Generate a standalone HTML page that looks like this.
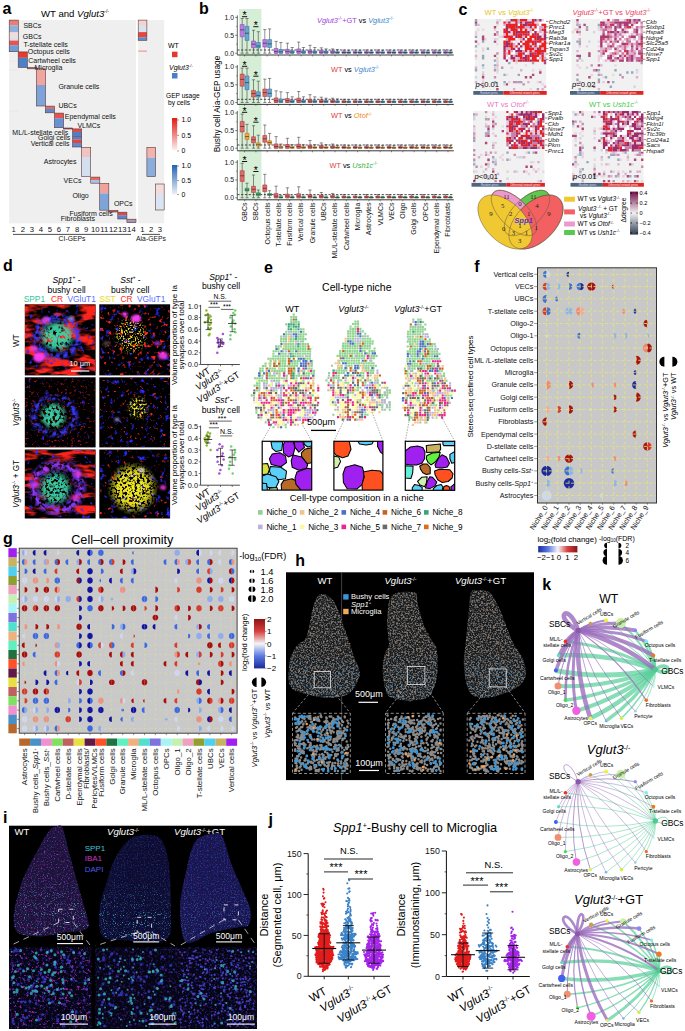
<!DOCTYPE html>
<html><head><meta charset="utf-8"><title>Figure</title>
<style>html,body{margin:0;padding:0;background:#fff;width:685px;height:1031px;overflow:hidden;font-family:"Liberation Sans",sans-serif}svg{display:block}</style>
</head><body>
<svg width="685" height="1031" viewBox="0 0 685 1031" font-family="Liberation Sans, sans-serif"><text x="2.5" y="14.2" font-size="16" font-weight="bold">a</text><text x="41" y="16.6" font-size="9.6">WT and <tspan font-style="italic">Vglut3</tspan><tspan dy="-3.5" font-size="5">-/-</tspan><tspan dy="3.5" font-size="1">&#8203;</tspan></text><rect x="9.2" y="20.1" width="126.7" height="203.3" fill="#efefef" /><rect x="138.2" y="20.1" width="26" height="203.3" fill="#efefef" /><rect x="9.2" y="40" width="9.1" height="3" fill="#f3e6e6" opacity="0.8"/><rect x="9.2" y="47" width="9.1" height="2" fill="#f3e4e4" opacity="0.8"/><rect x="9.2" y="60" width="9.1" height="2" fill="#f2e8e8" opacity="0.8"/><rect x="9.2" y="69" width="9.1" height="2" fill="#f2e6e6" opacity="0.8"/><rect x="9.2" y="110" width="9.1" height="2" fill="#f1e6e6" opacity="0.8"/><rect x="9.2" y="20.1" width="9.1" height="5.3" fill="#ec7d76" /><rect x="9.2" y="25.4" width="9.1" height="7" fill="#8fb0db" /><rect x="9.2" y="32.4" width="9.1" height="5.3" fill="#f1dcdc" /><rect x="9.2" y="37.7" width="9.1" height="2.9" fill="#d5dff0" /><rect x="9.2" y="40.6" width="9.1" height="4.6" fill="#e8534a" /><rect x="9.2" y="45.2" width="9.1" height="6.5" fill="#6f9bd6" /><rect x="18.2" y="51.9" width="9.1" height="5.9" fill="#e8392f" /><rect x="18.2" y="57.8" width="9.1" height="9.6" fill="#4b80c8" /><rect x="27.3" y="67.6" width="9.1" height="1.2" fill="#c06070" /><rect x="36.4" y="68.8" width="9.1" height="16.2" fill="#f0a5a0" /><rect x="36.4" y="85" width="9.1" height="21" fill="#7ea3d9" /><rect x="45.4" y="106.1" width="9.1" height="2.9" fill="#e86a64" /><rect x="45.4" y="109" width="9.1" height="3.8" fill="#5a8bcf" /><rect x="54.5" y="113.1" width="9.1" height="5.1" fill="#e8544c" /><rect x="54.5" y="118.2" width="9.1" height="9.5" fill="#6592d2" /><rect x="63.5" y="128" width="9.1" height="1" fill="#c04050" /><rect x="72.6" y="128.9" width="9.1" height="3.1" fill="#e24a44" /><rect x="72.6" y="132" width="9.1" height="4.3" fill="#4f7fc6" /><rect x="72.6" y="136.3" width="9.1" height="1.3" fill="#2a3a80" /><rect x="72.6" y="137.6" width="9.1" height="1.8" fill="#4f7fc6" /><rect x="72.6" y="139.4" width="9.1" height="3.6" fill="#e2443e" /><rect x="72.6" y="143" width="9.1" height="4" fill="#5c8bcf" /><rect x="81.6" y="147.4" width="9.1" height="9.6" fill="#f1c4c2" /><rect x="81.6" y="157" width="9.1" height="19.6" fill="#d3deef" /><rect x="90.7" y="177.1" width="9.1" height="2.9" fill="#e8675f" /><rect x="90.7" y="180" width="9.1" height="3.2" fill="#a9c2e6" /><rect x="99.7" y="183.5" width="9.1" height="9.9" fill="#f0a29d" /><rect x="99.7" y="193.4" width="9.1" height="16.8" fill="#7fa4da" /><rect x="108.8" y="210.5" width="9.1" height="1.5" fill="#d05060" /><rect x="117.8" y="212.2" width="9.1" height="3" fill="#e6453e" /><rect x="117.8" y="215.2" width="9.1" height="3.8" fill="#5885cc" /><rect x="126.9" y="219.2" width="9.1" height="1.6" fill="#e8736c" /><rect x="126.9" y="220.8" width="9.1" height="1.8" fill="#7a9ed6" /><rect x="9.2" y="20.1" width="9.1" height="31.6" fill="none" stroke="#5a3a3a" stroke-width="0.6"/><rect x="18.2" y="51.9" width="9.1" height="15.5" fill="none" stroke="#5a3a3a" stroke-width="0.6"/><rect x="27.3" y="67.6" width="9.1" height="1.2" fill="none" stroke="#5a3a3a" stroke-width="0.6"/><rect x="36.4" y="68.8" width="9.1" height="37.2" fill="none" stroke="#5a3a3a" stroke-width="0.6"/><rect x="45.4" y="106.1" width="9.1" height="6.7" fill="none" stroke="#5a3a3a" stroke-width="0.6"/><rect x="54.5" y="113.1" width="9.1" height="14.6" fill="none" stroke="#5a3a3a" stroke-width="0.6"/><rect x="63.5" y="128" width="9.1" height="1" fill="none" stroke="#5a3a3a" stroke-width="0.6"/><rect x="72.6" y="128.9" width="9.1" height="18.1" fill="none" stroke="#5a3a3a" stroke-width="0.6"/><rect x="81.6" y="147.4" width="9.1" height="29.2" fill="none" stroke="#5a3a3a" stroke-width="0.6"/><rect x="90.7" y="177.1" width="9.1" height="6.1" fill="none" stroke="#5a3a3a" stroke-width="0.6"/><rect x="99.7" y="183.5" width="9.1" height="26.7" fill="none" stroke="#5a3a3a" stroke-width="0.6"/><rect x="108.8" y="210.5" width="9.1" height="1.5" fill="none" stroke="#5a3a3a" stroke-width="0.6"/><rect x="117.8" y="212.2" width="9.1" height="6.8" fill="none" stroke="#5a3a3a" stroke-width="0.6"/><rect x="126.9" y="219.2" width="9.1" height="3.4" fill="none" stroke="#5a3a3a" stroke-width="0.6"/><rect x="138.2" y="20.1" width="8.7" height="5.6" fill="#f3d3d0" /><rect x="138.2" y="25.7" width="8.7" height="6.4" fill="#d9e2f1" /><rect x="138.2" y="32.1" width="8.7" height="5.3" fill="#e8453d" /><rect x="138.2" y="37.4" width="8.7" height="2.9" fill="#5a8acf" /><rect x="138.2" y="50.6" width="8.7" height="1" fill="#e88a86" /><rect x="146.9" y="147.4" width="8.7" height="10.3" fill="#f2b3ae" /><rect x="146.9" y="157.7" width="8.7" height="18.9" fill="#8aaddc" /><rect x="155.5" y="184" width="8.7" height="10" fill="#f3dcdb" /><rect x="155.5" y="194" width="8.7" height="16" fill="#dbe4f2" /><rect x="138.2" y="20.1" width="8.67" height="20.2" fill="none" stroke="#5a3a3a" stroke-width="0.6"/><rect x="146.9" y="147.4" width="8.67" height="29.2" fill="none" stroke="#5a3a3a" stroke-width="0.6"/><rect x="155.5" y="184" width="8.67" height="26" fill="none" stroke="#5a3a3a" stroke-width="0.6"/><text x="23.4" y="28.2" font-size="7" fill="#111">SBCs</text><text x="22.8" y="38.7" font-size="7" fill="#111">GBCs</text><text x="23.4" y="47.2" font-size="7" fill="#111">T-stellate cells</text><text x="27.7" y="53.9" font-size="7" fill="#111">Octopus cells</text><text x="28.3" y="62.9" font-size="7" fill="#111">Cartwheel cells</text><text x="34.5" y="70.2" font-size="7" fill="#111">Microglia</text><text x="58.4" y="88.6" font-size="7" fill="#111">Granule cells</text><text x="58.4" y="107.6" font-size="7" fill="#111">UBCs</text><text x="64.8" y="118.7" font-size="7" fill="#111">Ependymal cells</text><text x="77.4" y="128" font-size="7" fill="#111">VLMCs</text><text x="12.3" y="134.5" font-size="7" fill="#111">ML/L-stellate cells</text><text x="38" y="139.7" font-size="7" fill="#111">Golgi cells</text><text x="30.7" y="145.5" font-size="7" fill="#111">Vertical cells</text><text x="43.8" y="163.7" font-size="7" fill="#111">Astrocytes</text><text x="63.6" y="182.9" font-size="7" fill="#111">VECs</text><text x="72.4" y="197.5" font-size="7" fill="#111">Oligo</text><text x="113.9" y="206.3" font-size="7" fill="#111">OPCs</text><text x="69.5" y="215.6" font-size="7" fill="#111">Fusiform cells</text><text x="60.7" y="220.9" font-size="7" fill="#111">Fibroblasts</text><text x="168" y="48" font-size="7">WT</text><rect x="172" y="51.7" width="5.5" height="5.5" fill="#e2382f" /><text x="169" y="69.5" font-size="7"><tspan font-style="italic">Vglut3</tspan><tspan dy="-2.5" font-size="4.2">-/-</tspan><tspan dy="2.5" font-size="1">&#8203;</tspan></text><rect x="172" y="73" width="5.5" height="5.5" fill="#4a7fc8" /><text x="166" y="97.5" font-size="6.6">GEP usage</text><text x="168" y="105" font-size="6.6">by cells</text><defs><linearGradient id="gr" x1="0" y1="1" x2="0" y2="0"><stop offset="0" stop-color="#fbeeee"/><stop offset="1" stop-color="#e01c12"/></linearGradient><linearGradient id="gb" x1="0" y1="1" x2="0" y2="0"><stop offset="0" stop-color="#eef2f8"/><stop offset="1" stop-color="#2262b0"/></linearGradient></defs><rect x="172" y="118" width="5.2" height="32" fill="url(#gr)" /><rect x="172" y="165" width="5.2" height="29.5" fill="url(#gb)" /><text x="181.5" y="122.3" font-size="6.9">1.0</text><line x1="177.2" y1="120" x2="179" y2="120" stroke="#333" stroke-width="0.5" /><text x="181.5" y="137.7" font-size="6.9">0.5</text><line x1="177.2" y1="135.4" x2="179" y2="135.4" stroke="#333" stroke-width="0.5" /><text x="181.5" y="153.3" font-size="6.9">0</text><line x1="177.2" y1="151" x2="179" y2="151" stroke="#333" stroke-width="0.5" /><text x="181.5" y="168.3" font-size="6.9">1.0</text><line x1="177.2" y1="166" x2="179" y2="166" stroke="#333" stroke-width="0.5" /><text x="181.5" y="182.8" font-size="6.9">0.5</text><line x1="177.2" y1="180.5" x2="179" y2="180.5" stroke="#333" stroke-width="0.5" /><text x="181.5" y="196.8" font-size="6.9">0</text><line x1="177.2" y1="194.5" x2="179" y2="194.5" stroke="#333" stroke-width="0.5" /><text x="13.7" y="232.2" font-size="7.7" text-anchor="middle" fill="#111">1</text><text x="22.8" y="232.2" font-size="7.7" text-anchor="middle" fill="#111">2</text><text x="31.8" y="232.2" font-size="7.7" text-anchor="middle" fill="#111">3</text><text x="40.9" y="232.2" font-size="7.7" text-anchor="middle" fill="#111">4</text><text x="49.9" y="232.2" font-size="7.7" text-anchor="middle" fill="#111">5</text><text x="59" y="232.2" font-size="7.7" text-anchor="middle" fill="#111">6</text><text x="68" y="232.2" font-size="7.7" text-anchor="middle" fill="#111">7</text><text x="77.1" y="232.2" font-size="7.7" text-anchor="middle" fill="#111">8</text><text x="86.1" y="232.2" font-size="7.7" text-anchor="middle" fill="#111">9</text><text x="95.2" y="232.2" font-size="7.7" text-anchor="middle" fill="#111">10</text><text x="104.2" y="232.2" font-size="7.7" text-anchor="middle" fill="#111">11</text><text x="113.3" y="232.2" font-size="7.7" text-anchor="middle" fill="#111">12</text><text x="122.3" y="232.2" font-size="7.7" text-anchor="middle" fill="#111">13</text><text x="131.4" y="232.2" font-size="7.7" text-anchor="middle" fill="#111">14</text><text x="142.5" y="232.2" font-size="7.7" text-anchor="middle" fill="#111">1</text><text x="151.2" y="232.2" font-size="7.7" text-anchor="middle" fill="#111">2</text><text x="159.8" y="232.2" font-size="7.7" text-anchor="middle" fill="#111">3</text><line x1="13" y1="234.4" x2="131" y2="234.4" stroke="#222" stroke-width="0.8" /><line x1="142" y1="234.4" x2="160" y2="234.4" stroke="#222" stroke-width="0.8" /><text x="72" y="240.5" font-size="6.8" text-anchor="middle" fill="#111">CI-GEPs</text><text x="151" y="240.5" font-size="6.8" text-anchor="middle" fill="#111">Aia-GEPs</text><text x="199" y="14.2" font-size="16" font-weight="bold">b</text><rect x="239" y="9" width="22.4" height="190.5" fill="#d6eed6" /><line x1="237.3" y1="15.4" x2="237.3" y2="55" stroke="#222" stroke-width="0.7" /><line x1="237.3" y1="55" x2="453.8" y2="55" stroke="#222" stroke-width="0.9" /><line x1="235.3" y1="17.4" x2="237.3" y2="17.4" stroke="#222" stroke-width="0.6" /><text x="234" y="19.8" font-size="6.8" text-anchor="end" fill="#111">1.0</text><line x1="235.3" y1="35.3" x2="237.3" y2="35.3" stroke="#222" stroke-width="0.6" /><text x="234" y="37.7" font-size="6.8" text-anchor="end" fill="#111">0.5</text><line x1="235.3" y1="53.2" x2="237.3" y2="53.2" stroke="#222" stroke-width="0.6" /><text x="234" y="55.6" font-size="6.8" text-anchor="end" fill="#111">0.0</text><line x1="236.2" y1="44.2" x2="237.3" y2="44.2" stroke="#222" stroke-width="0.5" /><line x1="236.2" y1="26.4" x2="237.3" y2="26.4" stroke="#222" stroke-width="0.5" /><line x1="244.6" y1="55" x2="244.6" y2="56.5" stroke="#222" stroke-width="0.5" /><line x1="255.9" y1="55" x2="255.9" y2="56.5" stroke="#222" stroke-width="0.5" /><line x1="267.2" y1="55" x2="267.2" y2="56.5" stroke="#222" stroke-width="0.5" /><line x1="278.5" y1="55" x2="278.5" y2="56.5" stroke="#222" stroke-width="0.5" /><line x1="289.8" y1="55" x2="289.8" y2="56.5" stroke="#222" stroke-width="0.5" /><line x1="301.1" y1="55" x2="301.1" y2="56.5" stroke="#222" stroke-width="0.5" /><line x1="312.4" y1="55" x2="312.4" y2="56.5" stroke="#222" stroke-width="0.5" /><line x1="323.7" y1="55" x2="323.7" y2="56.5" stroke="#222" stroke-width="0.5" /><line x1="335" y1="55" x2="335" y2="56.5" stroke="#222" stroke-width="0.5" /><line x1="346.3" y1="55" x2="346.3" y2="56.5" stroke="#222" stroke-width="0.5" /><line x1="357.6" y1="55" x2="357.6" y2="56.5" stroke="#222" stroke-width="0.5" /><line x1="368.9" y1="55" x2="368.9" y2="56.5" stroke="#222" stroke-width="0.5" /><line x1="380.2" y1="55" x2="380.2" y2="56.5" stroke="#222" stroke-width="0.5" /><line x1="391.5" y1="55" x2="391.5" y2="56.5" stroke="#222" stroke-width="0.5" /><line x1="402.8" y1="55" x2="402.8" y2="56.5" stroke="#222" stroke-width="0.5" /><line x1="414.1" y1="55" x2="414.1" y2="56.5" stroke="#222" stroke-width="0.5" /><line x1="425.4" y1="55" x2="425.4" y2="56.5" stroke="#222" stroke-width="0.5" /><line x1="436.7" y1="55" x2="436.7" y2="56.5" stroke="#222" stroke-width="0.5" /><line x1="448" y1="55" x2="448" y2="56.5" stroke="#222" stroke-width="0.5" /><line x1="237.3" y1="50" x2="453.8" y2="50" stroke="#111" stroke-width="0.75" stroke-dasharray="2.2,1.6"/><path stroke="#333" stroke-width="0.55" fill="none" d="M242.2 18.5V53.2m-1.6 0h3.2M240.6 18.5h3.2M247 18.5V53.2m-1.6 0h3.2M245.4 18.5h3.2M253.5 30.3V53.2m-1.6 0h3.2M251.9 30.3h3.2M258.3 31.7V53.2m-1.6 0h3.2M256.7 31.7h3.2M264.8 29.6V53.2m-1.6 0h3.2M263.2 29.6h3.2M269.6 28.9V53.2m-1.6 0h3.2M268 28.9h3.2M276.1 41.4V53.2m-1.6 0h3.2M274.5 41.4h3.2M280.9 42.5V53.2m-1.6 0h3.2M279.3 42.5h3.2M287.4 43.2V53.2m-1.6 0h3.2M285.8 43.2h3.2M292.2 47.5V53.2m-1.6 0h3.2M290.6 47.5h3.2M298.7 42.1V53.2m-1.6 0h3.2M297.1 42.1h3.2M303.5 47.5V53.2m-1.6 0h3.2M301.9 47.5h3.2M310 45.3V53.2m-1.6 0h3.2M308.4 45.3h3.2M314.8 47.5V53.2m-1.6 0h3.2M313.2 47.5h3.2M321.3 47.8V53.2m-1.6 0h3.2M319.7 47.8h3.2M326.1 48.9V53.2m-1.6 0h3.2M324.5 48.9h3.2M332.6 48.9V53.2m-1.6 0h3.2M331 48.9h3.2M337.4 49.6V53.2m-1.6 0h3.2M335.8 49.6h3.2M343.9 50V53.2m-1.6 0h3.2M342.3 50h3.2M348.7 50.3V53.2m-1.6 0h3.2M347.1 50.3h3.2M355.2 50V53.2m-1.6 0h3.2M353.6 50h3.2M360 50.3V53.2m-1.6 0h3.2M358.4 50.3h3.2M366.5 50V53.2m-1.6 0h3.2M364.9 50h3.2M371.3 50.3V53.2m-1.6 0h3.2M369.7 50.3h3.2M377.8 50V53.2m-1.6 0h3.2M376.2 50h3.2M382.6 50.3V53.2m-1.6 0h3.2M381 50.3h3.2M389.1 50V53.2m-1.6 0h3.2M387.5 50h3.2M393.9 50.3V53.2m-1.6 0h3.2M392.3 50.3h3.2M400.4 50V53.2m-1.6 0h3.2M398.8 50h3.2M405.2 50.3V53.2m-1.6 0h3.2M403.6 50.3h3.2M411.7 50V53.2m-1.6 0h3.2M410.1 50h3.2M416.5 50.3V53.2m-1.6 0h3.2M414.9 50.3h3.2M423 50V53.2m-1.6 0h3.2M421.4 50h3.2M427.8 50.3V53.2m-1.6 0h3.2M426.2 50.3h3.2M434.3 50V53.2m-1.6 0h3.2M432.7 50h3.2M439.1 50.3V53.2m-1.6 0h3.2M437.5 50.3h3.2M445.6 50V53.2m-1.6 0h3.2M444 50h3.2M450.4 50.3V53.2m-1.6 0h3.2M448.8 50.3h3.2"/><path fill="#b77fe0" stroke="#7a3fa8" stroke-width="0.5" d="M240.2 24.6h4v12.2h-4zM251.5 41h4v6.8h-4zM262.8 39.6h4v7.5h-4zM274.1 48.5h4v4.7h-4zM285.4 49.3h4v3.9h-4zM296.7 48.9h4v4.3h-4zM308 50h4v3.2h-4zM319.3 50.3h4v2.9h-4zM330.6 50.7h4v2.5h-4zM341.9 51.4h4v1.8h-4zM353.2 51.4h4v1.8h-4zM364.5 51.4h4v1.8h-4zM375.8 51.4h4v1.8h-4zM387.1 51.4h4v1.8h-4zM398.4 51.4h4v1.8h-4zM409.7 51.4h4v1.8h-4zM421 51.4h4v1.8h-4zM432.3 51.4h4v1.8h-4zM443.6 51.4h4v1.8h-4z"/><path fill="#6aa6d2" stroke="#2f6d9a" stroke-width="0.5" d="M245 26.4h4v14h-4zM256.3 42.5h4v5.4h-4zM267.6 39.6h4v7.9h-4zM278.9 49.6h4v3.6h-4zM290.2 50.7h4v2.5h-4zM301.5 50.7h4v2.5h-4zM312.8 51.1h4v2.1h-4zM324.1 51.1h4v2.1h-4zM335.4 51.4h4v1.8h-4zM346.7 51.8h4v1.4h-4zM358 51.8h4v1.4h-4zM369.3 51.8h4v1.4h-4zM380.6 51.8h4v1.4h-4zM391.9 51.8h4v1.4h-4zM403.2 51.8h4v1.4h-4zM414.5 51.8h4v1.4h-4zM425.8 51.8h4v1.4h-4zM437.1 51.8h4v1.4h-4zM448.4 51.8h4v1.4h-4z"/><path stroke="#222" stroke-width="0.6" fill="none" d="M240.2 29.9h4M245 33.2h4M251.5 44.2h4M256.3 46h4M262.8 43.2h4M267.6 43.9h4M274.1 51.4h4M278.9 51.8h4M285.4 51.4h4M290.2 52.1h4M296.7 51.4h4M301.5 52.1h4M308 51.8h4M312.8 52.1h4M319.3 52.1h4M324.1 52.1h4M330.6 52.1h4M335.4 52.5h4M341.9 52.5h4M346.7 52.5h4M353.2 52.5h4M358 52.5h4M364.5 52.5h4M369.3 52.5h4M375.8 52.5h4M380.6 52.5h4M387.1 52.5h4M391.9 52.5h4M398.4 52.5h4M403.2 52.5h4M409.7 52.5h4M414.5 52.5h4M421 52.5h4M425.8 52.5h4M432.3 52.5h4M437.1 52.5h4M443.6 52.5h4M448.4 52.5h4"/><line x1="242" y1="16.7" x2="247.2" y2="16.7" stroke="#111" stroke-width="1.0" /><text x="244.6" y="19.3" font-size="10.5" text-anchor="middle">*</text><line x1="253.3" y1="26.7" x2="258.5" y2="26.7" stroke="#111" stroke-width="1.0" /><text x="255.9" y="29.3" font-size="10.5" text-anchor="middle">*</text><line x1="237.3" y1="65" x2="237.3" y2="104.4" stroke="#222" stroke-width="0.7" /><line x1="237.3" y1="104.4" x2="453.8" y2="104.4" stroke="#222" stroke-width="0.9" /><line x1="235.3" y1="67" x2="237.3" y2="67" stroke="#222" stroke-width="0.6" /><text x="234" y="69.4" font-size="6.8" text-anchor="end" fill="#111">1.0</text><line x1="235.3" y1="84.8" x2="237.3" y2="84.8" stroke="#222" stroke-width="0.6" /><text x="234" y="87.2" font-size="6.8" text-anchor="end" fill="#111">0.5</text><line x1="235.3" y1="102.5" x2="237.3" y2="102.5" stroke="#222" stroke-width="0.6" /><text x="234" y="104.9" font-size="6.8" text-anchor="end" fill="#111">0.0</text><line x1="236.2" y1="93.6" x2="237.3" y2="93.6" stroke="#222" stroke-width="0.5" /><line x1="236.2" y1="75.9" x2="237.3" y2="75.9" stroke="#222" stroke-width="0.5" /><line x1="244.6" y1="104.4" x2="244.6" y2="105.9" stroke="#222" stroke-width="0.5" /><line x1="255.9" y1="104.4" x2="255.9" y2="105.9" stroke="#222" stroke-width="0.5" /><line x1="267.2" y1="104.4" x2="267.2" y2="105.9" stroke="#222" stroke-width="0.5" /><line x1="278.5" y1="104.4" x2="278.5" y2="105.9" stroke="#222" stroke-width="0.5" /><line x1="289.8" y1="104.4" x2="289.8" y2="105.9" stroke="#222" stroke-width="0.5" /><line x1="301.1" y1="104.4" x2="301.1" y2="105.9" stroke="#222" stroke-width="0.5" /><line x1="312.4" y1="104.4" x2="312.4" y2="105.9" stroke="#222" stroke-width="0.5" /><line x1="323.7" y1="104.4" x2="323.7" y2="105.9" stroke="#222" stroke-width="0.5" /><line x1="335" y1="104.4" x2="335" y2="105.9" stroke="#222" stroke-width="0.5" /><line x1="346.3" y1="104.4" x2="346.3" y2="105.9" stroke="#222" stroke-width="0.5" /><line x1="357.6" y1="104.4" x2="357.6" y2="105.9" stroke="#222" stroke-width="0.5" /><line x1="368.9" y1="104.4" x2="368.9" y2="105.9" stroke="#222" stroke-width="0.5" /><line x1="380.2" y1="104.4" x2="380.2" y2="105.9" stroke="#222" stroke-width="0.5" /><line x1="391.5" y1="104.4" x2="391.5" y2="105.9" stroke="#222" stroke-width="0.5" /><line x1="402.8" y1="104.4" x2="402.8" y2="105.9" stroke="#222" stroke-width="0.5" /><line x1="414.1" y1="104.4" x2="414.1" y2="105.9" stroke="#222" stroke-width="0.5" /><line x1="425.4" y1="104.4" x2="425.4" y2="105.9" stroke="#222" stroke-width="0.5" /><line x1="436.7" y1="104.4" x2="436.7" y2="105.9" stroke="#222" stroke-width="0.5" /><line x1="448" y1="104.4" x2="448" y2="105.9" stroke="#222" stroke-width="0.5" /><line x1="237.3" y1="99.3" x2="453.8" y2="99.3" stroke="#111" stroke-width="0.75" stroke-dasharray="2.2,1.6"/><path stroke="#333" stroke-width="0.55" fill="none" d="M242.2 68.1V102.5m-1.6 0h3.2M240.6 68.1h3.2M247 68.1V102.5m-1.6 0h3.2M245.4 68.1h3.2M253.5 79.8V102.5m-1.6 0h3.2M251.9 79.8h3.2M258.3 81.2V102.5m-1.6 0h3.2M256.7 81.2h3.2M264.8 79.1V102.5m-1.6 0h3.2M263.2 79.1h3.2M269.6 78.4V102.5m-1.6 0h3.2M268 78.4h3.2M276.1 90.8V102.5m-1.6 0h3.2M274.5 90.8h3.2M280.9 91.8V102.5m-1.6 0h3.2M279.3 91.8h3.2M287.4 92.6V102.5m-1.6 0h3.2M285.8 92.6h3.2M292.2 96.8V102.5m-1.6 0h3.2M290.6 96.8h3.2M298.7 91.5V102.5m-1.6 0h3.2M297.1 91.5h3.2M303.5 96.8V102.5m-1.6 0h3.2M301.9 96.8h3.2M310 94.7V102.5m-1.6 0h3.2M308.4 94.7h3.2M314.8 96.8V102.5m-1.6 0h3.2M313.2 96.8h3.2M321.3 97.2V102.5m-1.6 0h3.2M319.7 97.2h3.2M326.1 98.2V102.5m-1.6 0h3.2M324.5 98.2h3.2M332.6 98.2V102.5m-1.6 0h3.2M331 98.2h3.2M337.4 99V102.5m-1.6 0h3.2M335.8 99h3.2M343.9 99.3V102.5m-1.6 0h3.2M342.3 99.3h3.2M348.7 99.7V102.5m-1.6 0h3.2M347.1 99.7h3.2M355.2 99.3V102.5m-1.6 0h3.2M353.6 99.3h3.2M360 99.7V102.5m-1.6 0h3.2M358.4 99.7h3.2M366.5 99.3V102.5m-1.6 0h3.2M364.9 99.3h3.2M371.3 99.7V102.5m-1.6 0h3.2M369.7 99.7h3.2M377.8 99.3V102.5m-1.6 0h3.2M376.2 99.3h3.2M382.6 99.7V102.5m-1.6 0h3.2M381 99.7h3.2M389.1 99.3V102.5m-1.6 0h3.2M387.5 99.3h3.2M393.9 99.7V102.5m-1.6 0h3.2M392.3 99.7h3.2M400.4 99.3V102.5m-1.6 0h3.2M398.8 99.3h3.2M405.2 99.7V102.5m-1.6 0h3.2M403.6 99.7h3.2M411.7 99.3V102.5m-1.6 0h3.2M410.1 99.3h3.2M416.5 99.7V102.5m-1.6 0h3.2M414.9 99.7h3.2M423 99.3V102.5m-1.6 0h3.2M421.4 99.3h3.2M427.8 99.7V102.5m-1.6 0h3.2M426.2 99.7h3.2M434.3 99.3V102.5m-1.6 0h3.2M432.7 99.3h3.2M439.1 99.7V102.5m-1.6 0h3.2M437.5 99.7h3.2M445.6 99.3V102.5m-1.6 0h3.2M444 99.3h3.2M450.4 99.7V102.5m-1.6 0h3.2M448.8 99.7h3.2"/><path fill="#e06a6a" stroke="#a03030" stroke-width="0.5" d="M240.2 74.1h4v12.1h-4zM251.5 90.4h4v6.7h-4zM262.8 89h4v7.5h-4zM274.1 97.9h4v4.6h-4zM285.4 98.6h4v3.9h-4zM296.7 98.2h4v4.3h-4zM308 99.3h4v3.2h-4zM319.3 99.7h4v2.8h-4zM330.6 100h4v2.5h-4zM341.9 100.7h4v1.8h-4zM353.2 100.7h4v1.8h-4zM364.5 100.7h4v1.8h-4zM375.8 100.7h4v1.8h-4zM387.1 100.7h4v1.8h-4zM398.4 100.7h4v1.8h-4zM409.7 100.7h4v1.8h-4zM421 100.7h4v1.8h-4zM432.3 100.7h4v1.8h-4zM443.6 100.7h4v1.8h-4z"/><path fill="#6aa6d2" stroke="#2f6d9a" stroke-width="0.5" d="M245 75.9h4v13.8h-4zM256.3 91.8h4v5.3h-4zM267.6 89h4v7.8h-4zM278.9 99h4v3.5h-4zM290.2 100h4v2.5h-4zM301.5 100h4v2.5h-4zM312.8 100.4h4v2.1h-4zM324.1 100.4h4v2.1h-4zM335.4 100.7h4v1.8h-4zM346.7 101.1h4v1.4h-4zM358 101.1h4v1.4h-4zM369.3 101.1h4v1.4h-4zM380.6 101.1h4v1.4h-4zM391.9 101.1h4v1.4h-4zM403.2 101.1h4v1.4h-4zM414.5 101.1h4v1.4h-4zM425.8 101.1h4v1.4h-4zM437.1 101.1h4v1.4h-4zM448.4 101.1h4v1.4h-4z"/><path stroke="#222" stroke-width="0.6" fill="none" d="M240.2 79.4h4M245 82.6h4M251.5 93.6h4M256.3 95.4h4M262.8 92.6h4M267.6 93.3h4M274.1 100.7h4M278.9 101.1h4M285.4 100.7h4M290.2 101.4h4M296.7 100.7h4M301.5 101.4h4M308 101.1h4M312.8 101.4h4M319.3 101.4h4M324.1 101.4h4M330.6 101.4h4M335.4 101.8h4M341.9 101.8h4M346.7 101.8h4M353.2 101.8h4M358 101.8h4M364.5 101.8h4M369.3 101.8h4M375.8 101.8h4M380.6 101.8h4M387.1 101.8h4M391.9 101.8h4M398.4 101.8h4M403.2 101.8h4M409.7 101.8h4M414.5 101.8h4M421 101.8h4M425.8 101.8h4M432.3 101.8h4M437.1 101.8h4M443.6 101.8h4M448.4 101.8h4"/><line x1="242" y1="66.3" x2="247.2" y2="66.3" stroke="#111" stroke-width="1.0" /><text x="244.6" y="68.9" font-size="10.5" text-anchor="middle">*</text><line x1="253.3" y1="76.2" x2="258.5" y2="76.2" stroke="#111" stroke-width="1.0" /><text x="255.9" y="78.8" font-size="10.5" text-anchor="middle">*</text><line x1="237.3" y1="111" x2="237.3" y2="150.8" stroke="#222" stroke-width="0.7" /><line x1="237.3" y1="150.8" x2="453.8" y2="150.8" stroke="#222" stroke-width="0.9" /><line x1="235.3" y1="113" x2="237.3" y2="113" stroke="#222" stroke-width="0.6" /><text x="234" y="115.4" font-size="6.8" text-anchor="end" fill="#111">1.0</text><line x1="235.3" y1="130.6" x2="237.3" y2="130.6" stroke="#222" stroke-width="0.6" /><text x="234" y="133" font-size="6.8" text-anchor="end" fill="#111">0.5</text><line x1="235.3" y1="148.2" x2="237.3" y2="148.2" stroke="#222" stroke-width="0.6" /><text x="234" y="150.6" font-size="6.8" text-anchor="end" fill="#111">0.0</text><line x1="236.2" y1="139.4" x2="237.3" y2="139.4" stroke="#222" stroke-width="0.5" /><line x1="236.2" y1="121.8" x2="237.3" y2="121.8" stroke="#222" stroke-width="0.5" /><line x1="244.6" y1="150.8" x2="244.6" y2="152.3" stroke="#222" stroke-width="0.5" /><line x1="255.9" y1="150.8" x2="255.9" y2="152.3" stroke="#222" stroke-width="0.5" /><line x1="267.2" y1="150.8" x2="267.2" y2="152.3" stroke="#222" stroke-width="0.5" /><line x1="278.5" y1="150.8" x2="278.5" y2="152.3" stroke="#222" stroke-width="0.5" /><line x1="289.8" y1="150.8" x2="289.8" y2="152.3" stroke="#222" stroke-width="0.5" /><line x1="301.1" y1="150.8" x2="301.1" y2="152.3" stroke="#222" stroke-width="0.5" /><line x1="312.4" y1="150.8" x2="312.4" y2="152.3" stroke="#222" stroke-width="0.5" /><line x1="323.7" y1="150.8" x2="323.7" y2="152.3" stroke="#222" stroke-width="0.5" /><line x1="335" y1="150.8" x2="335" y2="152.3" stroke="#222" stroke-width="0.5" /><line x1="346.3" y1="150.8" x2="346.3" y2="152.3" stroke="#222" stroke-width="0.5" /><line x1="357.6" y1="150.8" x2="357.6" y2="152.3" stroke="#222" stroke-width="0.5" /><line x1="368.9" y1="150.8" x2="368.9" y2="152.3" stroke="#222" stroke-width="0.5" /><line x1="380.2" y1="150.8" x2="380.2" y2="152.3" stroke="#222" stroke-width="0.5" /><line x1="391.5" y1="150.8" x2="391.5" y2="152.3" stroke="#222" stroke-width="0.5" /><line x1="402.8" y1="150.8" x2="402.8" y2="152.3" stroke="#222" stroke-width="0.5" /><line x1="414.1" y1="150.8" x2="414.1" y2="152.3" stroke="#222" stroke-width="0.5" /><line x1="425.4" y1="150.8" x2="425.4" y2="152.3" stroke="#222" stroke-width="0.5" /><line x1="436.7" y1="150.8" x2="436.7" y2="152.3" stroke="#222" stroke-width="0.5" /><line x1="448" y1="150.8" x2="448" y2="152.3" stroke="#222" stroke-width="0.5" /><line x1="237.3" y1="145" x2="453.8" y2="145" stroke="#111" stroke-width="0.75" stroke-dasharray="2.2,1.6"/><path stroke="#333" stroke-width="0.55" fill="none" d="M242.2 114.1V148.2m-1.6 0h3.2M240.6 114.1h3.2M247 124.3V148.2m-1.6 0h3.2M245.4 124.3h3.2M253.5 125.7V148.2m-1.6 0h3.2M251.9 125.7h3.2M258.3 135.2V148.2m-1.6 0h3.2M256.7 135.2h3.2M264.8 125V148.2m-1.6 0h3.2M263.2 125h3.2M269.6 133.4V148.2m-1.6 0h3.2M268 133.4h3.2M276.1 136.6V148.2m-1.6 0h3.2M274.5 136.6h3.2M280.9 144V148.2m-1.6 0h3.2M279.3 144h3.2M287.4 138.3V148.2m-1.6 0h3.2M285.8 138.3h3.2M292.2 144.7V148.2m-1.6 0h3.2M290.6 144.7h3.2M298.7 137.3V148.2m-1.6 0h3.2M297.1 137.3h3.2M303.5 144.7V148.2m-1.6 0h3.2M301.9 144.7h3.2M310 140.5V148.2m-1.6 0h3.2M308.4 140.5h3.2M314.8 144.7V148.2m-1.6 0h3.2M313.2 144.7h3.2M321.3 142.9V148.2m-1.6 0h3.2M319.7 142.9h3.2M326.1 144.7V148.2m-1.6 0h3.2M324.5 144.7h3.2M332.6 144V148.2m-1.6 0h3.2M331 144h3.2M337.4 145.4V148.2m-1.6 0h3.2M335.8 145.4h3.2M343.9 145V148.2m-1.6 0h3.2M342.3 145h3.2M348.7 145.7V148.2m-1.6 0h3.2M347.1 145.7h3.2M355.2 145V148.2m-1.6 0h3.2M353.6 145h3.2M360 145.7V148.2m-1.6 0h3.2M358.4 145.7h3.2M366.5 145V148.2m-1.6 0h3.2M364.9 145h3.2M371.3 145.7V148.2m-1.6 0h3.2M369.7 145.7h3.2M377.8 145V148.2m-1.6 0h3.2M376.2 145h3.2M382.6 145.7V148.2m-1.6 0h3.2M381 145.7h3.2M389.1 145V148.2m-1.6 0h3.2M387.5 145h3.2M393.9 145.7V148.2m-1.6 0h3.2M392.3 145.7h3.2M400.4 145V148.2m-1.6 0h3.2M398.8 145h3.2M405.2 145.7V148.2m-1.6 0h3.2M403.6 145.7h3.2M411.7 145V148.2m-1.6 0h3.2M410.1 145h3.2M416.5 145.7V148.2m-1.6 0h3.2M414.9 145.7h3.2M423 145V148.2m-1.6 0h3.2M421.4 145h3.2M427.8 145.7V148.2m-1.6 0h3.2M426.2 145.7h3.2M434.3 145V148.2m-1.6 0h3.2M432.7 145h3.2M439.1 145.7V148.2m-1.6 0h3.2M437.5 145.7h3.2M445.6 145V148.2m-1.6 0h3.2M444 145h3.2M450.4 145.7V148.2m-1.6 0h3.2M448.8 145.7h3.2"/><path fill="#e06a6a" stroke="#a03030" stroke-width="0.5" d="M240.2 121.4h4v10.6h-4zM251.5 136.8h4v6.1h-4zM262.8 135.5h4v6.7h-4zM274.1 143.9h4v4.3h-4zM285.4 144.5h4v3.7h-4zM296.7 144.2h4v4h-4zM308 145.2h4v3h-4zM319.3 145.5h4v2.7h-4zM330.6 145.9h4v2.3h-4zM341.9 146.5h4v1.7h-4zM353.2 146.5h4v1.7h-4zM364.5 146.5h4v1.7h-4zM375.8 146.5h4v1.7h-4zM387.1 146.5h4v1.7h-4zM398.4 146.5h4v1.7h-4zM409.7 146.5h4v1.7h-4zM421 146.5h4v1.7h-4zM432.3 146.5h4v1.7h-4zM443.6 146.5h4v1.7h-4z"/><path fill="#f0a848" stroke="#b06a10" stroke-width="0.5" d="M245 133.4h4v6h-4zM256.3 142.9h4v3.2h-4zM267.6 140.8h4v3.5h-4zM278.9 146.4h4v1.8h-4zM290.2 146.4h4v1.8h-4zM301.5 146.4h4v1.8h-4zM312.8 146.8h4v1.4h-4zM324.1 146.8h4v1.4h-4zM335.4 146.8h4v1.4h-4zM346.7 147.1h4v1.1h-4zM358 147.1h4v1.1h-4zM369.3 147.1h4v1.1h-4zM380.6 147.1h4v1.1h-4zM391.9 147.1h4v1.1h-4zM403.2 147.1h4v1.1h-4zM414.5 147.1h4v1.1h-4zM425.8 147.1h4v1.1h-4zM437.1 147.1h4v1.1h-4zM448.4 147.1h4v1.1h-4z"/><path stroke="#222" stroke-width="0.6" fill="none" d="M240.2 126.5h4M245 136.6h4M251.5 139.8h4M256.3 144.7h4M262.8 138.8h4M267.6 142.6h4M274.1 146.5h4M278.9 147.1h4M285.4 146.5h4M290.2 147.5h4M296.7 146.5h4M301.5 147.5h4M308 146.9h4M312.8 147.5h4M319.3 147.2h4M324.1 147.5h4M330.6 147.2h4M335.4 147.5h4M341.9 147.5h4M346.7 147.8h4M353.2 147.5h4M358 147.8h4M364.5 147.5h4M369.3 147.8h4M375.8 147.5h4M380.6 147.8h4M387.1 147.5h4M391.9 147.8h4M398.4 147.5h4M403.2 147.8h4M409.7 147.5h4M414.5 147.8h4M421 147.5h4M425.8 147.8h4M432.3 147.5h4M437.1 147.8h4M443.6 147.5h4M448.4 147.8h4"/><line x1="242" y1="112.3" x2="247.2" y2="112.3" stroke="#111" stroke-width="1.0" /><text x="244.6" y="114.9" font-size="10.5" text-anchor="middle">*</text><line x1="253.3" y1="122.2" x2="258.5" y2="122.2" stroke="#111" stroke-width="1.0" /><text x="255.9" y="124.8" font-size="10.5" text-anchor="middle">*</text><line x1="237.3" y1="160.2" x2="237.3" y2="199.8" stroke="#222" stroke-width="0.7" /><line x1="237.3" y1="199.8" x2="453.8" y2="199.8" stroke="#222" stroke-width="0.9" /><line x1="235.3" y1="162.2" x2="237.3" y2="162.2" stroke="#222" stroke-width="0.6" /><text x="234" y="164.6" font-size="6.8" text-anchor="end" fill="#111">1.0</text><line x1="235.3" y1="180" x2="237.3" y2="180" stroke="#222" stroke-width="0.6" /><text x="234" y="182.4" font-size="6.8" text-anchor="end" fill="#111">0.5</text><line x1="235.3" y1="197.8" x2="237.3" y2="197.8" stroke="#222" stroke-width="0.6" /><text x="234" y="200.2" font-size="6.8" text-anchor="end" fill="#111">0.0</text><line x1="236.2" y1="188.9" x2="237.3" y2="188.9" stroke="#222" stroke-width="0.5" /><line x1="236.2" y1="171.1" x2="237.3" y2="171.1" stroke="#222" stroke-width="0.5" /><line x1="244.6" y1="199.8" x2="244.6" y2="201.3" stroke="#222" stroke-width="0.5" /><line x1="255.9" y1="199.8" x2="255.9" y2="201.3" stroke="#222" stroke-width="0.5" /><line x1="267.2" y1="199.8" x2="267.2" y2="201.3" stroke="#222" stroke-width="0.5" /><line x1="278.5" y1="199.8" x2="278.5" y2="201.3" stroke="#222" stroke-width="0.5" /><line x1="289.8" y1="199.8" x2="289.8" y2="201.3" stroke="#222" stroke-width="0.5" /><line x1="301.1" y1="199.8" x2="301.1" y2="201.3" stroke="#222" stroke-width="0.5" /><line x1="312.4" y1="199.8" x2="312.4" y2="201.3" stroke="#222" stroke-width="0.5" /><line x1="323.7" y1="199.8" x2="323.7" y2="201.3" stroke="#222" stroke-width="0.5" /><line x1="335" y1="199.8" x2="335" y2="201.3" stroke="#222" stroke-width="0.5" /><line x1="346.3" y1="199.8" x2="346.3" y2="201.3" stroke="#222" stroke-width="0.5" /><line x1="357.6" y1="199.8" x2="357.6" y2="201.3" stroke="#222" stroke-width="0.5" /><line x1="368.9" y1="199.8" x2="368.9" y2="201.3" stroke="#222" stroke-width="0.5" /><line x1="380.2" y1="199.8" x2="380.2" y2="201.3" stroke="#222" stroke-width="0.5" /><line x1="391.5" y1="199.8" x2="391.5" y2="201.3" stroke="#222" stroke-width="0.5" /><line x1="402.8" y1="199.8" x2="402.8" y2="201.3" stroke="#222" stroke-width="0.5" /><line x1="414.1" y1="199.8" x2="414.1" y2="201.3" stroke="#222" stroke-width="0.5" /><line x1="425.4" y1="199.8" x2="425.4" y2="201.3" stroke="#222" stroke-width="0.5" /><line x1="436.7" y1="199.8" x2="436.7" y2="201.3" stroke="#222" stroke-width="0.5" /><line x1="448" y1="199.8" x2="448" y2="201.3" stroke="#222" stroke-width="0.5" /><line x1="237.3" y1="194.6" x2="453.8" y2="194.6" stroke="#111" stroke-width="0.75" stroke-dasharray="2.2,1.6"/><path stroke="#333" stroke-width="0.55" fill="none" d="M242.2 163.3V197.8m-1.6 0h3.2M240.6 163.3h3.2M247 183.2V197.8m-1.6 0h3.2M245.4 183.2h3.2M253.5 175V197.8m-1.6 0h3.2M251.9 175h3.2M258.3 190V197.8m-1.6 0h3.2M256.7 190h3.2M264.8 174.3V197.8m-1.6 0h3.2M263.2 174.3h3.2M269.6 190.7V197.8m-1.6 0h3.2M268 190.7h3.2M276.1 186.1V197.8m-1.6 0h3.2M274.5 186.1h3.2M280.9 195.7V197.8m-1.6 0h3.2M279.3 195.7h3.2M287.4 187.8V197.8m-1.6 0h3.2M285.8 187.8h3.2M292.2 196V197.8m-1.6 0h3.2M290.6 196h3.2M298.7 186.8V197.8m-1.6 0h3.2M297.1 186.8h3.2M303.5 196V197.8m-1.6 0h3.2M301.9 196h3.2M310 190V197.8m-1.6 0h3.2M308.4 190h3.2M314.8 196V197.8m-1.6 0h3.2M313.2 196h3.2M321.3 192.5V197.8m-1.6 0h3.2M319.7 192.5h3.2M326.1 196V197.8m-1.6 0h3.2M324.5 196h3.2M332.6 193.5V197.8m-1.6 0h3.2M331 193.5h3.2M337.4 196V197.8m-1.6 0h3.2M335.8 196h3.2M343.9 194.6V197.8m-1.6 0h3.2M342.3 194.6h3.2M348.7 196.4V197.8m-1.6 0h3.2M347.1 196.4h3.2M355.2 194.6V197.8m-1.6 0h3.2M353.6 194.6h3.2M360 196.4V197.8m-1.6 0h3.2M358.4 196.4h3.2M366.5 194.6V197.8m-1.6 0h3.2M364.9 194.6h3.2M371.3 196.4V197.8m-1.6 0h3.2M369.7 196.4h3.2M377.8 194.6V197.8m-1.6 0h3.2M376.2 194.6h3.2M382.6 196.4V197.8m-1.6 0h3.2M381 196.4h3.2M389.1 194.6V197.8m-1.6 0h3.2M387.5 194.6h3.2M393.9 196.4V197.8m-1.6 0h3.2M392.3 196.4h3.2M400.4 194.6V197.8m-1.6 0h3.2M398.8 194.6h3.2M405.2 196.4V197.8m-1.6 0h3.2M403.6 196.4h3.2M411.7 194.6V197.8m-1.6 0h3.2M410.1 194.6h3.2M416.5 196.4V197.8m-1.6 0h3.2M414.9 196.4h3.2M423 194.6V197.8m-1.6 0h3.2M421.4 194.6h3.2M427.8 196.4V197.8m-1.6 0h3.2M426.2 196.4h3.2M434.3 194.6V197.8m-1.6 0h3.2M432.7 194.6h3.2M439.1 196.4V197.8m-1.6 0h3.2M437.5 196.4h3.2M445.6 194.6V197.8m-1.6 0h3.2M444 194.6h3.2M450.4 196.4V197.8m-1.6 0h3.2M448.8 196.4h3.2"/><path fill="#e06a6a" stroke="#a03030" stroke-width="0.5" d="M240.2 170.7h4v10.7h-4zM251.5 186.3h4v6.2h-4zM262.8 184.9h4v6.8h-4zM274.1 193.4h4v4.4h-4zM285.4 194.1h4v3.7h-4zM296.7 193.7h4v4.1h-4zM308 194.8h4v3h-4zM319.3 195.1h4v2.7h-4zM330.6 195.4h4v2.4h-4zM341.9 196.1h4v1.7h-4zM353.2 196.1h4v1.7h-4zM364.5 196.1h4v1.7h-4zM375.8 196.1h4v1.7h-4zM387.1 196.1h4v1.7h-4zM398.4 196.1h4v1.7h-4zM409.7 196.1h4v1.7h-4zM421 196.1h4v1.7h-4zM432.3 196.1h4v1.7h-4zM443.6 196.1h4v1.7h-4z"/><path fill="#4fb878" stroke="#217a45" stroke-width="0.5" d="M245 188.2h4v2.8h-4zM256.3 192.8h4v2.8h-4zM267.6 193.5h4v2.1h-4zM278.9 196.7h4v1.1h-4zM290.2 196.7h4v1.1h-4zM301.5 196.7h4v1.1h-4zM312.8 197.1h4v0.8h-4zM324.1 197.1h4v0.8h-4zM335.4 197.1h4v0.8h-4zM346.7 197.1h4v0.8h-4zM358 197.1h4v0.8h-4zM369.3 197.1h4v0.8h-4zM380.6 197.1h4v0.8h-4zM391.9 197.1h4v0.8h-4zM403.2 197.1h4v0.8h-4zM414.5 197.1h4v0.8h-4zM425.8 197.1h4v0.8h-4zM437.1 197.1h4v0.8h-4zM448.4 197.1h4v0.8h-4z"/><path stroke="#222" stroke-width="0.6" fill="none" d="M240.2 175.8h4M245 190h4M251.5 189.3h4M256.3 194.2h4M262.8 188.3h4M267.6 194.6h4M274.1 196.1h4M278.9 197.4h4M285.4 196.1h4M290.2 197.4h4M296.7 196.1h4M301.5 197.4h4M308 196.4h4M312.8 197.4h4M319.3 196.8h4M324.1 197.4h4M330.6 196.8h4M335.4 197.4h4M341.9 197.1h4M346.7 197.4h4M353.2 197.1h4M358 197.4h4M364.5 197.1h4M369.3 197.4h4M375.8 197.1h4M380.6 197.4h4M387.1 197.1h4M391.9 197.4h4M398.4 197.1h4M403.2 197.4h4M409.7 197.1h4M414.5 197.4h4M421 197.1h4M425.8 197.4h4M432.3 197.1h4M437.1 197.4h4M443.6 197.1h4M448.4 197.4h4"/><line x1="242" y1="161.5" x2="247.2" y2="161.5" stroke="#111" stroke-width="1.0" /><text x="244.6" y="164.1" font-size="10.5" text-anchor="middle">*</text><line x1="253.3" y1="171.5" x2="258.5" y2="171.5" stroke="#111" stroke-width="1.0" /><text x="255.9" y="174.1" font-size="10.5" text-anchor="middle">*</text><text x="317" y="22.5" font-size="7.4" fill="#a040e0"><tspan font-style="italic">Vglut3</tspan><tspan dy="-2.8" font-size="4.5">-/-</tspan><tspan dy="2.8" font-size="1">&#8203;</tspan>+GT<tspan fill="#000"> vs </tspan><tspan fill="#3a86c8"><tspan font-style="italic">Vglut3</tspan><tspan dy="-2.8" font-size="4.5">-/-</tspan><tspan dy="2.8" font-size="1">&#8203;</tspan></tspan></text><text x="331" y="71.8" font-size="7.4" fill="#e03a3a">WT<tspan fill="#000"> vs </tspan><tspan fill="#3a86c8"><tspan font-style="italic">Vglut3</tspan><tspan dy="-2.8" font-size="4.5">-/-</tspan><tspan dy="2.8" font-size="1">&#8203;</tspan></tspan></text><text x="331" y="118.4" font-size="7.4" fill="#e03a3a">WT<tspan fill="#000"> vs </tspan><tspan fill="#f08a20"><tspan font-style="italic">Otof</tspan><tspan dy="-2.8" font-size="4.5">-/-</tspan><tspan dy="2.8" font-size="1">&#8203;</tspan></tspan></text><text x="329.5" y="168" font-size="7.4" fill="#e03a3a">WT<tspan fill="#000"> vs </tspan><tspan fill="#30b040"><tspan font-style="italic">Ush1c</tspan><tspan dy="-2.8" font-size="4.5">-/-</tspan><tspan dy="2.8" font-size="1">&#8203;</tspan></tspan></text><text x="219.5" y="104" font-size="8.3" text-anchor="middle" transform="rotate(-90 219.5 104)">Bushy cell Aia-GEP usage</text><text x="246.9" y="202.5" font-size="7" text-anchor="end" fill="#111" transform="rotate(-90 246.9 202.5)">GBCs</text><text x="258.2" y="202.5" font-size="7" text-anchor="end" fill="#111" transform="rotate(-90 258.2 202.5)">SBCs</text><text x="269.5" y="202.5" font-size="7" text-anchor="end" fill="#111" transform="rotate(-90 269.5 202.5)">Octopus cells</text><text x="280.8" y="202.5" font-size="7" text-anchor="end" fill="#111" transform="rotate(-90 280.8 202.5)">T-stellate cells</text><text x="292.1" y="202.5" font-size="7" text-anchor="end" fill="#111" transform="rotate(-90 292.1 202.5)">Fusiform cells</text><text x="303.4" y="202.5" font-size="7" text-anchor="end" fill="#111" transform="rotate(-90 303.4 202.5)">Vertical cells</text><text x="314.7" y="202.5" font-size="7" text-anchor="end" fill="#111" transform="rotate(-90 314.7 202.5)">Granule cells</text><text x="326" y="202.5" font-size="7" text-anchor="end" fill="#111" transform="rotate(-90 326 202.5)">UBCs</text><text x="337.3" y="202.5" font-size="7" text-anchor="end" fill="#111" transform="rotate(-90 337.3 202.5)">ML/L-stellate cells</text><text x="348.6" y="202.5" font-size="7" text-anchor="end" fill="#111" transform="rotate(-90 348.6 202.5)">Cartwheel cells</text><text x="359.9" y="202.5" font-size="7" text-anchor="end" fill="#111" transform="rotate(-90 359.9 202.5)">Microglia</text><text x="371.2" y="202.5" font-size="7" text-anchor="end" fill="#111" transform="rotate(-90 371.2 202.5)">Astrocytes</text><text x="382.5" y="202.5" font-size="7" text-anchor="end" fill="#111" transform="rotate(-90 382.5 202.5)">VLMCs</text><text x="393.8" y="202.5" font-size="7" text-anchor="end" fill="#111" transform="rotate(-90 393.8 202.5)">VECs</text><text x="405.1" y="202.5" font-size="7" text-anchor="end" fill="#111" transform="rotate(-90 405.1 202.5)">Oligo</text><text x="416.4" y="202.5" font-size="7" text-anchor="end" fill="#111" transform="rotate(-90 416.4 202.5)">Golgi cells</text><text x="427.7" y="202.5" font-size="7" text-anchor="end" fill="#111" transform="rotate(-90 427.7 202.5)">OPCs</text><text x="439" y="202.5" font-size="7" text-anchor="end" fill="#111" transform="rotate(-90 439 202.5)">Ependymal cells</text><text x="450.3" y="202.5" font-size="7" text-anchor="end" fill="#111" transform="rotate(-90 450.3 202.5)">Fibroblasts</text><text x="458.5" y="15.2" font-size="16" font-weight="bold">c</text><rect x="474.8" y="19" width="71.4" height="71.4" fill="#f1f1f1" /><path stroke="#98a8c0" stroke-width="2.4" fill="none" d="M474.8 20.2h2.4m-2.4 4.7h2.4m-2.4 11.9h2.4m4.7 4.8h2.4m-9.5 4.8h2.4m9.5 2.4h2.4m-7.2 7.1h2.4m-2.4 2.4h2.4m9.5 2.3h2.4m11.9 2.4h2.4m-28.6 2.4h2.4m9.5 0h2.4m-21.4 4.8h2.4m26.2 4.7h2.4m11.8 0h2.4m-26.2 7.2h2.4m7.2 0h2.4m11.8 0h2.4m16.7 7.1h2.4"/><path stroke="#e8d8e0" stroke-width="2.4" fill="none" d="M496.2 20.2h2.4m-2.4 4.7h2.4m-21.4 4.8h2.4m2.3 0h2.4m14.3 7.1h2.4m-4.8 7.2h2.4m-23.8 7.1h2.4m4.7 0h2.4m-9.5 7.2h2.4m38.1 4.7h2.4m7.1 2.4h2.4m-16.7 2.4h2.4m19 2.4h2.4m-38.1 2.3h2.4m7.1 2.4h2.4m-26.2 4.8h2.4m52.4 2.4h2.4m-57.2 2.3h2.4m57.1 0h2.4m-14.3 4.8h2.4"/><path stroke="#ecd0de" stroke-width="2.4" fill="none" d="M498.6 20.2h2.4m-7.2 9.5h2.4m-21.4 2.4h2.4m-2.4 2.4h2.4m7.1 4.7h2.4m9.5 0h2.4m-21.4 4.8h2.4m2.3 4.8h2.4m11.9 9.5h2.4m-2.4 4.7h2.4m-2.4 4.8h2.4m40.5 2.4h2.4m-59.6 11.9h2.4m23.8 0h2.4"/><path stroke="#ffffff" stroke-width="2.4" fill="none" d="M503.4 20.2h2.4m38 0h2.4m-7.1 2.4h2.4m-0.1 0h2.4m0 0h2.4m-28.6 2.3h2.4m19.1 0h2.4m-38.1 2.4h2.4m30.9 0h2.4m-4.8 2.4h2.4m0 0h2.4m-7.2 2.4h2.4m-4.8 2.4h2.4m7.2 0h2.4m-14.3 2.3h2.4m-26.2 2.4h2.4m9.5 0h2.4m7.1 0h2.4m-14.3 2.4h2.4m2.3 0h2.4m2.4 0h2.4m-9.5 2.4h2.4m2.3 0h2.4m14.3 0h2.4m-21.5 2.4h2.4m-4.7 2.4h2.4m4.7 0h2.4m-11.9 2.3h2.4m-4.8 2.4h2.4m0 0h2.4m9.5 0h2.4m-19.1 2.4h2.4m-4.8 2.4h2.4m28.6 0h2.4m-35.7 2.3h2.4m2.3 0h2.4m28.6 0h2.4"/><path stroke="#ecd4e4" stroke-width="2.4" fill="none" d="M505.7 20.2h2.4m0 0h2.4m16.7 0h2.4m-0.1 0h2.4m9.5 0h2.4m-33.3 2.4h2.4m0 0h2.4m19 0h2.4m0 0h2.4m-7.2 4.7h2.4m-26.2 2.4h2.4m7.1 0h2.4m2.4 0h2.4m2.4 0h2.4m-19.1 2.4h2.4m16.6 0h2.4m4.8 0h2.4m2.3 0h2.4m-35.7 2.4h2.4m0 0h2.4m28.5 0h2.4m-30.9 2.3h2.4m26.1 0h2.4m-26.2 2.4h2.4m11.9 0h2.4m-23.8 2.4h2.4m2.4 0h2.4m23.7 0h2.4m-14.3 2.4h2.4m7.2 0h2.4m-19.1 2.4h2.4m7.1 0h2.4m2.4 0h2.4m-19.1 2.4h2.4m-16.7 2.3h2.4m19.1 0h2.4m-2.4 2.4h2.4m14.2 0h2.4m-40.5 2.4h2.4m14.3 0h2.4m14.3 0h2.4m2.3 0h2.4m-38.1 2.4h2.4m4.8 0h2.4m11.8 0h2.4m-21.4 2.3h2.4"/><path stroke="#a02c6c" stroke-width="2.4" fill="none" d="M510.5 20.2h2.4m21.4 0h2.4m2.4 0h2.4m-33.4 2.4h2.4m9.5 0h2.4m2.4 0h2.4m0 0h2.4m-0.1 0h2.4m-9.5 2.3h2.4m0 0h2.4m-21.5 2.4h2.4m7.2 0h2.4m11.8 0h2.4m-26.2 2.4h2.4m35.7 0h2.4m-38.1 2.4h2.4m4.8 0h2.4m-0.1 0h2.4m7.2 0h2.4m4.7 0h2.4m-21.4 2.4h2.4m2.3 0h2.4m2.4 0h2.4m7.1 0h2.4m7.1 0h2.4m-30.9 2.3h2.4m19 0h2.4m0 0h2.4m2.3 0h2.4m-23.8 2.4h2.4m11.9 0h2.4m4.7 0h2.4m-40.5 2.4h2.4m26.2 0h2.4m-31 2.4h2.4m0 0h2.4m7.1 0h2.4m14.3 0h2.4m-33.3 2.4h2.4m-0.1 0h2.4m11.9 0h2.4m7.1 0h2.4m-28.5 2.4h2.4m7.1 0h2.4m2.3 0h2.4m16.7 0h2.4m-23.8 2.3h2.4m-0.1 0h2.4m0 0h2.4m-19 2.4h2.4m16.6 0h2.4m4.7 0h2.4m2.4 0h2.4m4.7 0h2.4m-33.3 2.4h2.4m2.4 0h2.4m7.1 0h2.4m2.3 0h2.4m-28.5 2.4h2.4m4.7 0h2.4m0 0h2.4m7.1 0h2.4m0 0h2.4m-21.5 2.3h2.4m11.9 0h2.4m2.4 0h2.4m2.3 0h2.4m11.9 0h2.4"/><path stroke="#e82222" stroke-width="2.4" fill="none" d="M512.9 20.2h2.4m0 0h2.4m2.3 0h2.4m0 0h2.4m0 0h2.4m4.7 0h2.4m-30.9 2.4h2.4m9.5 0h2.4m14.2 0h2.4m-28.6 2.3h2.4m0 0h2.4m0 0h2.4m0 0h2.4m0 0h2.4m2.3 0h2.4m4.8 0h2.4m-0.1 0h2.4m0 0h2.4m0 0h2.4m4.7 0h2.4m0 0h2.4m-38.1 2.4h2.4m0 0h2.4m0 0h2.4m2.3 0h2.4m0 0h2.4m0 0h2.4m9.5 0h2.4m7.1 0h2.4m-42.8 2.4h2.4m4.7 0h2.4m0 0h2.4m0 0h2.4m2.3 0h2.4m2.4 0h2.4m4.7 0h2.4m7.1 0h2.4m-40.4 2.4h2.4m-0.1 0h2.4m4.8 0h2.4m4.7 0h2.4m0 0h2.4m0 0h2.4m16.6 0h2.4m-40.5 2.4h2.4m4.8 0h2.4m2.3 0h2.4m2.4 0h2.4m2.4 0h2.4m2.3 0h2.4m2.4 0h2.4m-35.7 2.3h2.4m-0.1 0h2.4m0 0h2.4m0 0h2.4m4.7 0h2.4m0 0h2.4m2.4 0h2.4m2.3 0h2.4m0 0h2.4m0 0h2.4m-28.6 2.4h2.4m0 0h2.4m0 0h2.4m11.9 0h2.4m-0.1 0h2.4m2.4 0h2.4m2.4 0h2.4m-0.1 0h2.4m-40.4 2.4h2.4m2.3 0h2.4m9.5 0h2.4m2.4 0h2.4m0 0h2.4m-0.1 0h2.4m0 0h2.4m2.4 0h2.4m0 0h2.4m2.3 0h2.4m-42.8 2.4h2.4m4.7 0h2.4m9.5 0h2.4m0 0h2.4m0 0h2.4m2.3 0h2.4m7.1 0h2.4m0 0h2.4m-38.1 2.4h2.4m0 0h2.4m2.4 0h2.4m7.1 0h2.4m0 0h2.4m4.7 0h2.4m2.4 0h2.4m-0.1 0h2.4m0 0h2.4m-35.7 2.4h2.4m11.9 0h2.4m0 0h2.4m-0.1 0h2.4m0 0h2.4m4.8 0h2.4m2.3 0h2.4m-42.8 2.3h2.4m2.3 0h2.4m14.3 0h2.4m2.3 0h2.4m2.4 0h2.4m0 0h2.4m0 0h2.4m-0.1 0h2.4m0 0h2.4m-38.1 2.4h2.4m7.1 0h2.4m0 0h2.4m9.5 0h2.4m2.4 0h2.4m0 0h2.4m-38.1 2.4h2.4m11.8 0h2.4m0 0h2.4m4.8 0h2.4m2.3 0h2.4m0 0h2.4m0 0h2.4m2.3 0h2.4m-23.8 2.4h2.4m4.8 0h2.4m2.3 0h2.4m0 0h2.4m4.7 0h2.4m-30.9 2.3h2.4m2.3 0h2.4m2.4 0h2.4m2.4 0h2.4m2.3 0h2.4m0 0h2.4m0 0h2.4m2.3 0h2.4"/><path stroke="#d8a8c8" stroke-width="2.4" fill="none" d="M517.6 20.2h2.4m16.7 0h2.4m-33.4 2.4h2.4m9.5 0h2.4m2.4 0h2.4m-21.4 2.3h2.4m30.9 0h2.4m-14.3 2.4h2.4m0 0h2.4m9.5 0h2.4m-0.1 0h2.4m-14.3 2.4h2.4m7.2 0h2.4m-2.4 2.4h2.4m-38.1 2.4h2.4m16.6 2.3h2.4m-19.1 2.4h2.4m11.9 0h2.4m-9.5 4.8h2.4m-2.4 2.4h2.4m-9.6 2.4h2.4m0 0h2.4m23.8 0h2.4m4.7 0h2.4m-33.3 2.3h2.4m9.5 0h2.4m7.1 0h2.4m-28.6 2.4h2.4m7.2 0h2.4m-4.8 2.4h2.4m2.3 2.4h2.4m19.1 0h2.4m2.3 0h2.4m-30.9 2.3h2.4"/><path stroke="#b04878" stroke-width="2.4" fill="none" d="M474.8 22.6h2.4m16.6 4.7h2.4m-2.4 7.2h2.4m-14.3 2.3h2.4m-2.4 2.4h2.4m-9.5 2.4h2.4m16.6 0h2.4m-2.4 14.3h2.4m47.6 7.1h2.4m-7.1 9.5h2.4m-9.6 2.4h2.4m-52.4 2.4h2.4m40.5 0h2.4m2.3 0h2.4m-26.2 7.1h2.4m-11.9 4.8h2.4"/><path stroke="#c890b0" stroke-width="2.4" fill="none" d="M496.2 22.6h2.4m-2.4 9.5h2.4m-2.4 21.4h2.4m33.3 9.5h2.4m-33.3 4.8h2.4m-9.6 2.4h2.4m-2.4 7.1h2.4m16.7 4.8h2.4m0 0h2.4m2.3 0h2.4m0 2.3h2.4m-42.9 2.4h2.4"/><path stroke="#dcb0c8" stroke-width="2.4" fill="none" d="M477.2 24.9h2.4m16.6 9.6h2.4m-23.8 21.4h2.4m19 9.5h2.4m-23.8 2.4h2.4m42.8 2.4h2.4m-40.5 4.7h2.4m-9.5 7.2h2.4m50 0h2.4m9.5 0h2.4m2.3 4.7h2.4m-33.3 2.4h2.4m26.1 0h2.4"/><path stroke="#d0d6e0" stroke-width="2.4" fill="none" d="M501 36.8h2.4m-9.6 2.4h2.4m0 21.4h2.4m-16.7 7.2h2.4m9.5 0h2.4m0 2.4h2.4m-16.7 2.3h2.4m-9.5 4.8h2.4m26.2 7.1h2.4"/><rect x="473.3" y="91" width="30.1" height="3.8" fill="#4d6680" /><rect x="503.4" y="91" width="43.3" height="3.8" fill="#e02424" /><text x="489.1" y="94.1" font-size="2.6" text-anchor="middle" fill="#dde">Random genes</text><text x="524.8" y="94.1" font-size="2.6" text-anchor="middle" fill="#fee">Differential network genes</text><rect x="571.5" y="19" width="71.4" height="71.4" fill="#f1f1f1" /><path stroke="#b04878" stroke-width="2.4" fill="none" d="M576.3 20.2h2.4m4.7 4.7h2.4m-7.2 2.4h2.4m-4.7 4.8h2.4m9.5 21.4h2.4m-14.3 2.4h2.4m-0.1 0h2.4m7.2 0h2.4m7.1 9.5h2.4m-4.8 4.8h2.4m-9.5 7.1h2.4m16.6 4.8h2.4"/><path stroke="#ffffff" stroke-width="2.4" fill="none" d="M600.1 20.2h2.4m7.1 0h2.4m28.5 0h2.4m-4.8 2.4h2.4m-4.7 2.3h2.4m-0.1 0h2.4m-19 2.4h2.4m9.5 0h2.4m-19.1 2.4h2.4m0 0h2.4m7.1 0h2.4m0 0h2.4m-28.6 2.4h2.4m21.4 0h2.4m7.1 0h2.4m-14.3 2.4h2.4m-4.7 2.3h2.4m9.5 0h2.4m-16.7 2.4h2.4m11.9 0h2.4m-31 2.4h2.4m9.5 0h2.4m2.4 0h2.4m4.7 0h2.4m0 0h2.4m-33.4 2.4h2.4m11.9 0h2.4m-14.3 2.4h2.4m7.1 0h2.4m-4.7 2.4h2.4m-4.8 2.3h2.4m0 0h2.4m7.1 0h2.4m-19.1 2.4h2.4m0 0h2.4m9.5 0h2.4m-16.7 2.4h2.4m9.5 0h2.4m-16.7 2.4h2.4m0 0h2.4m-7.1 2.3h2.4m21.4 0h2.4"/><path stroke="#f4e4ee" stroke-width="2.4" fill="none" d="M602.4 20.2h2.4m0 0h2.4m11.9 0h2.4m0 0h2.4m-9.6 4.7h2.4m11.9 0h2.4m2.4 0h2.4m-33.4 2.4h2.4m7.2 0h2.4m-2.4 2.4h2.4m11.8 0h2.4m9.5 0h2.4m-40.4 2.4h2.4m28.5 0h2.4m-33.3 2.4h2.4m2.3 0h2.4m4.8 0h2.4m7.1 0h2.4m0 0h2.4m2.3 0h2.4m2.4 0h2.4m-16.7 2.3h2.4m4.7 0h2.4m-16.6 2.4h2.4m2.3 0h2.4m11.9 0h2.4m4.7 2.4h2.4m-35.7 2.4h2.4m2.4 0h2.4m2.3 0h2.4m2.4 0h2.4m-19.1 2.4h2.4m23.8 0h2.4m2.4 0h2.4m-16.7 2.4h2.4m4.7 0h2.4m0 0h2.4m2.4 0h2.4m2.3 0h2.4m-33.3 2.3h2.4m26.2 0h2.4m-14.3 2.4h2.4m9.5 0h2.4m-35.8 2.4h2.4m9.5 0h2.4m19.1 0h2.4m-0.1 0h2.4m-40.4 2.4h2.4m9.5 0h2.4m9.5 0h2.4m-23.9 2.3h2.4m2.4 0h2.4m7.1 0h2.4m14.3 0h2.4"/><path stroke="#e03040" stroke-width="2.4" fill="none" d="M607.2 20.2h2.4m16.6 0h2.4m-28.5 4.7h2.4m7.1 0h2.4m14.2 2.4h2.4m0 0h2.4m-23.8 4.8h2.4m-7.2 7.1h2.4m4.8 2.4h2.4m28.5 0h2.4m-16.7 2.4h2.4m11.9 2.4h2.4m-38.1 4.7h2.4m16.7 0h2.4m-12 2.4h2.4m7.2 2.4h2.4m14.2 0h2.4m-2.4 4.7h2.4"/><path stroke="#e0b0cc" stroke-width="2.4" fill="none" d="M612 20.2h2.4m9.5 0h2.4m4.7 0h2.4m-28.6 2.4h2.4m0 0h2.4m21.4 0h2.4m-26.2 2.3h2.4m11.9 0h2.4m16.6 0h2.4m-11.9 2.4h2.4m4.7 0h2.4m-40.4 2.4h2.4m4.7 0h2.4m0 0h2.4m11.9 0h2.4m14.2 0h2.4m-23.8 2.4h2.4m19 0h2.4m-33.3 2.4h2.4m4.7 0h2.4m11.9 0h2.4m4.7 0h2.4m-28.5 2.3h2.4m2.3 0h2.4m19 0h2.4m-35.7 2.4h2.4m2.4 0h2.4m11.9 0h2.4m2.3 0h2.4m2.4 0h2.4m2.3 0h2.4m-38.1 2.4h2.4m7.2 0h2.4m7.1 0h2.4m-16.7 2.4h2.4m19 0h2.4m2.4 0h2.4m-19.1 2.4h2.4m2.4 0h2.4m2.3 0h2.4m9.5 0h2.4m-40.4 2.4h2.4m-0.1 0h2.4m2.4 0h2.4m0 0h2.4m4.7 0h2.4m2.4 0h2.4m-23.8 2.3h2.4m11.8 0h2.4m0 0h2.4m9.5 0h2.4m2.4 0h2.4m-35.7 2.4h2.4m7.1 0h2.4m4.7 0h2.4m9.5 0h2.4m0 0h2.4m-33.3 2.4h2.4m9.5 0h2.4m7.1 0h2.4m2.3 0h2.4m4.8 0h2.4m-16.7 2.4h2.4m11.9 0h2.4m-31 2.3h2.4m7.1 0h2.4"/><path stroke="#c8709c" stroke-width="2.4" fill="none" d="M614.3 20.2h2.4m0 0h2.4m16.7 0h2.4m-28.6 2.4h2.4m0 0h2.4m19 0h2.4m4.7 0h2.4m-38.1 2.3h2.4m9.5 0h2.4m-19 2.4h2.4m4.7 0h2.4m0 0h2.4m4.7 0h2.4m4.8 0h2.4m9.5 0h2.4m2.3 0h2.4m-40.5 2.4h2.4m0 0h2.4m26.2 0h2.4m-33.4 2.4h2.4m9.5 0h2.4m4.8 0h2.4m2.3 0h2.4m4.8 0h2.4m-28.6 2.4h2.4m9.5 0h2.4m14.3 0h2.4m2.3 0h2.4m-33.3 2.3h2.4m2.3 0h2.4m4.8 0h2.4m4.7 0h2.4m-23.8 2.4h2.4m9.5 0h2.4m4.7 0h2.4m-23.8 2.4h2.4m7.1 0h2.4m9.5 0h2.4m0 0h2.4m4.8 0h2.4m-26.2 2.4h2.4m16.6 0h2.4m2.4 0h2.4m-31 2.4h2.4m2.4 0h2.4m4.7 0h2.4m2.4 0h2.4m9.5 0h2.4m-33.4 2.4h2.4m16.7 0h2.4m4.7 0h2.4m7.1 0h2.4m-40.5 2.3h2.4m14.3 0h2.4m9.5 0h2.4m4.7 0h2.4m0 0h2.4m-30.9 2.4h2.4m7.1 0h2.4m9.5 0h2.4m-28.6 2.4h2.4m19 0h2.4m-16.7 2.4h2.4m4.8 0h2.4m4.7 0h2.4m4.8 0h2.4m-0.1 0h2.4m-30.9 2.3h2.4m16.6 0h2.4m4.8 0h2.4"/><path stroke="#a83a74" stroke-width="2.4" fill="none" d="M628.6 20.2h2.4m2.4 0h2.4m2.3 0h2.4m-40.4 2.4h2.4m-0.1 0h2.4m9.5 0h2.4m0 0h2.4m0 0h2.4m0 0h2.4m0 0h2.4m-0.1 0h2.4m0 0h2.4m4.8 0h2.4m-35.8 2.3h2.4m7.2 0h2.4m4.7 0h2.4m2.4 0h2.4m-0.1 0h2.4m2.4 0h2.4m-28.6 2.4h2.4m7.1 0h2.4m2.4 0h2.4m-7.2 2.4h2.4m4.8 0h2.4m11.9 0h2.4m-28.6 2.4h2.4m0 0h2.4m2.3 0h2.4m4.8 0h2.4m9.5 0h2.4m-35.8 2.4h2.4m9.5 0h2.4m-16.6 2.3h2.4m-0.1 0h2.4m0 0h2.4m0 0h2.4m21.4 0h2.4m0 0h2.4m4.7 0h2.4m-42.8 2.4h2.4m11.8 0h2.4m23.8 0h2.4m-42.8 2.4h2.4m14.2 0h2.4m-19 2.4h2.4m19 0h2.4m0 0h2.4m11.8 0h2.4m0 0h2.4m-42.8 2.4h2.4m7.1 0h2.4m19 0h2.4m-19.1 2.4h2.4m19.1 0h2.4m-12 2.3h2.4m-26.2 2.4h2.4m21.4 0h2.4m9.5 0h2.4m0 0h2.4m-33.3 2.4h2.4m7.1 0h2.4m9.5 0h2.4m-26.2 2.4h2.4m0 0h2.4m4.7 0h2.4m7.1 0h2.4m2.4 0h2.4m7.1 0h2.4m-30.9 2.3h2.4m4.7 0h2.4m0 0h2.4m2.3 0h2.4m2.4 0h2.4m4.7 0h2.4"/><path stroke="#dcb0c8" stroke-width="2.4" fill="none" d="M576.3 22.6h2.4m-0.1 2.3h2.4m-4.7 4.8h2.4m-0.1 9.5h2.4m-4.7 11.9h2.4m21.4 14.3h2.4m-2.4 9.5h2.4m33.3 2.4h2.4m-59.6 4.8h2.4m16.7 7.1h2.4"/><path stroke="#98a8c0" stroke-width="2.4" fill="none" d="M576.3 24.9h2.4m19 0h2.4m-14.3 2.4h2.4m-11.9 14.3h2.4m-0.1 2.4h2.4m-2.4 14.3h2.4m59.5 4.7h2.4m-45.2 7.2h2.4m14.2 0h2.4m9.5 2.3h2.4m2.4 0h2.4m-35.7 2.4h2.4m19 0h2.4m-16.7 2.4h2.4m-30.9 2.4h2.4m19 0h2.4m11.9 2.4h2.4m-4.8 4.7h2.4m-33.4 2.4h2.4"/><path stroke="#d0d6e0" stroke-width="2.4" fill="none" d="M597.7 27.3h2.4m-7.2 4.8h2.4m-7.1 9.5h2.4m-9.6 19h2.4m2.4 7.2h2.4m47.6 2.4h2.4m-35.8 11.9h2.4m-16.6 4.7h2.4m42.8 0h2.4"/><path stroke="#ecd0de" stroke-width="2.4" fill="none" d="M573.9 29.7h2.4m-4.8 2.4h2.4m4.7 2.4h2.4m16.7 7.1h2.4m-21.5 4.8h2.4m4.8 0h2.4m9.5 9.5h2.4m-2.4 2.4h2.4m-2.4 2.3h2.4m-23.8 4.8h2.4m19 7.1h2.4m-9.6 2.4h2.4"/><path stroke="#e8d8e0" stroke-width="2.4" fill="none" d="M578.6 29.7h2.4m16.7 0h2.4m-2.4 16.7h2.4m14.2 19h2.4m-38.1 2.4h2.4m54.8 4.7h2.4m-26.2 2.4h2.4m-12 2.4h2.4m-28.5 4.8h2.4m-2.4 2.3h2.4"/><path stroke="#c890b0" stroke-width="2.4" fill="none" d="M585.8 29.7h2.4m-9.6 2.4h2.4m-2.4 9.5h2.4m16.7 9.5h2.4m-23.8 9.5h2.4m11.8 4.8h2.4m0 4.8h2.4m-19 4.7h2.4m42.8 2.4h2.4m-26.2 4.8h2.4m-7.2 4.7h2.4"/><rect x="570" y="91" width="30.1" height="3.8" fill="#4d6680" /><rect x="600.1" y="91" width="43.3" height="3.8" fill="#e02424" /><text x="585.8" y="94.1" font-size="2.6" text-anchor="middle" fill="#dde">Random genes</text><text x="621.5" y="94.1" font-size="2.6" text-anchor="middle" fill="#fee">Differential network genes</text><rect x="473" y="110.9" width="71.4" height="71.4" fill="#f1f1f1" /><path stroke="#c890b0" stroke-width="2.4" fill="none" d="M484.9 112.1h2.4m0 7.1h2.4m4.7 4.8h2.4m-9.5 2.4h2.4m-16.7 7.1h2.4m9.5 0h2.4m0 0h2.4m-16.7 4.8h2.4m16.6 7.1h2.4m-21.4 4.8h2.4m14.3 2.4h2.4m-19.1 2.3h2.4m9.5 0h2.4m26.2 0h2.4m-42.9 4.8h2.4m0 7.1h2.4m45.2 4.8h2.4m-31 9.5h2.4m42.8 0h2.4"/><path stroke="#ecd0de" stroke-width="2.4" fill="none" d="M492 112.1h2.4m-9.5 11.9h2.4m-14.3 4.8h2.4m16.6 4.7h2.4m-2.4 9.5h2.4m31 9.6h2.4m-47.7 2.3h2.4m4.8 0h2.4m11.9 0h2.4m-4.8 2.4h2.4m-9.6 2.4h2.4m7.2 0h2.4m4.7 0h2.4m-31 7.1h2.4m50 2.4h2.4m-9.5 2.4h2.4m-0.1 2.4h2.4"/><path stroke="#e42424" stroke-width="2.4" fill="none" d="M506.3 112.1h2.4m4.8 0h2.4m16.6 0h2.4m2.4 0h2.4m-0.1 0h2.4m-30.9 2.4h2.4m-7.2 2.4h2.4m16.7 0h2.4m2.3 0h2.4m-21.4 2.3h2.4m0 0h2.4m2.3 0h2.4m9.5 0h2.4m0 0h2.4m4.7 0h2.4m-30.9 2.4h2.4m2.3 0h2.4m0 0h2.4m0 0h2.4m16.6 0h2.4m-33.3 2.4h2.4m0 0h2.4m2.3 0h2.4m0 0h2.4m7.1 0h2.4m9.5 0h2.4m-33.3 2.4h2.4m19 0h2.4m4.8 0h2.4m-0.1 0h2.4m0 0h2.4m-35.7 2.4h2.4m2.4 0h2.4m2.3 0h2.4m0 0h2.4m14.3 0h2.4m-28.6 2.3h2.4m2.3 0h2.4m7.2 0h2.4m7.1 0h2.4m2.3 0h2.4m-35.7 2.4h2.4m9.5 0h2.4m4.8 0h2.4m2.3 0h2.4m7.1 0h2.4m0 0h2.4m-28.6 2.4h2.4m4.8 0h2.4m0 0h2.4m-0.1 0h2.4m11.9 0h2.4m-38.1 2.4h2.4m9.5 0h2.4m0 0h2.4m11.9 0h2.4m-31 2.4h2.4m0 0h2.4m7.1 0h2.4m2.4 0h2.4m0 0h2.4m2.3 0h2.4m2.4 0h2.4m0 0h2.4m2.3 0h2.4m-30.9 2.3h2.4m4.7 0h2.4m2.4 0h2.4m2.3 0h2.4m7.1 0h2.4m-28.5 2.4h2.4m4.7 0h2.4m0 0h2.4m0 0h2.4m4.7 0h2.4m0 0h2.4m2.3 0h2.4m-30.9 2.4h2.4m0 0h2.4m-0.1 0h2.4m23.8 0h2.4"/><path stroke="#ffffff" stroke-width="2.4" fill="none" d="M508.7 112.1h2.4m0 0h2.4m28.5 0h2.4m-38.1 2.4h2.4m4.8 0h2.4m23.7 0h2.4m-21.4 2.4h2.4m14.3 0h2.4m-0.1 0h2.4m-7.1 2.3h2.4m-11.9 2.4h2.4m4.7 0h2.4m-4.8 2.4h2.4m9.5 0h2.4m-26.2 2.4h2.4m7.1 0h2.4m-4.7 2.4h2.4m2.3 0h2.4m7.1 0h2.4m-19 2.3h2.4m-4.8 2.4h2.4m-4.8 2.4h2.4m-4.8 2.4h2.4m23.8 0h2.4m-30.9 2.4h2.4m11.8 0h2.4m-19 2.3h2.4m-4.8 2.4h2.4m-4.8 2.4h2.4"/><path stroke="#9c2c6a" stroke-width="2.4" fill="none" d="M515.8 112.1h2.4m2.4 0h2.4m2.4 0h2.4m2.3 0h2.4m2.4 0h2.4m-19.1 2.4h2.4m0 0h2.4m0 0h2.4m0 0h2.4m-0.1 0h2.4m0 0h2.4m2.4 0h2.4m4.7 0h2.4m-35.7 2.4h2.4m0 0h2.4m2.3 0h2.4m4.8 0h2.4m2.3 0h2.4m2.4 0h2.4m0 0h2.4m4.7 0h2.4m-38.1 2.3h2.4m7.1 0h2.4m7.2 0h2.4m-0.1 0h2.4m11.9 0h2.4m-35.7 2.4h2.4m2.4 0h2.4m14.2 0h2.4m4.8 0h2.4m-16.7 2.4h2.4m0 0h2.4m9.5 0h2.4m-33.4 2.4h2.4m2.4 0h2.4m0 0h2.4m-0.1 0h2.4m7.2 0h2.4m7.1 0h2.4m-26.2 2.4h2.4m9.5 0h2.4m9.5 0h2.4m4.7 0h2.4m-35.7 2.3h2.4m9.5 0h2.4m4.7 0h2.4m-14.3 2.4h2.4m16.7 0h2.4m-16.7 2.4h2.4m-14.3 2.4h2.4m2.4 0h2.4m9.5 0h2.4m-0.1 0h2.4m0 0h2.4m4.8 0h2.4m-28.6 2.4h2.4m2.3 0h2.4m2.4 0h2.4m9.5 0h2.4m4.7 0h2.4m-33.3 2.3h2.4m7.1 0h2.4m2.4 0h2.4m2.3 0h2.4m7.2 0h2.4m-28.6 2.4h2.4m2.3 0h2.4m9.5 0h2.4m11.9 0h2.4m-35.7 2.4h2.4m11.9 0h2.4m0 0h2.4m2.3 0h2.4m0 0h2.4m0 0h2.4"/><path stroke="#e8c8dc" stroke-width="2.4" fill="none" d="M518.2 112.1h2.4m2.4 0h2.4m-16.7 2.4h2.4m26.2 0h2.4m-21.5 2.4h2.4m0 2.3h2.4m-16.7 2.4h2.4m26.2 0h2.4m-31 2.4h2.4m26.2 0h2.4m-31 4.8h2.4m7.1 0h2.4m14.3 0h2.4m-28.6 2.3h2.4m21.4 0h2.4m0 0h2.4m2.4 0h2.4m-31 2.4h2.4m11.9 0h2.4m2.3 0h2.4m2.4 0h2.4m2.4 0h2.4m-33.4 2.4h2.4m0 0h2.4m28.5 0h2.4m-19 2.4h2.4m-9.6 4.7h2.4m0 2.4h2.4m16.7 0h2.4m-0.1 2.4h2.4"/><path stroke="#c880a8" stroke-width="2.4" fill="none" d="M527.7 112.1h2.4m-14.3 2.4h2.4m14.3 0h2.4m-21.4 2.4h2.4m-7.2 2.3h2.4m11.9 0h2.4m11.9 0h2.4m-16.7 2.4h2.4m2.3 0h2.4m11.9 0h2.4m-30.9 2.4h2.4m4.7 0h2.4m9.5 0h2.4m-14.3 2.4h2.4m0 0h2.4m7.1 0h2.4m-7.2 2.4h2.4m-16.6 2.3h2.4m2.3 0h2.4m21.4 0h2.4m-33.3 2.4h2.4m0 0h2.4m-4.8 2.4h2.4m0 0h2.4m14.2 0h2.4m0 0h2.4m0 0h2.4m0 0h2.4m-28.6 2.4h2.4m19 0h2.4m4.7 0h2.4m-35.7 4.7h2.4m23.8 0h2.4m0 0h2.4m4.7 0h2.4m-38.1 2.4h2.4m21.4 0h2.4m-14.3 2.4h2.4m0 0h2.4m4.7 0h2.4m7.2 0h2.4"/><path stroke="#98a8c0" stroke-width="2.4" fill="none" d="M473 114.5h2.4m9.5 4.7h2.4m0 11.9h2.4m-4.8 4.8h2.4m-14.3 4.8h2.4m30.9 11.9h2.4m19 0h2.4m2.4 0h2.4m-42.9 4.7h2.4m11.9 2.4h2.4m-16.7 2.4h2.4m-21.4 2.3h2.4m19 0h2.4m-9.5 14.3h2.4"/><path stroke="#dcb0c8" stroke-width="2.4" fill="none" d="M475.4 114.5h2.4m14.2 0h2.4m-2.4 9.5h2.4m-21.4 2.4h2.4m9.5 0h2.4m-14.3 9.5h2.4m19 0h2.4m-4.8 11.9h2.4m-9.5 4.8h2.4m7.1 0h2.4m-19 4.7h2.4m42.8 0h2.4m-31 4.8h2.4m40.5 0h2.4m-52.4 2.3h2.4m-4.8 4.8h2.4m4.7 0h2.4m19.1 2.4h2.4m19 0h2.4m-40.5 2.4h2.4m-14.3 2.3h2.4m4.7 2.4h2.4"/><path stroke="#d0d6e0" stroke-width="2.4" fill="none" d="M473 116.9h2.4m-2.4 2.3h2.4m16.6 9.6h2.4m0 14.2h2.4m21.4 14.3h2.4m0 0h2.4m-28.6 2.4h2.4m-23.8 2.4h2.4m54.7 0h2.4m-45.2 4.7h2.4m-16.7 4.8h2.4m7.1 0h2.4m21.4 0h2.4m7.1 0h2.4m-30.9 4.7h2.4m16.6 2.4h2.4m28.6 2.4h2.4"/><path stroke="#e8d8e0" stroke-width="2.4" fill="none" d="M484.9 116.9h2.4m7.1 0h2.4m-4.8 2.3h2.4m7.2 7.2h2.4m-31 4.7h2.4m40.4 26.2h2.4m-30.9 4.8h2.4m42.8 0h2.4m2.4 7.1h2.4m-64.3 2.4h2.4m64.2 0h2.4m-50 7.1h2.4"/><path stroke="#b04878" stroke-width="2.4" fill="none" d="M492 121.6h2.4m-2.4 4.8h2.4m-7.1 2.4h2.4m11.9 2.3h2.4m-16.7 4.8h2.4m-4.8 7.1h2.4m47.6 9.6h2.4m-50 7.1h2.4m-4.8 4.7h2.4m38.1 2.4h2.4m2.3 0h2.4m-40.5 4.8h2.4m-21.4 9.5h2.4m23.8 0h2.4"/><rect x="471.5" y="182.9" width="34.8" height="3.8" fill="#4d6680" /><rect x="506.3" y="182.9" width="38.6" height="3.8" fill="#e02424" /><text x="489.7" y="186" font-size="2.6" text-anchor="middle" fill="#dde">Random genes</text><text x="525.4" y="186" font-size="2.6" text-anchor="middle" fill="#fee">Differential network genes</text><rect x="572" y="110.9" width="71.4" height="71.4" fill="#f1f1f1" /><path stroke="#e8d8e0" stroke-width="2.4" fill="none" d="M572 112.1h2.4m19 16.7h2.4m2.4 0h2.4m-19.1 2.3h2.4m-4.8 2.4h2.4m0 2.4h2.4m-9.5 4.8h2.4m23.8 2.3h2.4m11.8 9.6h2.4m9.5 2.3h2.4m4.8 0h2.4m-42.9 4.8h2.4m23.8 0h2.4m-28.6 4.7h2.4m4.8 11.9h2.4m-0.1 0h2.4m23.8 4.8h2.4m9.5 0h2.4"/><path stroke="#b04878" stroke-width="2.4" fill="none" d="M579.1 112.1h2.4m16.7 0h2.4m-9.6 4.8h2.4m7.2 0h2.4m-31 4.7h2.4m2.4 4.8h2.4m2.3 2.4h2.4m-11.9 7.1h2.4m0 0h2.4m21.4 4.8h2.4m-21.5 7.1h2.4m11.9 0h2.4m-16.7 2.4h2.4m59.5 2.4h2.4m-9.5 7.1h2.4m4.7 0h2.4m-71.4 4.7h2.4m54.7 0h2.4m-38.1 9.6h2.4m2.4 0h2.4m26.1 2.3h2.4m7.2 0h2.4m-35.8 4.8h2.4m2.4 0h2.4m23.8 0h2.4"/><path stroke="#ecd0de" stroke-width="2.4" fill="none" d="M581.5 112.1h2.4m-7.1 2.4h2.4m19 0h2.4m-28.6 11.9h2.4m4.7 0h2.4m-7.1 7.1h2.4m16.6 4.8h2.4m-14.3 7.1h2.4m-2.4 7.2h2.4m26.2 0h2.4m9.5 0h2.4m-42.9 2.3h2.4m57.1 0h2.4m-61.9 2.4h2.4m-9.5 2.4h2.4m49.9 0h2.4m-54.7 4.7h2.4m0 0h2.4m21.4 0h2.4m4.7 0h2.4m-35.7 2.4h2.4m16.6 4.8h2.4m7.1 0h2.4m11.9 0h2.4m2.4 0h2.4m-52.4 2.4h2.4m47.6 2.3h2.4"/><path stroke="#dcb0c8" stroke-width="2.4" fill="none" d="M593.4 112.1h2.4m-2.4 4.8h2.4m-16.7 4.7h2.4m19.1 7.2h2.4m-9.6 2.3h2.4m4.8 2.4h2.4m-28.6 11.9h2.4m35.7 7.2h2.4m-0.1 2.3h2.4m-16.6 2.4h2.4m23.7 0h2.4m-23.8 7.1h2.4m9.5 0h2.4m16.7 7.2h2.4m-0.1 0h2.4m-16.6 2.4h2.4m-54.8 2.3h2.4m35.7 0h2.4m4.7 0h2.4m-38.1 4.8h2.4m38.1 0h2.4m2.3 0h2.4m7.2 0h2.4"/><path stroke="#9c2c6a" stroke-width="2.4" fill="none" d="M602.9 112.1h2.4m7.2 0h2.4m2.3 0h2.4m2.4 0h2.4m0 0h2.4m-0.1 0h2.4m2.4 0h2.4m0 0h2.4m0 0h2.4m-35.8 2.4h2.4m9.5 0h2.4m4.8 0h2.4m2.3 0h2.4m2.4 0h2.4m2.4 0h2.4m2.3 0h2.4m-33.3 2.4h2.4m11.9 0h2.4m2.3 0h2.4m2.4 0h2.4m4.7 0h2.4m-40.5 2.3h2.4m4.8 0h2.4m0 0h2.4m2.3 0h2.4m11.9 0h2.4m4.7 0h2.4m0 0h2.4m-38.1 2.4h2.4m2.4 0h2.4m4.7 0h2.4m0 0h2.4m4.7 0h2.4m7.2 0h2.4m2.3 0h2.4m-38.1 2.4h2.4m0 0h2.4m0 0h2.4m4.7 0h2.4m2.4 0h2.4m2.3 0h2.4m2.4 0h2.4m0 0h2.4m-19.1 2.4h2.4m11.9 0h2.4m0 0h2.4m4.7 0h2.4m-40.5 2.4h2.4m7.2 0h2.4m2.3 0h2.4m0 0h2.4m0 0h2.4m9.5 0h2.4m0 0h2.4m-0.1 0h2.4m-26.2 2.3h2.4m11.9 0h2.4m0 0h2.4m-31 2.4h2.4m0 0h2.4m0 0h2.4m2.4 0h2.4m11.8 0h2.4m4.8 0h2.4m0 0h2.4m-0.1 0h2.4m0 0h2.4m-38.1 2.4h2.4m4.8 0h2.4m-0.1 0h2.4m2.4 0h2.4m4.7 0h2.4m2.4 0h2.4m0 0h2.4m0 0h2.4m-28.6 2.4h2.4m9.5 0h2.4m4.7 0h2.4m0 0h2.4m4.7 0h2.4m-23.8 2.4h2.4m0 0h2.4m9.5 0h2.4m2.4 0h2.4m-0.1 0h2.4m-38.1 2.3h2.4m0 0h2.4m4.8 0h2.4m2.3 0h2.4m7.1 0h2.4m4.8 0h2.4m4.7 0h2.4m-40.5 2.4h2.4m0 0h2.4m2.4 0h2.4m2.3 0h2.4m4.8 0h2.4m0 0h2.4m-0.1 0h2.4m2.4 0h2.4m0 0h2.4m0 0h2.4m-0.1 0h2.4m0 0h2.4m-40.5 2.4h2.4m2.4 0h2.4m2.4 0h2.4m-0.1 0h2.4m0 0h2.4m11.9 0h2.4m0 0h2.4m0 0h2.4m-26.2 2.4h2.4m-0.1 0h2.4m2.4 0h2.4m0 0h2.4m0 0h2.4m4.7 0h2.4"/><path stroke="#c880a8" stroke-width="2.4" fill="none" d="M605.3 112.1h2.4m2.4 0h2.4m2.3 0h2.4m2.4 0h2.4m16.6 0h2.4m-23.8 2.4h2.4m9.5 0h2.4m-26.2 2.4h2.4m7.1 0h2.4m4.8 0h2.4m2.3 0h2.4m9.5 0h2.4m-33.3 2.3h2.4m16.6 0h2.4m0 0h2.4m-7.1 2.4h2.4m11.8 0h2.4m-26.2 2.4h2.4m7.2 0h2.4m9.5 0h2.4m2.3 0h2.4m-35.7 2.4h2.4m19 0h2.4m4.8 0h2.4m-0.1 0h2.4m-26.2 2.4h2.4m-11.9 2.3h2.4m2.4 0h2.4m0 0h2.4m4.7 0h2.4m19 0h2.4m-28.6 2.4h2.4m-7.1 2.4h2.4m16.6 0h2.4m9.5 0h2.4m-26.2 2.4h2.4m0 0h2.4m14.3 0h2.4m2.3 0h2.4m-38.1 2.4h2.4m7.1 0h2.4m23.8 0h2.4m-35.7 2.3h2.4m4.7 0h2.4m2.4 0h2.4m0 0h2.4m4.7 0h2.4m-11.9 2.4h2.4m7.1 0h2.4m-7.1 2.4h2.4m-0.1 0h2.4m0 0h2.4m-26.2 2.4h2.4m9.5 0h2.4m7.1 0h2.4m4.8 0h2.4m0 0h2.4m-0.1 0h2.4"/><path stroke="#e02430" stroke-width="2.4" fill="none" d="M607.7 112.1h2.4m-4.8 2.4h2.4m11.9 0h2.4m-19.1 2.4h2.4m11.9 0h2.4m-14.3 2.3h2.4m7.1 0h2.4m19.1 0h2.4m-35.8 2.4h2.4m2.4 0h2.4m11.9 0h2.4m9.5 0h2.4m-33.4 4.8h2.4m0 0h2.4m-2.4 2.4h2.4m0 0h2.4m16.6 2.3h2.4m-19 2.4h2.4m16.6 0h2.4m-28.6 4.8h2.4m-2.4 2.4h2.4m16.7 0h2.4m9.5 0h2.4m-11.9 2.3h2.4m-9.6 2.4h2.4m-9.5 2.4h2.4m7.1 0h2.4m16.6 0h2.4m0 0h2.4m-35.7 2.4h2.4m0 0h2.4"/><path stroke="#e8c8dc" stroke-width="2.4" fill="none" d="M629.1 112.1h2.4m-21.4 2.4h2.4m11.9 0h2.4m7.1 0h2.4m-16.7 2.4h2.4m-2.4 2.3h2.4m2.4 0h2.4m-14.3 2.4h2.4m14.2 0h2.4m-28.6 2.4h2.4m7.2 0h2.4m23.7 0h2.4m-28.5 2.4h2.4m4.7 0h2.4m0 0h2.4m0 0h2.4m-16.7 2.4h2.4m16.6 0h2.4m9.5 0h2.4m-40.5 2.3h2.4m2.4 0h2.4m7.1 0h2.4m16.7 0h2.4m-7.2 2.4h2.4m-26.2 2.4h2.4m11.9 0h2.4m0 0h2.4m11.8 0h2.4m-35.7 2.4h2.4m4.8 0h2.4m9.5 0h2.4m7.1 0h2.4m-28.6 2.4h2.4m0 0h2.4m11.9 0h2.4m-0.1 0h2.4m2.4 2.3h2.4m2.4 0h2.4m-0.1 0h2.4m-28.5 2.4h2.4"/><path stroke="#ffffff" stroke-width="2.4" fill="none" d="M641 112.1h2.4m-35.7 2.4h2.4m2.4 0h2.4m23.7 0h2.4m-33.3 2.4h2.4m2.4 0h2.4m16.6 0h2.4m2.4 0h2.4m-16.7 2.3h2.4m9.5 0h2.4m-21.5 2.4h2.4m14.3 0h2.4m-14.3 2.4h2.4m7.1 0h2.4m-21.4 2.4h2.4m2.3 0h2.4m9.5 0h2.4m-4.7 2.4h2.4m-0.1 0h2.4m2.4 0h2.4m-11.9 2.3h2.4m0 0h2.4m7.1 0h2.4m2.3 0h2.4m-23.8 2.4h2.4m0 0h2.4m0 0h2.4m0 0h2.4m-23.9 2.4h2.4m11.9 0h2.4m-11.9 2.4h2.4m4.7 0h2.4m9.5 0h2.4m-16.6 2.4h2.4m14.2 0h2.4m-21.4 2.3h2.4m-4.8 2.4h2.4m-4.8 2.4h2.4m14.3 0h2.4m-21.5 2.4h2.4m23.8 0h2.4m9.5 0h2.4"/><path stroke="#98a8c0" stroke-width="2.4" fill="none" d="M574.4 114.5h2.4m-4.8 9.5h2.4m26.2 14.3h2.4m-21.5 9.5h2.4m-4.8 4.8h2.4m42.9 0h2.4m11.8 0h2.4m-61.9 2.3h2.4m28.6 0h2.4m0 0h2.4m-7.2 2.4h2.4m7.1 2.4h2.4m-45.2 2.4h2.4m9.5 0h2.4m-7.2 7.1h2.4m9.5 7.1h2.4m19 0h2.4m11.9 0h2.4m2.4 0h2.4m-23.8 4.8h2.4"/><path stroke="#c890b0" stroke-width="2.4" fill="none" d="M581.5 114.5h2.4m-9.5 7.1h2.4m4.7 2.4h2.4m-4.8 19h2.4m35.7 11.9h2.4m16.7 0h2.4m-0.1 0h2.4m-66.6 2.4h2.4m64.2 9.5h2.4m-50 2.4h2.4m-16.7 2.4h2.4m28.6 0h2.4m16.6 0h2.4m-28.6 2.4h2.4m11.9 0h2.4m-11.9 2.3h2.4m-38.1 2.4h2.4"/><path stroke="#d0d6e0" stroke-width="2.4" fill="none" d="M593.4 133.5h2.4m-21.4 4.8h2.4m2.3 0h2.4m11.9 11.9h2.4m4.8 0h2.4m2.3 2.4h2.4m-30.9 2.3h2.4m21.4 4.8h2.4m28.5 4.7h2.4m-40.5 2.4h2.4m-16.7 2.4h2.4m31 2.4h2.4m-35.8 2.4h2.4m14.3 2.3h2.4m-23.8 2.4h2.4m4.7 0h2.4"/><rect x="570.5" y="182.9" width="32.4" height="3.8" fill="#4d6680" /><rect x="602.9" y="182.9" width="41" height="3.8" fill="#e02424" /><text x="587.5" y="186" font-size="2.6" text-anchor="middle" fill="#dde">Random genes</text><text x="623.2" y="186" font-size="2.6" text-anchor="middle" fill="#fee">Differential network genes</text><text x="475.6" y="87.3" font-size="7.6"><tspan font-style="italic">p</tspan>&lt;0.01</text><text x="572" y="87.3" font-size="7.6"><tspan font-style="italic">p</tspan>=0.02</text><text x="474.5" y="179" font-size="7.6"><tspan font-style="italic">p</tspan>&lt;0.01</text><text x="573" y="179" font-size="7.6"><tspan font-style="italic">p</tspan>&lt;0.01</text><line x1="546" y1="21.4" x2="548.4" y2="21.4" stroke="#222" stroke-width="0.5" /><text x="548.8" y="23.5" font-size="6.2" fill="#111" font-style="italic">Chchd2</text><line x1="546" y1="26.8" x2="548.4" y2="26.8" stroke="#222" stroke-width="0.5" /><text x="548.8" y="28.9" font-size="6.2" fill="#111" font-style="italic">Pnrc1</text><line x1="546" y1="32.2" x2="548.4" y2="32.2" stroke="#222" stroke-width="0.5" /><text x="548.8" y="34.3" font-size="6.2" fill="#111" font-style="italic">Meg3</text><line x1="546" y1="37.7" x2="548.4" y2="37.7" stroke="#222" stroke-width="0.5" /><text x="548.8" y="39.8" font-size="6.2" fill="#111" font-style="italic">Rab3a</text><line x1="546" y1="43.1" x2="548.4" y2="43.1" stroke="#222" stroke-width="0.5" /><text x="548.8" y="45.2" font-size="6.2" fill="#111" font-style="italic">Prkar1a</text><line x1="546" y1="48.5" x2="548.4" y2="48.5" stroke="#222" stroke-width="0.5" /><text x="548.8" y="50.6" font-size="6.2" fill="#111" font-style="italic">Tspan3</text><line x1="546" y1="53.9" x2="548.4" y2="53.9" stroke="#222" stroke-width="0.5" /><text x="548.8" y="56" font-size="6.2" fill="#111" font-style="italic">Sv2c</text><line x1="546" y1="59.3" x2="548.4" y2="59.3" stroke="#222" stroke-width="0.5" /><text x="548.8" y="61.4" font-size="6.2" fill="#111" font-style="italic">Spp1</text><line x1="643" y1="21.4" x2="645.4" y2="21.4" stroke="#222" stroke-width="0.5" /><text x="645.8" y="23.5" font-size="6.2" fill="#111" font-style="italic">Ckb</text><line x1="643" y1="26.8" x2="645.4" y2="26.8" stroke="#222" stroke-width="0.5" /><text x="645.8" y="28.9" font-size="6.2" fill="#111" font-style="italic">Stxbp1</text><line x1="643" y1="32.2" x2="645.4" y2="32.2" stroke="#222" stroke-width="0.5" /><text x="645.8" y="34.3" font-size="6.2" fill="#111" font-style="italic">Hspa8</text><line x1="643" y1="37.7" x2="645.4" y2="37.7" stroke="#222" stroke-width="0.5" /><text x="645.8" y="39.8" font-size="6.2" fill="#111" font-style="italic">Ndrg4</text><line x1="643" y1="43.1" x2="645.4" y2="43.1" stroke="#222" stroke-width="0.5" /><text x="645.8" y="45.2" font-size="6.2" fill="#111" font-style="italic">Slc25a5</text><line x1="643" y1="48.5" x2="645.4" y2="48.5" stroke="#222" stroke-width="0.5" /><text x="645.8" y="50.6" font-size="6.2" fill="#111" font-style="italic">Cd24a</text><line x1="643" y1="53.9" x2="645.4" y2="53.9" stroke="#222" stroke-width="0.5" /><text x="645.8" y="56" font-size="6.2" fill="#111" font-style="italic">Nme7</text><line x1="643" y1="59.3" x2="645.4" y2="59.3" stroke="#222" stroke-width="0.5" /><text x="645.8" y="61.4" font-size="6.2" fill="#111" font-style="italic">Spp1</text><line x1="545" y1="112.6" x2="547.4" y2="112.6" stroke="#222" stroke-width="0.5" /><text x="547.8" y="114.7" font-size="6.2" fill="#111" font-style="italic">Spp1</text><line x1="545" y1="118" x2="547.4" y2="118" stroke="#222" stroke-width="0.5" /><text x="547.8" y="120.1" font-size="6.2" fill="#111" font-style="italic">Pvalb</text><line x1="545" y1="123.4" x2="547.4" y2="123.4" stroke="#222" stroke-width="0.5" /><text x="547.8" y="125.5" font-size="6.2" fill="#111" font-style="italic">Ckb</text><line x1="545" y1="128.9" x2="547.4" y2="128.9" stroke="#222" stroke-width="0.5" /><text x="547.8" y="131" font-size="6.2" fill="#111" font-style="italic">Nme7</text><line x1="545" y1="134.3" x2="547.4" y2="134.3" stroke="#222" stroke-width="0.5" /><text x="547.8" y="136.4" font-size="6.2" fill="#111" font-style="italic">Mdh1</text><line x1="545" y1="139.7" x2="547.4" y2="139.7" stroke="#222" stroke-width="0.5" /><text x="547.8" y="141.8" font-size="6.2" fill="#111" font-style="italic">Ubb</text><line x1="545" y1="145.1" x2="547.4" y2="145.1" stroke="#222" stroke-width="0.5" /><text x="547.8" y="147.2" font-size="6.2" fill="#111" font-style="italic">Pkm</text><line x1="545" y1="150.5" x2="547.4" y2="150.5" stroke="#222" stroke-width="0.5" /><text x="547.8" y="152.6" font-size="6.2" fill="#111" font-style="italic">Pnrc1</text><line x1="643.5" y1="112.6" x2="645.9" y2="112.6" stroke="#222" stroke-width="0.5" /><text x="646.3" y="114.7" font-size="6.2" fill="#111" font-style="italic">Spp1</text><line x1="643.5" y1="118" x2="645.9" y2="118" stroke="#222" stroke-width="0.5" /><text x="646.3" y="120.1" font-size="6.2" fill="#111" font-style="italic">Ndrg4</text><line x1="643.5" y1="123.4" x2="645.9" y2="123.4" stroke="#222" stroke-width="0.5" /><text x="646.3" y="125.5" font-size="6.2" fill="#111" font-style="italic">Fktn1l</text><line x1="643.5" y1="128.9" x2="645.9" y2="128.9" stroke="#222" stroke-width="0.5" /><text x="646.3" y="131" font-size="6.2" fill="#111" font-style="italic">Sv2c</text><line x1="643.5" y1="134.3" x2="645.9" y2="134.3" stroke="#222" stroke-width="0.5" /><text x="646.3" y="136.4" font-size="6.2" fill="#111" font-style="italic">Ttc39b</text><line x1="643.5" y1="139.7" x2="645.9" y2="139.7" stroke="#222" stroke-width="0.5" /><text x="646.3" y="141.8" font-size="6.2" fill="#111" font-style="italic">Col24a1</text><line x1="643.5" y1="145.1" x2="645.9" y2="145.1" stroke="#222" stroke-width="0.5" /><text x="646.3" y="147.2" font-size="6.2" fill="#111" font-style="italic">Sacs</text><line x1="643.5" y1="150.5" x2="645.9" y2="150.5" stroke="#222" stroke-width="0.5" /><text x="646.3" y="152.6" font-size="6.2" fill="#111" font-style="italic">Hspa8</text><text x="484.5" y="14.5" font-size="7.6" fill="#e8c020">WT vs <tspan font-style="italic">Vglut3</tspan><tspan dy="-2.8" font-size="4.5">-/-</tspan><tspan dy="2.8" font-size="1">&#8203;</tspan></text><text x="572.5" y="14.5" font-size="7.6" fill="#e8405a"><tspan font-style="italic">Vglut3</tspan><tspan dy="-2.8" font-size="4.5">-/-</tspan><tspan dy="2.8" font-size="1">&#8203;</tspan>+GT vs <tspan font-style="italic">Vglut3</tspan><tspan dy="-2.8" font-size="4.5">-/-</tspan><tspan dy="2.8" font-size="1">&#8203;</tspan></text><text x="487" y="106.8" font-size="7.6" fill="#e878c8">WT vs <tspan font-style="italic">Otof</tspan><tspan dy="-2.8" font-size="4.5">-/-</tspan><tspan dy="2.8" font-size="1">&#8203;</tspan></text><text x="589" y="106.8" font-size="7.6" fill="#48c848">WT vs <tspan font-style="italic">Ush1c</tspan><tspan dy="-2.8" font-size="4.5">-/-</tspan><tspan dy="2.8" font-size="1">&#8203;</tspan></text><g stroke="#6a5a3a" stroke-width="0.5"><ellipse cx="527" cy="213" rx="29" ry="14" transform="rotate(-45 527 213)" fill="#60c850"/><ellipse cx="514" cy="213" rx="29" ry="14" transform="rotate(45 514 213)" fill="#ee98d0"/><ellipse cx="536" cy="222" rx="33" ry="19.5" transform="rotate(-45 536 222)" fill="#f26062"/><ellipse cx="505" cy="222" rx="33" ry="19.5" transform="rotate(45 505 222)" fill="#f0c832"/><ellipse cx="514" cy="213" rx="29" ry="14" transform="rotate(45 514 213)" fill="none"/><ellipse cx="527" cy="213" rx="29" ry="14" transform="rotate(-45 527 213)" fill="none"/><ellipse cx="536" cy="222" rx="33" ry="19.5" transform="rotate(-45 536 222)" fill="none"/></g><text x="506.5" y="198.5" font-size="6.8" text-anchor="middle" font-family="Liberation Serif, serif" fill="#222">11</text><text x="520" y="206" font-size="6.8" text-anchor="middle" font-family="Liberation Serif, serif" fill="#222">0</text><text x="533.5" y="198.5" font-size="6.8" text-anchor="middle" font-family="Liberation Serif, serif" fill="#222">11</text><text x="491" y="215.5" font-size="6.8" text-anchor="middle" font-family="Liberation Serif, serif" fill="#222">9</text><text x="502.7" y="207.5" font-size="6.8" text-anchor="middle" font-family="Liberation Serif, serif" fill="#222">5</text><text x="510.7" y="215.5" font-size="6.8" text-anchor="middle" font-family="Liberation Serif, serif" fill="#222">2</text><text x="528.7" y="215.5" font-size="6.8" text-anchor="middle" font-family="Liberation Serif, serif" fill="#222">1</text><text x="537" y="207.5" font-size="6.8" text-anchor="middle" font-family="Liberation Serif, serif" fill="#222">4</text><text x="549" y="215.5" font-size="6.8" text-anchor="middle" font-family="Liberation Serif, serif" fill="#222">9</text><text x="520" y="227.5" font-size="6.8" text-anchor="middle" font-family="Liberation Serif, serif" fill="#222">1</text><text x="503.6" y="230.5" font-size="6.8" text-anchor="middle" font-family="Liberation Serif, serif" fill="#222">0</text><text x="513.4" y="234.5" font-size="6.8" text-anchor="middle" font-family="Liberation Serif, serif" fill="#222">3</text><text x="526.5" y="234.5" font-size="6.8" text-anchor="middle" font-family="Liberation Serif, serif" fill="#222">1</text><text x="536.3" y="230.3" font-size="6.8" text-anchor="middle" font-family="Liberation Serif, serif" fill="#222">1</text><text x="519.8" y="243" font-size="6.8" text-anchor="middle" font-family="Liberation Serif, serif" fill="#222">3</text><text x="523.5" y="222.5" font-size="7.6" text-anchor="middle" fill="#5530d8" font-weight="bold" font-style="italic">Spp1</text><rect x="564.1" y="196.7" width="10.8" height="5" fill="#f0c830" /><text x="577.5" y="201" font-size="6.5">WT vs <tspan font-style="italic">Vglut3</tspan><tspan dy="-2.4" font-size="4">-/-</tspan><tspan dy="2.4" font-size="1">&#8203;</tspan></text><rect x="564.1" y="209.4" width="10.8" height="5" fill="#f26062" /><text x="578" y="210.5" font-size="6.5"><tspan font-style="italic">Vglut3</tspan><tspan dy="-2.4" font-size="4"> -/-</tspan><tspan dy="2.4" font-size="1">&#8203;</tspan> + GT</text><text x="580" y="217.8" font-size="6.5">vs <tspan font-style="italic">Vglut3</tspan><tspan dy="-2.4" font-size="4">-/-</tspan><tspan dy="2.4" font-size="1">&#8203;</tspan></text><rect x="564.1" y="221.5" width="10.8" height="5" fill="#ee98d0" /><text x="577.5" y="226" font-size="6.5">WT vs <tspan font-style="italic">Otof</tspan><tspan dy="-2.4" font-size="4">-/-</tspan><tspan dy="2.4" font-size="1">&#8203;</tspan></text><rect x="564.1" y="230" width="10.8" height="5" fill="#58c850" /><text x="577.5" y="234.5" font-size="6.5">WT vs <tspan font-style="italic">Ush1c</tspan><tspan dy="-2.4" font-size="4">-/-</tspan><tspan dy="2.4" font-size="1">&#8203;</tspan></text><defs><linearGradient id="gdeg" x1="0" y1="0" x2="0" y2="1"><stop offset="0" stop-color="#6e1048"/><stop offset="0.5" stop-color="#f4f0f2"/><stop offset="1" stop-color="#2e3e50"/></linearGradient></defs><rect x="630" y="191.6" width="8.1" height="43" fill="url(#gdeg)" /><text x="639.6" y="195.2" font-size="5.6">0.4</text><circle cx="631.2" cy="193.2" r="0.6" fill="#000"/><circle cx="637" cy="193.2" r="0.6" fill="#000"/><text x="639.6" y="205.1" font-size="5.6">0.2</text><circle cx="631.2" cy="203.1" r="0.6" fill="#000"/><circle cx="637" cy="203.1" r="0.6" fill="#000"/><text x="639.6" y="215" font-size="5.6">0</text><circle cx="631.2" cy="213" r="0.6" fill="#000"/><circle cx="637" cy="213" r="0.6" fill="#000"/><text x="639.6" y="224.9" font-size="5.6">−0.2</text><circle cx="631.2" cy="222.9" r="0.6" fill="#000"/><circle cx="637" cy="222.9" r="0.6" fill="#000"/><text x="639.6" y="234.8" font-size="5.6">−0.4</text><circle cx="631.2" cy="232.8" r="0.6" fill="#000"/><circle cx="637" cy="232.8" r="0.6" fill="#000"/><text x="626.2" y="210" font-size="6.6" text-anchor="middle" transform="rotate(-90 626.2 210)">Δdegree</text><defs><filter id="blur1" x="-50%" y="-50%" width="200%" height="200%"><feGaussianBlur stdDeviation="1.2"/></filter></defs><text x="3" y="271.4" font-size="16" font-weight="bold">d</text><text x="66.5" y="282.5" font-size="8.6" text-anchor="middle"><tspan font-style="italic">Spp1</tspan><tspan dy="-3.2" font-size="4.8">+</tspan><tspan dy="3.2" font-size="1">&#8203;</tspan> -</text><text x="66.6" y="292.6" font-size="8.6" text-anchor="middle">bushy cell</text><text x="23.7" y="301.8" font-size="8.4" fill="#2fc6a0">SPP1</text><text x="51" y="301.8" font-size="8.4" fill="#ff2a2a">CR</text><text x="67.5" y="301.8" font-size="8.4" fill="#5a6cff">VGluT1</text><text x="130.5" y="282.5" font-size="8.6" text-anchor="middle"><tspan font-style="italic">Sst</tspan><tspan dy="-3.2" font-size="4.8">+</tspan><tspan dy="3.2" font-size="1">&#8203;</tspan> -</text><text x="130.2" y="292.6" font-size="8.6" text-anchor="middle">bushy cell</text><text x="99.4" y="301.8" font-size="8.4" fill="#e6d81a">SST</text><text x="120.4" y="301.8" font-size="8.4" fill="#ff2a2a">CR</text><text x="137" y="301.8" font-size="8.4" fill="#5a6cff">VGluT1</text><clipPath id="clip101"><rect x="24.8" y="304.3" width="70.8" height="71.1"/></clipPath><rect x="24.8" y="304.3" width="70.8" height="71.1" fill="#000" /><g clip-path="url(#clip101)"><rect x="24.8" y="304.3" width="70.8" height="71.1" fill="#fff" filter="url(#fr101)"/><rect x="24.8" y="304.3" width="70.8" height="71.1" fill="#fff" filter="url(#fb101)"/><defs><radialGradient id="rg101"><stop offset="0.5" stop-color="#fff" stop-opacity="0"/><stop offset="0.78" stop-color="#fff" stop-opacity="1"/><stop offset="1" stop-color="#fff" stop-opacity="0"/></radialGradient></defs><ellipse cx="57.2" cy="337.3" rx="27" ry="25" fill="url(#rg101)" filter="url(#fg101)"/><defs><radialGradient id="cg101"><stop offset="0" stop-color="#fff" stop-opacity="1"/><stop offset="0.6" stop-color="#fff" stop-opacity="0.9"/><stop offset="1" stop-color="#fff" stop-opacity="0"/></radialGradient></defs><ellipse cx="57.2" cy="336.3" rx="19" ry="17" fill="url(#cg101)" filter="url(#fc101)"/><ellipse cx="39" cy="357.6" rx="6" ry="4.8" fill="#ff40ff" opacity="0.95" filter="url(#blur1)"/><ellipse cx="34" cy="348.4" rx="4" ry="3.2" fill="#ff40ff" opacity="0.8" filter="url(#blur1)"/><ellipse cx="46" cy="319.9" rx="4" ry="3.2" fill="#ff50ff" opacity="0.8" filter="url(#blur1)"/><ellipse cx="70.8" cy="318.5" rx="3" ry="2.4" fill="#60a0ff" opacity="0.7" filter="url(#blur1)"/></g><clipPath id="clip102"><rect x="99.3" y="304.3" width="70.8" height="71.1"/></clipPath><rect x="99.3" y="304.3" width="70.8" height="71.1" fill="#000" /><g clip-path="url(#clip102)"><rect x="99.3" y="304.3" width="70.8" height="71.1" fill="#fff" filter="url(#fr102)"/><rect x="99.3" y="304.3" width="70.8" height="71.1" fill="#fff" filter="url(#fb102)"/><defs><radialGradient id="cg102"><stop offset="0" stop-color="#fff" stop-opacity="1"/><stop offset="0.6" stop-color="#fff" stop-opacity="0.9"/><stop offset="1" stop-color="#fff" stop-opacity="0"/></radialGradient></defs><ellipse cx="130.7" cy="335.3" rx="18" ry="20" fill="url(#cg102)" filter="url(#fc102)"/><ellipse cx="136.1" cy="318.5" rx="5" ry="4" fill="#ff40ff" opacity="0.95" filter="url(#blur1)"/><ellipse cx="124.8" cy="314.3" rx="3" ry="2.4" fill="#ff40ff" opacity="0.8" filter="url(#blur1)"/><ellipse cx="163" cy="355.5" rx="5" ry="4" fill="#ff40ff" opacity="0.85" filter="url(#blur1)"/><ellipse cx="157.4" cy="343.4" rx="3" ry="2.4" fill="#d040ff" opacity="0.7" filter="url(#blur1)"/><ellipse cx="106.4" cy="343.4" rx="3" ry="2.4" fill="#808080" opacity="0.5" filter="url(#blur1)"/></g><clipPath id="clip103"><rect x="24.8" y="377.3" width="70.8" height="70.1"/></clipPath><rect x="24.8" y="377.3" width="70.8" height="70.1" fill="#000" /><g clip-path="url(#clip103)"><rect x="24.8" y="377.3" width="70.8" height="70.1" fill="#fff" filter="url(#fr103)"/><rect x="24.8" y="377.3" width="70.8" height="70.1" fill="#fff" filter="url(#fb103)"/><defs><radialGradient id="rg103"><stop offset="0.6" stop-color="#fff" stop-opacity="0"/><stop offset="0.78" stop-color="#fff" stop-opacity="1"/><stop offset="1" stop-color="#fff" stop-opacity="0"/></radialGradient></defs><ellipse cx="54.2" cy="415.8" rx="26" ry="23" fill="url(#rg103)" filter="url(#fg103)"/><defs><radialGradient id="cg103"><stop offset="0" stop-color="#fff" stop-opacity="1"/><stop offset="0.6" stop-color="#fff" stop-opacity="0.9"/><stop offset="1" stop-color="#fff" stop-opacity="0"/></radialGradient></defs><ellipse cx="53.2" cy="415.8" rx="15" ry="15" fill="url(#cg103)" filter="url(#fc103)"/></g><clipPath id="clip104"><rect x="99.3" y="377.3" width="70.8" height="70.1"/></clipPath><rect x="99.3" y="377.3" width="70.8" height="70.1" fill="#000" /><g clip-path="url(#clip104)"><rect x="99.3" y="377.3" width="70.8" height="70.1" fill="#fff" filter="url(#fr104)"/><rect x="99.3" y="377.3" width="70.8" height="70.1" fill="#fff" filter="url(#fb104)"/><defs><radialGradient id="cg104"><stop offset="0" stop-color="#fff" stop-opacity="1"/><stop offset="0.6" stop-color="#fff" stop-opacity="0.9"/><stop offset="1" stop-color="#fff" stop-opacity="0"/></radialGradient></defs><ellipse cx="137.7" cy="407.8" rx="12" ry="13" fill="url(#cg104)" filter="url(#fc104)"/><ellipse cx="117" cy="419.4" rx="2.5" ry="2" fill="#a0a0ff" opacity="0.8" filter="url(#blur1)"/></g><clipPath id="clip105"><rect x="24.8" y="449.5" width="70.8" height="69"/></clipPath><rect x="24.8" y="449.5" width="70.8" height="69" fill="#000" /><g clip-path="url(#clip105)"><defs><radialGradient id="rm105"><stop offset="0" stop-color="#fff" stop-opacity="0.05"/><stop offset="0.55" stop-color="#fff" stop-opacity="0.25"/><stop offset="0.85" stop-color="#fff" stop-opacity="1"/></radialGradient></defs><rect x="24.8" y="449.5" width="70.8" height="69" fill="url(#rm105)" filter="url(#fr105)"/><rect x="24.8" y="449.5" width="70.8" height="69" fill="#fff" filter="url(#fb105)"/><defs><radialGradient id="rg105"><stop offset="0.45" stop-color="#fff" stop-opacity="0"/><stop offset="0.78" stop-color="#fff" stop-opacity="1"/><stop offset="1" stop-color="#fff" stop-opacity="0"/></radialGradient></defs><ellipse cx="57.2" cy="487.4" rx="31" ry="30" fill="url(#rg105)" filter="url(#fg105)"/><defs><radialGradient id="cg105"><stop offset="0" stop-color="#fff" stop-opacity="1"/><stop offset="0.6" stop-color="#fff" stop-opacity="0.9"/><stop offset="1" stop-color="#fff" stop-opacity="0"/></radialGradient></defs><ellipse cx="55.2" cy="488.4" rx="18" ry="19" fill="url(#cg105)" filter="url(#fc105)"/><ellipse cx="77.9" cy="473.6" rx="4" ry="3.2" fill="#ff40ff" opacity="0.8" filter="url(#blur1)"/><ellipse cx="75.8" cy="497.8" rx="4" ry="3.2" fill="#ff40ff" opacity="0.7" filter="url(#blur1)"/><ellipse cx="46" cy="470.2" rx="3" ry="2.4" fill="#e040ff" opacity="0.7" filter="url(#blur1)"/><ellipse cx="35.4" cy="484" rx="3" ry="2.4" fill="#e040ff" opacity="0.7" filter="url(#blur1)"/></g><clipPath id="clip106"><rect x="99.3" y="449.5" width="70.8" height="69"/></clipPath><rect x="99.3" y="449.5" width="70.8" height="69" fill="#000" /><g clip-path="url(#clip106)"><rect x="99.3" y="449.5" width="70.8" height="69" fill="#fff" filter="url(#fr106)"/><rect x="99.3" y="449.5" width="70.8" height="69" fill="#fff" filter="url(#fb106)"/><defs><radialGradient id="cg106"><stop offset="0" stop-color="#fff" stop-opacity="1"/><stop offset="0.6" stop-color="#fff" stop-opacity="0.9"/><stop offset="1" stop-color="#fff" stop-opacity="0"/></radialGradient></defs><ellipse cx="132.7" cy="488.4" rx="26" ry="27" fill="url(#cg106)" filter="url(#fc106)"/><ellipse cx="163" cy="487.4" rx="3" ry="2.4" fill="#ff40ff" opacity="0.8" filter="url(#blur1)"/><ellipse cx="141.8" cy="470.2" rx="3" ry="2.4" fill="#ffffff" opacity="0.6" filter="url(#blur1)"/></g><text x="69.5" y="366.4" font-size="7.4" fill="#fff">10 μm</text><line x1="71" y1="371" x2="89.4" y2="371" stroke="#fff" stroke-width="1.2" /><text x="18.8" y="340.5" font-size="8.2" text-anchor="middle" transform="rotate(-90 18.8 340.5)">WT</text><text x="18.8" y="412.5" font-size="8.2" text-anchor="middle" transform="rotate(-90 18.8 412.5)"><tspan font-style="italic">Vglut3</tspan><tspan dy="-3" font-size="4.5">-/-</tspan><tspan dy="3" font-size="1">&#8203;</tspan></text><text x="18.8" y="484" font-size="8.2" text-anchor="middle" transform="rotate(-90 18.8 484)"><tspan font-style="italic">Vglut3</tspan><tspan dy="-3" font-size="4.5">-/-</tspan><tspan dy="3" font-size="1">&#8203;</tspan> + GT</text><line x1="200.6" y1="304.9" x2="200.6" y2="364.5" stroke="#222" stroke-width="0.8" /><line x1="200.6" y1="364.5" x2="239.9" y2="364.5" stroke="#222" stroke-width="0.8" /><line x1="198.8" y1="364.5" x2="200.6" y2="364.5" stroke="#222" stroke-width="0.6" /><text x="198" y="367.1" font-size="7.4" text-anchor="end" fill="#111">0.0</text><line x1="198.8" y1="352.8" x2="200.6" y2="352.8" stroke="#222" stroke-width="0.6" /><text x="198" y="355.4" font-size="7.4" text-anchor="end" fill="#111">0.2</text><line x1="198.8" y1="341.1" x2="200.6" y2="341.1" stroke="#222" stroke-width="0.6" /><text x="198" y="343.7" font-size="7.4" text-anchor="end" fill="#111">0.4</text><line x1="198.8" y1="329.3" x2="200.6" y2="329.3" stroke="#222" stroke-width="0.6" /><text x="198" y="331.9" font-size="7.4" text-anchor="end" fill="#111">0.6</text><line x1="198.8" y1="317.6" x2="200.6" y2="317.6" stroke="#222" stroke-width="0.6" /><text x="198" y="320.2" font-size="7.4" text-anchor="end" fill="#111">0.8</text><line x1="198.8" y1="305.9" x2="200.6" y2="305.9" stroke="#222" stroke-width="0.6" /><text x="198" y="308.5" font-size="7.4" text-anchor="end" fill="#111">1.0</text><line x1="208" y1="364.5" x2="208" y2="366.3" stroke="#222" stroke-width="0.6" /><circle cx="208.8" cy="335.2" r="1.25" fill="#8cb830"/><circle cx="209.6" cy="334" r="1.25" fill="#8cb830"/><circle cx="209.9" cy="329.3" r="1.25" fill="#8cb830"/><circle cx="210.9" cy="328.2" r="1.25" fill="#8cb830"/><circle cx="209.6" cy="324.7" r="1.25" fill="#8cb830"/><circle cx="210.7" cy="323.5" r="1.25" fill="#8cb830"/><circle cx="204.9" cy="322.3" r="1.25" fill="#8cb830"/><circle cx="207.8" cy="321.1" r="1.25" fill="#8cb830"/><circle cx="210.9" cy="320" r="1.25" fill="#8cb830"/><circle cx="209" cy="317.6" r="1.25" fill="#8cb830"/><circle cx="210.6" cy="316.4" r="1.25" fill="#8cb830"/><circle cx="205.5" cy="315.3" r="1.25" fill="#8cb830"/><circle cx="207.8" cy="314.1" r="1.25" fill="#8cb830"/><circle cx="206.4" cy="310.6" r="1.25" fill="#8cb830"/><circle cx="208.3" cy="328.2" r="1.25" fill="#8cb830"/><circle cx="208.5" cy="318.8" r="1.25" fill="#8cb830"/><line x1="203.8" y1="322.3" x2="212.2" y2="322.3" stroke="#222" stroke-width="0.8" /><line x1="208" y1="329.6" x2="208" y2="315" stroke="#222" stroke-width="0.7" /><line x1="205.5" y1="329.6" x2="210.5" y2="329.6" stroke="#222" stroke-width="0.7" /><line x1="205.5" y1="315" x2="210.5" y2="315" stroke="#222" stroke-width="0.7" /><line x1="220.5" y1="364.5" x2="220.5" y2="366.3" stroke="#222" stroke-width="0.6" /><circle cx="217.3" cy="352.8" r="1.25" fill="#a450d4"/><circle cx="218.7" cy="346.9" r="1.25" fill="#a450d4"/><circle cx="219.1" cy="345.2" r="1.25" fill="#a450d4"/><circle cx="223.2" cy="344" r="1.25" fill="#a450d4"/><circle cx="222.2" cy="343.4" r="1.25" fill="#a450d4"/><circle cx="218.3" cy="342.8" r="1.25" fill="#a450d4"/><circle cx="222.4" cy="342.2" r="1.25" fill="#a450d4"/><circle cx="218.2" cy="341.6" r="1.25" fill="#a450d4"/><circle cx="221.3" cy="341.1" r="1.25" fill="#a450d4"/><circle cx="218.1" cy="339.9" r="1.25" fill="#a450d4"/><circle cx="217.3" cy="338.1" r="1.25" fill="#a450d4"/><circle cx="222.9" cy="334" r="1.25" fill="#a450d4"/><line x1="216.3" y1="342.8" x2="224.7" y2="342.8" stroke="#222" stroke-width="0.8" /><line x1="220.5" y1="346.6" x2="220.5" y2="339" stroke="#222" stroke-width="0.7" /><line x1="218" y1="346.6" x2="223" y2="346.6" stroke="#222" stroke-width="0.7" /><line x1="218" y1="339" x2="223" y2="339" stroke="#222" stroke-width="0.7" /><line x1="232.2" y1="364.5" x2="232.2" y2="366.3" stroke="#222" stroke-width="0.6" /><circle cx="230.3" cy="339.3" r="1.25" fill="#6cd46c"/><circle cx="230.4" cy="335.2" r="1.25" fill="#6cd46c"/><circle cx="235.3" cy="332.3" r="1.25" fill="#6cd46c"/><circle cx="234.6" cy="329.3" r="1.25" fill="#6cd46c"/><circle cx="230.8" cy="326.4" r="1.25" fill="#6cd46c"/><circle cx="235.2" cy="323.5" r="1.25" fill="#6cd46c"/><circle cx="232.5" cy="322.3" r="1.25" fill="#6cd46c"/><circle cx="233.4" cy="320.5" r="1.25" fill="#6cd46c"/><circle cx="230.3" cy="317.6" r="1.25" fill="#6cd46c"/><circle cx="235.1" cy="314.7" r="1.25" fill="#6cd46c"/><circle cx="233.4" cy="312.9" r="1.25" fill="#6cd46c"/><circle cx="235.2" cy="310.6" r="1.25" fill="#6cd46c"/><line x1="228" y1="323.5" x2="236.4" y2="323.5" stroke="#222" stroke-width="0.8" /><line x1="232.2" y1="331.7" x2="232.2" y2="315.3" stroke="#222" stroke-width="0.7" /><line x1="229.7" y1="331.7" x2="234.7" y2="331.7" stroke="#222" stroke-width="0.7" /><line x1="229.7" y1="315.3" x2="234.7" y2="315.3" stroke="#222" stroke-width="0.7" /><text x="223.3" y="279.6" font-size="8.6" text-anchor="middle"><tspan font-style="italic">Spp1</tspan><tspan dy="-3.2" font-size="4.8">+</tspan><tspan dy="3.2" font-size="1">&#8203;</tspan> -</text><text x="221" y="289" font-size="8.6" text-anchor="middle">bushy cell</text><text x="220" y="298.9" font-size="6.8" text-anchor="middle">N.S.</text><line x1="208.5" y1="301.2" x2="231.3" y2="301.2" stroke="#222" stroke-width="0.7" /><text x="214" y="306.5" font-size="6.8" text-anchor="middle">***</text><line x1="208.5" y1="307.3" x2="220" y2="307.3" stroke="#222" stroke-width="0.7" /><text x="227" y="308.6" font-size="6.8" text-anchor="middle">***</text><line x1="220.8" y1="309.4" x2="233.7" y2="309.4" stroke="#222" stroke-width="0.7" /><text x="211" y="372.5" font-size="9.2" text-anchor="end" transform="rotate(-33 211 372.5)">WT</text><text x="224" y="374" font-size="9.2" text-anchor="end" transform="rotate(-33 224 374)"><tspan font-style="italic">Vglut3</tspan><tspan dy="-3.5" font-size="5.2">-/-</tspan><tspan dy="3.5" font-size="1">&#8203;</tspan></text><text x="240.5" y="376.5" font-size="9.2" text-anchor="end" transform="rotate(-33 240.5 376.5)"><tspan font-style="italic">Vglut3</tspan><tspan dy="-3.5" font-size="5.2">-/-</tspan><tspan dy="3.5" font-size="1">&#8203;</tspan>+GT</text><line x1="200.6" y1="425.6" x2="200.6" y2="485.2" stroke="#222" stroke-width="0.8" /><line x1="200.6" y1="485.2" x2="239.9" y2="485.2" stroke="#222" stroke-width="0.8" /><line x1="198.8" y1="485.2" x2="200.6" y2="485.2" stroke="#222" stroke-width="0.6" /><text x="198" y="487.8" font-size="7.4" text-anchor="end" fill="#111">0.0</text><line x1="198.8" y1="473.5" x2="200.6" y2="473.5" stroke="#222" stroke-width="0.6" /><text x="198" y="476.1" font-size="7.4" text-anchor="end" fill="#111">0.1</text><line x1="198.8" y1="461.8" x2="200.6" y2="461.8" stroke="#222" stroke-width="0.6" /><text x="198" y="464.4" font-size="7.4" text-anchor="end" fill="#111">0.2</text><line x1="198.8" y1="450" x2="200.6" y2="450" stroke="#222" stroke-width="0.6" /><text x="198" y="452.6" font-size="7.4" text-anchor="end" fill="#111">0.3</text><line x1="198.8" y1="438.3" x2="200.6" y2="438.3" stroke="#222" stroke-width="0.6" /><text x="198" y="440.9" font-size="7.4" text-anchor="end" fill="#111">0.4</text><line x1="198.8" y1="426.6" x2="200.6" y2="426.6" stroke="#222" stroke-width="0.6" /><text x="198" y="429.2" font-size="7.4" text-anchor="end" fill="#111">0.5</text><line x1="208" y1="485.2" x2="208" y2="487" stroke="#222" stroke-width="0.6" /><circle cx="210.6" cy="450" r="1.25" fill="#8cb830"/><circle cx="206.7" cy="445.4" r="1.25" fill="#8cb830"/><circle cx="207.1" cy="443" r="1.25" fill="#8cb830"/><circle cx="205.8" cy="441.8" r="1.25" fill="#8cb830"/><circle cx="205.7" cy="440.7" r="1.25" fill="#8cb830"/><circle cx="205.2" cy="440.7" r="1.25" fill="#8cb830"/><circle cx="206.7" cy="439.5" r="1.25" fill="#8cb830"/><circle cx="208.7" cy="438.3" r="1.25" fill="#8cb830"/><circle cx="204.8" cy="438.3" r="1.25" fill="#8cb830"/><circle cx="209.2" cy="437.1" r="1.25" fill="#8cb830"/><circle cx="206.9" cy="436" r="1.25" fill="#8cb830"/><circle cx="206.8" cy="434.8" r="1.25" fill="#8cb830"/><circle cx="210.1" cy="433.6" r="1.25" fill="#8cb830"/><circle cx="207.9" cy="432.5" r="1.25" fill="#8cb830"/><line x1="203.8" y1="439.5" x2="212.2" y2="439.5" stroke="#222" stroke-width="0.8" /><line x1="208" y1="443" x2="208" y2="436" stroke="#222" stroke-width="0.7" /><line x1="205.5" y1="443" x2="210.5" y2="443" stroke="#222" stroke-width="0.7" /><line x1="205.5" y1="436" x2="210.5" y2="436" stroke="#222" stroke-width="0.7" /><line x1="220.5" y1="485.2" x2="220.5" y2="487" stroke="#222" stroke-width="0.6" /><circle cx="219.3" cy="473.5" r="1.25" fill="#a450d4"/><circle cx="220.4" cy="470" r="1.25" fill="#a450d4"/><circle cx="221.8" cy="465.3" r="1.25" fill="#a450d4"/><circle cx="217.6" cy="461.8" r="1.25" fill="#a450d4"/><circle cx="223.6" cy="459.4" r="1.25" fill="#a450d4"/><circle cx="217.4" cy="457.1" r="1.25" fill="#a450d4"/><circle cx="222.1" cy="455.9" r="1.25" fill="#a450d4"/><circle cx="222.7" cy="453.6" r="1.25" fill="#a450d4"/><circle cx="217.4" cy="450" r="1.25" fill="#a450d4"/><circle cx="222.4" cy="446.5" r="1.25" fill="#a450d4"/><circle cx="219.6" cy="444.2" r="1.25" fill="#a450d4"/><line x1="216.3" y1="456.5" x2="224.7" y2="456.5" stroke="#222" stroke-width="0.8" /><line x1="220.5" y1="464.7" x2="220.5" y2="448.3" stroke="#222" stroke-width="0.7" /><line x1="218" y1="464.7" x2="223" y2="464.7" stroke="#222" stroke-width="0.7" /><line x1="218" y1="448.3" x2="223" y2="448.3" stroke="#222" stroke-width="0.7" /><line x1="232.2" y1="485.2" x2="232.2" y2="487" stroke="#222" stroke-width="0.6" /><circle cx="232.7" cy="473.5" r="1.25" fill="#6cd46c"/><circle cx="229" cy="468.8" r="1.25" fill="#6cd46c"/><circle cx="229.3" cy="465.3" r="1.25" fill="#6cd46c"/><circle cx="230.1" cy="461.8" r="1.25" fill="#6cd46c"/><circle cx="235.2" cy="459.4" r="1.25" fill="#6cd46c"/><circle cx="230.2" cy="457.1" r="1.25" fill="#6cd46c"/><circle cx="233.9" cy="454.7" r="1.25" fill="#6cd46c"/><circle cx="235" cy="452.4" r="1.25" fill="#6cd46c"/><circle cx="235.1" cy="450" r="1.25" fill="#6cd46c"/><circle cx="231.2" cy="446.5" r="1.25" fill="#6cd46c"/><line x1="228" y1="457.7" x2="236.4" y2="457.7" stroke="#222" stroke-width="0.8" /><line x1="232.2" y1="465.3" x2="232.2" y2="450" stroke="#222" stroke-width="0.7" /><line x1="229.7" y1="465.3" x2="234.7" y2="465.3" stroke="#222" stroke-width="0.7" /><line x1="229.7" y1="450" x2="234.7" y2="450" stroke="#222" stroke-width="0.7" /><text x="223.7" y="402.5" font-size="8.6" text-anchor="middle"><tspan font-style="italic">Sst</tspan><tspan dy="-3.2" font-size="4.8">+</tspan><tspan dy="3.2" font-size="1">&#8203;</tspan>-</text><text x="220.9" y="412.6" font-size="8.6" text-anchor="middle">bushy cell</text><text x="222" y="420.8" font-size="7.2" text-anchor="middle">***</text><line x1="208.9" y1="421.1" x2="231.7" y2="421.1" stroke="#222" stroke-width="0.7" /><text x="213.6" y="427.4" font-size="7.2" text-anchor="middle">***</text><line x1="208.9" y1="427.8" x2="219" y2="427.8" stroke="#222" stroke-width="0.7" /><text x="226.8" y="433.6" font-size="7" text-anchor="middle">N.S.</text><line x1="220.2" y1="435.9" x2="232.2" y2="435.9" stroke="#222" stroke-width="0.7" /><text x="211" y="493.2" font-size="9.2" text-anchor="end" transform="rotate(-33 211 493.2)">WT</text><text x="224" y="494.7" font-size="9.2" text-anchor="end" transform="rotate(-33 224 494.7)"><tspan font-style="italic">Vglut3</tspan><tspan dy="-3.5" font-size="5.2">-/-</tspan><tspan dy="3.5" font-size="1">&#8203;</tspan></text><text x="240.5" y="497.2" font-size="9.2" text-anchor="end" transform="rotate(-33 240.5 497.2)"><tspan font-style="italic">Vglut3</tspan><tspan dy="-3.5" font-size="5.2">-/-</tspan><tspan dy="3.5" font-size="1">&#8203;</tspan>+GT</text><text x="176.5" y="335" font-size="8" text-anchor="middle" transform="rotate(-90 176.5 335)">Volume proportion of type Ia</text><text x="184.2" y="335" font-size="8" text-anchor="middle" transform="rotate(-90 184.2 335)">synapses over total</text><text x="176.5" y="455" font-size="8" text-anchor="middle" transform="rotate(-90 176.5 455)">Volume proportion of type Ia</text><text x="184.2" y="455" font-size="8" text-anchor="middle" transform="rotate(-90 184.2 455)">synapses over total</text><text x="264" y="272.7" font-size="16" font-weight="bold">e</text><text x="356.8" y="290.5" font-size="10.5" text-anchor="middle">Cell-type niche</text><text x="292.2" y="312" font-size="9" text-anchor="middle">WT</text><text x="353.5" y="312" font-size="9" text-anchor="middle"><tspan font-style="italic">Vglut3</tspan><tspan dy="-3.2" font-size="5">-/-</tspan><tspan dy="3.2" font-size="1">&#8203;</tspan></text><text x="418" y="312" font-size="9" text-anchor="middle"><tspan font-style="italic">Vglut3</tspan><tspan dy="-3.2" font-size="5">-/-</tspan><tspan dy="3.2" font-size="1">&#8203;</tspan>+GT</text><path stroke="#8fd38f" stroke-width="2.1" fill="none" d="M292.7 314.6h2.1m-4.6 2.4h2.1m0.4 0h2.1m0.3 0h2.1m-7 2.5h2.1m-2.1 2.4h2.1m0.4 0h2.1m0.3 0h2.1m0.4 0h2.1m-14.5 2.5h2.1m7.7 0h2.1m-7 2.4h2.1m0.4 2.5h2.1m0.3 0h2.1m2.8 0h2.1m0.4 0h2.1m-19.3 2.4h2.1m2.8 0h2.1m0.4 0h2.1m0.3 0h2.1m5.3 0h2.1m-19.3 2.5h2.1m0.4 0h2.1m7.7 0h2.1m0.2 0h2.1m0.4 0h2.1m0.3 0h2.1m-26.6 2.4h2.1m2.8 0h2.1m5.3 0h2.1m2.8 0h2.1m0.2 0h2.1m0.4 0h2.1m-24.2 2.5h2.1m0.4 0h2.1m0.3 0h2.1m2.8 0h2.1m0.4 0h2.1m2.8 0h2.1m0.2 0h2.1m0.4 0h2.1m0.3 0h2.1m-26.6 2.4h2.1m0.4 0h2.1m0.3 0h2.1m2.8 0h2.1m0.4 0h2.1m2.8 0h2.1m2.7 0h2.1m-19.3 2.5h2.1m0.4 0h2.1m0.3 0h2.1m0.4 0h2.1m5.2 0h2.1m0.4 0h2.1m0.3 0h2.1m0.4 0h2.1m-34 2.4h2.1m0.4 0h2.1m0.3 0h2.1m2.8 0h2.1m0.4 0h2.1m0.3 0h2.1m0.4 0h2.1m0.3 0h2.1m2.8 0h2.1m0.4 0h2.1m0.3 0h2.1m-29 2.5h2.1m2.8 0h2.1m0.3 0h2.1m0.4 0h2.1m0.3 0h2.1m0.4 0h2.1m0.3 0h2.1m0.4 0h2.1m0.2 0h2.1m0.4 0h2.1m0.3 0h2.1m2.8 0h2.1m-38.8 2.4h2.1m0.3 0h2.1m0.4 0h2.1m2.8 0h2.1m5.2 0h2.1m0.4 0h2.1m2.8 0h2.1m0.2 0h2.1m0.4 0h2.1m0.3 0h2.1m0.4 0h2.1m0.3 0h2.1m-38.8 2.5h2.1m5.2 0h2.1m0.4 0h2.1m0.3 0h2.1m5.3 0h2.1m0.3 0h2.1m0.4 0h2.1m0.2 0h2.1m0.4 0h2.1m0.3 0h2.1m0.4 0h2.1m0.3 0h2.1m-38.8 2.4h2.1m0.3 0h2.1m0.4 0h2.1m0.3 0h2.1m0.4 0h2.1m0.3 0h2.1m0.4 0h2.1m5.2 0h2.1m0.4 0h2.1m0.2 0h2.1m0.4 0h2.1m2.8 0h2.1m0.3 0h2.1m-43.7 2.5h2.1m0.3 0h2.1m0.3 0h2.1m0.3 0h2.1m0.4 0h2.1m0.3 0h2.1m0.4 0h2.1m0.3 0h2.1m2.8 0h2.1m12.6 0h2.1m0.4 0h2.1m0.3 0h2.1m-41.3 2.4h2.1m2.7 0h2.1m2.8 0h2.1m0.4 0h2.1m0.3 0h2.1m5.3 0h2.1m0.3 0h2.1m0.4 0h2.1m0.2 0h2.1m5.3 0h2.1m2.8 0h2.1m-48.7 2.5h2.1m2.8 0h2.1m2.7 0h2.1m2.8 0h2.1m0.4 0h2.1m0.3 0h2.1m2.8 0h2.1m0.4 0h2.1m0.3 0h2.1m0.4 0h2.1m12.5 0h2.1m-51.1 2.4h2.1m0.3 0h2.1m2.8 0h2.1m5.2 0h2.1m0.3 0h2.1m0.4 0h2.1m0.3 0h2.1m0.4 0h2.1m0.3 0h2.1m0.4 0h2.1m0.3 0h2.1m0.4 0h2.1m10 0h2.1m0.4 0h2.1m-53.6 2.5h2.1m0.4 0h2.1m2.8 0h2.1m0.3 0h2.1m0.3 0h2.1m0.3 0h2.1m2.8 0h2.1m0.4 0h2.1m0.3 0h2.1m7.7 0h2.1m2.8 0h2.1m5.3 0h2.1m0.3 0h2.1m0.4 0h2.1m-53.6 2.4h2.1m0.4 0h2.1m7.7 0h2.1m0.3 0h2.1m0.4 0h2.1m0.3 0h2.1m0.4 0h2.1m0.3 0h2.1m5.3 0h2.1m0.3 0h2.1m5.3 0h2.1m0.3 0h2.1m5.3 0h2.1m0.3 0h2.1m-56 2.5h2.1m5.3 0h2.1m0.3 0h2.1m5.2 0h2.1m0.3 0h2.1m2.8 0h2.1m7.7 0h2.1m2.8 0h2.1m2.8 0h2.1m0.4 0h2.1m0.3 0h2.1m0.4 0h2.1m0.3 0h2.1m-56 2.4h2.1m0.4 0h2.1m2.8 0h2.1m0.3 0h2.1m0.3 0h2.1m0.3 0h2.1m2.8 0h2.1m5.3 0h2.1m5.2 0h2.1m0.4 0h2.1m0.2 0h2.1m0.4 0h2.1m0.3 0h2.1m0.4 0h2.1m0.3 0h2.1m2.8 0h2.1m-60.9 2.5h2.1m0.3 0h2.1m0.3 0h2.1m0.4 0h2.1m2.8 0h2.1m0.3 0h2.1m0.3 0h2.1m0.3 0h2.1m0.4 0h2.1m0.3 0h2.1m0.4 0h2.1m0.3 0h2.1m0.4 0h2.1m5.2 0h2.1m0.4 0h2.1m14.9 0h2.1m-58.4 2.4h2.1m0.3 0h2.1m0.4 0h2.1m0.3 0h2.1m0.4 0h2.1m5.2 0h2.1m0.4 0h2.1m0.3 0h2.1m5.3 0h2.1m7.7 0h2.1m2.7 0h2.1m0.3 0h2.1m2.8 0h2.1m-53.5 2.5h2.1m0.3 0h2.1m2.8 0h2.1m0.4 0h2.1m2.8 0h2.1m5.2 0h2.1m5.3 0h2.1m24.8 0h2.1m-60.9 2.4h2.1m0.3 0h2.1m0.3 0h2.1m10.2 0h2.1m32.2 0h2.1m-48.7 2.5h2.1m5.3 0h2.1m15 0h2.1m10.2 0h2.1m0.2 0h2.1m12.6 0h2.1m-58.4 2.4h2.1m0.3 0h2.1m12.6 0h2.1m0.4 0h2.1m2.8 0h2.1m2.8 0h2.1m19.9 0h2.1m2.8 0h2.1m-60.9 2.5h2.1m19.9 0h2.1m17.5 0h2.1m5.1 0h2.1m0.4 0h2.1m-56 2.4h2.1m0.2 0h2.1m29.7 0h2.1m22.4 0h2.1m0.3 0h2.1m-51.1 2.5h2.1m0.4 0h2.1m12.6 0h2.1m27.3 0h2.1m-7 2.4h2.1m5.2 2.5h2.1m-51.1 4.9h2.1m39.6 0h2.1m-51.1 2.4h2.1m5.2 0h2.1m-9.4 2.5h2.1m2.8 0h2.1m-2.1 2.4h2.1m2.8 0h2.1m15 0h2.1m7.7 0h2.1m15.1 0h2.1m-51.1 2.5h2.1m5.2 4.9h2.1m12.5 0h2.1m-2.1 2.4h2.1m0.4 0h2.1m-14.4 2.5h2.1m5.3 0h2.1m2.8 0h2.1"/><path stroke="#c8621e" stroke-width="2.1" fill="none" d="M292.7 319.5h2.1m12.6 26.9h2.1m-2.1 2.5h2.1m-21.7 2.4h2.1m-2.1 7.4h2.1m2.8 0h2.1m-7 2.4h2.1m-16.8 2.5h2.1m2.8 0h2.1m7.7 0h2.1m17.5 0h2.1m-36.4 2.4h2.1m0.3 0h2.1m10.2 2.5h2.1m0.3 0h2.1m0.4 0h2.1m-7 2.4h2.1m0.3 0h2.1m-26.6 2.5h2.1m20 0h2.1m0.3 0h2.1m-26.6 2.4h2.1m22.4 0h2.1m-2.1 2.5h2.1m7.7 0h2.1m7.7 7.3h2.1m-56 2.5h2.1m51.7 0h2.1m-51.1 4.9h2.1m0.4 0h2.1m29.7 0h2.1m-38.8 2.4h2.1m2.8 0h2.1m22.4 2.5h2.1m24.8 0h2.1m0.4 0h2.1m-48.7 2.4h2.1m15 0h2.1m0.3 0h2.1m0.4 0h2.1m19.9 0h2.1m-31.5 2.5h2.1m10.2 4.9h2.1m-4.7 2.4h2.1m-26.6 4.9h2.1m-2.2 2.5h2.1m29.7 4.9h2.1"/><path stroke="#3aa57a" stroke-width="2.1" fill="none" d="M295.1 319.5h2.1m-9.4 4.9h2.1m0.3 0h2.1m0.4 0h2.1m2.8 0h2.1m-12 2.4h2.1m2.8 0h2.1m0.3 0h2.1m0.4 0h2.1m-12 2.5h2.1m0.3 0h2.1m5.3 0h2.1m-4.7 9.8h2.1m0.4 4.9h2.1m-2.2 2.4h2.1m-9.6 7.4h2.1m-2.1 2.4h2.1m0.4 0h2.1m-2.1 17.2h2.1m-2.1 2.4h2.1m-2.1 2.5h2.1m-11.9 7.3h2.1"/><path stroke="#bdb1dc" stroke-width="2.1" fill="none" d="M287.8 331.7h2.1m7.7 0h2.1m-9.6 2.5h2.1m-9.4 2.4h2.1m5.2 0h2.1m2.8 4.9h2.1m2.8 0h2.1m-7 2.5h2.1m-11.9 7.3h2.1m0.4 2.5h2.1m15 2.4h2.1m2.8 7.4h2.1m-46.2 7.3h2.1m5.3 2.5h2.1m0.3 0h2.1m20 0h2.1m-14.5 2.4h2.1m-16.8 4.9h2.1m0.3 0h2.1m-11.9 2.5h2.1m10.1 0h2.1m0.4 0h2.1m-16.8 2.4h2.1m0.3 0h2.1m12.6 0h2.1m5.3 0h2.1m0.3 0h2.1m-33.9 2.5h2.1m2.8 0h2.1m5.2 0h2.1m0.3 0h2.1m0.3 0h2.1m0.4 0h2.1m0.3 0h2.1m-9.4 2.4h2.1m5.2 0h2.1m-16.8 2.5h2.1m12.6 0h2.1m-21.7 2.4h2.1m15.1 0h2.1m0.3 0h2.1m15.1 0h2.1m5.1 0h2.1m0.4 0h2.1m-56 2.5h2.1m5.1 0h2.1m15.1 0h2.1m0.3 0h2.1m-29 2.4h2.1m2.7 0h2.1m0.3 0h2.1m15.1 4.9h2.1m29.7 0h2.1m-38.8 2.5h2.1m15 0h2.1m0.4 0h2.1m0.3 0h2.1m-29 2.4h2.1m0.3 0h2.1m0.3 0h2.1m24.8 0h2.1m2.8 0h2.1m0.4 0h2.1m0.3 0h2.1m0.4 0h2.1m0.3 0h2.1m-43.7 2.5h2.1m5.2 0h2.1m24.9 0h2.1m0.3 0h2.1m-7 2.4h2.1m0.4 0h2.1m5.2 0h2.1m-56 2.5h2.1m34.7 0h2.1m0.2 0h2.1m2.8 0h2.1m0.4 0h2.1m0.3 0h2.1m0.4 0h2.1m-43.8 2.4h2.1m24.8 0h2.1m0.2 0h2.1m-36.4 2.5h2.1m20 0h2.1m-14.4 2.4h2.1m17.5 0h2.1"/><path stroke="#4f70c0" stroke-width="2.1" fill="none" d="M300 331.7h2.1m-19.2 2.5h2.1m7.7 0h2.1m0.3 0h2.1m-2.1 2.4h2.1m-16.8 7.4h2.1m-7 4.9h2.1m2.8 2.4h2.1m12.6 0h2.1m-19.2 2.5h2.1m17.5 4.9h2.1m0.2 0h2.1m0.4 0h2.1m-14.4 2.4h2.1m10.2 0h2.1m0.3 0h2.1m2.8 0h2.1m-11.9 2.5h2.1m0.4 0h2.1m0.3 0h2.1m-7 2.4h2.1m0.4 0h2.1m0.3 0h2.1m-9.4 2.5h2.1m5.1 0h2.1m-38.8 2.4h2.1m27.3 0h2.1m-41.4 2.5h2.1m2.8 0h2.1m-7 2.4h2.1m51.8 0h2.1m-7 2.5h2.1m-14.4 22h2.1m-2.1 2.5h2.1m-19.2 4.9h2.1m2.8 7.3h2.1m-2.1 2.5h2.1m5.2 0h2.1m-11.9 9.8h2.1"/><path stroke="#f2c38a" stroke-width="2.1" fill="none" d="M287.8 336.6h2.1m-2.1 2.5h2.1m-2.1 2.4h2.1m-7 2.5h2.1m-2.1 2.4h2.1m-11.9 14.7h2.1m2.8 0h2.1m-11.9 2.5h2.1m37.1 2.4h2.1m-31.5 2.5h2.1m-9.5 2.4h2.1m27.2 0h2.1m5.3 0h2.1m-31.5 4.9h2.1m32.2 2.5h2.1m-31.5 2.4h2.1m10.1 0h2.1m15.1 0h2.1m-2.1 2.5h2.1m-46.2 2.4h2.1m24.8 0h2.1m15.1 0h2.1m2.8 0h2.1m-14.4 2.5h2.1m0.4 0h2.1m-43.8 2.4h2.1m0.4 0h2.1m37.1 0h2.1m-51.1 2.5h2.1m27.3 0h2.1m-24.2 2.4h2.1m0.4 0h2.1m0.3 0h2.1m2.7 0h2.1m15.1 0h2.1m15 0h2.1m-16.8 2.5h2.1m0.4 0h2.1m2.7 0h2.1m0.3 0h2.1m-9.4 2.4h2.1m5.1 0h2.1m-36.4 2.5h2.1m5.2 0h2.1m17.5 0h2.1m-29.2 2.4h2.1m0.3 0h2.1m17.5 0h2.1m12.6 0h2.1m-29.1 2.5h2.1m-19.2 2.4h2.1m19.9 0h2.1m-26.6 2.5h2.1m5.3 0h2.1m7.7 0h2.1m5.2 0h2.1m7.7 0h2.1m7.7 0h2.1m-26.6 2.4h2.1m2.8 2.5h2.1m15.1 0h2.1m-16.8 2.4h2.1m2.8 0h2.1m-16.8 4.9h2.1m17.5 0h2.1m-21.8 2.5h2.1"/><path stroke="#e06a20" stroke-width="2.1" fill="none" d="M265.7 368.5h2.1m22.4 19.6h2.1m-2.1 2.4h2.1m0.4 0h2.1m17.5 0h2.1m-31.5 2.5h2.1m-11.9 4.9h2.1m-2.1 2.4h2.1m32.2 2.5h2.1m-46.2 4.9h2.1m10.1 2.4h2.1m-2.1 2.5h2.1m-2.1 2.4h2.1m-2.1 2.5h2.1m0.4 0h2.1"/><path stroke="#e8288a" stroke-width="2.1" fill="none" d="M302.5 368.5h2.1m5.2 2.4h2.1m-29 2.5h2.1m-2.1 2.4h2.1m-19.3 2.5h2.1m34.7 0h2.1m0.3 0h2.1m2.8 0h2.1m-26.6 2.4h2.1m2.8 2.5h2.1m2.8 0h2.1m10.2 0h2.1m-31.5 2.4h2.1m12.6 0h2.1m-11.9 2.5h2.1m2.8 0h2.1m27.3 0h2.1m-34 2.4h2.1m17.5 0h2.1m10.2 0h2.1m-51.1 2.5h2.1m12.6 2.4h2.1m0.3 0h2.1m7.7 0h2.1m5.3 0h2.1m-46.2 2.5h2.1m2.8 0h2.1m5.2 0h2.1m34.6 0h2.1m0.3 0h2.1m-46.2 2.4h2.1m7.7 0h2.1m0.4 0h2.1m0.3 0h2.1m27.3 0h2.1m-51.1 2.5h2.1m0.4 0h2.1m0.3 0h2.1m0.4 0h2.1m10.1 0h2.1m5.3 0h2.1m2.8 0h2.1m5.2 0h2.1m0.4 0h2.1m0.3 0h2.1m2.8 0h2.1m5.3 0h2.1m-38.9 2.4h2.1m5.3 0h2.1m0.3 0h2.1m10.2 0h2.1m-34 2.5h2.1m37 0h2.1m-29 2.4h2.1m2.8 0h2.1m0.3 0h2.1m0.4 0h2.1m2.8 0h2.1m-16.9 2.5h2.1m2.8 0h2.1m0.3 0h2.1m0.4 0h2.1m17.5 0h2.1m0.3 0h2.1m-56 2.4h2.1m15.1 0h2.1m7.7 0h2.1m0.3 0h2.1m-9.4 4.9h2.1m0.3 0h2.1m2.8 0h2.1m2.8 0h2.1m5.3 0h2.1m0.3 0h2.1m0.4 0h2.1m-41.3 2.5h2.1m2.8 0h2.1m0.3 0h2.1m12.6 0h2.1m-24.1 2.4h2.1m19.9 0h2.1"/><path stroke="#6b6b6b" stroke-width="2.1" fill="none" d="M302.5 373.4h2.1m-7 9.8h2.1m0.2 0h2.1m0.4 0h2.1m-29.1 2.4h2.1m20 0h2.1m-34.1 2.5h2.1m24.9 0h2.1m0.3 0h2.1m-43.7 2.4h2.1m14.9 0h2.1m22.3 0h2.1m0.4 0h2.1m0.2 0h2.1m0.4 0h2.1m-51.1 2.5h2.1m14.9 0h2.1m2.7 0h2.1m15.1 0h2.1m5.2 0h2.1m0.4 0h2.1m5.2 0h2.1m-21.7 2.4h2.1m-9.4 4.9h2.1m17.5 0h2.1m-21.7 2.5h2.1m-21.7 2.4h2.1m10.1 0h2.1m5.3 0h2.1m12.6 0h2.1m0.2 0h2.1m10.2 0h2.1m0.3 0h2.1m0.4 0h2.1m-63.4 2.5h2.1m0.3 0h2.1m0.3 0h2.1m39.6 0h2.1m0.3 0h2.1m7.7 0h2.1m-56 2.4h2.1m54.3 0h2.1m-53.6 2.5h2.1m-9.4 2.4h2.1m12.6 0h2.1m-16.8 2.5h2.1m12.6 0h2.1m5.2 0h2.1m-14.3 2.4h2.1m22.4 2.5h2.1m-24.2 2.4h2.1"/><path stroke="#f9f9a6" stroke-width="2.1" fill="none" d="M255.9 380.7h2.1m32.1 0h2.1m0.4 0h2.1m5.2 0h2.1m5.3 0h2.1m-38.9 2.5h2.1m10.1 0h2.1m0.3 0h2.1m5.3 0h2.1m10.1 0h2.1m2.8 0h2.1m-41.3 2.4h2.1m12.5 0h2.1m12.6 0h2.1m0.4 0h2.1m0.3 0h2.1m-4.5 2.5h2.1m7.7 0h2.1m-51.1 2.4h2.1m7.7 2.5h2.1m10.1 0h2.1m24.9 0h2.1m0.3 0h2.1m-16.8 2.4h2.1m15.1 0h2.1m-63.4 2.5h2.1m17.4 0h2.1m7.7 0h2.1m2.8 0h2.1m0.4 0h2.1m5.2 0h2.1m-46.2 2.4h2.1m5.2 0h2.1m19.9 0h2.1m12.6 0h2.1m10.2 0h2.1m-60.9 2.5h2.1m0.2 0h2.1m0.3 0h2.1m12.6 0h2.1m0.3 0h2.1m34.7 0h2.1m-56 2.4h2.1m0.3 0h2.1m2.8 0h2.1m0.4 0h2.1m15 0h2.1m7.7 0h2.1m-29 2.5h2.1m5.2 0h2.1m10.2 0h2.1m10.1 0h2.1m10.2 0h2.1m-34 2.4h2.1m20 0h2.1m-34 2.5h2.1m27.2 0h2.1m0.4 0h2.1m-38.9 2.4h2.1m24.9 0h2.1m5.2 0h2.1m0.4 0h2.1m5.2 0h2.1m-46.2 2.5h2.1m20 0h2.1m2.8 0h2.1m0.3 0h2.1m-36.4 2.4h2.1m2.8 0h2.1m5.3 0h2.1m0.3 0h2.1m0.4 0h2.1m0.3 0h2.1m-4.5 2.5h2.1m0.3 0h2.1m0.4 0h2.1m10.1 0h2.1m-16.8 2.4h2.1m0.4 0h2.1m7.7 0h2.1"/><path stroke="#8fd38f" stroke-width="2.1" fill="none" d="M354.4 321.6h2.1m0.4 0h2.1m-7 2.4h2.1m0.3 0h2.1m0.4 0h2.1m-9.5 2.5h2.1m2.8 0h2.1m0.4 0h2.1m-9.5 2.4h2.1m0.4 0h2.1m0.3 0h2.1m2.8 0h2.1m-14.3 2.5h2.1m0.3 0h2.1m0.4 0h2.1m0.3 0h2.1m2.8 0h2.1m0.4 0h2.1m-16.8 2.4h2.1m0.3 0h2.1m0.4 0h2.1m0.3 0h2.1m7.7 0h2.1m-19.2 2.5h2.1m0.3 0h2.1m0.4 0h2.1m0.3 0h2.1m0.4 0h2.1m2.8 0h2.1m2.8 0h2.1m-21.7 2.4h2.1m0.3 0h2.1m0.4 0h2.1m7.7 0h2.1m0.3 0h2.1m0.4 0h2.1m0.3 0h2.1m-19.2 2.5h2.1m7.7 0h2.1m0.3 0h2.1m0.4 0h2.1m0.3 0h2.1m0.4 0h2.1m-31.6 2.4h2.1m0.3 0h2.1m0.3 0h2.1m5.2 0h2.1m0.4 0h2.1m0.3 0h2.1m2.8 0h2.1m0.4 0h2.1m0.3 0h2.1m0.4 0h2.1m-31.6 2.5h2.1m0.3 0h2.1m0.3 0h2.1m0.3 0h2.1m0.4 0h2.1m0.3 0h2.1m0.4 0h2.1m2.8 0h2.1m0.3 0h2.1m0.4 0h2.1m0.3 0h2.1m-29 2.4h2.1m0.3 0h2.1m0.3 0h2.1m0.3 0h2.1m0.4 0h2.1m0.3 0h2.1m0.4 0h2.1m2.8 0h2.1m0.3 0h2.1m0.4 0h2.1m0.3 0h2.1m2.8 0h2.1m-36.4 2.5h2.1m2.8 0h2.1m0.3 0h2.1m0.3 0h2.1m0.4 0h2.1m0.3 0h2.1m0.4 0h2.1m2.8 0h2.1m0.3 0h2.1m2.8 0h2.1m0.4 0h2.1m0.2 0h2.1m-36.4 2.4h2.1m0.4 0h2.1m0.3 0h2.1m0.3 0h2.1m0.3 0h2.1m0.4 0h2.1m0.3 0h2.1m0.4 0h2.1m0.3 0h2.1m0.4 0h2.1m2.8 0h2.1m0.3 0h2.1m-33.9 2.5h2.1m0.3 0h2.1m0.4 0h2.1m0.3 0h2.1m0.3 0h2.1m2.8 0h2.1m2.8 0h2.1m0.3 0h2.1m0.4 0h2.1m0.3 0h2.1m2.8 0h2.1m0.4 0h2.1m0.2 0h2.1m0.4 0h2.1m-34 2.4h2.1m0.3 0h2.1m0.3 0h2.1m0.4 0h2.1m0.3 0h2.1m0.4 0h2.1m0.3 0h2.1m0.4 0h2.1m0.3 0h2.1m5.3 0h2.1m0.2 0h2.1m-36.4 2.5h2.1m0.4 0h2.1m0.3 0h2.1m0.3 0h2.1m0.3 0h2.1m0.4 0h2.1m0.3 0h2.1m0.4 0h2.1m0.3 0h2.1m5.3 0h2.1m2.8 0h2.1m-34.1 2.4h2.1m5.3 0h2.1m0.3 0h2.1m0.4 0h2.1m0.3 0h2.1m0.4 0h2.1m0.3 0h2.1m0.4 0h2.1m0.3 0h2.1m0.4 0h2.1m0.3 0h2.1m0.4 0h2.1m0.2 0h2.1m-43.7 2.5h2.1m7.7 0h2.1m2.8 0h2.1m0.3 0h2.1m0.4 0h2.1m10.1 0h2.1m0.4 0h2.1m0.3 0h2.1m0.4 0h2.1m0.2 0h2.1m0.4 0h2.1m-38.9 2.4h2.1m0.4 0h2.1m2.8 0h2.1m2.8 0h2.1m5.2 0h2.1m2.8 0h2.1m0.4 0h2.1m0.3 0h2.1m2.8 0h2.1m-41.3 2.5h2.1m0.4 0h2.1m0.3 0h2.1m0.4 0h2.1m0.3 0h2.1m0.3 0h2.1m7.7 0h2.1m7.7 0h2.1m0.3 0h2.1m0.4 0h2.1m0.2 0h2.1m-46.2 2.4h2.1m5.3 0h2.1m0.3 0h2.1m0.4 0h2.1m0.3 0h2.1m2.7 0h2.1m7.7 0h2.1m0.4 0h2.1m0.3 0h2.1m2.8 0h2.1m0.4 0h2.1m0.2 0h2.1m-46.2 2.5h2.1m2.8 0h2.1m0.4 0h2.1m0.3 0h2.1m7.7 0h2.1m0.4 0h2.1m0.3 0h2.1m5.3 0h2.1m0.3 0h2.1m2.8 0h2.1m0.4 0h2.1m-41.4 2.4h2.1m0.3 0h2.1m0.4 0h2.1m0.3 0h2.1m5.3 0h2.1m12.6 0h2.1m0.3 0h2.1m2.8 0h2.1m-43.7 2.5h2.1m2.8 0h2.1m0.3 0h2.1m2.8 0h2.1m0.4 0h2.1m10.1 0h2.1m2.8 0h2.1m0.4 0h2.1m5.2 0h2.1m0.4 0h2.1m2.7 0h2.1m0.3 0h2.1m-51.1 2.4h2.1m12.6 0h2.1m0.3 0h2.1m0.3 0h2.1m2.8 0h2.1m2.8 0h2.1m2.8 0h2.1m0.4 0h2.1m10.1 0h2.1m-46.2 2.5h2.1m7.7 0h2.1m5.2 0h2.1m5.2 0h2.1m17.5 0h2.1m0.4 0h2.1m-48.7 2.4h2.1m20 0h2.1m0.3 0h2.1m0.4 0h2.1m15 0h2.1m5.3 0h2.1m0.3 0h2.1m-33.9 2.5h2.1m0.3 0h2.1m17.5 0h2.1m0.4 0h2.1m5.2 0h2.1m0.4 0h2.1m-51.1 2.4h2.1m5.2 0h2.1m0.4 0h2.1m0.3 0h2.1m24.9 0h2.1m2.8 0h2.1m0.3 0h2.1m0.4 0h2.1m-48.7 2.5h2.1m0.3 0h2.1m0.3 0h2.1m29.8 0h2.1m0.3 0h2.1m0.4 0h2.1m0.3 0h2.1m-41.3 2.4h2.1m12.6 0h2.1m7.7 0h2.1m5.3 0h2.1m0.3 0h2.1m2.8 0h2.1m-56 2.5h2.1m2.8 0h2.1m10.2 0h2.1m7.7 0h2.1m22.4 0h2.1m-26.6 2.4h2.1m22.4 0h2.1m2.8 0h2.1m-58.5 2.5h2.1m0.4 0h2.1m10.1 0h2.1m12.6 0h2.1m0.4 0h2.1m10.1 0h2.1m0.4 0h2.1m0.3 0h2.1m5.3 0h2.1m-43.8 2.4h2.1m32.2 0h2.1m2.8 0h2.1m0.4 0h2.1m-9.5 2.5h2.1m0.4 0h2.1m2.8 0h2.1m-43.8 2.4h2.1m12.6 0h2.1m0.4 0h2.1m-34 2.5h2.1m7.7 0h2.1m2.7 0h2.1m15.1 0h2.1m0.3 0h2.1m-4.5 2.4h2.1"/><path stroke="#e8288a" stroke-width="2.1" fill="none" d="M356.9 328.9h2.1m-2.1 2.5h2.1m7.7 24.5h2.1m-2.1 2.4h2.1m-36.4 14.7h2.1m0.3 0h2.1m29.8 0h2.1m-36.4 2.5h2.1m32.2 0h2.1m-16.8 2.4h2.1m-24.2 2.5h2.1m51.8 2.4h2.1m-58.4 2.5h2.1m19.9 0h2.1m20 0h2.1m-24.3 2.4h2.1m-19.2 2.5h2.1m15 0h2.1m-19.2 2.4h2.1m34.6 0h2.1m-38.8 2.5h2.1m5.2 0h2.1m0.4 0h2.1m24.8 0h2.1m5.3 0h2.1m-16.8 2.4h2.1m-16.8 2.5h2.1m0.3 0h2.1m-14.3 2.4h2.1m5.2 0h2.1m0.3 0h2.1m2.8 0h2.1m-2.1 2.5h2.1m10.1 2.4h2.1m2.8 0h2.1m0.4 2.5h2.1m-36.5 7.3h2.1m7.7 0h2.1m0.3 0h2.1m12.6 0h2.1"/><path stroke="#4f70c0" stroke-width="2.1" fill="none" d="M356.9 333.8h2.1m0.3 0h2.1m-2.1 2.5h2.1m-14.3 4.9h2.1m0.3 0h2.1m-2.1 2.4h2.1m0.4 0h2.1m5.2 4.9h2.1m-2.1 2.5h2.1m2.8 2.4h2.1m5.3 0h2.1m0.2 0h2.1m-33.9 4.9h2.1m17.5 2.5h2.1m-21.7 2.4h2.1m0.3 0h2.1m7.6 2.5h2.1m0.4 0h2.1m-14.4 2.4h2.1m7.6 0h2.1m0.4 0h2.1m12.6 0h2.1m-26.7 4.9h2.1m-4.6 2.5h2.1m0.3 0h2.1m7.7 0h2.1m0.3 0h2.1m10.2 7.3h2.1m-19.4 2.5h2.1m10.2 2.4h2.1m2.8 7.4h2.1m5.1 2.4h2.1m-43.7 2.5h2.1m-7 2.4h2.1m27.3 7.4h2.1m0.3 0h2.1m-4.5 2.4h2.1m-2.1 2.5h2.1m-2.1 2.4h2.1"/><path stroke="#bdb1dc" stroke-width="2.1" fill="none" d="M364.2 336.3h2.1m-11.9 2.4h2.1m0.4 0h2.1m0.3 0h2.1m-7 2.5h2.1m0.4 0h2.1m0.3 0h2.1m-7 14.7h2.1m12.6 2.4h2.1m-2.1 2.5h2.1m-26.6 4.9h2.1m5.2 4.9h2.1m22.4 0h2.1m-2.1 2.4h2.1m-51.1 4.9h2.1m24.8 0h2.1m-19.2 2.5h2.1m5.2 0h2.1m5.2 0h2.1m-16.8 2.4h2.1m29.7 0h2.1m2.8 0h2.1m0.4 0h2.1m-48.7 2.5h2.1m0.4 0h2.1m29.7 0h2.1m0.4 0h2.1m0.3 0h2.1m-7 2.4h2.1m-38.8 2.5h2.1m32.2 0h2.1m2.8 0h2.1m0.3 0h2.1m15.1 0h2.1m-21.7 2.4h2.1m15 0h2.1m-31.5 2.5h2.1m17.5 0h2.1m-41.3 2.4h2.1m0.4 0h2.1m0.3 0h2.1m0.4 0h2.1m0.3 0h2.1m24.8 0h2.1m12.5 0h2.1m-16.8 2.5h2.1m0.2 0h2.1m5.3 0h2.1m0.3 0h2.1m-51.1 2.4h2.1m39.6 0h2.1m2.8 0h2.1m0.3 0h2.1m2.8 0h2.1m-14.3 2.5h2.1m7.7 0h2.1m-51.1 2.4h2.1m19.9 0h2.1m0.4 0h2.1m17.5 0h2.1m2.8 0h2.1m-53.6 2.5h2.1m0.4 0h2.1m19.9 0h2.1m-9.4 2.4h2.1m-14.4 2.5h2.1m15.1 4.9h2.1"/><path stroke="#f2c38a" stroke-width="2.1" fill="none" d="M344.6 338.7h2.1m-2.2 2.5h2.1m-9.5 19.6h2.1m-4.6 2.4h2.1m0.4 0h2.1m-2.1 2.5h2.1m0.3 0h2.1m17.5 0h2.1m0.4 0h2.1m-26.6 2.4h2.1m22.4 0h2.1m-2.1 2.5h2.1m0.3 0h2.1m7.7 4.9h2.1m0.4 0h2.1m-34 2.4h2.1m19.9 0h2.1m5.2 0h2.1m0.4 0h2.1m-11.9 2.5h2.1m-21.7 4.9h2.1m24.8 0h2.1m-33.9 2.4h2.1m2.8 0h2.1m32.2 0h2.1m0.3 0h2.1m-56 2.5h2.1m22.4 0h2.1m-21.7 2.4h2.1m27.3 0h2.1m12.6 0h2.1m-46.2 2.5h2.1m0.4 0h2.1m24.8 0h2.1m0.4 2.4h2.1m7.7 0h2.1m-21.7 2.5h2.1m7.7 0h2.1m-19.3 2.4h2.1m7.7 0h2.1m7.7 0h2.1m0.4 0h2.1m0.2 0h2.1m2.8 0h2.1m-11.9 2.5h2.1m-14.3 2.4h2.1m7.7 0h2.1m-26.6 2.5h2.1m0.3 0h2.1m10.1 0h2.1m7.7 0h2.1m-26.6 2.4h2.1m34.6 0h2.1m-29 2.5h2.1m5.2 0h2.1m-21.7 2.4h2.1m0.4 0h2.1m0.3 0h2.1m12.5 2.5h2.1m0.4 0h2.1"/><path stroke="#c8621e" stroke-width="2.1" fill="none" d="M361.8 343.6h2.1m-4.6 2.5h2.1m-19.2 4.9h2.1m5.2 4.9h2.1m-11.9 2.4h2.1m22.4 2.5h2.1m-9.4 12.2h2.1m19.9 2.5h2.1m-24.1 4.9h2.1m-26.6 2.4h2.1m22.4 0h2.1m2.8 0h2.1m-26.6 2.5h2.1m22.4 0h2.1m-4.6 7.3h2.1m0.4 0h2.1m-2.1 2.5h2.1m-16.8 9.8h2.1m-4.6 2.4h2.1m0.3 2.5h2.1m-4.6 2.4h2.1m0.3 0h2.1m5.2 0h2.1m-9.4 2.5h2.1m5.2 0h2.1m-4.5 2.4h2.1m0.3 2.5h2.1"/><path stroke="#e06a20" stroke-width="2.1" fill="none" d="M349.5 368.1h2.1m-2.1 2.5h2.1m22.4 17.1h2.1m-24.1 2.5h2.1m7.7 14.7h2.1"/><path stroke="#3aa57a" stroke-width="2.1" fill="none" d="M332.4 370.6h2.1"/><path stroke="#6b6b6b" stroke-width="2.1" fill="none" d="M354.4 370.6h2.1m-4.5 2.4h2.1m0.3 0h2.1m-14.3 4.9h2.1m19.9 2.5h2.1m-14.3 2.4h2.1m27.3 0h2.1m-26.6 2.5h2.1m-29.1 2.4h2.1m0.4 0h2.1m2.8 0h2.1m0.3 0h2.1m2.8 0h2.1m5.2 0h2.1m15 0h2.1m0.4 0h2.1m-34.1 2.5h2.1m5.3 0h2.1m22.4 0h2.1m0.2 0h2.1m0.4 0h2.1m-38.9 2.4h2.1m5.3 0h2.1m22.4 0h2.1m0.2 0h2.1m0.4 0h2.1m0.3 2.5h2.1m-33.9 2.4h2.1m-7 2.5h2.1m12.6 2.4h2.1m0.3 2.5h2.1m-14.3 2.4h2.1m22.4 0h2.1m0.2 0h2.1m0.4 0h2.1m-29.1 2.5h2.1m22.4 0h2.1m-19.2 2.4h2.1m0.3 0h2.1m-2.1 4.9h2.1m-19.2 2.5h2.1m2.8 0h2.1m0.3 0h2.1"/><path stroke="#f9f9a6" stroke-width="2.1" fill="none" d="M349.5 377.9h2.1m5.3 0h2.1m0.3 0h2.1m10.2 0h2.1m-26.7 2.5h2.1m0.3 0h2.1m-16.8 2.4h2.1m2.8 0h2.1m0.4 0h2.1m-4.6 2.5h2.1m0.4 0h2.1m32.2 0h2.1m5.2 0h2.1m-58.4 2.4h2.1m24.8 0h2.1m20 0h2.1m-43.8 2.5h2.1m0.4 0h2.1m2.8 0h2.1m0.3 0h2.1m-9.5 2.4h2.1m17.5 0h2.1m-7 2.5h2.1m2.8 0h2.1m0.3 0h2.1m5.3 0h2.1m-38.9 2.4h2.1m0.4 0h2.1m17.5 0h2.1m0.3 0h2.1m0.4 0h2.1m0.3 0h2.1m7.7 0h2.1m-41.3 2.5h2.1m0.4 0h2.1m10.1 0h2.1m7.6 0h2.1m7.7 0h2.1m2.8 0h2.1m5.3 0h2.1m0.3 0h2.1m-51.1 2.4h2.1m7.7 0h2.1m0.4 0h2.1m10.1 0h2.1m7.7 0h2.1m0.4 0h2.1m-38.9 2.5h2.1m0.4 0h2.1m5.2 0h2.1m0.4 0h2.1m0.3 0h2.1m7.6 0h2.1m0.4 0h2.1m12.6 0h2.1m0.2 0h2.1m-41.3 2.4h2.1m2.8 0h2.1m0.4 0h2.1m7.7 0h2.1m0.3 0h2.1m22.4 0h2.1m-41.3 2.5h2.1m10.2 0h2.1m0.3 0h2.1m12.6 0h2.1m-33.9 2.4h2.1m0.3 0h2.1m27.3 0h2.1m0.4 0h2.1m0.2 0h2.1m-38.8 2.5h2.1m2.8 0h2.1m12.6 2.4h2.1"/><path stroke="#8fd38f" stroke-width="2.1" fill="none" d="M412.3 319.6h2.1m2.8 0h2.1m0.3 0h2.1m-4.6 2.4h2.1m2.8 0h2.1m-7 2.5h2.1m0.3 0h2.1m2.7 0h2.1m-16.8 2.4h2.1m0.4 0h2.1m0.3 0h2.1m2.8 0h2.1m0.3 0h2.1m-14.4 2.5h2.1m0.4 0h2.1m0.3 0h2.1m0.4 0h2.1m0.3 0h2.1m0.3 0h2.1m0.3 0h2.1m-19.2 2.4h2.1m0.3 0h2.1m2.8 0h2.1m0.4 0h2.1m0.3 0h2.1m0.3 0h2.1m-16.8 2.5h2.1m0.3 0h2.1m0.4 0h2.1m0.3 0h2.1m0.4 0h2.1m0.3 0h2.1m5.2 0h2.1m-21.7 2.4h2.1m0.3 0h2.1m0.4 0h2.1m2.8 0h2.1m2.8 0h2.1m-14.4 2.5h2.1m0.4 0h2.1m0.3 0h2.1m0.4 0h2.1m0.3 0h2.1m0.3 0h2.1m5.2 0h2.1m-24.1 2.4h2.1m0.3 0h2.1m0.4 0h2.1m0.3 0h2.1m0.4 0h2.1m5.2 0h2.1m0.4 0h2.1m0.3 0h2.1m-21.7 2.5h2.1m0.4 0h2.1m2.8 0h2.1m5.2 0h2.1m5.3 0h2.1m0.3 0h2.1m-29 2.4h2.1m2.8 0h2.1m0.3 0h2.1m0.4 0h2.1m7.7 0h2.1m0.3 0h2.1m0.4 0h2.1m-24.2 2.5h2.1m0.4 0h2.1m0.3 0h2.1m0.4 0h2.1m2.8 0h2.1m2.8 0h2.1m0.3 0h2.1m0.4 0h2.1m-26.6 2.4h2.1m0.3 0h2.1m0.4 0h2.1m0.3 0h2.1m12.6 0h2.1m0.4 0h2.1m0.3 0h2.1m0.4 0h2.1m-29.1 2.5h2.1m0.4 0h2.1m0.3 0h2.1m2.8 0h2.1m0.3 0h2.1m5.2 0h2.1m0.4 0h2.1m0.3 0h2.1m0.4 0h2.1m0.3 0h2.1m-29 2.4h2.1m0.3 0h2.1m2.8 0h2.1m5.2 0h2.1m0.3 0h2.1m0.4 0h2.1m-26.6 2.5h2.1m0.3 0h2.1m0.4 0h2.1m0.3 0h2.1m0.4 0h2.1m0.3 0h2.1m2.7 0h2.1m0.4 0h2.1m0.3 0h2.1m0.4 0h2.1m0.3 0h2.1m0.4 0h2.1m0.3 0h2.1m-33.9 2.4h2.1m5.2 0h2.1m5.3 0h2.1m0.3 0h2.1m0.4 0h2.1m0.3 0h2.1m-19.2 2.5h2.1m0.3 0h2.1m0.4 0h2.1m7.7 0h2.1m0.3 0h2.1m0.4 0h2.1m0.3 0h2.1m-26.6 2.4h2.1m0.4 0h2.1m0.3 0h2.1m0.4 0h2.1m0.3 0h2.1m0.3 0h2.1m0.3 0h2.1m5.3 0h2.1m0.3 0h2.1m2.8 0h2.1m-36.4 2.5h2.1m2.8 0h2.1m0.4 0h2.1m0.3 0h2.1m5.3 0h2.1m0.3 0h2.1m-19.2 2.4h2.1m2.8 0h2.1m12.6 0h2.1m10.1 0h2.1m0.4 0h2.1m-36.4 2.5h2.1m0.3 0h2.1m10.2 0h2.1m19.9 0h2.1m-38.8 2.4h2.1m2.8 0h2.1m7.7 0h2.1m5.2 0h2.1m0.4 0h2.1m7.7 0h2.1m0.3 0h2.1m-14.3 2.5h2.1m5.2 0h2.1m0.4 0h2.1m-34 2.4h2.1m15.1 0h2.1m0.3 0h2.1m0.4 0h2.1m0.3 0h2.1m0.4 0h2.1m7.7 0h2.1m-41.4 2.5h2.1m2.8 0h2.1m-4.6 2.4h2.1m2.8 0h2.1m22.4 0h2.1m-4.5 2.5h2.1m-24.2 2.4h2.1m0.4 0h2.1m15 0h2.1m-19.2 4.9h2.1m0.3 0h2.1m24.8 0h2.1m0.2 0h2.1m0.4 0h2.1m-48.7 2.5h2.1m0.4 0h2.1m10.1 0h2.1m12.5 0h2.1m12.6 0h2.1m-43.7 2.4h2.1m7.7 0h2.1m0.3 0h2.1m27.2 0h2.1m-43.7 2.5h2.1m24.8 0h2.1m-4.5 2.4h2.1m0.3 0h2.1m0.4 0h2.1m-16.8 2.5h2.1m-14.4 2.4h2.1m27.3 0h2.1m0.4 2.5h2.1m-34 2.4h2.1m-2.1 2.5h2.1m0.4 0h2.1m7.7 0h2.1m5.2 0h2.1m5.3 0h2.1m-29.1 2.4h2.1m15.1 2.5h2.1"/><path stroke="#bdb1dc" stroke-width="2.1" fill="none" d="M412.3 322h2.1m2.8 4.9h2.1m2.8 7.4h2.1m0.3 0h2.1m-2.1 2.4h2.1m0.4 0h2.1m-21.7 2.5h2.1m24.8 7.3h2.1m-2.1 2.5h2.1m0.4 0h2.1m-29.1 7.3h2.1m10.2 7.4h2.1m0.3 0h2.1m-19.2 2.4h2.1m-2.1 2.5h2.1m0.3 2.4h2.1m2.8 2.5h2.1m20 0h2.1m0.3 0h2.1m-16.8 2.4h2.1m-16.8 2.5h2.1m0.4 0h2.1m12.6 0h2.1m-14.4 4.9h2.1m0.4 0h2.1m29.7 0h2.1m-33.9 2.4h2.1m29.7 0h2.1m-48.6 2.5h2.1m15 0h2.1m10.1 2.4h2.1m2.8 0h2.1m7.7 0h2.1m0.2 0h2.1m-14.3 2.5h2.1m0.3 0h2.1m0.4 0h2.1m-29.1 2.4h2.1m17.5 0h2.1m0.4 0h2.1m5.2 0h2.1m-26.6 7.4h2.1m27.2 0h2.1m-43.7 2.4h2.1m2.8 0h2.1m0.3 0h2.1m24.9 0h2.1m-11.9 2.5h2.1m7.7 0h2.1m-21.7 2.4h2.1m5.2 2.5h2.1m0.4 0h2.1m-4.6 2.4h2.1m5.3 0h2.1m-7 2.5h2.1m-21.7 2.4h2.1m5.2 2.5h2.1"/><path stroke="#4f70c0" stroke-width="2.1" fill="none" d="M414.7 322h2.1m2.8 0h2.1m-7.1 2.5h2.1m2.8 17.1h2.1m0.3 0h2.1m-4.6 2.5h2.1m0.3 0h2.1m2.8 0h2.1m-9.5 2.4h2.1m0.3 0h2.1m0.3 0h2.1m-7 2.5h2.1m-4.6 2.4h2.1m0.3 0h2.1m2.7 0h2.1m-19.2 2.5h2.1m7.7 0h2.1m-11.9 2.4h2.1m7.7 0h2.1m15 0h2.1m0.4 0h2.1m-16.8 2.5h2.1m-14.4 2.4h2.1m-4.5 2.5h2.1m0.3 0h2.1m24.9 4.9h2.1m-9.5 2.4h2.1m0.4 0h2.1m2.8 0h2.1m-4.6 12.3h2.1m-11.9 2.4h2.1m-2.1 7.4h2.1m-24.1 4.9h2.1m39.5 0h2.1m5.3 0h2.1m-51.1 2.4h2.1"/><path stroke="#c8621e" stroke-width="2.1" fill="none" d="M409.8 324.5h2.1m7.7 12.2h2.1m2.7 2.5h2.1m2.8 4.9h2.1m-21.7 2.4h2.1m12.6 2.5h2.1m0.4 2.4h2.1m-4.6 2.5h2.1m0.4 0h2.1m-4.6 2.4h2.1m-9.4 4.9h2.1m0.3 0h2.1m-2.2 2.5h2.1m5.2 2.4h2.1m0.3 0h2.1m-4.5 2.5h2.1m10.1 0h2.1m0.4 0h2.1m-38.9 2.4h2.1m12.6 0h2.1m-16.9 2.5h2.1m29.8 2.4h2.1m-21.7 2.5h2.1m5.2 0h2.1m-9.4 2.4h2.1m0.3 0h2.1m-2.2 2.5h2.1m22.3 2.4h2.1m0.4 0h2.1m-29.2 4.9h2.1m0.3 0h2.1m0.3 0h2.1m-7 2.5h2.1m0.3 0h2.1m-9.5 4.9h2.1m10.2 0h2.1m0.3 0h2.1m0.4 0h2.1m0.3 2.4h2.1m-11.9 2.5h2.1m15.1 0h2.1m-24.2 2.4h2.1m2.7 0h2.1m0.4 0h2.1m-24.2 2.5h2.1m0.4 0h2.1m19.9 0h2.1m-26.6 2.4h2.1m22.4 0h2.1m12.6 0h2.1m-29 2.5h2.1m-2.1 2.4h2.1m-4.6 2.5h2.1m0.4 0h2.1m-4.6 2.4h2.1"/><path stroke="#3aa57a" stroke-width="2.1" fill="none" d="M412.3 331.8h2.1m7.7 24.5h2.1m-11.9 4.9h2.1m15 7.4h2.1"/><path stroke="#f2c38a" stroke-width="2.1" fill="none" d="M414.7 336.7h2.1m-2.1 7.4h2.1m5.3 7.3h2.1m17.5 14.7h2.1m-26.6 4.9h2.1m-7 2.5h2.1m0.3 2.4h2.1m10.2 0h2.1m10.1 0h2.1m-36.4 2.5h2.1m0.4 0h2.1m5.2 0h2.1m27.3 0h2.1m-38.8 2.4h2.1m34.6 0h2.1m-41.3 2.5h2.1m20 0h2.1m10.1 0h2.1m-14.3 2.4h2.1m-21.7 2.5h2.1m0.3 0h2.1m5.3 0h2.1m15 0h2.1m2.8 0h2.1m-36.4 2.4h2.1m0.4 0h2.1m0.3 0h2.1m15.1 0h2.1m0.3 0h2.1m12.6 0h2.1m-38.8 2.5h2.1m0.3 0h2.1m17.5 0h2.1m0.4 0h2.1m0.3 0h2.1m7.7 0h2.1m0.4 0h2.1m-43.9 2.4h2.1m24.9 0h2.1m-9.5 2.5h2.1m12.6 0h2.1m5.3 0h2.1m-39 2.4h2.1m20 0h2.1m2.8 0h2.1m7.7 0h2.1m-26.7 2.5h2.1m5.2 0h2.1m-2.1 2.4h2.1m-29 2.5h2.1m29.7 0h2.1m-2.1 2.4h2.1m0.4 0h2.1m-29.1 2.5h2.1m22.4 0h2.1m0.4 0h2.1m-7 2.4h2.1m0.3 0h2.1m-16.8 2.5h2.1m2.7 0h2.1m-9.4 2.4h2.1m0.3 0h2.1m0.3 0h2.1m0.3 0h2.1m-11.9 2.5h2.1m0.4 0h2.1m5.2 0h2.1m-14.3 2.4h2.1"/><path stroke="#e8288a" stroke-width="2.1" fill="none" d="M431.9 361.2h2.1m0.3 0h2.1m0.4 0h2.1m0.3 0h2.1m-4.5 2.5h2.1m-4.6 4.9h2.1m-14.3 2.4h2.1m0.3 0h2.1m7.7 0h2.1m-11.9 2.5h2.1m0.4 0h2.1m5.2 0h2.1m-26.6 2.4h2.1m27.3 4.9h2.1m-16.8 2.5h2.1m10.2 0h2.1m-16.8 2.4h2.1m17.5 0h2.1m-21.7 2.5h2.1m2.8 0h2.1m12.6 0h2.1m2.8 0h2.1m0.2 0h2.1m-11.9 2.4h2.1m12.6 0h2.1m-43.7 2.5h2.1m0.3 0h2.1m-4.5 2.4h2.1m7.7 0h2.1m0.3 0h2.1m0.4 0h2.1m12.6 0h2.1m-2.1 2.5h2.1m-38.9 2.4h2.1m20 0h2.1m0.3 0h2.1m7.7 0h2.1m0.4 0h2.1m0.3 0h2.1m-41.3 2.5h2.1m2.8 0h2.1m15.1 0h2.1m15 0h2.1m0.4 0h2.1m-39 2.4h2.1m32.2 0h2.1m-26.6 2.5h2.1m17.4 0h2.1m-33.9 2.4h2.1m10.1 0h2.1m-14.4 2.5h2.1m10.1 0h2.1m22.3 0h2.1m-26.6 2.4h2.1m0.3 0h2.1m0.3 0h2.1m12.6 0h2.1m0.4 0h2.1m0.3 0h2.1m-4.5 2.5h2.1"/><path stroke="#f9f9a6" stroke-width="2.1" fill="none" d="M404.9 363.7h2.1m-2.1 2.4h2.1m10.2 7.4h2.1m0.3 0h2.1m7.6 0h2.1m-26.6 2.4h2.1m10.2 0h2.1m-7 4.9h2.1m0.3 0h2.1m7.7 0h2.1m-16.8 2.5h2.1m17.5 0h2.1m-29 2.4h2.1m7.7 0h2.1m5.2 0h2.1m7.6 0h2.1m-19.2 2.5h2.1m0.3 0h2.1m12.6 0h2.1m-19.2 2.4h2.1m27.3 0h2.1m-26.6 2.5h2.1m29.7 0h2.1m0.4 0h2.1m-24.2 2.4h2.1m7.7 0h2.1m-4.5 2.5h2.1m-26.6 2.4h2.1m0.3 0h2.1m5.3 0h2.1m-11.9 2.5h2.1m0.3 0h2.1m0.4 0h2.1m-16.8 2.4h2.1m12.6 0h2.1m-4.6 2.5h2.1m0.4 0h2.1m5.2 0h2.1m10.2 0h2.1m5.2 0h2.1m0.4 0h2.1m-36.5 2.4h2.1m0.3 0h2.1m24.9 0h2.1m-31.5 2.5h2.1m7.7 0h2.1m15 0h2.1m-29 2.4h2.1m19.9 2.5h2.1"/><path stroke="#6b6b6b" stroke-width="2.1" fill="none" d="M436.8 366.1h2.1m-21.7 2.5h2.1m0.3 0h2.1m10.1 0h2.1m-14.4 7.3h2.1m-2.2 2.5h2.1m0.3 0h2.1m5.2 0h2.1m2.8 0h2.1m0.4 0h2.1m-16.8 2.4h2.1m17.5 0h2.1m-21.7 2.5h2.1m7.7 0h2.1m7.7 0h2.1m0.3 0h2.1m-41.3 2.4h2.1m0.4 0h2.1m22.4 0h2.1m0.3 0h2.1m0.4 0h2.1m-14.4 2.5h2.1m5.3 0h2.1m10.1 0h2.1m5.3 2.4h2.1m-51.1 2.5h2.1m22.4 0h2.1m-21.7 2.4h2.1m0.3 0h2.1m-2.1 2.5h2.1m0.4 0h2.1m2.8 0h2.1m2.8 0h2.1m0.3 2.4h2.1m5.3 2.5h2.1m5.2 0h2.1m-19.2 2.4h2.1m15 0h2.1m5.3 0h2.1m-39 2.5h2.1m0.4 0h2.1m12.6 0h2.1m-4.6 2.4h2.1m0.4 0h2.1m-14.4 2.5h2.1m7.7 0h2.1m0.4 0h2.1m-24.2 2.4h2.1m0.4 0h2.1m5.2 0h2.1m10.2 0h2.1m-2.1 2.5h2.1m-2.1 2.4h2.1"/><path stroke="#e06a20" stroke-width="2.1" fill="none" d="M404.9 393.1h2.1"/><text x="307" y="425.2" font-size="9.2">500μm</text><line x1="311" y1="430.4" x2="336" y2="430.4" stroke="#000" stroke-width="1.3" /><line x1="272.5" y1="423" x2="262.2" y2="441.3" stroke="#555" stroke-width="0.5" stroke-dasharray="1.5,1.2"/><line x1="301.4" y1="423" x2="311.7" y2="441.3" stroke="#555" stroke-width="0.5" stroke-dasharray="1.5,1.2"/><line x1="346" y1="416" x2="333.9" y2="441.3" stroke="#555" stroke-width="0.5" stroke-dasharray="1.5,1.2"/><line x1="372" y1="412" x2="382.9" y2="441.3" stroke="#555" stroke-width="0.5" stroke-dasharray="1.5,1.2"/><line x1="410" y1="416" x2="405.3" y2="441.3" stroke="#555" stroke-width="0.5" stroke-dasharray="1.5,1.2"/><line x1="440" y1="414" x2="454.7" y2="441.3" stroke="#555" stroke-width="0.5" stroke-dasharray="1.5,1.2"/><clipPath id="cp262"><rect x="262.2" y="441.3" width="49.5" height="48.8"/></clipPath><rect x="262.2" y="441.3" width="49.5" height="48.8" fill="#fff" /><g clip-path="url(#cp262)" stroke="#000" stroke-width="1.05" stroke-linejoin="round"><path fill="#5ad0f8" d="M270.9 441.7 282.7 441.7 281.7 450.2 276 451.6 272.2 448.3Z"/><path fill="#a020f0" d="M284.6 441.7 293.1 441.7 295 447.4 293.1 455 288.4 456.9 283.6 453.1 283.1 445.5Z"/><path fill="#a020f0" d="M294.1 441.7 302.6 441.7 304.5 447.4 298.8 452.1 295 447.4Z"/><path fill="#5ad0f8" d="M303.5 441.7 313 441.7 313 445.5 307.7 447 304.5 444.5Z"/><path fill="#b86a28" d="M304.5 449.3 313 447.4 313 462.6 307.3 463.5 301.7 456.9 301.3 453.1Z"/><path fill="#a020f0" d="M272.2 454 279.8 452.7 285.5 455.9 286.5 462.6 280.8 466.7 271.3 464.5 269.4 458.8Z"/><path fill="#a020f0" d="M293.1 455 301.7 456.9 307.7 464.5 306.4 468.3 298.8 470.2 292.2 467.3 291.2 460.7Z"/><path fill="#d8e040" d="M260.8 464.1 267.5 463.5 269.4 469.2 267.9 474 260.8 474.9Z"/><path fill="#5ad0f8" d="M270.3 466.4 280.8 467.3 286.5 471.1 285.5 478.7 278.9 479.7 271.3 475.9 269.4 471.1Z"/><path fill="#5ad0f8" d="M260.8 476.8 267.5 474 276 476.8 278.9 481.5 276 487.2 268.4 487.6 260.8 481.5Z"/><path fill="#b86a28" d="M283.6 480.6 292.2 478.7 298.8 482.5 300.7 491 281.7 491 281.2 484.4Z"/><path fill="#a020f0" d="M296.9 472.1 307.3 468.3 313 469.2 313 491 301.7 491 296 484.4 295 477.8Z"/><path fill="#5ad0f8" d="M260.8 483.1 266.5 483.4 267.5 491 260.8 491Z"/><path fill="#d0f0b0" d="M269.4 488.2 277 487.6 277.9 491 269 491Z"/></g><rect x="262.2" y="441.3" width="49.5" height="48.8" fill="none" stroke="#000" stroke-width="1.2"/><clipPath id="cp333"><rect x="333.9" y="441.3" width="49" height="48.8"/></clipPath><rect x="333.9" y="441.3" width="49" height="48.8" fill="#fff" /><g clip-path="url(#cp333)" stroke="#000" stroke-width="1.05" stroke-linejoin="round"><path fill="#ff5020" d="M333 440.7 349.1 440.7 351 449.3 348.1 455.9 342.5 457.8 335.8 455 333 451.2Z"/><path fill="#d0f0b0" d="M333 455.9 338.7 456.9 340.6 461.6 337.7 467.3 333 468.6Z"/><path fill="#5ad0f8" d="M357.6 440.7 373.8 440.7 371.9 444 366.2 445.1 359.5 444Z"/><path fill="#a020f0" d="M377.6 440.7 384.2 440.7 384.2 455 380.4 452.1 377.6 446.4Z"/><path fill="#a020f0" d="M345.3 467.3 354.8 464.8 362.4 467.3 364.3 474 362.4 484.4 356.7 489.1 347.2 488.8 343.4 482.5 343 474Z"/><path fill="#ff5020" d="M363.3 472.1 371.9 470.2 380.4 471.1 384.2 475.9 384.2 491 362.4 491 362 484.4 364.3 476.8Z"/></g><rect x="333.9" y="441.3" width="49" height="48.8" fill="none" stroke="#000" stroke-width="1.2"/><clipPath id="cp405"><rect x="405.3" y="441.3" width="49.4" height="49"/></clipPath><rect x="405.3" y="441.3" width="49.4" height="49" fill="#fff" /><g clip-path="url(#cp405)" stroke="#000" stroke-width="1.05" stroke-linejoin="round"><path fill="#a020f0" d="M404.8 451.3 410.5 446.9 417.5 446.1 422.8 447.4 425 451.8 424.5 458.8 421.9 463.2 416.6 464.9 410.5 464.9 404.8 464Z"/><path fill="#c8b460" d="M426.3 445.6 440.3 443.9 440.7 449.1 439 451.8 433.3 452.2 426.7 452.6Z"/><path fill="#5ad0f8" d="M442.9 440.8 455.2 440.8 455.2 445.6 443.8 445.6 442.9 444.3Z"/><path fill="#5ad0f8" d="M449.9 454.4 455.2 451.3 455.2 462.3 451.7 463.2 449.9 458.8Z"/><path fill="#60f040" d="M426.7 455.7 432.4 453.1 440.3 452.2 439 457 435 462.3 431.1 464.9 428 462.3 426.3 458.8Z"/><path fill="#a020f0" d="M435 464.9 438.5 457.9 442 454.8 446.4 457 449.5 463.2 447.3 467.1 442 468 435.9 467.5Z"/><path fill="#60f0d8" d="M404.8 465.8 413.1 466.2 412.7 472.8 410.9 478.5 404.8 478Z"/><path fill="#b86a28" d="M419.7 466.2 423.2 464 427.2 464 430.2 467.5 430.2 473.7 426.3 474.5 422.8 472.8 420.6 469.3Z"/><path fill="#ff5020" d="M434.6 471 439.4 469.3 449.9 469.7 453 473.7 452.1 478 448.2 481.5 442 482.4 437.7 479.8 435 474.5Z"/><path fill="#d0f0b0" d="M417.5 481.5 421.9 477.2 427.2 476.7 426.3 483.3 424.5 486.8 420.1 485Z"/><path fill="#a020f0" d="M425.4 488.1 427.2 481.5 429.8 476.7 432.4 477.2 436.8 482 435 485.9 429.8 488.6Z"/><path fill="#5ad0f8" d="M412.3 487.7 414.5 484.6 419.3 485.5 422.3 487.7 421.9 491.2 412.3 491.2Z"/><path fill="#5ad0f8" d="M433.3 488.6 436.8 485.5 441.2 484.6 442.9 486.8 442 491.2 433.3 491.2Z"/><path fill="#ff5020" d="M442.9 491.2 443.8 486.8 446.4 485.5 449 486.4 450.4 491.2Z"/><path fill="#a020f0" d="M450.8 486.8 455.2 483.3 455.2 491.2 451.2 491.2Z"/></g><rect x="405.3" y="441.3" width="49.4" height="49" fill="none" stroke="#000" stroke-width="1.2"/><text x="356.8" y="500.9" font-size="9.5" text-anchor="middle">Cell-type composition in a niche</text><rect x="258" y="510.1" width="4.6" height="4.6" fill="#8fd38f" /><text x="266.4" y="515.4" font-size="8.2">Niche_0</text><rect x="299.8" y="510.1" width="4.6" height="4.6" fill="#f2c38a" /><text x="308.2" y="515.4" font-size="8.2">Niche_2</text><rect x="341.5" y="510.1" width="4.6" height="4.6" fill="#4f70c0" /><text x="349.9" y="515.4" font-size="8.2">Niche_4</text><rect x="382.6" y="510.1" width="4.6" height="4.6" fill="#c8621e" /><text x="391" y="515.4" font-size="8.2">Niche_6</text><rect x="424" y="510.1" width="4.6" height="4.6" fill="#3aa57a" /><text x="432.4" y="515.4" font-size="8.2">Niche_8</text><rect x="258" y="524.6" width="4.6" height="4.6" fill="#bdb1dc" /><text x="266.4" y="529.9" font-size="8.2">Niche_1</text><rect x="299.8" y="524.6" width="4.6" height="4.6" fill="#f9f9a6" /><text x="308.2" y="529.9" font-size="8.2">Niche_3</text><rect x="341.5" y="524.6" width="4.6" height="4.6" fill="#e8288a" /><text x="349.9" y="529.9" font-size="8.2">Niche_5</text><rect x="382.6" y="524.6" width="4.6" height="4.6" fill="#6b6b6b" /><text x="391" y="529.9" font-size="8.2">Niche_7</text><rect x="424" y="524.6" width="4.6" height="4.6" fill="#e06a20" /><text x="432.4" y="529.9" font-size="8.2">Niche_9</text><text x="474.2" y="271.7" font-size="16" font-weight="bold">f</text><rect x="537.5" y="267.8" width="119" height="235.2" fill="#c8c8c8" /><path fill="#3e6ed8" d="M546.6 270.7A3.6 3.6 0 0 0 546.6 277.9Z"/><path fill="#cbd9f6" d="M546.6 270.7A3.6 3.6 0 0 1 546.6 277.9Z"/><path fill="#1c2a9c" d="M569 271.7A2.6 2.6 0 0 0 569 276.9Z"/><path fill="#d23a30" d="M546.6 282.8A3.8 3.8 0 0 0 546.6 290.4Z"/><path fill="#8cb2f0" d="M546.6 282.8A3.8 3.8 0 0 1 546.6 290.4Z"/><path fill="#8cb2f0" d="M557.8 283.8A2.8 2.8 0 0 1 557.8 289.4Z"/><path fill="#3e6ed8" d="M569 283.3A3.3 3.3 0 0 1 569 289.9Z"/><path fill="#3e6ed8" d="M580.2 283A3.6 3.6 0 0 0 580.2 290.2Z"/><path fill="#1c2a9c" d="M580.2 283A3.6 3.6 0 0 1 580.2 290.2Z"/><path fill="#a81414" d="M591.4 282.4A4.2 4.2 0 0 0 591.4 290.8Z"/><path fill="#a81414" d="M591.4 282.4A4.2 4.2 0 0 1 591.4 290.8Z"/><path fill="#d23a30" d="M613.8 284.4A2.2 2.2 0 0 0 613.8 288.8Z"/><path fill="#3e6ed8" d="M546.6 294.9A4 4 0 0 0 546.6 302.9Z"/><path fill="#3e6ed8" d="M557.8 296.3A2.6 2.6 0 0 0 557.8 301.5Z"/><path fill="#d23a30" d="M546.6 307.2A4 4 0 0 0 546.6 315.2Z"/><path fill="#3e6ed8" d="M546.6 307.2A4 4 0 0 1 546.6 315.2Z"/><path fill="#8cb2f0" d="M569 307.6A3.6 3.6 0 0 0 569 314.8Z"/><path fill="#8cb2f0" d="M569 307.6A3.6 3.6 0 0 1 569 314.8Z"/><path fill="#ec8a78" d="M580.2 307A4.2 4.2 0 0 0 580.2 315.4Z"/><path fill="#f0aaa0" d="M580.2 307A4.2 4.2 0 0 1 580.2 315.4Z"/><path fill="#ec8a78" d="M625 308.4A2.8 2.8 0 0 0 625 314Z"/><path fill="#1c2a9c" d="M636.2 308.6A2.6 2.6 0 0 0 636.2 313.8Z"/><path fill="#a81414" d="M647.4 319.7A3.8 3.8 0 0 0 647.4 327.3Z"/><path fill="#cbd9f6" d="M546.6 333.4A2.4 2.4 0 0 1 546.6 338.1Z"/><path fill="#3e6ed8" d="M580.2 332.8A3 3 0 0 0 580.2 338.8Z"/><path fill="#8cb2f0" d="M613.8 332.9A2.8 2.8 0 0 1 613.8 338.6Z"/><path fill="#8cb2f0" d="M625 332.6A3.2 3.2 0 0 1 625 338.9Z"/><path fill="#8cb2f0" d="M647.4 333.6A2.2 2.2 0 0 1 647.4 337.9Z"/><path fill="#ec8a78" d="M647.4 343.4A4.6 4.6 0 0 0 647.4 352.6Z"/><path fill="#a81414" d="M647.4 343.4A4.6 4.6 0 0 1 647.4 352.6Z"/><path fill="#a81414" d="M636.2 355.7A4.6 4.6 0 0 1 636.2 364.9Z"/><path fill="#1c2a9c" d="M636.2 370A2.6 2.6 0 0 0 636.2 375.2Z"/><path fill="#ec8a78" d="M546.6 380.5A4.4 4.4 0 0 1 546.6 389.3Z"/><path fill="#a81414" d="M569 380.7A4.2 4.2 0 0 1 569 389.1Z"/><path fill="#ec8a78" d="M591.4 382.3A2.6 2.6 0 0 1 591.4 387.5Z"/><path fill="#ec8a78" d="M613.8 382.3A2.6 2.6 0 0 1 613.8 387.5Z"/><path fill="#1c2a9c" d="M636.2 380.9A4 4 0 0 0 636.2 388.9Z"/><path fill="#a81414" d="M613.8 394.4A2.8 2.8 0 0 1 613.8 400Z"/><path fill="#a81414" d="M636.2 392.6A4.6 4.6 0 0 1 636.2 401.8Z"/><path fill="#f0aaa0" d="M546.6 406.1A3.4 3.4 0 0 1 546.6 412.9Z"/><path fill="#d23a30" d="M557.8 406.1A3.4 3.4 0 0 1 557.8 412.9Z"/><path fill="#a81414" d="M569 405.3A4.2 4.2 0 0 1 569 413.7Z"/><path fill="#cbd9f6" d="M591.4 407.5A2 2 0 0 0 591.4 411.5Z"/><path fill="#a81414" d="M613.8 406.5A3 3 0 0 1 613.8 412.5Z"/><path fill="#a81414" d="M546.6 417.6A4.2 4.2 0 0 0 546.6 426Z"/><path fill="#a81414" d="M636.2 430.5A3.6 3.6 0 0 0 636.2 437.7Z"/><path fill="#a81414" d="M647.4 442.2A4.2 4.2 0 0 0 647.4 450.6Z"/><path fill="#d23a30" d="M647.4 442.2A4.2 4.2 0 0 1 647.4 450.6Z"/><path fill="#f0aaa0" d="M546.6 455.6A3 3 0 0 1 546.6 461.6Z"/><path fill="#ec8a78" d="M557.8 455.8A2.8 2.8 0 0 1 557.8 461.4Z"/><path fill="#a81414" d="M569 454.4A4.2 4.2 0 0 0 569 462.8Z"/><path fill="#a81414" d="M569 454.4A4.2 4.2 0 0 1 569 462.8Z"/><path fill="#ec8a78" d="M613.8 456A2.6 2.6 0 0 1 613.8 461.2Z"/><path fill="#1c2a9c" d="M546.6 465.7A5.2 5.2 0 0 0 546.6 476.1Z"/><path fill="#1c2a9c" d="M546.6 465.7A5.2 5.2 0 0 1 546.6 476.1Z"/><path fill="#3e6ed8" d="M569 466.3A4.6 4.6 0 0 0 569 475.5Z"/><path fill="#8cb2f0" d="M569 466.3A4.6 4.6 0 0 1 569 475.5Z"/><path fill="#8cb2f0" d="M580.2 468.3A2.6 2.6 0 0 1 580.2 473.5Z"/><path fill="#3e6ed8" d="M613.8 468.3A2.6 2.6 0 0 0 613.8 473.5Z"/><path fill="#8cb2f0" d="M546.6 479.4A3.8 3.8 0 0 1 546.6 487Z"/><path fill="#1c2a9c" d="M569 478A5.2 5.2 0 0 0 569 488.4Z"/><path fill="#1c2a9c" d="M569 478A5.2 5.2 0 0 1 569 488.4Z"/><path fill="#8cb2f0" d="M613.8 480A3.2 3.2 0 0 1 613.8 486.4Z"/><path fill="#ec8a78" d="M625 480.4A2.8 2.8 0 0 1 625 486Z"/><path fill="#cbd9f6" d="M546.6 490.5A5 5 0 0 0 546.6 500.5Z"/><path fill="#cbd9f6" d="M546.6 490.5A5 5 0 0 1 546.6 500.5Z"/><path fill="#cbd9f6" d="M602.6 492.9A2.6 2.6 0 0 0 602.6 498.1Z"/><path d="M537.5 274.3H656.5M537.5 286.6H656.5M537.5 298.9H656.5M537.5 311.2H656.5M537.5 323.5H656.5M537.5 335.8H656.5M537.5 348H656.5M537.5 360.3H656.5M537.5 372.6H656.5M537.5 384.9H656.5M537.5 397.2H656.5M537.5 409.5H656.5M537.5 421.8H656.5M537.5 434.1H656.5M537.5 446.4H656.5M537.5 458.6H656.5M537.5 470.9H656.5M537.5 483.2H656.5M537.5 495.5H656.5M546.6 267.8V503M557.8 267.8V503M569 267.8V503M580.2 267.8V503M591.4 267.8V503M602.6 267.8V503M613.8 267.8V503M625 267.8V503M636.2 267.8V503M647.4 267.8V503" stroke="#e6e674" stroke-width="0.8" stroke-dasharray="3.2,2.4" fill="none"/><rect x="537.5" y="267.8" width="119" height="235.2" fill="none" stroke="#333" stroke-width="1"/><text x="533.4" y="276.8" font-size="7.2" text-anchor="end" fill="#111">Vertical cells</text><line x1="534.2" y1="274.3" x2="537.5" y2="274.3" stroke="#333" stroke-width="0.5" /><text x="533.4" y="289.1" font-size="7.2" text-anchor="end" fill="#111">VECs</text><line x1="534.2" y1="286.6" x2="537.5" y2="286.6" stroke="#333" stroke-width="0.5" /><text x="533.4" y="301.4" font-size="7.2" text-anchor="end" fill="#111">UBCs</text><line x1="534.2" y1="298.9" x2="537.5" y2="298.9" stroke="#333" stroke-width="0.5" /><text x="533.4" y="313.7" font-size="7.2" text-anchor="end" fill="#111">T-stellate cells</text><line x1="534.2" y1="311.2" x2="537.5" y2="311.2" stroke="#333" stroke-width="0.5" /><text x="533.4" y="326" font-size="7.2" text-anchor="end" fill="#111">Oligo-2</text><line x1="534.2" y1="323.5" x2="537.5" y2="323.5" stroke="#333" stroke-width="0.5" /><text x="533.4" y="338.2" font-size="7.2" text-anchor="end" fill="#111">Oligo-1</text><line x1="534.2" y1="335.8" x2="537.5" y2="335.8" stroke="#333" stroke-width="0.5" /><text x="533.4" y="350.5" font-size="7.2" text-anchor="end" fill="#111">Octopus cells</text><line x1="534.2" y1="348" x2="537.5" y2="348" stroke="#333" stroke-width="0.5" /><text x="533.4" y="362.8" font-size="7.2" text-anchor="end" fill="#111">ML /L-stellate cells</text><line x1="534.2" y1="360.3" x2="537.5" y2="360.3" stroke="#333" stroke-width="0.5" /><text x="533.4" y="375.1" font-size="7.2" text-anchor="end" fill="#111">Microglia</text><line x1="534.2" y1="372.6" x2="537.5" y2="372.6" stroke="#333" stroke-width="0.5" /><text x="533.4" y="387.4" font-size="7.2" text-anchor="end" fill="#111">Granule cells</text><line x1="534.2" y1="384.9" x2="537.5" y2="384.9" stroke="#333" stroke-width="0.5" /><text x="533.4" y="399.7" font-size="7.2" text-anchor="end" fill="#111">Golgi cells</text><line x1="534.2" y1="397.2" x2="537.5" y2="397.2" stroke="#333" stroke-width="0.5" /><text x="533.4" y="412" font-size="7.2" text-anchor="end" fill="#111">Fusiform cells</text><line x1="534.2" y1="409.5" x2="537.5" y2="409.5" stroke="#333" stroke-width="0.5" /><text x="533.4" y="424.3" font-size="7.2" text-anchor="end" fill="#111">Fibroblasts</text><line x1="534.2" y1="421.8" x2="537.5" y2="421.8" stroke="#333" stroke-width="0.5" /><text x="533.4" y="436.6" font-size="7.2" text-anchor="end" fill="#111">Ependymal cells</text><line x1="534.2" y1="434.1" x2="537.5" y2="434.1" stroke="#333" stroke-width="0.5" /><text x="533.4" y="448.9" font-size="7.2" text-anchor="end" fill="#111">D-stellate cells</text><line x1="534.2" y1="446.4" x2="537.5" y2="446.4" stroke="#333" stroke-width="0.5" /><text x="533.4" y="461.1" font-size="7.2" text-anchor="end" fill="#111">Cartwheel cells</text><line x1="534.2" y1="458.6" x2="537.5" y2="458.6" stroke="#333" stroke-width="0.5" /><text x="533.4" y="473.4" font-size="7.2" text-anchor="end" fill="#111">Bushy cells-<tspan font-style="italic">Sst</tspan><tspan dy="-2.5" font-size="4">+</tspan><tspan dy="2.5" font-size="1">&#8203;</tspan></text><line x1="534.2" y1="470.9" x2="537.5" y2="470.9" stroke="#333" stroke-width="0.5" /><text x="533.4" y="485.7" font-size="7.2" text-anchor="end" fill="#111">Bushy cells-<tspan font-style="italic">Spp1</tspan><tspan dy="-2.5" font-size="4">+</tspan><tspan dy="2.5" font-size="1">&#8203;</tspan></text><line x1="534.2" y1="483.2" x2="537.5" y2="483.2" stroke="#333" stroke-width="0.5" /><text x="533.4" y="498" font-size="7.2" text-anchor="end" fill="#111">Astrocytes</text><line x1="534.2" y1="495.5" x2="537.5" y2="495.5" stroke="#333" stroke-width="0.5" /><line x1="546.6" y1="503" x2="546.6" y2="504.8" stroke="#333" stroke-width="0.5" /><text x="548.1" y="507.5" font-size="7.4" text-anchor="end" fill="#111" transform="rotate(-58 548.1 507.5)">Niche_0</text><line x1="557.8" y1="503" x2="557.8" y2="504.8" stroke="#333" stroke-width="0.5" /><text x="559.3" y="507.5" font-size="7.4" text-anchor="end" fill="#111" transform="rotate(-58 559.3 507.5)">Niche_1</text><line x1="569" y1="503" x2="569" y2="504.8" stroke="#333" stroke-width="0.5" /><text x="570.5" y="507.5" font-size="7.4" text-anchor="end" fill="#111" transform="rotate(-58 570.5 507.5)">Niche_2</text><line x1="580.2" y1="503" x2="580.2" y2="504.8" stroke="#333" stroke-width="0.5" /><text x="581.7" y="507.5" font-size="7.4" text-anchor="end" fill="#111" transform="rotate(-58 581.7 507.5)">Niche_3</text><line x1="591.4" y1="503" x2="591.4" y2="504.8" stroke="#333" stroke-width="0.5" /><text x="592.9" y="507.5" font-size="7.4" text-anchor="end" fill="#111" transform="rotate(-58 592.9 507.5)">Niche_4</text><line x1="602.6" y1="503" x2="602.6" y2="504.8" stroke="#333" stroke-width="0.5" /><text x="604.1" y="507.5" font-size="7.4" text-anchor="end" fill="#111" transform="rotate(-58 604.1 507.5)">Niche_5</text><line x1="613.8" y1="503" x2="613.8" y2="504.8" stroke="#333" stroke-width="0.5" /><text x="615.3" y="507.5" font-size="7.4" text-anchor="end" fill="#111" transform="rotate(-58 615.3 507.5)">Niche_6</text><line x1="625" y1="503" x2="625" y2="504.8" stroke="#333" stroke-width="0.5" /><text x="626.5" y="507.5" font-size="7.4" text-anchor="end" fill="#111" transform="rotate(-58 626.5 507.5)">Niche_7</text><line x1="636.2" y1="503" x2="636.2" y2="504.8" stroke="#333" stroke-width="0.5" /><text x="637.7" y="507.5" font-size="7.4" text-anchor="end" fill="#111" transform="rotate(-58 637.7 507.5)">Niche_8</text><line x1="647.4" y1="503" x2="647.4" y2="504.8" stroke="#333" stroke-width="0.5" /><text x="648.9" y="507.5" font-size="7.4" text-anchor="end" fill="#111" transform="rotate(-58 648.9 507.5)">Niche_9</text><text x="472.8" y="386.5" font-size="7.9" text-anchor="middle" transform="rotate(-90 472.8 386.5)">Stereo-seq defined cell types</text><text x="537.5" y="541.8" font-size="7.9">log<tspan font-size="4.8" dy="1.5">2</tspan><tspan dy="-1.5">(fold change)</tspan></text><defs><linearGradient id="gfc" x1="0" x2="1"><stop offset="0" stop-color="#1a2a9a"/><stop offset="0.25" stop-color="#5a7ae0"/><stop offset="0.5" stop-color="#f4f4f8"/><stop offset="0.75" stop-color="#d84040"/><stop offset="1" stop-color="#8e1414"/></linearGradient></defs><rect x="538.2" y="546" width="39.2" height="6.4" fill="url(#gfc)" /><text x="541.5" y="559.6" font-size="7.8" text-anchor="middle">−2</text><text x="550.5" y="559.6" font-size="7.8" text-anchor="middle">−1</text><text x="559" y="559.6" font-size="7.8" text-anchor="middle">0</text><text x="567.5" y="559.6" font-size="7.8" text-anchor="middle">1</text><text x="576" y="559.6" font-size="7.8" text-anchor="middle">2</text><text x="599" y="540.8" font-size="7">-log<tspan font-size="4.5" dy="1.5">10</tspan><tspan dy="-1.5">(FDR)</tspan></text><path fill="#000" d="M607 542.8A2.8 2.8 0 0 0 607 548.4Z"/><path fill="#000" d="M618.5 542.8A2.8 2.8 0 0 1 618.5 548.4Z"/><text x="625.5" y="547.8" font-size="6.4">2</text><path fill="#000" d="M607 549A3.6 3.6 0 0 0 607 556.2Z"/><path fill="#000" d="M618.5 549A3.6 3.6 0 0 1 618.5 556.2Z"/><text x="625.5" y="554.8" font-size="6.4">4</text><path fill="#000" d="M607 556A4.4 4.4 0 0 0 607 564.8Z"/><path fill="#000" d="M618.5 556A4.4 4.4 0 0 1 618.5 564.8Z"/><text x="625.5" y="562.6" font-size="6.4">6</text><path fill="#000" d="M664.4 356.8A5 5 0 0 0 664.4 366.8Z"/><path fill="#000" d="M672.4 356.8A5 5 0 0 1 672.4 366.8Z"/><text x="667.6" y="372.5" font-size="7.3" text-anchor="end" transform="rotate(-90 667.6 372.5)"><tspan font-style="italic">Vglut3</tspan><tspan dy="-2.6" font-size="4.3">-/-</tspan><tspan dy="2.6" font-size="1">&#8203;</tspan> vs <tspan font-style="italic">Vglut3</tspan><tspan dy="-2.6" font-size="4.3">-/-</tspan><tspan dy="2.6" font-size="1">&#8203;</tspan>+GT</text><text x="676.3" y="372.5" font-size="7.3" text-anchor="end" transform="rotate(-90 676.3 372.5)"><tspan font-style="italic">Vglut3</tspan><tspan dy="-2.6" font-size="4.3">-/-</tspan><tspan dy="2.6" font-size="1">&#8203;</tspan> vs WT</text><text x="3" y="544" font-size="16" font-weight="bold">g</text><text x="122.3" y="544.3" font-size="12.7" text-anchor="middle">Cell–cell proximity</text><rect x="19.2" y="548.2" width="217.9" height="185" fill="#c9c9c9" /><path d="M19.2 552.8H237.1M19.2 562.1H237.1M19.2 571.3H237.1M19.2 580.6H237.1M19.2 589.8H237.1M19.2 599.1H237.1M19.2 608.3H237.1M19.2 617.6H237.1M19.2 626.8H237.1M19.2 636.1H237.1M19.2 645.3H237.1M19.2 654.6H237.1M19.2 663.8H237.1M19.2 673.1H237.1M19.2 682.3H237.1M19.2 691.6H237.1M19.2 700.8H237.1M19.2 710.1H237.1M19.2 719.3H237.1M19.2 728.6H237.1M24.6 548.2V733.2M35.5 548.2V733.2M46.4 548.2V733.2M57.3 548.2V733.2M68.2 548.2V733.2M79.1 548.2V733.2M90 548.2V733.2M100.9 548.2V733.2M111.8 548.2V733.2M122.7 548.2V733.2M133.6 548.2V733.2M144.5 548.2V733.2M155.4 548.2V733.2M166.3 548.2V733.2M177.2 548.2V733.2M188.1 548.2V733.2M199 548.2V733.2M209.9 548.2V733.2M220.8 548.2V733.2M231.7 548.2V733.2" stroke="#dcdc9c" stroke-width="0.6" stroke-dasharray="2.5,2.5" fill="none"/><path fill="#8eaaf0" d="M24.6 549.7A3.2 3.2 0 0 0 24.6 556Z"/><path fill="#cfd7f2" d="M24.6 549.7A3.2 3.2 0 0 1 24.6 556Z"/><path fill="#1414a2" d="M35.5 550A2.8 2.8 0 0 0 35.5 555.6Z"/><path fill="#1414a2" d="M46.4 550A2.8 2.8 0 0 0 46.4 555.6Z"/><path fill="#cfd7f2" d="M57.3 550.5A2.3 2.3 0 0 1 57.3 555.2Z"/><path fill="#1414a2" d="M79.1 550A2.8 2.8 0 0 0 79.1 555.6Z"/><path fill="#1414a2" d="M90 549.6A3.3 3.3 0 0 0 90 556.1Z"/><path fill="#3c68e2" d="M90 549.6A3.3 3.3 0 0 1 90 556.1Z"/><path fill="#3c68e2" d="M100.9 549.6A3.3 3.3 0 0 0 100.9 556.1Z"/><path fill="#3c68e2" d="M100.9 549.6A3.3 3.3 0 0 1 100.9 556.1Z"/><path fill="#3c68e2" d="M133.6 551A1.9 1.9 0 0 0 133.6 554.7Z"/><path fill="#8eaaf0" d="M177.2 549.6A3.3 3.3 0 0 0 177.2 556.1Z"/><path fill="#8eaaf0" d="M177.2 549.6A3.3 3.3 0 0 1 177.2 556.1Z"/><path fill="#1414a2" d="M199 549.6A3.3 3.3 0 0 0 199 556.1Z"/><path fill="#cfd7f2" d="M199 549.6A3.3 3.3 0 0 1 199 556.1Z"/><path fill="#cfd7f2" d="M209.9 550A2.8 2.8 0 0 1 209.9 555.6Z"/><path fill="#cfd7f2" d="M220.8 550A2.8 2.8 0 0 0 220.8 555.6Z"/><path fill="#cfd7f2" d="M231.7 550A2.8 2.8 0 0 1 231.7 555.6Z"/><path fill="#3c68e2" d="M24.6 558.8A3.3 3.3 0 0 0 24.6 565.3Z"/><path fill="#ec9282" d="M24.6 558.8A3.3 3.3 0 0 1 24.6 565.3Z"/><path fill="#3c68e2" d="M35.5 559.3A2.8 2.8 0 0 0 35.5 564.9Z"/><path fill="#8eaaf0" d="M46.4 558.8A3.3 3.3 0 0 0 46.4 565.3Z"/><path fill="#ec9282" d="M46.4 558.8A3.3 3.3 0 0 1 46.4 565.3Z"/><path fill="#3c68e2" d="M57.3 558.8A3.3 3.3 0 0 0 57.3 565.3Z"/><path fill="#a81010" d="M57.3 558.8A3.3 3.3 0 0 1 57.3 565.3Z"/><path fill="#3c68e2" d="M68.2 559.3A2.8 2.8 0 0 0 68.2 564.9Z"/><path fill="#8eaaf0" d="M79.1 558.8A3.3 3.3 0 0 0 79.1 565.3Z"/><path fill="#a81010" d="M79.1 558.8A3.3 3.3 0 0 1 79.1 565.3Z"/><path fill="#3c68e2" d="M90 559.3A2.8 2.8 0 0 0 90 564.9Z"/><path fill="#3c68e2" d="M100.9 558.8A3.3 3.3 0 0 0 100.9 565.3Z"/><path fill="#a81010" d="M100.9 558.8A3.3 3.3 0 0 1 100.9 565.3Z"/><path fill="#3c68e2" d="M111.8 558.8A3.3 3.3 0 0 0 111.8 565.3Z"/><path fill="#d83c2c" d="M111.8 558.8A3.3 3.3 0 0 1 111.8 565.3Z"/><path fill="#a81010" d="M122.7 559.3A2.8 2.8 0 0 1 122.7 564.9Z"/><path fill="#3c68e2" d="M133.6 559.3A2.8 2.8 0 0 0 133.6 564.9Z"/><path fill="#3c68e2" d="M166.3 559.3A2.8 2.8 0 0 0 166.3 564.9Z"/><path fill="#3c68e2" d="M177.2 558.8A3.3 3.3 0 0 0 177.2 565.3Z"/><path fill="#ec9282" d="M177.2 558.8A3.3 3.3 0 0 1 177.2 565.3Z"/><path fill="#8eaaf0" d="M188.1 559.1A3 3 0 0 0 188.1 565.1Z"/><path fill="#d83c2c" d="M188.1 559.1A3 3 0 0 1 188.1 565.1Z"/><path fill="#3c68e2" d="M199 559.3A2.8 2.8 0 0 0 199 564.9Z"/><path fill="#3c68e2" d="M209.9 558.8A3.3 3.3 0 0 0 209.9 565.3Z"/><path fill="#a81010" d="M209.9 558.8A3.3 3.3 0 0 1 209.9 565.3Z"/><path fill="#cfd7f2" d="M220.8 559.3A2.8 2.8 0 0 0 220.8 564.9Z"/><path fill="#3c68e2" d="M231.7 558.8A3.3 3.3 0 0 0 231.7 565.3Z"/><path fill="#ec9282" d="M231.7 558.8A3.3 3.3 0 0 1 231.7 565.3Z"/><path fill="#3c68e2" d="M24.6 568.5A2.8 2.8 0 0 1 24.6 574.1Z"/><path fill="#1414a2" d="M35.5 568.5A2.8 2.8 0 0 0 35.5 574.1Z"/><path fill="#3c68e2" d="M46.4 568.5A2.8 2.8 0 0 0 46.4 574.1Z"/><path fill="#d83c2c" d="M57.3 568.5A2.8 2.8 0 0 0 57.3 574.1Z"/><path fill="#a81010" d="M79.1 568.5A2.8 2.8 0 0 0 79.1 574.1Z"/><path fill="#1414a2" d="M90 568.1A3.3 3.3 0 0 0 90 574.6Z"/><path fill="#1414a2" d="M90 568.1A3.3 3.3 0 0 1 90 574.6Z"/><path fill="#3c68e2" d="M100.9 568.5A2.8 2.8 0 0 1 100.9 574.1Z"/><path fill="#a81010" d="M122.7 568.5A2.8 2.8 0 0 0 122.7 574.1Z"/><path fill="#8eaaf0" d="M133.6 568.1A3.3 3.3 0 0 0 133.6 574.6Z"/><path fill="#1414a2" d="M133.6 568.1A3.3 3.3 0 0 1 133.6 574.6Z"/><path fill="#1414a2" d="M177.2 568.5A2.8 2.8 0 0 1 177.2 574.1Z"/><path fill="#3c68e2" d="M199 568.5A2.8 2.8 0 0 0 199 574.1Z"/><path fill="#d83c2c" d="M209.9 568.1A3.3 3.3 0 0 0 209.9 574.6Z"/><path fill="#8eaaf0" d="M209.9 568.1A3.3 3.3 0 0 1 209.9 574.6Z"/><path fill="#a81010" d="M231.7 568.1A3.3 3.3 0 0 0 231.7 574.6Z"/><path fill="#3c68e2" d="M231.7 568.1A3.3 3.3 0 0 1 231.7 574.6Z"/><path fill="#cfd7f2" d="M24.6 577.3A3.3 3.3 0 0 0 24.6 583.8Z"/><path fill="#cfd7f2" d="M24.6 577.3A3.3 3.3 0 0 1 24.6 583.8Z"/><path fill="#ec9282" d="M35.5 577.3A3.3 3.3 0 0 0 35.5 583.8Z"/><path fill="#ec9282" d="M35.5 577.3A3.3 3.3 0 0 1 35.5 583.8Z"/><path fill="#ec9282" d="M46.4 577.8A2.8 2.8 0 0 1 46.4 583.4Z"/><path fill="#3c68e2" d="M57.3 577.3A3.3 3.3 0 0 0 57.3 583.8Z"/><path fill="#3c68e2" d="M57.3 577.3A3.3 3.3 0 0 1 57.3 583.8Z"/><path fill="#a81010" d="M79.1 577.3A3.3 3.3 0 0 0 79.1 583.8Z"/><path fill="#1414a2" d="M79.1 577.3A3.3 3.3 0 0 1 79.1 583.8Z"/><path fill="#1414a2" d="M90 577.3A3.3 3.3 0 0 0 90 583.8Z"/><path fill="#1414a2" d="M90 577.3A3.3 3.3 0 0 1 90 583.8Z"/><path fill="#3c68e2" d="M100.9 578.7A1.9 1.9 0 0 0 100.9 582.4Z"/><path fill="#1414a2" d="M111.8 577.8A2.8 2.8 0 0 0 111.8 583.4Z"/><path fill="#3c68e2" d="M122.7 577.8A2.8 2.8 0 0 0 122.7 583.4Z"/><path fill="#3c68e2" d="M133.6 577.8A2.8 2.8 0 0 0 133.6 583.4Z"/><path fill="#cfd7f2" d="M177.2 577.8A2.8 2.8 0 0 0 177.2 583.4Z"/><path fill="#ec9282" d="M199 577.3A3.3 3.3 0 0 0 199 583.8Z"/><path fill="#ec9282" d="M199 577.3A3.3 3.3 0 0 1 199 583.8Z"/><path fill="#1414a2" d="M209.9 577.3A3.3 3.3 0 0 0 209.9 583.8Z"/><path fill="#a81010" d="M209.9 577.3A3.3 3.3 0 0 1 209.9 583.8Z"/><path fill="#cfd7f2" d="M220.8 577.3A3.3 3.3 0 0 0 220.8 583.8Z"/><path fill="#cfd7f2" d="M220.8 577.3A3.3 3.3 0 0 1 220.8 583.8Z"/><path fill="#1414a2" d="M231.7 577.3A3.3 3.3 0 0 0 231.7 583.8Z"/><path fill="#a81010" d="M231.7 577.3A3.3 3.3 0 0 1 231.7 583.8Z"/><path fill="#a81010" d="M24.6 587A2.8 2.8 0 0 1 24.6 592.6Z"/><path fill="#a81010" d="M35.5 587A2.8 2.8 0 0 1 35.5 592.6Z"/><path fill="#a81010" d="M46.4 586.6A3.3 3.3 0 0 0 46.4 593.1Z"/><path fill="#a81010" d="M46.4 586.6A3.3 3.3 0 0 1 46.4 593.1Z"/><path fill="#d83c2c" d="M57.3 586.6A3.3 3.3 0 0 0 57.3 593.1Z"/><path fill="#ec9282" d="M57.3 586.6A3.3 3.3 0 0 1 57.3 593.1Z"/><path fill="#1414a2" d="M90 586.6A3.3 3.3 0 0 0 90 593.1Z"/><path fill="#1414a2" d="M90 586.6A3.3 3.3 0 0 1 90 593.1Z"/><path fill="#d83c2c" d="M100.9 586.6A3.3 3.3 0 0 0 100.9 593.1Z"/><path fill="#a81010" d="M100.9 586.6A3.3 3.3 0 0 1 100.9 593.1Z"/><path fill="#ec9282" d="M122.7 586.6A3.3 3.3 0 0 0 122.7 593.1Z"/><path fill="#ec9282" d="M122.7 586.6A3.3 3.3 0 0 1 122.7 593.1Z"/><path fill="#a81010" d="M155.4 586.6A3.3 3.3 0 0 1 155.4 593.1Z"/><path fill="#d83c2c" d="M177.2 587A2.8 2.8 0 0 1 177.2 592.6Z"/><path fill="#d83c2c" d="M199 586.6A3.3 3.3 0 0 0 199 593.1Z"/><path fill="#d83c2c" d="M199 586.6A3.3 3.3 0 0 1 199 593.1Z"/><path fill="#a81010" d="M209.9 587A2.8 2.8 0 0 1 209.9 592.6Z"/><path fill="#d83c2c" d="M220.8 587A2.8 2.8 0 0 1 220.8 592.6Z"/><path fill="#a81010" d="M231.7 587A2.8 2.8 0 0 1 231.7 592.6Z"/><path fill="#cfd7f2" d="M24.6 595.8A3.3 3.3 0 0 0 24.6 602.3Z"/><path fill="#8eaaf0" d="M24.6 595.8A3.3 3.3 0 0 1 24.6 602.3Z"/><path fill="#cfd7f2" d="M35.5 595.8A3.3 3.3 0 0 0 35.5 602.3Z"/><path fill="#cfd7f2" d="M35.5 595.8A3.3 3.3 0 0 1 35.5 602.3Z"/><path fill="#cfd7f2" d="M46.4 595.8A3.3 3.3 0 0 0 46.4 602.3Z"/><path fill="#cfd7f2" d="M46.4 595.8A3.3 3.3 0 0 1 46.4 602.3Z"/><path fill="#cfd7f2" d="M57.3 595.8A3.3 3.3 0 0 0 57.3 602.3Z"/><path fill="#8eaaf0" d="M57.3 595.8A3.3 3.3 0 0 1 57.3 602.3Z"/><path fill="#8eaaf0" d="M68.2 595.8A3.3 3.3 0 0 0 68.2 602.3Z"/><path fill="#8eaaf0" d="M68.2 595.8A3.3 3.3 0 0 1 68.2 602.3Z"/><path fill="#d83c2c" d="M79.1 595.8A3.3 3.3 0 0 0 79.1 602.3Z"/><path fill="#1414a2" d="M79.1 595.8A3.3 3.3 0 0 1 79.1 602.3Z"/><path fill="#1414a2" d="M90 595.8A3.3 3.3 0 0 0 90 602.3Z"/><path fill="#1414a2" d="M90 595.8A3.3 3.3 0 0 1 90 602.3Z"/><path fill="#cfd7f2" d="M100.9 595.8A3.3 3.3 0 0 0 100.9 602.3Z"/><path fill="#8eaaf0" d="M100.9 595.8A3.3 3.3 0 0 1 100.9 602.3Z"/><path fill="#8eaaf0" d="M111.8 597.7A1.4 1.4 0 0 0 111.8 600.5Z"/><path fill="#8eaaf0" d="M111.8 597.7A1.4 1.4 0 0 1 111.8 600.5Z"/><path fill="#3c68e2" d="M144.5 595.8A3.3 3.3 0 0 0 144.5 602.3Z"/><path fill="#3c68e2" d="M144.5 595.8A3.3 3.3 0 0 1 144.5 602.3Z"/><path fill="#3c68e2" d="M155.4 596.3A2.8 2.8 0 0 1 155.4 601.9Z"/><path fill="#8eaaf0" d="M209.9 595.8A3.3 3.3 0 0 0 209.9 602.3Z"/><path fill="#8eaaf0" d="M209.9 595.8A3.3 3.3 0 0 1 209.9 602.3Z"/><path fill="#8eaaf0" d="M220.8 595.8A3.3 3.3 0 0 0 220.8 602.3Z"/><path fill="#8eaaf0" d="M220.8 595.8A3.3 3.3 0 0 1 220.8 602.3Z"/><path fill="#cfd7f2" d="M231.7 595.8A3.3 3.3 0 0 0 231.7 602.3Z"/><path fill="#cfd7f2" d="M231.7 595.8A3.3 3.3 0 0 1 231.7 602.3Z"/><path fill="#a81010" d="M24.6 605.1A3.3 3.3 0 0 0 24.6 611.6Z"/><path fill="#a81010" d="M24.6 605.1A3.3 3.3 0 0 1 24.6 611.6Z"/><path fill="#d83c2c" d="M35.5 605.1A3.3 3.3 0 0 0 35.5 611.6Z"/><path fill="#a81010" d="M35.5 605.1A3.3 3.3 0 0 1 35.5 611.6Z"/><path fill="#a81010" d="M46.4 605.1A3.3 3.3 0 0 0 46.4 611.6Z"/><path fill="#a81010" d="M46.4 605.1A3.3 3.3 0 0 1 46.4 611.6Z"/><path fill="#a81010" d="M57.3 605.1A3.3 3.3 0 0 0 57.3 611.6Z"/><path fill="#a81010" d="M57.3 605.1A3.3 3.3 0 0 1 57.3 611.6Z"/><path fill="#1414a2" d="M79.1 605.5A2.8 2.8 0 0 1 79.1 611.1Z"/><path fill="#3c68e2" d="M90 605.1A3.3 3.3 0 0 0 90 611.6Z"/><path fill="#3c68e2" d="M90 605.1A3.3 3.3 0 0 1 90 611.6Z"/><path fill="#a81010" d="M100.9 605.1A3.3 3.3 0 0 0 100.9 611.6Z"/><path fill="#a81010" d="M100.9 605.1A3.3 3.3 0 0 1 100.9 611.6Z"/><path fill="#a81010" d="M111.8 606A2.3 2.3 0 0 1 111.8 610.7Z"/><path fill="#a81010" d="M122.7 605.5A2.8 2.8 0 0 1 122.7 611.1Z"/><path fill="#a81010" d="M133.6 605.1A3.3 3.3 0 0 0 133.6 611.6Z"/><path fill="#a81010" d="M133.6 605.1A3.3 3.3 0 0 1 133.6 611.6Z"/><path fill="#d83c2c" d="M144.5 606A2.3 2.3 0 0 1 144.5 610.7Z"/><path fill="#a81010" d="M155.4 605.1A3.3 3.3 0 0 1 155.4 611.6Z"/><path fill="#d83c2c" d="M177.2 605.1A3.3 3.3 0 0 0 177.2 611.6Z"/><path fill="#a81010" d="M177.2 605.1A3.3 3.3 0 0 1 177.2 611.6Z"/><path fill="#a81010" d="M188.1 605.5A2.8 2.8 0 0 1 188.1 611.1Z"/><path fill="#d83c2c" d="M199 605.1A3.3 3.3 0 0 0 199 611.6Z"/><path fill="#d83c2c" d="M199 605.1A3.3 3.3 0 0 1 199 611.6Z"/><path fill="#a81010" d="M209.9 605.5A2.8 2.8 0 0 1 209.9 611.1Z"/><path fill="#d83c2c" d="M220.8 605.1A3.3 3.3 0 0 0 220.8 611.6Z"/><path fill="#d83c2c" d="M220.8 605.1A3.3 3.3 0 0 1 220.8 611.6Z"/><path fill="#a81010" d="M231.7 605.5A2.8 2.8 0 0 1 231.7 611.1Z"/><path fill="#1414a2" d="M79.1 614.8A2.8 2.8 0 0 1 79.1 620.4Z"/><path fill="#a81010" d="M155.4 614.8A2.8 2.8 0 0 0 155.4 620.4Z"/><path fill="#a81010" d="M155.4 614.8A2.8 2.8 0 0 1 155.4 620.4Z"/><path fill="#cfd7f2" d="M177.2 614.8A2.8 2.8 0 0 0 177.2 620.4Z"/><path fill="#a81010" d="M188.1 614.8A2.8 2.8 0 0 1 188.1 620.4Z"/><path fill="#ec9282" d="M24.6 624A2.8 2.8 0 0 1 24.6 629.6Z"/><path fill="#a81010" d="M35.5 624A2.8 2.8 0 0 1 35.5 629.6Z"/><path fill="#a81010" d="M46.4 624A2.8 2.8 0 0 1 46.4 629.6Z"/><path fill="#ec9282" d="M57.3 624A2.8 2.8 0 0 1 57.3 629.6Z"/><path fill="#a81010" d="M79.1 623.6A3.3 3.3 0 0 0 79.1 630.1Z"/><path fill="#a81010" d="M79.1 623.6A3.3 3.3 0 0 1 79.1 630.1Z"/><path fill="#1414a2" d="M90 624A2.8 2.8 0 0 0 90 629.6Z"/><path fill="#3c68e2" d="M111.8 624A2.8 2.8 0 0 1 111.8 629.6Z"/><path fill="#8eaaf0" d="M122.7 623.6A3.3 3.3 0 0 0 122.7 630.1Z"/><path fill="#3c68e2" d="M122.7 623.6A3.3 3.3 0 0 1 122.7 630.1Z"/><path fill="#1414a2" d="M144.5 624A2.8 2.8 0 0 0 144.5 629.6Z"/><path fill="#1414a2" d="M144.5 624A2.8 2.8 0 0 1 144.5 629.6Z"/><path fill="#1414a2" d="M155.4 624A2.8 2.8 0 0 0 155.4 629.6Z"/><path fill="#3c68e2" d="M177.2 624A2.8 2.8 0 0 0 177.2 629.6Z"/><path fill="#8eaaf0" d="M199 624A2.8 2.8 0 0 0 199 629.6Z"/><path fill="#a81010" d="M199 624A2.8 2.8 0 0 1 199 629.6Z"/><path fill="#3c68e2" d="M209.9 624A2.8 2.8 0 0 0 209.9 629.6Z"/><path fill="#cfd7f2" d="M24.6 633.8A2.3 2.3 0 0 0 24.6 638.4Z"/><path fill="#3c68e2" d="M35.5 632.8A3.3 3.3 0 0 0 35.5 639.3Z"/><path fill="#3c68e2" d="M35.5 632.8A3.3 3.3 0 0 1 35.5 639.3Z"/><path fill="#3c68e2" d="M46.4 632.8A3.3 3.3 0 0 0 46.4 639.3Z"/><path fill="#3c68e2" d="M46.4 632.8A3.3 3.3 0 0 1 46.4 639.3Z"/><path fill="#1414a2" d="M79.1 633.3A2.8 2.8 0 0 1 79.1 638.9Z"/><path fill="#1414a2" d="M90 632.8A3.3 3.3 0 0 0 90 639.3Z"/><path fill="#1414a2" d="M90 632.8A3.3 3.3 0 0 1 90 639.3Z"/><path fill="#cfd7f2" d="M122.7 633.3A2.8 2.8 0 0 0 122.7 638.9Z"/><path fill="#d83c2c" d="M133.6 634.2A1.9 1.9 0 0 1 133.6 637.9Z"/><path fill="#3c68e2" d="M188.1 633.8A2.3 2.3 0 0 1 188.1 638.4Z"/><path fill="#8eaaf0" d="M199 632.8A3.3 3.3 0 0 0 199 639.3Z"/><path fill="#8eaaf0" d="M199 632.8A3.3 3.3 0 0 1 199 639.3Z"/><path fill="#3c68e2" d="M209.9 633.3A2.8 2.8 0 0 0 209.9 638.9Z"/><path fill="#8eaaf0" d="M220.8 632.8A3.3 3.3 0 0 0 220.8 639.3Z"/><path fill="#8eaaf0" d="M220.8 632.8A3.3 3.3 0 0 1 220.8 639.3Z"/><path fill="#3c68e2" d="M231.7 632.8A3.3 3.3 0 0 0 231.7 639.3Z"/><path fill="#3c68e2" d="M231.7 632.8A3.3 3.3 0 0 1 231.7 639.3Z"/><path fill="#a81010" d="M24.6 642.5A2.8 2.8 0 0 0 24.6 648.1Z"/><path fill="#a81010" d="M35.5 643.5A1.9 1.9 0 0 1 35.5 647.2Z"/><path fill="#ec9282" d="M57.3 642.1A3.3 3.3 0 0 0 57.3 648.6Z"/><path fill="#8eaaf0" d="M57.3 642.1A3.3 3.3 0 0 1 57.3 648.6Z"/><path fill="#3c68e2" d="M79.1 642.1A3.3 3.3 0 0 0 79.1 648.6Z"/><path fill="#1414a2" d="M79.1 642.1A3.3 3.3 0 0 1 79.1 648.6Z"/><path fill="#1414a2" d="M90 642.1A3.3 3.3 0 0 0 90 648.6Z"/><path fill="#3c68e2" d="M90 642.1A3.3 3.3 0 0 1 90 648.6Z"/><path fill="#d83c2c" d="M100.9 642.1A3.3 3.3 0 0 0 100.9 648.6Z"/><path fill="#cfd7f2" d="M100.9 642.1A3.3 3.3 0 0 1 100.9 648.6Z"/><path fill="#d83c2c" d="M111.8 642.1A3.3 3.3 0 0 0 111.8 648.6Z"/><path fill="#3c68e2" d="M111.8 642.1A3.3 3.3 0 0 1 111.8 648.6Z"/><path fill="#d83c2c" d="M133.6 642.5A2.8 2.8 0 0 0 133.6 648.1Z"/><path fill="#3c68e2" d="M144.5 642.5A2.8 2.8 0 0 1 144.5 648.1Z"/><path fill="#d83c2c" d="M177.2 642.5A2.8 2.8 0 0 0 177.2 648.1Z"/><path fill="#a81010" d="M209.9 642.1A3.3 3.3 0 0 0 209.9 648.6Z"/><path fill="#a81010" d="M209.9 642.1A3.3 3.3 0 0 1 209.9 648.6Z"/><path fill="#a81010" d="M220.8 642.5A2.8 2.8 0 0 0 220.8 648.1Z"/><path fill="#d83c2c" d="M231.7 642.1A3.3 3.3 0 0 0 231.7 648.6Z"/><path fill="#d83c2c" d="M231.7 642.1A3.3 3.3 0 0 1 231.7 648.6Z"/><path fill="#a81010" d="M24.6 651.3A3.3 3.3 0 0 0 24.6 657.8Z"/><path fill="#a81010" d="M24.6 651.3A3.3 3.3 0 0 1 24.6 657.8Z"/><path fill="#3c68e2" d="M35.5 651.8A2.8 2.8 0 0 0 35.5 657.4Z"/><path fill="#d83c2c" d="M57.3 651.3A3.3 3.3 0 0 0 57.3 657.8Z"/><path fill="#d83c2c" d="M57.3 651.3A3.3 3.3 0 0 1 57.3 657.8Z"/><path fill="#a81010" d="M79.1 651.3A3.3 3.3 0 0 0 79.1 657.8Z"/><path fill="#a81010" d="M79.1 651.3A3.3 3.3 0 0 1 79.1 657.8Z"/><path fill="#a81010" d="M111.8 651.8A2.8 2.8 0 0 0 111.8 657.4Z"/><path fill="#a81010" d="M122.7 651.3A3.3 3.3 0 0 0 122.7 657.8Z"/><path fill="#8eaaf0" d="M122.7 651.3A3.3 3.3 0 0 1 122.7 657.8Z"/><path fill="#a81010" d="M133.6 651.8A2.8 2.8 0 0 0 133.6 657.4Z"/><path fill="#ec9282" d="M177.2 651.3A3.3 3.3 0 0 0 177.2 657.8Z"/><path fill="#d83c2c" d="M177.2 651.3A3.3 3.3 0 0 1 177.2 657.8Z"/><path fill="#a81010" d="M188.1 651.8A2.8 2.8 0 0 0 188.1 657.4Z"/><path fill="#8eaaf0" d="M199 651.3A3.3 3.3 0 0 0 199 657.8Z"/><path fill="#d83c2c" d="M199 651.3A3.3 3.3 0 0 1 199 657.8Z"/><path fill="#a81010" d="M209.9 651.8A2.8 2.8 0 0 1 209.9 657.4Z"/><path fill="#d83c2c" d="M220.8 651.8A2.8 2.8 0 0 1 220.8 657.4Z"/><path fill="#a81010" d="M231.7 651.8A2.8 2.8 0 0 1 231.7 657.4Z"/><path fill="#ec9282" d="M24.6 661.5A2.3 2.3 0 0 0 24.6 666.2Z"/><path fill="#ec9282" d="M57.3 660.6A3.3 3.3 0 0 0 57.3 667.1Z"/><path fill="#cfd7f2" d="M57.3 660.6A3.3 3.3 0 0 1 57.3 667.1Z"/><path fill="#1414a2" d="M79.1 661A2.8 2.8 0 0 1 79.1 666.6Z"/><path fill="#1414a2" d="M90 661A2.8 2.8 0 0 0 90 666.6Z"/><path fill="#a81010" d="M122.7 661A2.8 2.8 0 0 0 122.7 666.6Z"/><path fill="#a81010" d="M133.6 661A2.8 2.8 0 0 0 133.6 666.6Z"/><path fill="#a81010" d="M166.3 661A2.8 2.8 0 0 0 166.3 666.6Z"/><path fill="#d83c2c" d="M177.2 661A2.8 2.8 0 0 0 177.2 666.6Z"/><path fill="#ec9282" d="M199 662.4A1.4 1.4 0 0 0 199 665.2Z"/><path fill="#ec9282" d="M199 662.4A1.4 1.4 0 0 1 199 665.2Z"/><path fill="#d83c2c" d="M220.8 660.6A3.3 3.3 0 0 0 220.8 667.1Z"/><path fill="#a81010" d="M220.8 660.6A3.3 3.3 0 0 1 220.8 667.1Z"/><path fill="#ec9282" d="M231.7 661A2.8 2.8 0 0 0 231.7 666.6Z"/><path fill="#1414a2" d="M46.4 670.3A2.8 2.8 0 0 0 46.4 675.9Z"/><path fill="#3c68e2" d="M57.3 669.8A3.3 3.3 0 0 0 57.3 676.3Z"/><path fill="#ec9282" d="M57.3 669.8A3.3 3.3 0 0 1 57.3 676.3Z"/><path fill="#1414a2" d="M68.2 670.8A2.3 2.3 0 0 0 68.2 675.4Z"/><path fill="#a81010" d="M79.1 670.3A2.8 2.8 0 0 0 79.1 675.9Z"/><path fill="#a81010" d="M90 669.8A3.3 3.3 0 0 0 90 676.3Z"/><path fill="#a81010" d="M90 669.8A3.3 3.3 0 0 1 90 676.3Z"/><path fill="#3c68e2" d="M100.9 670.3A2.8 2.8 0 0 0 100.9 675.9Z"/><path fill="#3c68e2" d="M122.7 670.3A2.8 2.8 0 0 0 122.7 675.9Z"/><path fill="#a81010" d="M122.7 670.3A2.8 2.8 0 0 1 122.7 675.9Z"/><path fill="#cfd7f2" d="M133.6 670.3A2.8 2.8 0 0 0 133.6 675.9Z"/><path fill="#cfd7f2" d="M177.2 669.8A3.3 3.3 0 0 0 177.2 676.3Z"/><path fill="#cfd7f2" d="M177.2 669.8A3.3 3.3 0 0 1 177.2 676.3Z"/><path fill="#1414a2" d="M188.1 670.3A2.8 2.8 0 0 0 188.1 675.9Z"/><path fill="#3c68e2" d="M199 670.3A2.8 2.8 0 0 0 199 675.9Z"/><path fill="#1414a2" d="M209.9 670.3A2.8 2.8 0 0 0 209.9 675.9Z"/><path fill="#a81010" d="M220.8 670.3A2.8 2.8 0 0 1 220.8 675.9Z"/><path fill="#1414a2" d="M231.7 670.3A2.8 2.8 0 0 0 231.7 675.9Z"/><path fill="#a81010" d="M24.6 680.5A1.9 1.9 0 0 1 24.6 684.2Z"/><path fill="#1414a2" d="M35.5 679.5A2.8 2.8 0 0 1 35.5 685.1Z"/><path fill="#1414a2" d="M46.4 679.5A2.8 2.8 0 0 1 46.4 685.1Z"/><path fill="#3c68e2" d="M57.3 679.5A2.8 2.8 0 0 0 57.3 685.1Z"/><path fill="#cfd7f2" d="M79.1 679.1A3.3 3.3 0 0 0 79.1 685.6Z"/><path fill="#d83c2c" d="M79.1 679.1A3.3 3.3 0 0 1 79.1 685.6Z"/><path fill="#1414a2" d="M90 679.5A2.8 2.8 0 0 1 90 685.1Z"/><path fill="#a81010" d="M111.8 679.5A2.8 2.8 0 0 0 111.8 685.1Z"/><path fill="#a81010" d="M111.8 679.5A2.8 2.8 0 0 1 111.8 685.1Z"/><path fill="#a81010" d="M144.5 679.1A3.3 3.3 0 0 0 144.5 685.6Z"/><path fill="#a81010" d="M144.5 679.1A3.3 3.3 0 0 1 144.5 685.6Z"/><path fill="#a81010" d="M199 679.3A3 3 0 0 0 199 685.3Z"/><path fill="#1414a2" d="M199 679.3A3 3 0 0 1 199 685.3Z"/><path fill="#a81010" d="M220.8 679.5A2.8 2.8 0 0 1 220.8 685.1Z"/><path fill="#d83c2c" d="M24.6 688.3A3.3 3.3 0 0 0 24.6 694.8Z"/><path fill="#d83c2c" d="M24.6 688.3A3.3 3.3 0 0 1 24.6 694.8Z"/><path fill="#a81010" d="M35.5 688.3A3.3 3.3 0 0 0 35.5 694.8Z"/><path fill="#a81010" d="M35.5 688.3A3.3 3.3 0 0 1 35.5 694.8Z"/><path fill="#a81010" d="M46.4 688.3A3.3 3.3 0 0 0 46.4 694.8Z"/><path fill="#d83c2c" d="M46.4 688.3A3.3 3.3 0 0 1 46.4 694.8Z"/><path fill="#1414a2" d="M79.1 688.8A2.8 2.8 0 0 1 79.1 694.4Z"/><path fill="#1414a2" d="M90 688.3A3.3 3.3 0 0 0 90 694.8Z"/><path fill="#1414a2" d="M90 688.3A3.3 3.3 0 0 1 90 694.8Z"/><path fill="#ec9282" d="M177.2 689.2A2.3 2.3 0 0 1 177.2 693.9Z"/><path fill="#d83c2c" d="M199 688.3A3.3 3.3 0 0 0 199 694.8Z"/><path fill="#d83c2c" d="M199 688.3A3.3 3.3 0 0 1 199 694.8Z"/><path fill="#1414a2" d="M209.9 688.8A2.8 2.8 0 0 0 209.9 694.4Z"/><path fill="#a81010" d="M231.7 688.8A2.8 2.8 0 0 1 231.7 694.4Z"/><path fill="#d83c2c" d="M24.6 698A2.8 2.8 0 0 1 24.6 703.6Z"/><path fill="#3c68e2" d="M35.5 697.6A3.3 3.3 0 0 0 35.5 704.1Z"/><path fill="#3c68e2" d="M35.5 697.6A3.3 3.3 0 0 1 35.5 704.1Z"/><path fill="#3c68e2" d="M46.4 697.6A3.3 3.3 0 0 0 46.4 704.1Z"/><path fill="#3c68e2" d="M46.4 697.6A3.3 3.3 0 0 1 46.4 704.1Z"/><path fill="#8eaaf0" d="M68.2 698A2.8 2.8 0 0 1 68.2 703.6Z"/><path fill="#3c68e2" d="M79.1 698A2.8 2.8 0 0 1 79.1 703.6Z"/><path fill="#1414a2" d="M90 697.6A3.3 3.3 0 0 0 90 704.1Z"/><path fill="#3c68e2" d="M90 697.6A3.3 3.3 0 0 1 90 704.1Z"/><path fill="#ec9282" d="M100.9 697.6A3.3 3.3 0 0 0 100.9 704.1Z"/><path fill="#ec9282" d="M100.9 697.6A3.3 3.3 0 0 1 100.9 704.1Z"/><path fill="#ec9282" d="M122.7 697.6A3.3 3.3 0 0 0 122.7 704.1Z"/><path fill="#cfd7f2" d="M122.7 697.6A3.3 3.3 0 0 1 122.7 704.1Z"/><path fill="#a81010" d="M133.6 698.5A2.3 2.3 0 0 0 133.6 703.2Z"/><path fill="#a81010" d="M144.5 699A1.9 1.9 0 0 0 144.5 702.7Z"/><path fill="#a81010" d="M166.3 698A2.8 2.8 0 0 0 166.3 703.6Z"/><path fill="#d83c2c" d="M177.2 698A2.8 2.8 0 0 0 177.2 703.6Z"/><path fill="#8eaaf0" d="M199 697.6A3.3 3.3 0 0 0 199 704.1Z"/><path fill="#3c68e2" d="M199 697.6A3.3 3.3 0 0 1 199 704.1Z"/><path fill="#a81010" d="M209.9 697.6A3.3 3.3 0 0 0 209.9 704.1Z"/><path fill="#d83c2c" d="M209.9 697.6A3.3 3.3 0 0 1 209.9 704.1Z"/><path fill="#ec9282" d="M220.8 697.6A3.3 3.3 0 0 0 220.8 704.1Z"/><path fill="#a81010" d="M220.8 697.6A3.3 3.3 0 0 1 220.8 704.1Z"/><path fill="#d83c2c" d="M231.7 697.6A3.3 3.3 0 0 0 231.7 704.1Z"/><path fill="#d83c2c" d="M231.7 697.6A3.3 3.3 0 0 1 231.7 704.1Z"/><path fill="#3c68e2" d="M24.6 706.8A3.3 3.3 0 0 0 24.6 713.3Z"/><path fill="#8eaaf0" d="M24.6 706.8A3.3 3.3 0 0 1 24.6 713.3Z"/><path fill="#cfd7f2" d="M35.5 706.8A3.3 3.3 0 0 0 35.5 713.3Z"/><path fill="#8eaaf0" d="M35.5 706.8A3.3 3.3 0 0 1 35.5 713.3Z"/><path fill="#8eaaf0" d="M46.4 707.3A2.8 2.8 0 0 1 46.4 712.9Z"/><path fill="#1414a2" d="M57.3 706.8A3.3 3.3 0 0 0 57.3 713.3Z"/><path fill="#1414a2" d="M57.3 706.8A3.3 3.3 0 0 1 57.3 713.3Z"/><path fill="#3c68e2" d="M68.2 707.8A2.3 2.3 0 0 1 68.2 712.4Z"/><path fill="#1414a2" d="M79.1 707.3A2.8 2.8 0 0 1 79.1 712.9Z"/><path fill="#1414a2" d="M90 706.8A3.3 3.3 0 0 0 90 713.3Z"/><path fill="#1414a2" d="M90 706.8A3.3 3.3 0 0 1 90 713.3Z"/><path fill="#1414a2" d="M100.9 706.8A3.3 3.3 0 0 0 100.9 713.3Z"/><path fill="#1414a2" d="M100.9 706.8A3.3 3.3 0 0 1 100.9 713.3Z"/><path fill="#3c68e2" d="M122.7 708.7A1.4 1.4 0 0 0 122.7 711.5Z"/><path fill="#3c68e2" d="M122.7 708.7A1.4 1.4 0 0 1 122.7 711.5Z"/><path fill="#1414a2" d="M133.6 706.8A3.3 3.3 0 0 0 133.6 713.3Z"/><path fill="#1414a2" d="M133.6 706.8A3.3 3.3 0 0 1 133.6 713.3Z"/><path fill="#3c68e2" d="M144.5 707.3A2.8 2.8 0 0 0 144.5 712.9Z"/><path fill="#3c68e2" d="M177.2 706.8A3.3 3.3 0 0 0 177.2 713.3Z"/><path fill="#3c68e2" d="M177.2 706.8A3.3 3.3 0 0 1 177.2 713.3Z"/><path fill="#1414a2" d="M188.1 707.8A2.3 2.3 0 0 1 188.1 712.4Z"/><path fill="#8eaaf0" d="M199 707.3A2.8 2.8 0 0 1 199 712.9Z"/><path fill="#8eaaf0" d="M220.8 706.8A3.3 3.3 0 0 0 220.8 713.3Z"/><path fill="#3c68e2" d="M220.8 706.8A3.3 3.3 0 0 1 220.8 713.3Z"/><path fill="#1414a2" d="M231.7 707.3A2.8 2.8 0 0 0 231.7 712.9Z"/><path fill="#cfd7f2" d="M24.6 716.1A3.3 3.3 0 0 0 24.6 722.6Z"/><path fill="#cfd7f2" d="M24.6 716.1A3.3 3.3 0 0 1 24.6 722.6Z"/><path fill="#ec9282" d="M35.5 716.1A3.3 3.3 0 0 0 35.5 722.6Z"/><path fill="#ec9282" d="M35.5 716.1A3.3 3.3 0 0 1 35.5 722.6Z"/><path fill="#ec9282" d="M46.4 716.1A3.3 3.3 0 0 0 46.4 722.6Z"/><path fill="#ec9282" d="M46.4 716.1A3.3 3.3 0 0 1 46.4 722.6Z"/><path fill="#d83c2c" d="M68.2 716.1A3.3 3.3 0 0 0 68.2 722.6Z"/><path fill="#d83c2c" d="M68.2 716.1A3.3 3.3 0 0 1 68.2 722.6Z"/><path fill="#1414a2" d="M79.1 716.5A2.8 2.8 0 0 1 79.1 722.1Z"/><path fill="#1414a2" d="M90 716.1A3.3 3.3 0 0 0 90 722.6Z"/><path fill="#1414a2" d="M90 716.1A3.3 3.3 0 0 1 90 722.6Z"/><path fill="#1414a2" d="M111.8 716.5A2.8 2.8 0 0 0 111.8 722.1Z"/><path fill="#3c68e2" d="M122.7 717A2.3 2.3 0 0 0 122.7 721.7Z"/><path fill="#8eaaf0" d="M133.6 716.5A2.8 2.8 0 0 0 133.6 722.1Z"/><path fill="#8eaaf0" d="M166.3 717.9A1.4 1.4 0 0 0 166.3 720.7Z"/><path fill="#8eaaf0" d="M166.3 717.9A1.4 1.4 0 0 1 166.3 720.7Z"/><path fill="#cfd7f2" d="M177.2 716.5A2.8 2.8 0 0 0 177.2 722.1Z"/><path fill="#ec9282" d="M199 716.1A3.3 3.3 0 0 0 199 722.6Z"/><path fill="#ec9282" d="M199 716.1A3.3 3.3 0 0 1 199 722.6Z"/><path fill="#1414a2" d="M209.9 716.1A3.3 3.3 0 0 0 209.9 722.6Z"/><path fill="#a81010" d="M209.9 716.1A3.3 3.3 0 0 1 209.9 722.6Z"/><path fill="#cfd7f2" d="M220.8 716.1A3.3 3.3 0 0 0 220.8 722.6Z"/><path fill="#cfd7f2" d="M220.8 716.1A3.3 3.3 0 0 1 220.8 722.6Z"/><path fill="#3c68e2" d="M231.7 716.5A2.8 2.8 0 0 0 231.7 722.1Z"/><path fill="#cfd7f2" d="M24.6 725.3A3.3 3.3 0 0 0 24.6 731.8Z"/><path fill="#cfd7f2" d="M24.6 725.3A3.3 3.3 0 0 1 24.6 731.8Z"/><path fill="#cfd7f2" d="M35.5 725.3A3.3 3.3 0 0 0 35.5 731.8Z"/><path fill="#8eaaf0" d="M35.5 725.3A3.3 3.3 0 0 1 35.5 731.8Z"/><path fill="#cfd7f2" d="M46.4 725.3A3.3 3.3 0 0 0 46.4 731.8Z"/><path fill="#8eaaf0" d="M46.4 725.3A3.3 3.3 0 0 1 46.4 731.8Z"/><path fill="#3c68e2" d="M57.3 725.3A3.3 3.3 0 0 0 57.3 731.8Z"/><path fill="#ec9282" d="M57.3 725.3A3.3 3.3 0 0 1 57.3 731.8Z"/><path fill="#3c68e2" d="M90 725.3A3.3 3.3 0 0 0 90 731.8Z"/><path fill="#3c68e2" d="M90 725.3A3.3 3.3 0 0 1 90 731.8Z"/><path fill="#8eaaf0" d="M100.9 725.8A2.8 2.8 0 0 0 100.9 731.4Z"/><path fill="#cfd7f2" d="M177.2 725.8A2.8 2.8 0 0 1 177.2 731.4Z"/><path fill="#8eaaf0" d="M199 725.8A2.8 2.8 0 0 1 199 731.4Z"/><path fill="#cfd7f2" d="M209.9 725.8A2.8 2.8 0 0 0 209.9 731.4Z"/><path fill="#cfd7f2" d="M220.8 725.8A2.8 2.8 0 0 1 220.8 731.4Z"/><path fill="#cfd7f2" d="M231.7 725.8A2.8 2.8 0 0 1 231.7 731.4Z"/><rect x="19.2" y="548.2" width="217.9" height="185" fill="none" stroke="#333" stroke-width="0.9"/><rect x="8.4" y="548.2" width="8.4" height="9.3" fill="#a020f0" /><line x1="17" y1="552.8" x2="19.2" y2="552.8" stroke="#333" stroke-width="0.5" /><rect x="8.4" y="557.5" width="8.4" height="9.3" fill="#c8b460" /><line x1="17" y1="562.1" x2="19.2" y2="562.1" stroke="#333" stroke-width="0.5" /><rect x="8.4" y="566.7" width="8.4" height="9.3" fill="#50d0f0" /><line x1="17" y1="571.3" x2="19.2" y2="571.3" stroke="#333" stroke-width="0.5" /><rect x="8.4" y="576" width="8.4" height="9.3" fill="#90a030" /><line x1="17" y1="580.6" x2="19.2" y2="580.6" stroke="#333" stroke-width="0.5" /><rect x="8.4" y="585.2" width="8.4" height="9.3" fill="#f0a0c0" /><line x1="17" y1="589.8" x2="19.2" y2="589.8" stroke="#333" stroke-width="0.5" /><rect x="8.4" y="594.5" width="8.4" height="9.3" fill="#c4f0b4" /><line x1="17" y1="599.1" x2="19.2" y2="599.1" stroke="#333" stroke-width="0.5" /><rect x="8.4" y="603.7" width="8.4" height="9.3" fill="#a8f4f4" /><line x1="17" y1="608.3" x2="19.2" y2="608.3" stroke="#333" stroke-width="0.5" /><rect x="8.4" y="613" width="8.4" height="9.3" fill="#8070e0" /><line x1="17" y1="617.6" x2="19.2" y2="617.6" stroke="#333" stroke-width="0.5" /><rect x="8.4" y="622.2" width="8.4" height="9.3" fill="#50e0d0" /><line x1="17" y1="626.8" x2="19.2" y2="626.8" stroke="#333" stroke-width="0.5" /><rect x="8.4" y="631.5" width="8.4" height="9.3" fill="#f0b080" /><line x1="17" y1="636.1" x2="19.2" y2="636.1" stroke="#333" stroke-width="0.5" /><rect x="8.4" y="640.7" width="8.4" height="9.3" fill="#60f0c0" /><line x1="17" y1="645.3" x2="19.2" y2="645.3" stroke="#333" stroke-width="0.5" /><rect x="8.4" y="650" width="8.4" height="9.3" fill="#207040" /><line x1="17" y1="654.6" x2="19.2" y2="654.6" stroke="#333" stroke-width="0.5" /><rect x="8.4" y="659.2" width="8.4" height="9.3" fill="#ff5028" /><line x1="17" y1="663.8" x2="19.2" y2="663.8" stroke="#333" stroke-width="0.5" /><rect x="8.4" y="668.5" width="8.4" height="9.3" fill="#601848" /><line x1="17" y1="673.1" x2="19.2" y2="673.1" stroke="#333" stroke-width="0.5" /><rect x="8.4" y="677.7" width="8.4" height="9.3" fill="#e8e040" /><line x1="17" y1="682.3" x2="19.2" y2="682.3" stroke="#333" stroke-width="0.5" /><rect x="8.4" y="687" width="8.4" height="9.3" fill="#c06060" /><line x1="17" y1="691.6" x2="19.2" y2="691.6" stroke="#333" stroke-width="0.5" /><rect x="8.4" y="696.2" width="8.4" height="9.3" fill="#80e060" /><line x1="17" y1="700.8" x2="19.2" y2="700.8" stroke="#333" stroke-width="0.5" /><rect x="8.4" y="705.5" width="8.4" height="9.3" fill="#f090d0" /><line x1="17" y1="710.1" x2="19.2" y2="710.1" stroke="#333" stroke-width="0.5" /><rect x="8.4" y="714.7" width="8.4" height="9.3" fill="#4a90c8" /><line x1="17" y1="719.3" x2="19.2" y2="719.3" stroke="#333" stroke-width="0.5" /><rect x="8.4" y="724" width="8.4" height="9.3" fill="#b8682a" /><line x1="17" y1="728.6" x2="19.2" y2="728.6" stroke="#333" stroke-width="0.5" /><rect x="19.2" y="738.5" width="10.9" height="7.3" fill="#b8682a" /><line x1="24.6" y1="733.2" x2="24.6" y2="735.2" stroke="#333" stroke-width="0.5" /><rect x="30.1" y="738.5" width="10.9" height="7.3" fill="#4a90c8" /><line x1="35.5" y1="733.2" x2="35.5" y2="735.2" stroke="#333" stroke-width="0.5" /><rect x="41" y="738.5" width="10.9" height="7.3" fill="#f090d0" /><line x1="46.4" y1="733.2" x2="46.4" y2="735.2" stroke="#333" stroke-width="0.5" /><rect x="51.9" y="738.5" width="10.9" height="7.3" fill="#80e060" /><line x1="57.3" y1="733.2" x2="57.3" y2="735.2" stroke="#333" stroke-width="0.5" /><rect x="62.8" y="738.5" width="10.9" height="7.3" fill="#c06060" /><line x1="68.2" y1="733.2" x2="68.2" y2="735.2" stroke="#333" stroke-width="0.5" /><rect x="73.7" y="738.5" width="10.9" height="7.3" fill="#e8e040" /><line x1="79.1" y1="733.2" x2="79.1" y2="735.2" stroke="#333" stroke-width="0.5" /><rect x="84.6" y="738.5" width="10.9" height="7.3" fill="#601848" /><line x1="90" y1="733.2" x2="90" y2="735.2" stroke="#333" stroke-width="0.5" /><rect x="95.5" y="738.5" width="10.9" height="7.3" fill="#ff5028" /><line x1="100.9" y1="733.2" x2="100.9" y2="735.2" stroke="#333" stroke-width="0.5" /><rect x="106.4" y="738.5" width="10.9" height="7.3" fill="#207040" /><line x1="111.8" y1="733.2" x2="111.8" y2="735.2" stroke="#333" stroke-width="0.5" /><rect x="117.3" y="738.5" width="10.9" height="7.3" fill="#60f0c0" /><line x1="122.7" y1="733.2" x2="122.7" y2="735.2" stroke="#333" stroke-width="0.5" /><rect x="128.1" y="738.5" width="10.9" height="7.3" fill="#f0b080" /><line x1="133.6" y1="733.2" x2="133.6" y2="735.2" stroke="#333" stroke-width="0.5" /><rect x="139" y="738.5" width="10.9" height="7.3" fill="#50e0d0" /><line x1="144.5" y1="733.2" x2="144.5" y2="735.2" stroke="#333" stroke-width="0.5" /><rect x="149.9" y="738.5" width="10.9" height="7.3" fill="#8070e0" /><line x1="155.4" y1="733.2" x2="155.4" y2="735.2" stroke="#333" stroke-width="0.5" /><rect x="160.8" y="738.5" width="10.9" height="7.3" fill="#a8f4f4" /><line x1="166.3" y1="733.2" x2="166.3" y2="735.2" stroke="#333" stroke-width="0.5" /><rect x="171.7" y="738.5" width="10.9" height="7.3" fill="#c4f0b4" /><line x1="177.2" y1="733.2" x2="177.2" y2="735.2" stroke="#333" stroke-width="0.5" /><rect x="182.6" y="738.5" width="10.9" height="7.3" fill="#f0a0c0" /><line x1="188.1" y1="733.2" x2="188.1" y2="735.2" stroke="#333" stroke-width="0.5" /><rect x="193.5" y="738.5" width="10.9" height="7.3" fill="#90a030" /><line x1="199" y1="733.2" x2="199" y2="735.2" stroke="#333" stroke-width="0.5" /><rect x="204.4" y="738.5" width="10.9" height="7.3" fill="#50d0f0" /><line x1="209.9" y1="733.2" x2="209.9" y2="735.2" stroke="#333" stroke-width="0.5" /><rect x="215.3" y="738.5" width="10.9" height="7.3" fill="#c8b460" /><line x1="220.8" y1="733.2" x2="220.8" y2="735.2" stroke="#333" stroke-width="0.5" /><rect x="226.2" y="738.5" width="10.9" height="7.3" fill="#a020f0" /><line x1="231.7" y1="733.2" x2="231.7" y2="735.2" stroke="#333" stroke-width="0.5" /><text x="27.4" y="748.3" font-size="7.9" text-anchor="end" fill="#111" transform="rotate(-90 27.4 748.3)">Astrocytes</text><text x="38.3" y="748.3" font-size="7.9" text-anchor="end" fill="#111" transform="rotate(-90 38.3 748.3)">Bushy cells_<tspan font-style="italic">Spp1</tspan><tspan dy="-2.5" font-size="4">+</tspan><tspan dy="2.5" font-size="1">&#8203;</tspan></text><text x="49.2" y="748.3" font-size="7.9" text-anchor="end" fill="#111" transform="rotate(-90 49.2 748.3)">Bushy cells_<tspan font-style="italic">Sst</tspan><tspan dy="-2.5" font-size="4">+</tspan><tspan dy="2.5" font-size="1">&#8203;</tspan></text><text x="60.1" y="748.3" font-size="7.9" text-anchor="end" fill="#111" transform="rotate(-90 60.1 748.3)">Cartwheel cells</text><text x="71" y="748.3" font-size="7.9" text-anchor="end" fill="#111" transform="rotate(-90 71 748.3)">D-stellate cells</text><text x="81.9" y="748.3" font-size="7.9" text-anchor="end" fill="#111" transform="rotate(-90 81.9 748.3)">Ependymal cells</text><text x="88.7" y="748.3" font-size="7.9" text-anchor="end" fill="#111" transform="rotate(-90 88.7 748.3)">Fibroblasts/</text><text x="96.8" y="748.3" font-size="7.9" text-anchor="end" fill="#111" transform="rotate(-90 96.8 748.3)">Pericytes/VLMCs</text><text x="103.7" y="748.3" font-size="7.9" text-anchor="end" fill="#111" transform="rotate(-90 103.7 748.3)">Fusiform cells</text><text x="114.6" y="748.3" font-size="7.9" text-anchor="end" fill="#111" transform="rotate(-90 114.6 748.3)">Golgi cells</text><text x="125.5" y="748.3" font-size="7.9" text-anchor="end" fill="#111" transform="rotate(-90 125.5 748.3)">Granule cells</text><text x="136.4" y="748.3" font-size="7.9" text-anchor="end" fill="#111" transform="rotate(-90 136.4 748.3)">Microglia</text><text x="147.3" y="748.3" font-size="7.9" text-anchor="end" fill="#111" transform="rotate(-90 147.3 748.3)">ML/L-stellate cells</text><text x="158.2" y="748.3" font-size="7.9" text-anchor="end" fill="#111" transform="rotate(-90 158.2 748.3)">Octopus cells</text><text x="169.1" y="748.3" font-size="7.9" text-anchor="end" fill="#111" transform="rotate(-90 169.1 748.3)">OPCs</text><text x="180" y="748.3" font-size="7.9" text-anchor="end" fill="#111" transform="rotate(-90 180 748.3)">Oligo_1</text><text x="190.9" y="748.3" font-size="7.9" text-anchor="end" fill="#111" transform="rotate(-90 190.9 748.3)">Oligo_2</text><text x="201.8" y="748.3" font-size="7.9" text-anchor="end" fill="#111" transform="rotate(-90 201.8 748.3)">T-stellate cells</text><text x="212.7" y="748.3" font-size="7.9" text-anchor="end" fill="#111" transform="rotate(-90 212.7 748.3)">UBCs</text><text x="223.6" y="748.3" font-size="7.9" text-anchor="end" fill="#111" transform="rotate(-90 223.6 748.3)">VECs</text><text x="234.5" y="748.3" font-size="7.9" text-anchor="end" fill="#111" transform="rotate(-90 234.5 748.3)">Vertical cells</text><text x="239.2" y="559.3" font-size="9.2">-log<tspan font-size="6" dy="2">10</tspan><tspan dy="-2">(FDR)</tspan></text><path fill="#000" d="M251.4 569.8A1.6 1.6 0 0 0 251.4 573Z"/><path fill="#000" d="M252.6 569.8A1.6 1.6 0 0 1 252.6 573Z"/><text x="260.5" y="574.8" font-size="9.4">1.4</text><path fill="#000" d="M251.4 578.5A2.2 2.2 0 0 0 251.4 582.9Z"/><path fill="#000" d="M252.6 578.5A2.2 2.2 0 0 1 252.6 582.9Z"/><text x="260.5" y="584.1" font-size="9.4">1.6</text><path fill="#000" d="M251.4 586.5A2.8 2.8 0 0 0 251.4 592.1Z"/><path fill="#000" d="M252.6 586.5A2.8 2.8 0 0 1 252.6 592.1Z"/><text x="260.5" y="592.7" font-size="9.4">1.8</text><path fill="#000" d="M251.4 595.2A3.4 3.4 0 0 0 251.4 602Z"/><path fill="#000" d="M252.6 595.2A3.4 3.4 0 0 1 252.6 602Z"/><text x="260.5" y="602" font-size="9.4">2.0</text><defs><linearGradient id="gfc2" x1="0" y1="0" x2="0" y2="1"><stop offset="0" stop-color="#8e1414"/><stop offset="0.25" stop-color="#d84040"/><stop offset="0.5" stop-color="#f4f4f8"/><stop offset="0.75" stop-color="#5a7ae0"/><stop offset="1" stop-color="#1a2a9a"/></linearGradient></defs><rect x="254" y="619" width="11" height="49.4" fill="url(#gfc2)" /><line x1="265" y1="619" x2="266.5" y2="619" stroke="#333" stroke-width="0.5" /><text x="267" y="621.9" font-size="8">2</text><line x1="265" y1="631.3" x2="266.5" y2="631.3" stroke="#333" stroke-width="0.5" /><text x="267" y="634.2" font-size="8">1</text><line x1="265" y1="643.6" x2="266.5" y2="643.6" stroke="#333" stroke-width="0.5" /><text x="267" y="646.5" font-size="8">0</text><line x1="265" y1="655.9" x2="266.5" y2="655.9" stroke="#333" stroke-width="0.5" /><text x="267" y="658.8" font-size="8">−1</text><line x1="265" y1="668.2" x2="266.5" y2="668.2" stroke="#333" stroke-width="0.5" /><text x="267" y="671.1" font-size="8">−2</text><text x="246.8" y="642.3" font-size="7.6" text-anchor="middle" transform="rotate(-90 246.8 642.3)">log<tspan font-size="5" dy="1.6">2</tspan><tspan dy="-1.6">(fold change)</tspan></text><path fill="#000" d="M256.6 677.6A4.7 4.7 0 0 0 256.6 687Z"/><path fill="#000" d="M261.4 677.6A4.7 4.7 0 0 1 261.4 687Z"/><text x="256.8" y="688.8" font-size="7.6" text-anchor="end" transform="rotate(-90 256.8 688.8)"><tspan font-style="italic">Vglut3</tspan><tspan dy="-2.8" font-size="4.6">-/-</tspan><tspan dy="2.8" font-size="1">&#8203;</tspan> vs <tspan font-style="italic">Vglut3</tspan><tspan dy="-2.8" font-size="4.6">-/-</tspan><tspan dy="2.8" font-size="1">&#8203;</tspan>+GT</text><text x="269.6" y="688.8" font-size="7.6" text-anchor="end" transform="rotate(-90 269.6 688.8)"><tspan font-style="italic">Vglut3</tspan><tspan dy="-2.8" font-size="4.6">-/-</tspan><tspan dy="2.8" font-size="1">&#8203;</tspan> vs WT</text><text x="295.2" y="566" font-size="16" font-weight="bold">h</text><rect x="286" y="572.3" width="248" height="207.8" fill="#000" /><line x1="341.6" y1="572.3" x2="341.6" y2="780.1" stroke="#6a6a6a" stroke-width="0.6" /><text x="325" y="583.8" font-size="9.6" text-anchor="middle" fill="#fff">WT</text><text x="400.5" y="583.8" font-size="9.6" text-anchor="middle" fill="#fff"><tspan font-style="italic">Vglut3</tspan><tspan dy="-3.2" font-size="5.2">-/-</tspan><tspan dy="3.2" font-size="1">&#8203;</tspan></text><text x="480.5" y="583.8" font-size="9.6" text-anchor="middle" fill="#fff"><tspan font-style="italic">Vglut3</tspan><tspan dy="-3.2" font-size="5.2">-/-</tspan><tspan dy="3.2" font-size="1">&#8203;</tspan>+GT</text><rect x="343.2" y="594.2" width="5.4" height="5.4" fill="#3a96d6" /><text x="351" y="598.8" font-size="7.6" fill="#fff">Bushy cells_</text><text x="351" y="606.8" font-size="7.6" fill="#fff"><tspan font-style="italic">Spp1</tspan><tspan dy="-2.6" font-size="4.4">+</tspan><tspan dy="2.6" font-size="1">&#8203;</tspan></text><rect x="343.2" y="608.8" width="5.4" height="5.4" fill="#f0a860" /><text x="351" y="614" font-size="7.6" fill="#fff">Microglia</text><defs><linearGradient id="hbg" x1="0" y1="0" x2="0" y2="1"><stop offset="0.55" stop-color="#fff" stop-opacity="0"/><stop offset="0.78" stop-color="#fff" stop-opacity="1"/><stop offset="1" stop-color="#fff" stop-opacity="1"/></linearGradient></defs><path d="M321.5 593.7C324.2 593.7 329.4 595.9 332.4 599.2C335.4 602.6 337.6 608.6 339.7 613.8C341.8 619 343.4 624.7 345.2 630.2C347 635.7 349.2 642 350.7 646.6C352.2 651.2 352.8 653.3 354.3 657.6C355.8 661.9 359.2 668.6 359.8 672.2C360.4 675.9 359.2 676.5 358 679.5C356.8 682.5 354.9 687.7 352.5 690.4C350.1 693.1 347.3 694.7 343.4 695.9C339.4 697.1 333.7 697.7 328.8 697.7C323.9 697.7 319.1 696.8 314.2 695.9C309.3 695 303.6 693.8 299.6 692.3C295.7 690.8 292.3 689.5 290.5 686.8C288.7 684 288.6 680.7 288.6 675.8C288.6 670.9 289 662.8 290.5 657.6C292 652.4 295.4 647.8 297.8 644.8C300.2 641.8 303.3 642 305.1 639.3C306.9 636.6 307.5 633.3 308.7 628.4C309.9 623.5 311.2 615 312.4 610.1C313.6 605.2 314.5 601.9 316 599.2C317.5 596.5 318.8 593.7 321.5 593.7Z" fill="#1a1a1a"/><path d="M321.5 593.7C324.2 593.7 329.4 595.9 332.4 599.2C335.4 602.6 337.6 608.6 339.7 613.8C341.8 619 343.4 624.7 345.2 630.2C347 635.7 349.2 642 350.7 646.6C352.2 651.2 352.8 653.3 354.3 657.6C355.8 661.9 359.2 668.6 359.8 672.2C360.4 675.9 359.2 676.5 358 679.5C356.8 682.5 354.9 687.7 352.5 690.4C350.1 693.1 347.3 694.7 343.4 695.9C339.4 697.1 333.7 697.7 328.8 697.7C323.9 697.7 319.1 696.8 314.2 695.9C309.3 695 303.6 693.8 299.6 692.3C295.7 690.8 292.3 689.5 290.5 686.8C288.7 684 288.6 680.7 288.6 675.8C288.6 670.9 289 662.8 290.5 657.6C292 652.4 295.4 647.8 297.8 644.8C300.2 641.8 303.3 642 305.1 639.3C306.9 636.6 307.5 633.3 308.7 628.4C309.9 623.5 311.2 615 312.4 610.1C313.6 605.2 314.5 601.9 316 599.2C317.5 596.5 318.8 593.7 321.5 593.7Z" fill="#fff" filter="url(#fhg)"/><path d="M321.5 593.7C324.2 593.7 329.4 595.9 332.4 599.2C335.4 602.6 337.6 608.6 339.7 613.8C341.8 619 343.4 624.7 345.2 630.2C347 635.7 349.2 642 350.7 646.6C352.2 651.2 352.8 653.3 354.3 657.6C355.8 661.9 359.2 668.6 359.8 672.2C360.4 675.9 359.2 676.5 358 679.5C356.8 682.5 354.9 687.7 352.5 690.4C350.1 693.1 347.3 694.7 343.4 695.9C339.4 697.1 333.7 697.7 328.8 697.7C323.9 697.7 319.1 696.8 314.2 695.9C309.3 695 303.6 693.8 299.6 692.3C295.7 690.8 292.3 689.5 290.5 686.8C288.7 684 288.6 680.7 288.6 675.8C288.6 670.9 289 662.8 290.5 657.6C292 652.4 295.4 647.8 297.8 644.8C300.2 641.8 303.3 642 305.1 639.3C306.9 636.6 307.5 633.3 308.7 628.4C309.9 623.5 311.2 615 312.4 610.1C313.6 605.2 314.5 601.9 316 599.2C317.5 596.5 318.8 593.7 321.5 593.7Z" fill="url(#hbg)" filter="url(#fhb)"/><path stroke="#e8a060" stroke-width="0.9" fill="none" d="M328.6 606.4h0.9m-7.7 1.6h0.9m13 0.4h0.9m-22.7 7h0.9m19.4 1.5h0.9m-19.8 6.6h0.9m-7.8 9.4h0.9m3.1 2.5h0.9m-2.8 3h0.9m15.3 2.3h0.9m21.8 2.9h0.9m-12.2 5.1h0.9m-6 2.2h0.9m-3.7 0.2h0.9m6.6 3.3h0.9m-46.4 3.6h0.9m39.1 2.3h0.9m20.3 1.4h0.9m-3.9 0.2h0.9m-34.7 3.4h0.9m13.9 1.2h0.9m-19.8 1.8h0.9m8.1 0.4h0.9m3.5 0h0.9m-28.4 0.9h0.9m-8.5 1h0.9m7.4 0.6h0.9m5.1 1.7h0.9m-8.6 2.7h0.9m25.8 0.5h0.9m-4.7 0.1h0.9m-17.1 0.8h0.9m16 0.4h0.9m12.7 3.7h0.9m21 0.3h0.9m-57 1.5h0.9m-3.8 1.2h0.9m3.9 5.8h0.9m38.4 2.3h0.9m-27.9 1.3h0.9m22.4 1.9h0.9"/><path d="M390.8 597.4C392.4 595.1 394.8 593.5 398.1 592.6C401.5 591.7 407.8 591.7 410.9 591.9C413.9 592.1 415.2 591.3 416.4 593.7C417.6 596.1 417 601.3 418.2 606.5C419.4 611.7 421.6 619.2 423.7 624.7C425.8 630.2 428.9 635.3 431 639.3C433.1 643.3 435.4 644.2 436.5 648.5C437.6 652.8 437.6 659.7 437.6 664.9C437.6 670.1 437.3 675.2 436.5 679.5C435.7 683.8 434.3 687.4 432.8 690.4C431.3 693.4 431.2 696 427.3 697.7C423.4 699.4 414.6 700.6 409.1 700.7C403.6 700.8 398.1 699.6 394.5 698.5C390.9 697.4 389 697.3 387.2 694.1C385.4 690.9 384.2 684.4 383.5 679.5C382.8 674.6 382.5 669.5 382.8 664.9C383.1 660.3 384.4 655.5 385.4 652.1C386.4 648.8 388.7 649.4 389 644.8C389.3 640.2 387.3 631.1 387.2 624.7C387.1 618.3 387.7 611 388.3 606.5C388.9 602 389.2 599.7 390.8 597.4Z" fill="#1a1a1a"/><path d="M390.8 597.4C392.4 595.1 394.8 593.5 398.1 592.6C401.5 591.7 407.8 591.7 410.9 591.9C413.9 592.1 415.2 591.3 416.4 593.7C417.6 596.1 417 601.3 418.2 606.5C419.4 611.7 421.6 619.2 423.7 624.7C425.8 630.2 428.9 635.3 431 639.3C433.1 643.3 435.4 644.2 436.5 648.5C437.6 652.8 437.6 659.7 437.6 664.9C437.6 670.1 437.3 675.2 436.5 679.5C435.7 683.8 434.3 687.4 432.8 690.4C431.3 693.4 431.2 696 427.3 697.7C423.4 699.4 414.6 700.6 409.1 700.7C403.6 700.8 398.1 699.6 394.5 698.5C390.9 697.4 389 697.3 387.2 694.1C385.4 690.9 384.2 684.4 383.5 679.5C382.8 674.6 382.5 669.5 382.8 664.9C383.1 660.3 384.4 655.5 385.4 652.1C386.4 648.8 388.7 649.4 389 644.8C389.3 640.2 387.3 631.1 387.2 624.7C387.1 618.3 387.7 611 388.3 606.5C388.9 602 389.2 599.7 390.8 597.4Z" fill="#fff" filter="url(#fhg)"/><path d="M390.8 597.4C392.4 595.1 394.8 593.5 398.1 592.6C401.5 591.7 407.8 591.7 410.9 591.9C413.9 592.1 415.2 591.3 416.4 593.7C417.6 596.1 417 601.3 418.2 606.5C419.4 611.7 421.6 619.2 423.7 624.7C425.8 630.2 428.9 635.3 431 639.3C433.1 643.3 435.4 644.2 436.5 648.5C437.6 652.8 437.6 659.7 437.6 664.9C437.6 670.1 437.3 675.2 436.5 679.5C435.7 683.8 434.3 687.4 432.8 690.4C431.3 693.4 431.2 696 427.3 697.7C423.4 699.4 414.6 700.6 409.1 700.7C403.6 700.8 398.1 699.6 394.5 698.5C390.9 697.4 389 697.3 387.2 694.1C385.4 690.9 384.2 684.4 383.5 679.5C382.8 674.6 382.5 669.5 382.8 664.9C383.1 660.3 384.4 655.5 385.4 652.1C386.4 648.8 388.7 649.4 389 644.8C389.3 640.2 387.3 631.1 387.2 624.7C387.1 618.3 387.7 611 388.3 606.5C388.9 602 389.2 599.7 390.8 597.4Z" fill="url(#hbg)" filter="url(#fhb)"/><path stroke="#e8a060" stroke-width="0.9" fill="none" d="M399.9 597.2h0.9m-8.8 4.9h0.9m14.8 5.2h0.9m-1.7 0.4h0.9m-9.8 4.4h0.9m-5.2 3.6h0.9m18.6 0.8h0.9m-21.1 0.5h0.9m9.8 0.2h0.9m1.3 9.2h0.9m5.6 0.7h0.9m7 0.5h0.9m1.4 1.6h0.9m-4 0.4h0.9m-27.3 3.4h0.9m33.6 1.1h0.9m-28 0.6h0.9m1.3 1.3h0.9m3.9 0h0.9m6.2 0.2h0.9m-17.8 4.1h0.9m0.5 3.6h0.9m17 0.6h0.9m-11 0.1h0.9m11.9 4.3h0.9m-15.4 2h0.9m15.7 0.4h0.9m-34.6 3.5h0.9m-4.4 4.4h0.9m18.5 6.8h0.9m4.1 0.9h0.9m-8.2 1.4h0.9m-6.5 0.8h0.9m-12.1 2.7h0.9m41.7 0.6h0.9m4.3 0.3h0.9m-41.5 1.7h0.9m10.6 0.4h0.9m-1.5 1.4h0.9m-7.8 0.9h0.9m16.3 0.6h0.9m-30.1 2h0.9m8.9 1.2h0.9m10.5 1h0.9m26 0.4h0.9m-10 0.1h0.9m-3.7 1.2h0.9m-5.2 0.9h0.9m-2 2.6h0.9m-18.8 3.8h0.9m16.1 0.4h0.9m-15.6 0.3h0.9m10 2.5h0.9m1.4 0.6h0.9m-7.7 0.4h0.9m-5.1 1.6h0.9m7.3 4.3h0.9"/><path d="M471.1 591.9C472.6 589.2 475.3 590 478.4 590.1C481.4 590.2 486 589.9 489.4 592.6C492.8 595.3 495.8 601.1 498.5 606.5C501.2 611.9 503.4 618.6 505.8 624.7C508.2 630.8 510.4 637.5 513.1 643C515.8 648.5 520.1 652.7 522.2 657.6C524.3 662.5 525.9 668 525.9 672.2C525.9 676.5 524.6 680.1 522.2 683.1C519.8 686.1 515.6 688.3 511.3 690.4C507.1 692.5 501.6 694.7 496.7 695.9C491.8 697.1 486.4 698 482.1 697.7C477.8 697.4 473.8 697.1 471.1 694.1C468.4 691.1 466.9 685 465.7 679.5C464.5 674 463.8 667.3 463.8 661.2C463.8 655.1 465.1 649.1 465.7 643C466.3 636.9 466.9 630.8 467.5 624.7C468.1 618.6 468.7 612 469.3 606.5C469.9 601 469.6 594.6 471.1 591.9Z" fill="#1a1a1a"/><path d="M471.1 591.9C472.6 589.2 475.3 590 478.4 590.1C481.4 590.2 486 589.9 489.4 592.6C492.8 595.3 495.8 601.1 498.5 606.5C501.2 611.9 503.4 618.6 505.8 624.7C508.2 630.8 510.4 637.5 513.1 643C515.8 648.5 520.1 652.7 522.2 657.6C524.3 662.5 525.9 668 525.9 672.2C525.9 676.5 524.6 680.1 522.2 683.1C519.8 686.1 515.6 688.3 511.3 690.4C507.1 692.5 501.6 694.7 496.7 695.9C491.8 697.1 486.4 698 482.1 697.7C477.8 697.4 473.8 697.1 471.1 694.1C468.4 691.1 466.9 685 465.7 679.5C464.5 674 463.8 667.3 463.8 661.2C463.8 655.1 465.1 649.1 465.7 643C466.3 636.9 466.9 630.8 467.5 624.7C468.1 618.6 468.7 612 469.3 606.5C469.9 601 469.6 594.6 471.1 591.9Z" fill="#fff" filter="url(#fhg)"/><path d="M471.1 591.9C472.6 589.2 475.3 590 478.4 590.1C481.4 590.2 486 589.9 489.4 592.6C492.8 595.3 495.8 601.1 498.5 606.5C501.2 611.9 503.4 618.6 505.8 624.7C508.2 630.8 510.4 637.5 513.1 643C515.8 648.5 520.1 652.7 522.2 657.6C524.3 662.5 525.9 668 525.9 672.2C525.9 676.5 524.6 680.1 522.2 683.1C519.8 686.1 515.6 688.3 511.3 690.4C507.1 692.5 501.6 694.7 496.7 695.9C491.8 697.1 486.4 698 482.1 697.7C477.8 697.4 473.8 697.1 471.1 694.1C468.4 691.1 466.9 685 465.7 679.5C464.5 674 463.8 667.3 463.8 661.2C463.8 655.1 465.1 649.1 465.7 643C466.3 636.9 466.9 630.8 467.5 624.7C468.1 618.6 468.7 612 469.3 606.5C469.9 601 469.6 594.6 471.1 591.9Z" fill="url(#hbg)" filter="url(#fhb)"/><path stroke="#e8a060" stroke-width="0.9" fill="none" d="M482.3 596.1h0.9m-3.3 2.5h0.9m9.8 0.4h0.9m-17.2 2.1h0.9m17.2 3.8h0.9m-17.8 0.3h0.9m19.3 2.8h0.9m-11.2 1.9h0.9m5.7 0.1h0.9m-6.4 5.6h0.9m-13.3 3.3h0.9m28.3 2.8h0.9m-3.1 2.6h0.9m-7.7 3.3h0.9m5.3 0.2h0.9m-33.6 6.2h0.9m17.4 1h0.9m-18.6 0.1h0.9m17.8 2.1h0.9m-21.6 3.2h0.9m6.5 0.5h0.9m22.8 1.9h0.9m2.3 6.1h0.9m14.8 0.7h0.9m-19.3 4.7h0.9m-30.1 0.2h0.9m38 1.7h0.9m12 5.4h0.9m-17.6 0.2h0.9m-10 0.1h0.9m4.6 1.9h0.9m-28.2 1.1h0.9m11.8 0h0.9m30.7 1.5h0.9m-25.5 1.2h0.9m14.2 2.4h0.9m-28.4 4.4h0.9m-10.7 0.7h0.9m26.2 0.1h0.9m18.6 0h0.9m-48.3 1.4h0.9m14.1 0.6h0.9m11.4 1.3h0.9m-15.6 0.4h0.9m31 2.9h0.9m-35.8 2.3h0.9m28.2 1.4h0.9m7.3 0.2h0.9m-29.5 1.4h0.9m12.6 2.8h0.9"/><rect x="314.2" y="671.5" width="16.3" height="16.3" fill="none" stroke="#e8e8e8" stroke-width="0.8"/><rect x="407.3" y="666.5" width="17.6" height="18" fill="none" stroke="#e8e8e8" stroke-width="0.8"/><rect x="489.2" y="668.9" width="17" height="18" fill="none" stroke="#e8e8e8" stroke-width="0.8"/><line x1="314.2" y1="687.8" x2="292.5" y2="713.3" stroke="#ddd" stroke-width="0.6" stroke-dasharray="2.5,2"/><line x1="330.5" y1="687.8" x2="350.3" y2="713.3" stroke="#ddd" stroke-width="0.6" stroke-dasharray="2.5,2"/><line x1="407.3" y1="684.5" x2="385.5" y2="713.3" stroke="#ddd" stroke-width="0.6" stroke-dasharray="2.5,2"/><line x1="424.9" y1="684.5" x2="443.5" y2="713.3" stroke="#ddd" stroke-width="0.6" stroke-dasharray="2.5,2"/><line x1="489.2" y1="687" x2="467.2" y2="713.3" stroke="#ddd" stroke-width="0.6" stroke-dasharray="2.5,2"/><line x1="506.2" y1="687" x2="525.3" y2="713.3" stroke="#ddd" stroke-width="0.6" stroke-dasharray="2.5,2"/><path stroke="#8a8a8a" stroke-width="2.5" stroke-linecap="round" fill="none" d="M320.7 715.5h0m0.1 0.1h0m-11.7 0.5h0m1.2 0h0m-8.2 0.2h0m-2.5 0.1h0m5.1 0h0m24.9 0h0m8.3 0h0m6.8 0.1h0m-13.4 0.1h0m-22.7 0.1h0m9.6 0.2h0m3.1 0.1h0m-13 0.1h0m36.5 0.1h0m-42.2 0.2h0m13 0h0m-20.5 0.1h0m31.1 0.1h0m13.1 0.1h0m-28.9 0.2h0m3.5 0.1h0m-11.4 0.2h0m24.2 0h0m-31 0.1h0m37.6 0h0m-24.4 0.2h0m6.9 0h0m24.8 0.1h0m-36.1 0.1h0m13.3 0.2h0m-18.9 0.2h0m11.7 0.1h0m22.8 0.1h0m4.4 0h0m-2.5 0.2h0m-16.5 0.1h0m-4.7 0.1h0m3.3 0.8h0m8.8 0.1h0m15.8 0.2h0m5.4 0h0m-28.1 0.1h0m13.3 0h0m-30.4 0.3h0m-4.1 0.2h0m7.4 0h0m27.9 0h0m-34.5 0.1h0m28.5 0.1h0m6.1 0h0m-9.1 0.1h0m2.6 0h0m-15 0.1h0m20.1 0h0m-21 0.1h0m32 0.1h0m-4.3 0.2h0m-12.8 0.2h0m9.9 0h0m-2.2 0.3h0m-33 0.1h0m-1.7 0.1h0m-3.5 0.3h0m30.8 0h0m22 0h0m-19.1 0.2h0m10.4 0h0m-9.3 0.1h0m-26.8 0.3h0m-4.2 0.2h0m-0.8 0.2h0m17 0.1h0m16.2 0h0m-2.6 0.1h0m-25.9 0.1h0m35.4 0.1h0m-9.7 0.2h0m13.1 0.4h0m-32.1 0.2h0m4 0.5h0m0.8 0.3h0m24 0h0m-27.5 0.3h0m9 0h0m5.2 0h0m4.7 0h0m17.2 0h0m0.1 0.4h0m-50.3 0.1h0m5.2 0h0m11.4 0.1h0m7.5 0h0m7.3 0h0m0.2 0h0m1.3 0h0m-29 0.1h0m6.5 0.2h0m10.3 0h0m14.4 0.1h0m-23.5 0.1h0m-12.6 0.2h0m16.4 0.1h0m6.8 0h0m-9.5 0.2h0m6.1 0h0m2.2 0h0m26.2 0h0m-10.5 0.2h0m6.1 0.1h0m-16.3 0.1h0m5.9 0.3h0m-30.1 0.3h0m11.8 0.2h0m8.9 0h0m25.6 0.1h0m-0.3 0.2h0m-22.3 0.2h0m-24.3 0.4h0m28.4 0h0m2.8 0.2h0m-29.5 0.1h0m12.5 0.1h0m-14.8 0.1h0m33.9 0h0m11.6 0.3h0m-6.3 0.2h0m1.4 0h0m-25.8 0.1h0m27.6 0.1h0m-44 0.1h0m25 0h0m-19 0.1h0m14 0.2h0m14.1 0h0m-13.7 0.4h0m16.7 0h0m-32.3 0.1h0m3.3 0h0m32.5 0h0m-35.1 0.3h0m40.9 0h0m-12.3 0.1h0m9.1 0.3h0m2.6 0.1h0m-11.4 0.2h0m-23.4 0.2h0m34.2 0h0m-21.2 0.1h0m16.6 0.1h0m-30.4 0.2h0m38.5 0h0m-0.6 0.1h0m-41.3 0.1h0m21.3 0.3h0m-26.9 0.3h0m6.7 0.1h0m-3.1 0.1h0m9.1 0h0m-0.6 0.1h0m11.7 0.1h0m3.9 0.1h0m12.5 0.1h0m-39.7 0.1h0m40.2 0.2h0m2.7 0h0m-31.6 0.1h0m18.4 0.1h0m-26.4 0.2h0m38.6 0.1h0m-36.7 0.2h0m34.9 0.1h0m-8.9 0.3h0m8 0h0m-36.4 0.1h0m1.4 0.1h0m18.1 0h0m-23.9 0.1h0m14.2 0.1h0m-13.1 0.4h0m1.3 0.3h0m12.1 0.1h0m-7.5 0.2h0m36.1 0h0m-38.4 0.1h0m1.8 0h0m41.4 0h0m-18.2 0.1h0m16.3 0.4h0m-41.4 0.1h0m33.9 0h0m1.1 0h0m2.2 0.3h0m-34.8 0.1h0m29.9 0h0m-30.8 0.1h0m27.7 0h0m-29.4 0.1h0m10.9 0h0m5.1 0.1h0m-2.7 0.1h0m9.1 0h0m6.1 0.1h0m0.4 0h0m-33.7 0.3h0m46.2 0h0m-18 0.1h0m-26.9 0.2h0m31 0h0m-34 0.3h0m39 0h0m3.3 0.1h0m-19.2 0.1h0m19.5 0.4h0m-12.5 0.1h0m-4 0.3h0m14.4 0h0m11.6 0h0m-23.8 0.2h0m-14.6 0.2h0m25 0h0m-5.1 0.4h0m-1.3 0.1h0m-32.1 0.5h0m8.9 0h0m6.8 0h0m-14.7 0.5h0m3.7 0h0m29.5 0.1h0m-29.3 0.1h0m0.7 0h0m30 0.3h0m-28.1 0.1h0m8.4 0h0m-5.5 0.4h0m23.5 0.1h0m6.5 0.1h0m-29.7 0.1h0m-10.4 0.2h0m35.9 0.1h0m16.7 0h0m-43.6 0.1h0m5.7 0.1h0m0.9 0h0m9.5 0h0m1.4 0h0m15.1 0.2h0m-19.6 0.2h0m23.7 0h0m-0.3 0.2h0m-40.9 0.2h0m-2.3 0.1h0m29 0h0m-12.1 0.1h0m-14.7 0.3h0m22 0h0m-6 0.2h0m18.7 0h0m-12.6 0.1h0m26.6 0h0m-13.3 0.3h0m-25.5 0.1h0m36.5 0.2h0m-3.6 0.3h0m-3.7 0.2h0m7.6 0h0m-35.3 0.1h0m14.1 0h0m22.1 0h0m-39.8 0.1h0m27.5 0h0m-13.8 0.1h0m-22.8 0.1h0m19.4 0h0m20.6 0.2h0m-37.9 0.1h0m33.9 0h0m-12.8 0.2h0m25.4 0h0m-30.3 0.1h0m20.7 0h0m-41.9 0.3h0m28.1 0h0m-3.5 0.1h0m11.7 0.1h0m12.7 0.4h0m-31.1 0.1h0m25.4 0h0m-26.8 0.2h0m13.9 0h0m13 0h0m-36.4 0.4h0m-7.3 0.1h0m21.1 0h0m0.4 0h0m20.2 0h0m-41.4 0.1h0m4 0h0m2.2 0.5h0m14.6 0h0m-13.4 0.3h0m11.2 0h0m2.8 0h0m-13 0.1h0m28.8 0.1h0m-7.5 0.1h0m-23.8 0.3h0m40.2 0.3h0m6.5 0.4h0m-45.1 0.1h0m10.5 0.1h0m14 0h0m-23.5 0.1h0m41 0.5h0m-22.6 0.3h0m13.4 0h0m-20.5 0.2h0m20 0h0m2.8 0h0m-38.8 0.2h0m17.1 0h0m20.4 0.1h0m-14.3 0.1h0m-2.7 0.1h0m8.5 0h0m0.7 0.1h0m-17 0.1h0m19.5 0h0m16 0.1h0m-35.1 0.2h0m11.5 0.1h0m7 0.2h0m-32.1 0.4h0m37.7 0h0m-1.2 0.1h0m8.2 0.1h0m-46.3 0.2h0m1.1 0.3h0m16 0h0m14.1 0.1h0m-9.2 0.2h0m6.9 0.3h0m2.5 0.1h0m-27.3 0.3h0m12.7 0h0m6.4 0.1h0m13.7 0.5h0m-9.7 0.2h0m-28.7 0.3h0m29.9 0h0m-29.2 0.1h0m9.3 0h0m-8.2 0.1h0m50.3 0.1h0m-28.6 0.1h0m3.8 0.5h0m22.9 0h0m-32 0.1h0m7.6 0.1h0m-4.4 0.1h0m30.1 0.1h0m-41.3 0.1h0m-5.7 0.1h0m5.4 0.2h0m-0.9 0.1h0m18.8 0.1h0m-1.1 0.2h0m23 0.1h0m-6.8 0.1h0m-41.8 0.1h0m18 0h0m26.5 0.3h0m-31.3 0.3h0m1.3 0h0m8.5 0h0m10.3 0.2h0m-21.7 0.2h0m-8.6 0.1h0m11.2 0.2h0m17.7 0.1h0m-16.8 0.1h0m6.6 0.1h0m8.7 0h0m-4 0.1h0m-10.2 0.1h0m19.8 0h0m2.6 0.1h0m-39.8 0.1h0m51 0h0m-43.4 0.1h0m-6.6 0.1h0m25.9 0h0m21.5 0h0m-5.8 0.1h0m-36.5 0.1h0m39.3 0h0m-33 0.1h0m-6.6 0.1h0m45.7 0.2h0m-18.3 0.5h0m-25.2 0.1h0m20.9 0h0m8 0.2h0m0.1 0.1h0m-17.5 0.1h0m1.3 0.3h0m4.3 0h0m4.5 0.2h0m22.7 0.1h0m-9.7 0.1h0m-9.4 0.1h0m17.7 0h0m-49.5 0.1h0m37.6 0.2h0m4.8 0.1h0m-42.5 0.1h0m30.5 0h0m16.2 0h0m-42.6 0.1h0m5.4 0h0m25.9 0h0m-15.8 0.3h0m-6 0.2h0m34.8 0.1h0m-34.1 0.1h0m-11.4 0.4h0m-0.1 0.2h0m28.3 0h0m-13.3 0.1h0m27 0h0m-33.6 0.3h0m2 0.1h0m-13 0.1h0m48.6 0h0m-10.3 0.3h0m11.9 0.2h0m-37.1 0.2h0m21.7 0h0m-3.5 0.1h0m-17 0.1h0m11 0.1h0m-12.5 0.2h0m9.6 0h0m-17.7 0.3h0m14.2 0.2h0m1.5 0.3h0m27.4 0.5h0m-48.5 0.1h0m47.6 0.1h0m-44.8 0.1h0m17.5 0h0m18.4 0h0m3 0h0m-42.9 0.1h0m20.7 0h0m2.9 0.2h0"/><path stroke="#3a96d6" stroke-width="2.9" stroke-linecap="round" fill="none" d="M301.8 716h0m5.4 0.6h0m-6.4 0.3h0m3.1 0h0m33.1 2.3h0m-41.9 0.1h0m2.1 0h0m18.4 0.1h0m22.4 0.1h0m-3.7 2.5h0m-36.5 0.1h0m2.2 0h0m37.3 1.3h0m-41.3 0.5h0m37.2 0.1h0m-20.6 0.2h0m14.3 1.1h0m10.6 0.9h0m-5.4 0.3h0m-11.4 0.5h0m4.6 0.5h0m0.4 0.3h0m-7.5 0.4h0m-4.9 1.1h0m4.5 0.2h0m-9.8 0.6h0m38.9 0.1h0m-39.8 1h0m6.6 0.4h0m-12 0.6h0m25 0.6h0m-7.8 0.1h0m20.5 0.4h0m-35 0.6h0m41.1 2h0m-27.3 0.2h0m12.5 0.9h0m-20.2 0.5h0m-5.7 0.1h0m17.9 0.3h0m3.3 0h0m1.9 0.4h0m-8.4 1.5h0m-11.9 0.3h0m14.2 0.5h0m-21.9 0.1h0m-0.5 3.7h0m39.8 0.7h0m-34.7 2.2h0m7.9 0h0m12.3 0.3h0m-6.4 0.3h0m-0.6 0.1h0m17.5 0h0m-12.3 0.1h0m-18.8 0.1h0m23.2 0h0m8.7 0.2h0m-7.5 0.7h0m-1.7 0.5h0m3.2 0.1h0m-19.9 0.3h0m-12.3 1.3h0m44.6 0.8h0m-42.2 1.5h0m29.8 1.6h0m-17.5 0.7h0m-5.7 0.1h0m35.8 0.3h0m-19.5 0.7h0m19.1 1h0m-12.9 0.1h0m-9.9 0.3h0m-6.8 0.3h0m0.3 0.1h0m24.7 1h0m-29.5 0.9h0m-10.4 0.2h0m-2.3 0.1h0m28.5 1.3h0m-23 1.6h0m43.8 0.6h0m-38.9 0.1h0m13.4 0h0m-4.8 0.9h0m-9.9 1.1h0m35.8 0.7h0m-33.7 0.7h0m25.1 0.1h0m3.6 0.4h0m-11.6 0.8h0m-0.5 1.2h0m19.6 0.6h0m-14.6 0.2h0"/><path stroke="#f0a050" stroke-width="2.5" stroke-linecap="round" fill="none" d="M314 719.7h0m-7.3 4.2h0m7 4.2h0m13.9 5.4h0m-9.9 5.5h0m28.4 14h0m-32.9 1.3h0m8.8 7.6h0m-26.5 7.6h0"/><rect x="292.5" y="713.3" width="57.8" height="60.2" fill="none" stroke="#ccc" stroke-width="0.7" stroke-dasharray="3,2.2"/><path stroke="#8a8a8a" stroke-width="2.5" stroke-linecap="round" fill="none" d="M387.6 715.4h0m40 0.5h0m-8.6 0.1h0m-6.5 0.2h0m13.3 0.2h0m-24.2 0.1h0m24.9 0.2h0m-0.9 0.1h0m-29.3 0.2h0m36.1 0.1h0m-2.7 0.1h0m-22.1 0.1h0m0.9 0.1h0m-13 0.3h0m10.4 0h0m17.9 0.1h0m-22.7 0.1h0m-5.6 0.3h0m-0.5 0.1h0m45.2 0h0m-10 0.1h0m-21.1 0.1h0m-5.7 0.3h0m-12.2 0.1h0m32.2 0h0m10 0h0m4.6 0h0m-38.3 0.3h0m28.9 0h0m2.6 0.3h0m-36.6 0.3h0m-6.2 0.1h0m12.1 0.1h0m16.7 0.1h0m5.6 0h0m7.5 0h0m-34.2 0.2h0m17.9 0h0m-2.1 0.1h0m10.4 0h0m2.9 0.1h0m-14.9 0.1h0m19.8 0.1h0m4.7 0.1h0m-35 0.1h0m5.7 0.2h0m15 0.1h0m-9.4 0.1h0m14.8 0h0m-16.1 0.1h0m18.1 0h0m-22.1 0.1h0m2.6 0.3h0m3 0h0m-12.7 0.3h0m20 0h0m-12.9 0.2h0m21.1 0h0m-17.5 0.3h0m11.8 0.1h0m10 0h0m-42.5 0.2h0m23.7 0h0m-24 0.2h0m14.2 0.2h0m2.7 0.1h0m9.1 0h0m-3.7 0.2h0m29.8 0h0m-36.4 0.2h0m31.9 0h0m-42.3 0.1h0m24.3 0.1h0m-30.1 0.1h0m40.8 0h0m-4.2 0.1h0m6.9 0.2h0m-7.3 0.1h0m-2 0.1h0m-16 0.2h0m1.1 0.2h0m23.4 0.1h0m3.6 0h0m-38 0.1h0m-3.1 0.1h0m9.8 0.1h0m14.5 0.3h0m20.8 0h0m-49.9 0.1h0m20 0h0m-1.9 0.1h0m16.1 0h0m-15.5 0.2h0m25.5 0.2h0m-23.8 0.3h0m7.3 0.3h0m-17.7 0.2h0m4 0.1h0m5.8 0h0m15.2 0h0m-15.4 0.1h0m5 0h0m11 0.1h0m8.8 0h0m-7.6 0.3h0m-4.9 0.1h0m-32 0.1h0m10.8 0.2h0m17.8 0.1h0m-28.6 0.1h0m19.8 0h0m29 0h0m-45 0.1h0m19.6 0h0m-2 0.3h0m9.1 0h0m-24.7 0.1h0m18 0.1h0m9.6 0h0m14.5 0.2h0m-36.7 0.1h0m6.2 0.2h0m13.4 0h0m-5.5 0.1h0m3.6 0.1h0m23.6 0.2h0m-31.3 0.2h0m31.1 0h0m-18.3 0.2h0m2.9 0h0m6.6 0.1h0m-1.1 0.1h0m-11.4 0.1h0m21.3 0h0m-24.4 0.1h0m4.5 0.1h0m11.1 0.3h0m-8.4 0.1h0m-13.7 0.2h0m4.5 0h0m-24.4 0.1h0m32.4 0h0m8.1 0.1h0m-41.1 0.1h0m4.4 0h0m18 0h0m13 0h0m-4.5 0.1h0m10.2 0h0m-31.8 0.2h0m7.3 0h0m0 0.1h0m-12.3 0.1h0m15.2 0h0m1.6 0h0m22.3 0.2h0m2.4 0h0m-42.6 0.2h0m38 0.2h0m-17 0.3h0m8.5 0.1h0m-27.8 0.4h0m23.3 0h0m9.7 0h0m-37.7 0.2h0m30.5 0h0m18.7 0h0m-22 0.2h0m-16.1 0.1h0m38.2 0.2h0m0.4 0.2h0m0.3 0.2h0m-20.5 0.1h0m-5.5 0.1h0m1.5 0h0m19.3 0h0m-38.2 0.2h0m5.4 0h0m33 0h0m0 0.3h0m-8.6 0.1h0m-20.2 0.1h0m24.6 0.1h0m5.5 0h0m-46.4 0.2h0m12.2 0h0m8 0.2h0m-3.5 0.3h0m-7.1 0.1h0m5.1 0h0m11.9 0h0m-22.3 0.1h0m10.4 0h0m31.5 0.1h0m1.8 0h0m-15.8 0.1h0m-5 0.2h0m0.9 0h0m-29.5 0.1h0m13.4 0.1h0m0.8 0h0m7.8 0h0m27.9 0.2h0m-9.9 0.1h0m6.7 0h0m-31.4 0.2h0m14.2 0.2h0m-13.7 0.2h0m-11.7 0.1h0m17.6 0h0m-5.3 0.3h0m-11.5 0.1h0m16.6 0.1h0m28.2 0h0m-22.6 0.1h0m11.8 0.5h0m-28.2 0.1h0m-9.7 0.4h0m37.7 0.1h0m-34.9 0.1h0m41.1 0.1h0m-44.3 0.1h0m18.1 0h0m9.6 0h0m-18.6 0.3h0m12.1 0.2h0m-6.2 0.3h0m13.1 0h0m-19 0.1h0m-0.1 0.1h0m17.8 0h0m0.7 0h0m15.4 0.1h0m-19.9 0.3h0m20.8 0.1h0m4.6 0h0m-20.2 0.1h0m-27.1 0.3h0m20.9 0.1h0m-12.3 0.3h0m15.2 0h0m-19.7 0.1h0m3.6 0h0m29.4 0.2h0m-30.7 0.1h0m16.7 0h0m10.6 0.2h0m12.5 0h0m1.3 0.1h0m-26.4 0.1h0m6.6 0.1h0m6.3 0h0m17.6 0.1h0m-20 0.1h0m-20.2 0.2h0m37.8 0h0m-50.1 0.4h0m47.8 0.3h0m-0.6 0.1h0m-20.7 0.1h0m26 0h0m-46.1 0.1h0m33 0h0m-18.2 0.1h0m3.1 0.3h0m19.1 0h0m-31.4 0.1h0m37.8 0.1h0m-49.7 0.4h0m12 0.2h0m8.6 0h0m11.3 0.2h0m-1.8 0.1h0m-19.3 0.1h0m-11.9 0.5h0m46.2 0h0m-17.6 0.2h0m-12 0.1h0m34.3 0.1h0m-13.3 0.6h0m6.9 0h0m4.6 0h0m-33 0.4h0m1.6 0h0m7.1 0h0m18.9 0h0m-28.8 0.1h0m19.3 0h0m-31.5 0.4h0m24.1 0h0m22.8 0h0m-22.3 0.1h0m26.3 0.1h0m-0.7 0.1h0m-33.3 0.2h0m2.9 0.1h0m-13.1 0.2h0m14.1 0h0m9.8 0h0m6.9 0h0m-28 0.2h0m3.4 0h0m19.4 0h0m13.7 0h0m-20 0.2h0m20.9 0h0m-9.3 0.3h0m-16.2 0.3h0m24.7 0h0m-41.1 0.1h0m5.2 0h0m-3.2 0.2h0m28.3 0.2h0m-2.2 0.1h0m1.2 0.1h0m7.2 0.3h0m-43.6 0.2h0m26.9 0.1h0m18 0.2h0m-37.6 0.1h0m39.3 0.1h0m-2.5 0.1h0m-33.5 0.2h0m31.7 0h0m2.6 0h0m-21.3 0.2h0m-16.5 0.1h0m36.4 0h0m-3.9 0.2h0m10.2 0h0m3 0h0m-35.2 0.1h0m-3.6 0.2h0m6.4 0.1h0m23 0.1h0m-34.1 0.1h0m22.9 0.2h0m9.8 0h0m-31.7 0.2h0m12.2 0h0m8.3 0h0m-24.6 0.1h0m8.9 0.1h0m27.1 0h0m-24 0.3h0m-16.6 0.1h0m21.4 0.1h0m20.1 0.2h0m-0.2 0.1h0m-43.3 0.3h0m21.1 0h0m24.6 0h0m-15.5 0.5h0m1.8 0h0m-24.2 0.1h0m39.5 0.1h0m-46.5 0.3h0m36.4 0.1h0m2.9 0h0m-16.9 0.1h0m1.8 0h0m-10.9 0.1h0m33.6 0.1h0m-14.5 0.1h0m17.3 0.1h0m-47.7 0.4h0m12.2 0.1h0m26.4 0h0m5.7 0.1h0m-11.4 0.1h0m-7.9 0.3h0m11.6 0.3h0m1 0.1h0m9.5 0h0m-48.9 0.1h0m43.3 0h0m-20.6 0.2h0m-14.9 0.1h0m-3.8 0.4h0m25.7 0.1h0m-20 0.1h0m32.5 0h0m-4.1 0.3h0m-34 0.3h0m7.4 0.1h0m32.2 0.1h0m-34.5 0.3h0m13.9 0h0m17.7 0h0m-4.9 0.1h0m-10.2 0.1h0m7.3 0h0m-27.2 0.1h0m8.4 0.3h0m21.6 0h0m-18.3 0.1h0m33.3 0.1h0m-19.2 0.3h0m-31.4 0.1h0m32.5 0h0m3 0h0m-34.1 0.1h0m30 0.2h0m-29.3 0.3h0m11.2 0.1h0m7.2 0h0m12.3 0.1h0m18 0h0m-6.3 0.3h0m6.7 0h0m-4.9 0.2h0m-33 0.2h0m28.4 0.2h0m-13.8 0.1h0m0.8 0h0m23.3 0.1h0m-51.4 0.3h0m16.8 0.1h0m18.4 0h0m-15.6 0.1h0m4 0.3h0m1 0h0m-14.8 0.1h0m-5.2 0.1h0m-2.2 0.2h0m7.6 0h0m4.7 0h0m35.6 0h0m-23.4 0.1h0m-14.2 0.1h0m24.8 0.2h0m-32.7 0.2h0m-4.8 0.2h0m-1.1 0.1h0m13.9 0.1h0m33.2 0h0m-20.4 0.2h0m-10.7 0.2h0m32.7 0h0m0.2 0.1h0m-29.8 0.3h0m9.7 0h0m-23.1 0.1h0m29.8 0.1h0m11.7 0h0m-1.2 0.3h0m-17.5 0.1h0m7.2 0h0m-23.2 0.1h0m33.3 0.1h0m-27.1 0.1h0m0.1 0h0m31.4 0.2h0m-41.7 0.1h0m20.4 0h0m1.6 0.2h0m-20.7 0.2h0m15.8 0h0m-19.9 0.1h0m25 0h0m1.4 0.1h0m5.2 0h0m-36.3 0.2h0m44.3 0h0m-30.2 0.1h0m3.5 0.1h0m9.5 0.1h0m-9.2 0.2h0m23.2 0h0m-28.2 0.3h0m30.7 0h0m6 0h0m-21.1 0.1h0m-16.9 0.1h0m26.9 0.1h0m-7 0.9h0m11.5 0h0m-34.4 0.1h0m1 0.1h0m10.7 0h0m-13.4 0.1h0m16.2 0h0m15 0h0m-33.3 0.1h0m27.5 0.1h0m11.2 0.2h0m7.6 0h0m-8.8 0.1h0m-19.8 0.1h0"/><path stroke="#3a96d6" stroke-width="2.9" stroke-linecap="round" fill="none" d="M428.6 715.3h0m4.1 0.5h0m-26.9 2h0m-2.4 2.9h0m-2.9 1.4h0m4.3 1h0m23.8 0.5h0m-9.1 0.1h0m9.9 0h0m-34.1 0.2h0m-0.2 3h0m6 0.7h0m-2 1.6h0m-8.2 0.2h0m19.8 1.1h0m22.7 0h0m-13 0.1h0m13.8 1.2h0m-25.1 0.3h0m23.7 0h0m-24.9 0.1h0m28.9 0h0m-40.5 1.6h0m33.1 0h0m-41 4.1h0m8.4 1.1h0m-1.3 0.1h0m4.7 1.2h0m39.9 0.2h0m-18.5 0.5h0m-24.3 1h0m19.5 0.7h0m-28.9 0.4h0m6.1 1.4h0m14.8 0.8h0m-15.5 2.4h0m8.2 0.3h0m-2.1 2h0m21.4 0h0m1.9 0.2h0m-11.9 0.6h0m2.7 0.2h0m-20.4 0.5h0m23.7 0h0m-5.1 0.6h0m-19.5 0.2h0m7.6 1h0m17.2 0h0m-3.6 4.7h0m26.4 0.6h0m-13.1 0.7h0m8.9 2.2h0m-39.5 0.4h0m38.4 0.7h0m-21.8 0.4h0m-20.7 0.2h0m48.7 0.1h0m-9.8 0.3h0m5.7 0.8h0m-26.5 0.8h0m3.2 1.3h0m-16.3 3.9h0m39.3 0.1h0"/><path stroke="#f0a050" stroke-width="2.5" stroke-linecap="round" fill="none" d="M413.1 716h0m-4.7 1.2h0m31.2 25.8h0m-33.7 11.1h0m2.1 2.2h0m6.6 3.1h0m8.3 7.5h0m0.3 2.8h0"/><rect x="385.5" y="713.3" width="57.8" height="60.2" fill="none" stroke="#ccc" stroke-width="0.7" stroke-dasharray="3,2.2"/><path stroke="#8a8a8a" stroke-width="2.5" stroke-linecap="round" fill="none" d="M497.7 715.3h0m1 0h0m-9 0.3h0m14.8 0h0m-17.6 0.1h0m14.5 0h0m11.3 0h0m-28.6 0.2h0m31.4 0h0m-36.6 0.2h0m3.9 0.1h0m18.5 0h0m-15.5 0.4h0m-5.9 0.1h0m23.7 0h0m-14 0.2h0m3 0h0m-11.1 0.2h0m14.3 0.3h0m-7.7 0.3h0m-3.1 0.1h0m25.9 0h0m-40.2 0.1h0m34.4 0h0m-16.9 0.2h0m5.8 0h0m-15.4 0.1h0m5.4 0.3h0m3.9 0.4h0m4 0h0m15.3 0h0m-11.9 0.3h0m4.3 0h0m-18.6 0.1h0m32.7 0h0m9.1 0.1h0m-53.1 0.1h0m44.2 0.1h0m-29.9 0.1h0m24.3 0h0m-30 0.4h0m26.6 0h0m9 0.1h0m3.3 0h0m-18.3 0.3h0m-16.4 0.2h0m9 0.2h0m23.7 0h0m-33.5 0.1h0m32.9 0h0m-32 0.1h0m16.4 0h0m11.6 0.2h0m-29.3 0.1h0m2.2 0h0m36.3 0h0m-26 0.1h0m9.9 0.1h0m-7 0.1h0m13.1 0h0m-27.9 0.3h0m14.7 0.1h0m0.4 0h0m4.5 0h0m-16.8 0.2h0m22 0.1h0m-12.4 0.1h0m16.1 0h0m-29.7 0.2h0m36.2 0.2h0m-36.3 0.1h0m31.2 0h0m-20.6 0.2h0m-9 0.2h0m7.2 0.1h0m-2.5 0.1h0m8.6 0.1h0m-23.5 0.4h0m10.1 0.1h0m23.6 0h0m10.1 0.1h0m-26.3 0.1h0m18.9 0.1h0m-31 0.1h0m18.9 0.4h0m25.1 0.3h0m-37.8 0.1h0m34.9 0.1h0m-8.8 0.5h0m-39.2 0.2h0m4.1 0h0m2.5 0.2h0m-6.5 0.1h0m37.9 0.1h0m1.6 0.1h0m9.4 0.1h0m-40.5 0.4h0m1.4 0h0m3.2 0h0m8.4 0h0m3.3 0.1h0m5 0h0m-20 0.1h0m29 0h0m-38.5 0.2h0m19.9 0h0m7.8 0.1h0m3.2 0h0m10 0.3h0m-18.2 0.1h0m-16.9 0.2h0m8.3 0h0m-11.9 0.4h0m38.7 0h0m-9.4 0.1h0m12.3 0.2h0m7.3 0h0m-38.8 0.2h0m0.4 0h0m-11.6 0.1h0m43.7 0h0m-39.4 0.1h0m15.8 0h0m2 0.2h0m-20.5 0.1h0m29.8 0.4h0m-4.5 0.1h0m-18.3 0.1h0m32.3 0h0m-4.3 0.1h0m-1.5 0.1h0m14.1 0h0m-15.6 0.1h0m-8.9 0.1h0m8 0h0m10.4 0.6h0m-39.8 0.2h0m27.7 0.1h0m19.7 0.3h0m-9.4 0.2h0m-13.7 0.3h0m23 0.1h0m-37.1 0.2h0m18.6 0h0m15.7 0h0m-49.1 0.1h0m29.7 0.1h0m1.5 0h0m6.6 0h0m7.9 0.1h0m-31 0.1h0m4.3 0h0m-5.8 0.2h0m8.6 0.1h0m1.3 0h0m10.6 0h0m-23.7 0.3h0m34.7 0.1h0m-27.8 0.2h0m0.4 0h0m28.3 0h0m-12.9 0.1h0m-12.1 0.2h0m26.4 0.3h0m-10.2 0.1h0m3.9 0.1h0m6.6 0.1h0m-41.1 0.1h0m-1 0.2h0m12.9 0.5h0m14.8 0h0m-0.1 0.1h0m-27.5 0.2h0m23.1 0h0m15.1 0h0m-37.9 0.1h0m11.3 0h0m-9.8 0.2h0m-5.3 0.3h0m49.2 0h0m-42.9 0.1h0m1.2 0.2h0m16.8 0h0m10.1 0.4h0m-36.1 0.1h0m11.3 0.1h0m15.4 0h0m23.3 0.1h0m-31.8 0.2h0m14.8 0h0m-29.2 0.1h0m20.5 0h0m10.7 0.1h0m11.1 0.1h0m-8.7 0.2h0m-15.4 0.1h0m5.7 0.1h0m13.3 0.1h0m-13.3 0.1h0m-26.6 0.2h0m21.5 0.1h0m-0.9 0.1h0m9.2 0.1h0m5.7 0.6h0m11.8 0.1h0m-26.3 0.1h0m1.4 0.1h0m0.3 0h0m0.8 0h0m-22.4 0.1h0m16.2 0h0m4.3 0h0m-11.4 0.1h0m1.2 0.1h0m26.3 0.1h0m0.6 0h0m-40.8 0.1h0m48.1 0h0m-10.4 0.2h0m-8.9 0.1h0m0.7 0h0m16 0h0m-41.7 0.2h0m49.1 0.1h0m-39.9 0.2h0m4.1 0.1h0m-8.9 0.2h0m32.4 0h0m-10 0.2h0m0.6 0h0m-19.7 0.6h0m12.1 0h0m5.3 0h0m8.5 0.6h0m4.1 0h0m-9 0.1h0m19.8 0h0m-7.6 0.1h0m-30.6 0.1h0m-11.3 0.1h0m28.5 0.1h0m-11.5 0.1h0m6.9 0.5h0m22.9 0.3h0m-8.5 0.1h0m11.3 0.2h0m-48.9 0.1h0m16.9 0h0m3.2 0h0m29.9 0.1h0m-37.3 0.3h0m20.4 0.2h0m-29.6 0.1h0m33.9 0h0m8.8 0h0m3.4 0.2h0m-50.8 0.2h0m41.8 0h0m4.4 0h0m-30 0.3h0m21.3 0h0m-34.1 0.1h0m47.4 0h0m-28.3 0.1h0m-4.1 0.4h0m10.8 0h0m4.4 0.1h0m9.3 0h0m1.5 0.1h0m-26.2 0.1h0m-7.8 0.2h0m24.7 0h0m-6.5 0.1h0m10.1 0.1h0m-18 0.3h0m-0.5 0.2h0m-8.5 0.1h0m22.1 0h0m-20.1 0.1h0m2.5 0h0m-0.4 0.1h0m-8.2 0.3h0m3.2 0h0m39.9 0.1h0m-1 0.2h0m-17.2 0.5h0m13.1 0.2h0m-4 0.1h0m-23.3 0.1h0m25.3 0h0m2.6 0h0m-4 0.2h0m-38.7 0.5h0m39.2 0h0m-22.8 0.1h0m-18.6 0.1h0m33.7 0h0m-32.1 0.1h0m9.5 0h0m10.5 0.1h0m5.1 0h0m21.3 0h0m-32.7 0.1h0m22.5 0h0m8.4 0h0m-27.5 0.1h0m-8.9 0.1h0m39.7 0h0m-24.9 0.3h0m1 0.1h0m-7.9 0.1h0m32.1 0h0m-22.5 0.1h0m9.9 0.2h0m6.6 0h0m-8.6 0.1h0m-34.6 0.2h0m-0.5 0.2h0m19.2 0.1h0m16.9 0.3h0m-0.7 0.1h0m1.2 0h0m-35.3 0.3h0m10.1 0h0m9 0.1h0m-20.1 0.6h0m36.7 0h0m-28.9 0.1h0m6.3 0h0m5.7 0.1h0m21 0.5h0m-12.4 0.8h0m-27.9 0.2h0m30.8 0h0m1.1 0h0m4.9 0h0m-11.9 0.4h0m18 0h0m-4.1 0.1h0m-24.8 0.2h0m-12.5 0.1h0m35.4 0h0m-40.2 0.1h0m10.7 0h0m32.6 0.1h0m-11.8 0.1h0m3.3 0.2h0m12.2 0h0m-25.4 0.1h0m5.4 0h0m-12.4 0.1h0m6.6 0h0m20.9 0h0m10.3 0h0m-37.2 0.1h0m3.9 0.2h0m-0.9 0.2h0m9.3 0.3h0m-9 0.1h0m-13.4 0.1h0m31.2 0.1h0m-9.3 0.1h0m-22.8 0.2h0m-2.1 0.2h0m0.2 0.2h0m5.8 0h0m25.6 0.1h0m12.2 0h0m-32.9 0.2h0m35.4 0.2h0m-19.3 0.2h0m-27.9 0.2h0m13.9 0h0m-1 0.2h0m2.1 0.1h0m7.1 0h0m25.5 0.1h0m-49.6 0.1h0m25.5 0h0m-9.4 0.2h0m24.9 0.1h0m-3.6 0.1h0m1.8 0h0m12.8 0h0m-9.9 0.1h0m1.5 0.1h0m-32.1 0.1h0m15.3 0.2h0m8.4 0h0m-21.9 0.2h0m13.4 0.4h0m-0.3 0.1h0m26.9 0.2h0m-3.7 0.2h0m-13.3 0.2h0m-0.1 0.1h0m6.7 0h0m4.7 0h0m-42.9 0.1h0m23.7 0h0m-12 0.1h0m32.9 0h0m-1.8 0.1h0m-41.4 0.1h0m31.2 0h0m8 0h0m-5.3 0.1h0m-3.1 0.1h0m14.6 0.2h0m-12.5 0.1h0m7.8 0.2h0m-5.3 0.1h0m0.1 0h0m-1.7 0.1h0m-36.2 0.1h0m27.6 0h0m17.3 0h0m-43.3 0.1h0m20.6 0h0m-8.1 0.5h0m-17 0.2h0m38.7 0.6h0m-23.4 0.2h0m29.7 0h0m-20.8 0.1h0m-13.2 0.3h0m10.3 0h0m21.7 0.2h0m-15.7 0.2h0m-7.3 0.1h0m-5.9 0.1h0m-14.4 0.3h0m19.6 0h0m-7.2 0.1h0m-12.4 0.3h0m0.4 0h0m6.9 0.1h0m6 0.1h0m-12 0.1h0m33.3 0h0m-13 0.3h0m-19.8 0.1h0m34.8 0.1h0m-22.1 0.1h0m8 0.1h0m-12 0.1h0m25 0h0m-5.6 0.1h0m9.7 0h0m-16.2 0.2h0m-14.9 0.2h0m13.3 0h0m-17.9 0.3h0m4.9 0.2h0m17.4 0h0m19.3 0h0m-30.5 0.1h0m36.7 0h0m-35.3 0.1h0m-13.4 0.1h0m2.5 0.1h0m8.3 0.1h0m14.5 0.2h0m-1.6 0.5h0m-10.2 0.4h0m1.5 0.2h0m-2.4 0.1h0m12.4 0h0"/><path stroke="#3a96d6" stroke-width="2.9" stroke-linecap="round" fill="none" d="M504.8 716.7h0m13.4 1.7h0m-40.9 0.4h0m7.9 0.6h0m10.6 0.4h0m-13 0.1h0m13.8 0.5h0m17.3 0.1h0m-22.2 1.3h0m28 1h0m-38.3 0.2h0m19.1 0.6h0m-30.2 0.3h0m7.3 1.2h0m13 0.9h0m22 0h0m-36.9 0.1h0m42.7 1.6h0m-6.9 1.3h0m-6.1 1.4h0m-13.4 0.4h0m-10.5 0.8h0m9.3 0.3h0m23.1 0.7h0m6.8 1.6h0m-34.9 0.2h0m7.7 0.5h0m29.2 1.5h0m-9.3 1.4h0m-19.8 0.9h0m23.9 1.6h0m-10.3 0.2h0m-21.3 0.2h0m32.4 0.5h0m-14.9 1.7h0m-17.8 0.1h0m25.5 1.1h0m4.4 2.1h0m-12.1 0.1h0m-23.7 0.1h0m31.3 0.8h0m-7.3 1.7h0m-10.1 0.4h0m-20.1 0.2h0m25.4 0.2h0m-22.1 1.2h0m34.9 0.8h0m10.6 0.4h0m-22 2.8h0m-17.4 0.2h0m17.5 1.4h0m5.7 0.7h0m-7.7 0.1h0m3.5 0h0m0 1.9h0m-25.2 0.5h0m12.2 0h0m6.7 0.2h0m19.3 1.6h0m3 1.4h0m-23.1 0.2h0m-21.7 0.6h0m37 0.6h0m4 0.7h0m-18.5 1.4h0m18.4 0.6h0m-36.6 0.2h0m20.6 0.9h0m-1.7 0.3h0m20.1 0.1h0m5.5 0.1h0m-30.7 0.2h0m-13.5 0.5h0m16.1 0.2h0m19.5 0h0"/><path stroke="#f0a050" stroke-width="2.5" stroke-linecap="round" fill="none" d="M503.1 718.3h0m3.7 16.1h0m9.7 1.7h0m-12.9 13.4h0m12.1 1h0m-45 0.9h0m43.1 3h0m-14.7 1.3h0m-7.4 1.3h0m-4.4 1.4h0m25.8 1.9h0m-43.7 3.2h0m14.5 2.7h0m-1.7 0.4h0m-3.9 1.6h0m27.5 0.6h0m-30.4 0.6h0"/><rect x="467.2" y="713.3" width="57.8" height="60.2" fill="none" stroke="#ccc" stroke-width="0.7" stroke-dasharray="3,2.2"/><text x="368.9" y="697.3" font-size="9" text-anchor="middle" fill="#fff">500μm</text><line x1="358.5" y1="702.3" x2="378" y2="702.3" stroke="#fff" stroke-width="1.2" /><text x="369" y="765.6" font-size="9" text-anchor="middle" fill="#fff">100μm</text><line x1="359" y1="770.5" x2="379" y2="770.5" stroke="#fff" stroke-width="1.2" /><text x="3" y="822.8" font-size="16" font-weight="bold">i</text><rect x="9" y="825.7" width="248" height="203.3" fill="#000" /><text x="14.5" y="835.2" font-size="9.6" fill="#fff">WT</text><text x="107" y="835.4" font-size="9.6" fill="#fff"><tspan font-style="italic">Vglut3</tspan><tspan dy="-3.2" font-size="5.2">-/-</tspan><tspan dy="3.2" font-size="1">&#8203;</tspan></text><text x="174" y="835.4" font-size="9.6" fill="#fff"><tspan font-style="italic">Vglut3</tspan><tspan dy="-3.2" font-size="5.2">-/-</tspan><tspan dy="3.2" font-size="1">&#8203;</tspan>+GT</text><text x="84.7" y="851.3" font-size="8" fill="#40c4d4">SPP1</text><text x="84.7" y="861.4" font-size="8" fill="#c838c8">IBA1</text><text x="84.7" y="871.6" font-size="8" fill="#4a5af0">DAPI</text><defs><linearGradient id="ilow" x1="0" y1="0" x2="0" y2="1"><stop offset="0.4" stop-color="#fff" stop-opacity="0.15"/><stop offset="0.75" stop-color="#fff" stop-opacity="1"/></linearGradient></defs><path d="M56.9 826.4C59.1 826.1 60.4 823.2 62.6 828.3C64.8 833.3 67.4 846.3 70.2 856.7C73 867.1 76.9 880.8 79.7 890.9C82.5 901 86.2 911.2 87.3 917.5C88.4 923.8 90.3 926.4 86.5 928.9C82.7 931.4 72 931.4 64.5 932.6C57 933.9 48.7 936.1 41.7 936.4C34.8 936.7 27.2 935.8 22.8 934.5C18.4 933.2 16.6 933 15.2 928.9C13.8 924.8 13.1 918.1 14.4 909.9C15.7 901.7 19.2 889 22.8 879.5C26.4 870 31.7 861.2 36.1 853C40.5 844.8 45.8 834.6 49.3 830.2C52.8 825.8 54.7 826.7 56.9 826.4Z" fill="#1c1236"/><path d="M56.9 826.4C59.1 826.1 60.4 823.2 62.6 828.3C64.8 833.3 67.4 846.3 70.2 856.7C73 867.1 76.9 880.8 79.7 890.9C82.5 901 86.2 911.2 87.3 917.5C88.4 923.8 90.3 926.4 86.5 928.9C82.7 931.4 72 931.4 64.5 932.6C57 933.9 48.7 936.1 41.7 936.4C34.8 936.7 27.2 935.8 22.8 934.5C18.4 933.2 16.6 933 15.2 928.9C13.8 924.8 13.1 918.1 14.4 909.9C15.7 901.7 19.2 889 22.8 879.5C26.4 870 31.7 861.2 36.1 853C40.5 844.8 45.8 834.6 49.3 830.2C52.8 825.8 54.7 826.7 56.9 826.4Z" fill="#fff" opacity="0.4" filter="url(#fib)"/><path d="M56.9 826.4C59.1 826.1 60.4 823.2 62.6 828.3C64.8 833.3 67.4 846.3 70.2 856.7C73 867.1 76.9 880.8 79.7 890.9C82.5 901 86.2 911.2 87.3 917.5C88.4 923.8 90.3 926.4 86.5 928.9C82.7 931.4 72 931.4 64.5 932.6C57 933.9 48.7 936.1 41.7 936.4C34.8 936.7 27.2 935.8 22.8 934.5C18.4 933.2 16.6 933 15.2 928.9C13.8 924.8 13.1 918.1 14.4 909.9C15.7 901.7 19.2 889 22.8 879.5C26.4 870 31.7 861.2 36.1 853C40.5 844.8 45.8 834.6 49.3 830.2C52.8 825.8 54.7 826.7 56.9 826.4Z" fill="#fff" opacity="0.7" filter="url(#fim)"/><path d="M56.9 826.4C59.1 826.1 60.4 823.2 62.6 828.3C64.8 833.3 67.4 846.3 70.2 856.7C73 867.1 76.9 880.8 79.7 890.9C82.5 901 86.2 911.2 87.3 917.5C88.4 923.8 90.3 926.4 86.5 928.9C82.7 931.4 72 931.4 64.5 932.6C57 933.9 48.7 936.1 41.7 936.4C34.8 936.7 27.2 935.8 22.8 934.5C18.4 933.2 16.6 933 15.2 928.9C13.8 924.8 13.1 918.1 14.4 909.9C15.7 901.7 19.2 889 22.8 879.5C26.4 870 31.7 861.2 36.1 853C40.5 844.8 45.8 834.6 49.3 830.2C52.8 825.8 54.7 826.7 56.9 826.4Z" fill="url(#ilow)" opacity="0.75" filter="url(#fic)"/><path d="M125.2 843.5C129 839.4 130.9 836.9 136.6 835.9C142.3 834.9 154 833.1 159.4 837.8C164.8 842.5 167 852.3 168.9 864.3C170.8 876.3 170.8 897.9 170.8 909.9C170.8 921.9 172.1 931 168.9 936.4C165.7 941.8 159.1 941.5 151.8 942.1C144.5 942.7 133.4 941.2 125.2 940.2C117 939.2 106.8 941.5 102.5 936.4C98.2 931.3 98.8 918.8 99.4 909.9C100 901 103.9 891.5 106.3 883.3C108.7 875.1 110.8 867.1 113.9 860.5C117.1 853.9 121.4 847.6 125.2 843.5Z" fill="#0c0c2e"/><path d="M125.2 843.5C129 839.4 130.9 836.9 136.6 835.9C142.3 834.9 154 833.1 159.4 837.8C164.8 842.5 167 852.3 168.9 864.3C170.8 876.3 170.8 897.9 170.8 909.9C170.8 921.9 172.1 931 168.9 936.4C165.7 941.8 159.1 941.5 151.8 942.1C144.5 942.7 133.4 941.2 125.2 940.2C117 939.2 106.8 941.5 102.5 936.4C98.2 931.3 98.8 918.8 99.4 909.9C100 901 103.9 891.5 106.3 883.3C108.7 875.1 110.8 867.1 113.9 860.5C117.1 853.9 121.4 847.6 125.2 843.5Z" fill="#fff" opacity="0.4" filter="url(#fib)"/><path d="M125.2 843.5C129 839.4 130.9 836.9 136.6 835.9C142.3 834.9 154 833.1 159.4 837.8C164.8 842.5 167 852.3 168.9 864.3C170.8 876.3 170.8 897.9 170.8 909.9C170.8 921.9 172.1 931 168.9 936.4C165.7 941.8 159.1 941.5 151.8 942.1C144.5 942.7 133.4 941.2 125.2 940.2C117 939.2 106.8 941.5 102.5 936.4C98.2 931.3 98.8 918.8 99.4 909.9C100 901 103.9 891.5 106.3 883.3C108.7 875.1 110.8 867.1 113.9 860.5C117.1 853.9 121.4 847.6 125.2 843.5Z" fill="#fff" opacity="0.15" filter="url(#fim)"/><path d="M125.2 843.5C129 839.4 130.9 836.9 136.6 835.9C142.3 834.9 154 833.1 159.4 837.8C164.8 842.5 167 852.3 168.9 864.3C170.8 876.3 170.8 897.9 170.8 909.9C170.8 921.9 172.1 931 168.9 936.4C165.7 941.8 159.1 941.5 151.8 942.1C144.5 942.7 133.4 941.2 125.2 940.2C117 939.2 106.8 941.5 102.5 936.4C98.2 931.3 98.8 918.8 99.4 909.9C100 901 103.9 891.5 106.3 883.3C108.7 875.1 110.8 867.1 113.9 860.5C117.1 853.9 121.4 847.6 125.2 843.5Z" fill="url(#ilow)" opacity="0.8" filter="url(#fic)"/><path d="M199.2 837.8C202.7 835.3 208.7 834.3 212.5 834C216.3 833.7 218.8 830.9 222 835.9C225.2 840.9 228 855.1 231.5 864.3C235 873.5 239.7 883.3 242.9 890.9C246.1 898.5 249.6 904.2 250.5 909.9C251.4 915.6 250.5 922.1 248.6 925C246.7 927.9 245.1 925.7 239.1 927C233.1 928.3 219.5 930.4 212.5 932.6C205.5 934.8 201.7 938.6 197.3 940.2C192.9 941.8 188.7 944 186 942.1C183.3 940.2 182.3 935.5 181.4 928.9C180.5 922.3 179.5 911.8 180.3 902.3C181.1 892.8 184.1 880.8 186 871.9C187.9 863 189.5 854.9 191.7 849.2C193.9 843.5 195.7 840.3 199.2 837.8Z" fill="#16164c"/><path d="M199.2 837.8C202.7 835.3 208.7 834.3 212.5 834C216.3 833.7 218.8 830.9 222 835.9C225.2 840.9 228 855.1 231.5 864.3C235 873.5 239.7 883.3 242.9 890.9C246.1 898.5 249.6 904.2 250.5 909.9C251.4 915.6 250.5 922.1 248.6 925C246.7 927.9 245.1 925.7 239.1 927C233.1 928.3 219.5 930.4 212.5 932.6C205.5 934.8 201.7 938.6 197.3 940.2C192.9 941.8 188.7 944 186 942.1C183.3 940.2 182.3 935.5 181.4 928.9C180.5 922.3 179.5 911.8 180.3 902.3C181.1 892.8 184.1 880.8 186 871.9C187.9 863 189.5 854.9 191.7 849.2C193.9 843.5 195.7 840.3 199.2 837.8Z" fill="#fff" opacity="0.6" filter="url(#fib)"/><path d="M199.2 837.8C202.7 835.3 208.7 834.3 212.5 834C216.3 833.7 218.8 830.9 222 835.9C225.2 840.9 228 855.1 231.5 864.3C235 873.5 239.7 883.3 242.9 890.9C246.1 898.5 249.6 904.2 250.5 909.9C251.4 915.6 250.5 922.1 248.6 925C246.7 927.9 245.1 925.7 239.1 927C233.1 928.3 219.5 930.4 212.5 932.6C205.5 934.8 201.7 938.6 197.3 940.2C192.9 941.8 188.7 944 186 942.1C183.3 940.2 182.3 935.5 181.4 928.9C180.5 922.3 179.5 911.8 180.3 902.3C181.1 892.8 184.1 880.8 186 871.9C187.9 863 189.5 854.9 191.7 849.2C193.9 843.5 195.7 840.3 199.2 837.8Z" fill="#fff" opacity="0.3" filter="url(#fim)"/><path d="M199.2 837.8C202.7 835.3 208.7 834.3 212.5 834C216.3 833.7 218.8 830.9 222 835.9C225.2 840.9 228 855.1 231.5 864.3C235 873.5 239.7 883.3 242.9 890.9C246.1 898.5 249.6 904.2 250.5 909.9C251.4 915.6 250.5 922.1 248.6 925C246.7 927.9 245.1 925.7 239.1 927C233.1 928.3 219.5 930.4 212.5 932.6C205.5 934.8 201.7 938.6 197.3 940.2C192.9 941.8 188.7 944 186 942.1C183.3 940.2 182.3 935.5 181.4 928.9C180.5 922.3 179.5 911.8 180.3 902.3C181.1 892.8 184.1 880.8 186 871.9C187.9 863 189.5 854.9 191.7 849.2C193.9 843.5 195.7 840.3 199.2 837.8Z" fill="url(#ilow)" opacity="0.45" filter="url(#fic)"/><rect x="58.7" y="909.2" width="14.6" height="13.3" fill="none" stroke="#eee" stroke-width="0.9" stroke-dasharray="4,6.6"/><rect x="137.2" y="917.3" width="14.4" height="14.9" fill="none" stroke="#eee" stroke-width="0.9" stroke-dasharray="4,6.4"/><rect x="224" y="904.9" width="14.4" height="14.9" fill="none" stroke="#eee" stroke-width="0.9" stroke-dasharray="4,6.4"/><line x1="58.7" y1="922.5" x2="9.5" y2="946" stroke="#eee" stroke-width="0.7" stroke-dasharray="6,5"/><line x1="73.3" y1="922.5" x2="90.7" y2="946" stroke="#eee" stroke-width="0.7" stroke-dasharray="6,5"/><line x1="137.2" y1="932.2" x2="95.2" y2="946" stroke="#eee" stroke-width="0.7" stroke-dasharray="6,5"/><line x1="151.6" y1="932.2" x2="175" y2="946" stroke="#eee" stroke-width="0.7" stroke-dasharray="6,5"/><line x1="224" y1="919.8" x2="179" y2="946" stroke="#eee" stroke-width="0.7" stroke-dasharray="6,5"/><line x1="238.4" y1="919.8" x2="256.5" y2="946" stroke="#eee" stroke-width="0.7" stroke-dasharray="6,5"/><text x="70" y="940.3" font-size="8.6" text-anchor="middle" fill="#fff">500μm</text><line x1="57" y1="943.6" x2="83" y2="943.6" stroke="#fff" stroke-width="1.1" /><text x="146.2" y="938.6" font-size="8.6" text-anchor="middle" fill="#fff">500μm</text><line x1="133.2" y1="941.9" x2="159.2" y2="941.9" stroke="#fff" stroke-width="1.1" /><text x="229" y="938.6" font-size="8.6" text-anchor="middle" fill="#fff">500μm</text><line x1="216" y1="941.9" x2="242" y2="941.9" stroke="#fff" stroke-width="1.1" /><rect x="9.2" y="947.4" width="82.2" height="81.2" fill="#050514" /><rect x="9.2" y="947.4" width="82.2" height="81.2" fill="#fff" opacity="0.45" filter="url(#fiib)"/><rect x="9.2" y="947.4" width="82.2" height="81.2" fill="#fff" opacity="0.8" filter="url(#fiim)"/><path stroke="#3a3ed8" stroke-width="3" stroke-linecap="round" fill="none" opacity="0.75" d="M16.1 949.5h0m25 0.6h0m-26.6 0.9h0m58.8 0.7h0m6.4 1h0m-15.2 4.8h0m18.9 0.8h0m-46.2 1.2h0m30.4 0.3h0m2.1 1.4h0m-15.7 1.4h0m1.7 0.2h0m25.3 0.1h0m-67.9 2.6h0m42.5 1.8h0m27 0h0m-62.5 1.5h0m20.5 4.3h0m2.2 4.1h0m-4.8 1.9h0m7.3 0.1h0m26.3 0.2h0m-43.2 0.2h0m56.9 0.8h0m-41.4 1.7h0m-25.6 2.2h0m14.3 1.1h0m16.9 0.5h0m0.6 0.2h0m-18.4 1.1h0m54.7 1.9h0m-28 0.6h0m-23 0.5h0m13.2 9.4h0m35.5 0.6h0m-54.1 1.3h0m22.6 0.2h0m-31.3 0.3h0m3.9 0.1h0m10.9 1.3h0m28.3 0.8h0m-38.5 6.2h0m50.2 1.3h0m-4.4 0.3h0m-29.2 2.5h0m-19.3 2.4h0m3.9 0.6h0m36.2 0.4h0m-5.7 1.3h0m-18.4 0.9h0m-26.2 0.3h0m8.3 0h0m36.4 0.8h0m-43.8 2.6h0"/><path stroke="#3a3ed8" stroke-width="2" stroke-linecap="round" fill="none" opacity="0.75" d="M70.8 949.5h0m-22.3 1.2h0m-29 0.7h0m-2.5 0.1h0m31.1 0.9h0m31.4 1.2h0m-11.2 3.4h0m-46.3 0.9h0m13.3 0h0m11.3 2.1h0m15.4 0.5h0m-44.5 1.1h0m50.3 1.2h0m3.1 3.4h0m2.4 3.9h0m-8.1 0.9h0m6.8 0.6h0m7.9 0.2h0m-8 0.3h0m-51.3 1h0m27.5 1.8h0m-3.1 3.9h0m-21.2 0.1h0m20.6 0.1h0m-32.4 0.7h0m63.6 1.3h0m-33.7 1.3h0m14.5 0.8h0m-34.8 0.1h0m12.3 0.3h0m29.9 1h0m-42.8 1.4h0m8.1 2.8h0m-15.9 0.3h0m73.3 0.7h0m-50.5 0.3h0m18.5 0.1h0m-1.4 1.6h0m8.2 0.6h0m-33.5 0.3h0m8.2 3h0m6.7 2h0m19.5 0.6h0m-25.9 2.2h0m-22.4 2.2h0m37 0h0m37.9 10.1h0m-13 1.2h0m-11.6 1.2h0m-48.1 0.3h0m8.8 2.5h0m13.9 0.6h0m37.6 1.9h0m-50.2 4.5h0m36.5 0.8h0m1.6 0.4h0"/><path stroke="#3cc0cc" stroke-width="3" stroke-linecap="round" fill="none" opacity="0.75" d="M51.3 950.5h0m-30.6 0.1h0m40.8 1.2h0m-14.5 0.8h0m26.7 0.2h0m-37.5 0.2h0m48.3 0.8h0m-29.5 0.9h0m8.6 0.1h0m-29.1 1.7h0m1.3 1.6h0m19.2 3.8h0m-0.3 2.6h0m-7.7 0.5h0m-28.7 0.3h0m43.4 1.8h0m-0.6 0.1h0m-33.5 1.5h0m13.7 0.8h0m8.2 0.6h0m-16 0.6h0m-9.9 0.4h0m25.3 0.3h0m-33.5 0.1h0m45.8 0h0m-16.2 0.9h0m9.5 0.3h0m-1.8 1.3h0m-0.1 0.8h0m-39.1 1.7h0m16 0.3h0m-17 0.8h0m76.1 1.8h0m-25.9 0.2h0m-12.1 0.7h0m12.6 1.9h0m-49.4 0.6h0m71.4 0.5h0m-34 2h0m-9.5 0.8h0m-4.7 0.1h0m-8 0.8h0m18 0.6h0m-20.8 0.5h0m30.9 1.4h0m-40.2 0.3h0m16 1.1h0m-15.9 0.2h0m18.4 0.1h0m13.5 0h0m-12.1 0.3h0m-20 0.4h0m-2.7 0.4h0m55.5 0.5h0m-16.2 0.6h0m-22.1 0.2h0m31.8 0.3h0m8.6 1.9h0m-12.3 7h0m-10 0.3h0m23.2 8.6h0m-55.4 2.5h0m19.3 5.8h0m34.3 1.7h0"/><path stroke="#3cc0cc" stroke-width="2" stroke-linecap="round" fill="none" opacity="0.75" d="M11.6 951.8h0m35.8 0.2h0m23.9 27.1h0m-34.6 2.1h0m-5.8 4.2h0m-9 1.6h0m22.5 1.4h0m18.8 0.1h0m-2.1 0.4h0m-16.5 4.4h0m7.1 1.2h0"/><rect x="95.2" y="947.4" width="82.8" height="81.2" fill="#050514" /><rect x="95.2" y="947.4" width="82.8" height="81.2" fill="#fff" opacity="0.4" filter="url(#fiib)"/><rect x="95.2" y="947.4" width="82.8" height="81.2" fill="#fff" opacity="0.25" filter="url(#fiim)"/><path stroke="#3a3ed8" stroke-width="3" stroke-linecap="round" fill="none" opacity="0.75" d="M150.5 952.2h0m-38.4 1.2h0m-0.7 0.7h0m51 2.7h0m-58.8 0.9h0m-0.1 1.7h0m10.7 0.9h0m18.3 0.4h0m-14.6 3.8h0m23.2 0.1h0m29.4 0.8h0m-7.8 1.9h0m-34.6 4.3h0m-18.5 1.8h0m24.1 3h0m13 0.1h0m-8.2 0.6h0m2.5 2.2h0m3.2 2.2h0m-12.2 0.7h0m28.1 0.1h0m1.8 0.9h0m-2.9 0.1h0m-56.1 0.7h0m29.1 5h0m-14.2 0.7h0m31.1 1.9h0m-27.5 1.4h0m-8.3 0.1h0m-9.3 1.3h0m17.6 0.3h0m5 0.1h0m-7.2 0.3h0m31.4 2.8h0m18.9 3.1h0m-66.7 0.9h0m6.8 1.8h0m43.6 0.2h0m20.6 0.5h0m-71.9 0.3h0m8.7 0.3h0m2.4 0.6h0m24.2 1.9h0m2.8 4h0m-31.1 0.2h0m54.2 3.4h0m-6.1 2.4h0m-11 2.9h0m4.7 3h0m-46.2 2.7h0"/><path stroke="#3a3ed8" stroke-width="2" stroke-linecap="round" fill="none" opacity="0.75" d="M125.9 949.9h0m-8.9 3.9h0m34.3 0.4h0m21.2 2.6h0m-62.9 0.3h0m22.6 0.3h0m10.8 0.4h0m-22.7 0.1h0m44.6 0.7h0m-43.8 0.2h0m-21.1 2.8h0m50.3 2.3h0m-16 0.2h0m12.9 1.1h0m7.2 1.4h0m-50.5 2.2h0m-0.2 0.4h0m70.3 0.3h0m-8.1 0.8h0m-53.5 0.5h0m36.1 0h0m23.2 1.4h0m-13.9 0.1h0m-24.4 0.2h0m23.1 0.2h0m-39.6 3.7h0m1 0.1h0m44.1 2.9h0m-29.5 0.8h0m-16.8 1.3h0m25.4 3.9h0m13.2 1h0m-12.5 1.3h0m-24.1 1.4h0m4.3 2.2h0m46 0.5h0m-29.3 0.8h0m6.9 0.6h0m9.3 1.2h0m-13.1 0.4h0m22.7 3.1h0m0.5 1.8h0m9.2 1.8h0m-43.8 0.3h0m20.4 5.2h0m6.9 2h0m-33.8 0.1h0m36.3 0.1h0m13.3 3.4h0m-39 1.5h0m41.4 1.2h0m-21 1.6h0m-35.8 0.9h0m-21.4 1.3h0m52.4 0.4h0m3.8 4.2h0m-18.4 0.1h0m-4.9 0.9h0m35.7 0h0m1.5 0.8h0"/><path stroke="#3cc0cc" stroke-width="2" stroke-linecap="round" fill="none" opacity="0.75" d="M107 949.5h0m26.1 0h0m9.8 2.4h0m-4.4 4.3h0m2.3 1.4h0m-20.7 1.1h0m4.9 1.5h0m-5.7 1.6h0m34.4 2.5h0m-45.2 2.3h0m15.4 0.2h0m9.3 0.8h0m-33 0.1h0m10.3 0.9h0m10.4 0.7h0m31.9 1.5h0m-16.2 1.5h0m12.1 0h0m-24.9 3.2h0m7.5 2h0m-21.2 0.1h0m-12 0.1h0m30.7 1.1h0m3.6 0.6h0m-15.2 1h0m15.9 0h0m27.6 1h0m-39 0.4h0m48.7 4.5h0m-51 1.8h0m38.5 0.6h0m-30.3 1.1h0m-16.2 0.4h0m41.9 1.3h0m-37.1 1.2h0m38.4 1.9h0m-21.6 0.1h0m1.4 3.6h0m34.8 1.1h0m-65.1 0.3h0m24.3 2h0m16.2 2.4h0m8 0.3h0m18.8 0.7h0m-66.4 2.3h0m9.9 1h0m18.3 0.7h0m-1.7 2.8h0m44 1.1h0m-65 0.1h0m1.2 0.5h0m35.7 0.3h0m-44.6 0.1h0m8.5 1.5h0m44.6 0.6h0m-53.1 2h0m18.1 1.5h0m13.1 0.4h0m38.7 0.2h0m-33.2 0.7h0m-9.8 1.1h0m45.9 0.3h0m-1.1 0.6h0m-74.1 0.9h0m-2.8 1.2h0m48.5 0.9h0m-19.4 0.2h0"/><path stroke="#3cc0cc" stroke-width="3" stroke-linecap="round" fill="none" opacity="0.75" d="M103.5 950.1h0m52 0h0m-57.2 8.9h0m42.2 0h0m-8.1 0.2h0m4.8 0.2h0m19.7 10.4h0m-31.3 0.9h0m32.2 0.1h0m-39.3 0.4h0m34.8 0.6h0m-3.5 0.1h0m11.4 3.2h0m-51.1 2.9h0m-4.3 0.9h0m56 1.6h0m-53 1.7h0m48.3 6.1h0m-56.5 0.4h0m3.9 5.1h0m-5.5 1.3h0m49.8 2.4h0m-18.1 0.4h0m39.6 0h0m-4.3 0.9h0m-57.2 0.1h0m22.1 1.6h0m0.9 2.7h0m39.6 3.2h0m-0.7 0.1h0m-54.9 0.7h0m-16.2 2.1h0m51.9 0.7h0m-1.4 0.6h0m-50.7 2.5h0m41.8 0.2h0m-9.1 0.1h0m40.9 0.6h0m-20.5 3.1h0m-9.6 3.8h0m-44 1.5h0m1 0.9h0m52.7 0.5h0"/><rect x="178" y="947.4" width="78.8" height="81.2" fill="#050514" /><rect x="178" y="947.4" width="78.8" height="81.2" fill="#fff" opacity="0.7" filter="url(#fiib)"/><rect x="178" y="947.4" width="78.8" height="81.2" fill="#fff" opacity="0.25" filter="url(#fiim)"/><path stroke="#5a50f0" stroke-width="2" stroke-linecap="round" fill="none" opacity="0.75" d="M216.6 950h0m21.3 0.2h0m-42.2 0.4h0m13.9 0.1h0m20 0h0m-1.9 0.3h0m-33.5 0.5h0m54.5 0.1h0m-68.7 0.4h0m4.6 0.3h0m26.8 0h0m-29.3 2.8h0m59.8 0.3h0m-49 0.3h0m7.5 0.3h0m30.5 0.1h0m-33.3 1.2h0m-1.6 0.1h0m19.9 0.1h0m33.3 0h0m-3.3 0.5h0m-56.7 0.1h0m1.5 0.1h0m1.1 0.4h0m1.5 0.2h0m12.2 0.4h0m4.3 0.1h0m-9.8 0.6h0m38.8 0h0m-31 0.5h0m5.6 0.1h0m8.7 0.2h0m-32.5 0.1h0m54 0h0m-9.5 0.2h0m-13.2 0.7h0m-5.8 0.2h0m-24.3 1.1h0m40.2 0.1h0m17.8 0.2h0m-58.9 0.1h0m-7.8 0.3h0m23.7 0h0m19.1 0.5h0m6.7 0.2h0m-33.2 0.3h0m39.5 0h0m0.4 0.9h0m8.3 0h0m-30.9 0.1h0m-29 0.1h0m49.3 0.6h0m-34.2 0.1h0m-0.9 0.1h0m35.3 0.3h0m-9.7 0.5h0m-6.6 0.7h0m-4.7 0.1h0m24.4 0h0m10.3 0.3h0m-43.3 0.4h0m-1.6 0.6h0m6.2 0.1h0m-4.1 0.2h0m-20.3 0.3h0m39.5 0h0m0.3 0.1h0m-0.4 0.1h0m-37.8 0.2h0m-5.3 0.4h0m24.3 0.7h0m15.8 0.7h0m-19.6 0.2h0m3.2 0.6h0m-4.1 0.1h0m23.6 0.1h0m-3.7 0.2h0m12.5 0h0m-46.8 0.5h0m-4.4 0.2h0m54.1 0h0m-44 0.2h0m31.7 0.1h0m-10.9 0.4h0m11.7 0.1h0m-15 0.3h0m10.4 0.2h0m-38.2 0.6h0m48.6 0h0m4.1 0h0m-36.4 0.6h0m0.7 0.4h0m44.7 0h0m-28.6 1.3h0m-20.7 0.1h0m26.5 0.1h0m-17.4 0.1h0m37.9 0h0m6.7 0.2h0m-12.7 0.1h0m8.6 0h0m-5.1 0.4h0m-11.2 0.2h0m-45.9 0.3h0m1.7 0h0m3 0.5h0m43.7 0h0m16.3 0.1h0m-36.5 0.3h0m-29.7 0.7h0m62.8 0.5h0m-1.8 0.1h0m-51 0.4h0m49.1 0.1h0m-19.8 0.2h0m9.6 0h0m6.3 0.3h0m-32.8 0.3h0m-16 0.4h0m38.9 0.7h0m-46.9 0.2h0m29.8 0h0m34.9 0.1h0m-53.4 0.6h0m49.1 0h0m-36.9 0.1h0m-4.4 0.1h0m33.6 0h0m-32.1 0.1h0m-21 0.2h0m42.3 0.8h0m28.2 0.1h0m-35.2 0.2h0m9.5 0.1h0m6.6 0.1h0m-42.8 0.3h0m25.3 0.1h0m-21.4 0.3h0m22.5 0.3h0m-31.4 0.1h0m17.8 0.4h0m28 0.2h0m12 0.1h0m-38.2 0.2h0m20.8 0.2h0m13.6 0.1h0m7.8 0.3h0m-9.4 0.6h0m11.3 0.2h0m-47.9 0.4h0m24.4 0.1h0m-40.8 0.1h0m68 0.7h0m-50.9 0.2h0m46.3 0.4h0m-15.9 0.8h0m-37.6 0.3h0m1.9 0h0m7 0h0m4.7 0.1h0m-6.9 0.2h0m-5.8 0.5h0m33.7 0.1h0m21.7 0.2h0m-45.1 0.8h0m-2.1 0.5h0m26.1 0.2h0m-22.4 0.1h0m41 0h0m-25.9 0.1h0m23.4 0.2h0m-14 0.8h0m-17.4 0.4h0m23.3 0h0m-33.3 0.2h0m34.5 0.3h0m-55 0.2h0m12.7 0.7h0m-14.9 0.2h0m61.9 0h0m8.2 0.2h0m-40.5 0.3h0m40.8 0.1h0m-28.1 0.3h0m26.1 0.8h0m-1.7 0.2h0m-10.2 0.7h0m3.2 0.1h0m2.8 0.1h0m-57.4 0.3h0m5.3 0.5h0m48.1 0h0m0.6 0.2h0m-19.6 0.2h0m19.9 0.2h0m14.1 0h0m-47.6 0.1h0m-0.3 0.6h0m17 0.4h0m0.8 0.3h0m-37.7 0.6h0m37.1 0h0m22 0.2h0m-64.3 0.5h0m10.8 0.9h0m54 0h0m-5.1 0.1h0m-17.8 1.1h0m30.4 0h0m-12.6 0.1h0m-0.5 0.4h0m-58.9 0.3h0m59.9 0.2h0m-59.5 0.4h0m12.9 0.2h0m37.9 0h0m-34.4 0.6h0m27.3 0.2h0m-3.4 0.1h0m-39.2 0.4h0m45.8 0.4h0m-12.8 0.4h0m3.7 0.8h0m-35.2 0.2h0m33.8 0.3h0m12.5 0h0m-39.4 0.7h0m-7.7 0.3h0m31.3 0.1h0m-2.5 0.9h0m-22.5 1.1h0m56.2 0.4h0m-13.8 0.1h0m-34.7 0.7h0m9.2 0.8h0m41.9 0h0m-45.4 0.2h0m3.7 0.4h0m-25.8 0.1h0m-0.5 0.3h0m22.6 0h0m35.3 0.2h0m7.3 0h0m-13 0.4h0m4.5 0.5h0m-3.9 0.5h0m-35 0.2h0m-7.3 0.9h0m-10.1 0.3h0m21.7 0.3h0m37.6 0.1h0m-40.5 0.1h0m35.9 0.1h0m-1.4 1.5h0m9.2 0h0m10 0.7h0m-15.4 0.5h0m-35 0.1h0m9.4 0.2h0m18.2 0.2h0"/><path stroke="#3cc0cc" stroke-width="2" stroke-linecap="round" fill="none" opacity="0.75" d="M248.5 951.1h0m-7.4 1.1h0m11.9 0.1h0m-36.4 7.8h0m35.5 1.9h0m-28.4 2.7h0m26.4 1.8h0m-26.7 0.3h0m-8.4 1.5h0m-10.2 1h0m25.4 4.7h0m-43.3 3.3h0m27.2 1.7h0m-33.9 1.9h0m7.8 4.1h0m33.1 8.3h0m5.1 9.6h0m-30.8 0.3h0m19.9 1.5h0m-14.8 0.8h0m-11.5 6.6h0m38.3 7.9h0m-12.5 3.6h0"/><path stroke="#3cc0cc" stroke-width="3" stroke-linecap="round" fill="none" opacity="0.75" d="M232.7 951.2h0m-11.2 14.2h0m6.3 6.1h0m6.7 0.2h0m-52.5 8.6h0m51.3 0.5h0m-10.7 1.5h0m0 0.7h0m13.1 3.3h0m-0.2 2.2h0m-47.5 0.7h0m62.1 2.2h0m-49.1 1.8h0m-3.1 3.3h0m6.1 2.6h0m26 9.2h0m-8.3 14.7h0"/><text x="74" y="1020.3" font-size="8.6" text-anchor="middle" fill="#fff">100μm</text><line x1="60" y1="1024.1" x2="88" y2="1024.1" stroke="#fff" stroke-width="1.1" /><text x="162.5" y="1020.3" font-size="8.6" text-anchor="middle" fill="#fff">100μm</text><line x1="148.5" y1="1024.1" x2="176.5" y2="1024.1" stroke="#fff" stroke-width="1.1" /><text x="241" y="1020.3" font-size="8.6" text-anchor="middle" fill="#fff">100μm</text><line x1="227" y1="1024.1" x2="255" y2="1024.1" stroke="#fff" stroke-width="1.1" /><text x="268.5" y="825" font-size="16" font-weight="bold">j</text><text x="333" y="832.4" font-size="12.7"><tspan font-style="italic">Spp1</tspan><tspan dy="-4.5" font-size="7">+</tspan><tspan dy="4.5" font-size="1">&#8203;</tspan>-Bushy cell to Microglia</text><path stroke="#e01c1c" stroke-width="2.1" stroke-linecap="round" fill="none" d="M323.2 888.8h0m0.4 0.9h0m0 2.9h0m-0.7 3.6h0m1.5 1.9h0m-0.5 0.7h0m1.6 3.5h0m-2.7 1.3h0m-1.4 0.1h0m2.7 0.6h0m-1.9 0.6h0m0.9 0.4h0m-0.3 0.9h0m1.7 1.1h0m-1.8 3.1h0m4.3 0.1h0m-0.9 1h0m-3.3 0.3h0m-0.4 0.5h0m-1 0.4h0m4.5 0.6h0m-0.8 0.1h0m-1.7 0.3h0m1.3 0.3h0m-2.8 0.2h0m3.1 1.6h0m0.8 1.1h0m0.9 0.4h0m-4.9 0.1h0m1.9 0.2h0m0.7 1.2h0m-3 0.6h0m3.2 0h0m-2.4 0.5h0m3.6 0.2h0m-1 0.3h0m-0.1 0.3h0m1.9 0h0m-0.8 1.1h0m0.8 0.1h0m-5.1 0.1h0m-1.1 0.2h0m5.5 0.2h0m-3.2 0.3h0m-0.8 0.1h0m-0.1 0.2h0m5.8 0.1h0m-5.6 0.3h0m-0.9 0.1h0m-0.6 0.1h0m3.3 0h0m0.7 0h0m-1.6 0.4h0m3.5 0h0m-3.9 0.7h0m2.5 0.3h0m1.3 0.3h0m0.9 0.8h0m1 0h0m-2.7 0.2h0m1 0h0m-5.3 0.2h0m1 0h0m-2 0.1h0m3.6 0.4h0m-1.4 0.2h0m2.9 0h0m-2.6 0.1h0m3.4 0.1h0m-4.1 0.1h0m1.3 0h0m3.4 0.2h0m-5.5 0.4h0m5.1 1.2h0m-0.7 0.2h0m-4.9 0.1h0m1.7 0.2h0m0.5 0h0m4.7 0h0m-5.7 0.2h0m1.8 0.3h0m1.6 0h0m-3.3 0.1h0m-0.8 0.1h0m0.7 0h0m5 0.1h0m-0.9 0.1h0m-3.9 0.1h0m-1.1 0.1h0m3 0.4h0m4 0h0m-6.8 0.6h0m4.6 0h0m0.7 0h0m-0.7 0.1h0m1.9 0.3h0m-2.9 0.1h0m0.3 0.1h0m-2.7 0.1h0m3 0h0m-4.4 0.3h0m1.9 0h0m6.1 0.1h0m-6.5 0.1h0m0.4 0h0m6 0h0m-8.8 0.1h0m7.7 0h0m-2.3 0.1h0m-2.7 0.1h0m4.3 0h0m-7.2 0.1h0m3.5 0.1h0m-3 0.1h0m-1 0.1h0m5.3 0.2h0m-3.4 0.2h0m5 0h0m1.4 0h0m1.1 0.2h0m-6.3 0.2h0m-1.3 0.2h0m5.2 0.1h0m2 0.1h0m-9.7 0.1h0m7.2 0h0m3.7 0h0m-9.5 0.1h0m6.9 0h0m3.1 0h0m-10.3 0.1h0m1.7 0h0m-1 0.1h0m9 0.1h0m-5.3 0.1h0m0.9 0h0m0.8 0h0m1.7 0.1h0m-6.3 0.1h0m4.5 0h0m3.4 0h0m-8.3 0.1h0m3.6 0h0m0.9 0h0m-4.3 0.1h0m1.4 0.1h0m-2.4 0.2h0m7.4 0.1h0m1.5 0h0m-4.9 0.1h0m1.6 0h0m1.9 0h0m-9.1 0.4h0m7 0h0m3.5 0h0m0.1 0h0m-1.7 0.2h0m2.3 0.1h0m-2.7 0.3h0m-5.4 0.1h0m3.3 0h0m-5 0.1h0m3.8 0h0m4.4 0h0m-6.6 0.2h0m0.6 0.2h0m1.7 0.3h0m1.9 0h0m-1.2 0.2h0m0.2 0h0m0.7 0.1h0m-5.7 0.2h0m8.8 0h0m0.6 0h0m-1.1 0.2h0m-5 0.2h0m-0.9 0.1h0m5.4 0h0m0.3 0.1h0m-3.2 0.1h0m2.7 0h0m-4.3 0.1h0m5.6 0h0m-4.4 0.1h0m3.7 0h0m-7.2 0.1h0m-1.1 0.1h0m8.6 0h0m-5.4 0.1h0m2.9 0h0m3.5 0.1h0m-9.3 0.1h0m3.9 0.1h0m0.7 0h0m1.6 0h0m-3.1 0.1h0m1.8 0h0m1.8 0h0m-7.3 0.1h0m6.2 0h0m-3.7 0.2h0m2 0h0m1.9 0.3h0m2.2 0h0m-8.2 0.1h0m1 0h0m2.6 0h0m-1.1 0.1h0m2.6 0h0m0.6 0h0m-5.9 0.1h0m7.7 0h0m-5.7 0.1h0m4.1 0.1h0m3.6 0.1h0m-10.2 0.1h0m0.5 0h0m3.5 0.1h0m-3 0.1h0m1.4 0.2h0m7.9 0h0m-6.9 0.1h0m7.9 0h0m-9.1 0.2h0m3.1 0.1h0m-6.2 0.1h0m12 0h0m-9.8 0.1h0m1.1 0h0m4.8 0.1h0m-6.7 0.1h0m3 0h0m1.7 0h0m6 0.1h0m-10.8 0.1h0m2.7 0h0m2.6 0h0m-0.1 0.1h0m0 0h0m3.4 0h0m-8.9 0.1h0m1.6 0h0m-1.5 0.1h0m5.7 0h0m-4.6 0.1h0m1 0.1h0m3.4 0h0m-6.3 0.2h0m0.6 0h0m8 0h0m-8.2 0.1h0m5.5 0h0m3.5 0h0m0.4 0h0m-2.3 0.1h0m-4.2 0.1h0m4 0.1h0m1.2 0h0m-4 0.1h0m2.5 0.1h0m-6.5 0.1h0m1.7 0h0m0.7 0.1h0m0.5 0h0m1.5 0h0m-0.9 0.1h0m6.1 0.1h0m0.2 0.1h0m-2.7 0.2h0m-3.8 0.1h0m4.3 0h0m2.6 0h0m-9 0.1h0m7.7 0h0m-8 0.4h0m1.9 0.2h0m1.3 0h0m2.8 0.1h0m-6.9 0.1h0m6.6 0h0m3 0h0m-9.1 0.1h0m10.5 0h0m-8.7 0.1h0m1.7 0h0m1 0h0m3.7 0h0m-4.6 0.2h0m5.1 0h0m-9.7 0.1h0m8.6 0h0m1.2 0.1h0m-5.3 0.1h0m1.6 0h0m1.7 0h0m7.2 0h0m-16.4 0.1h0m16.4 0h0m-16.9 0.1h0m11.9 0h0m0.8 0h0m2.4 0h0m0.9 0h0m-17.3 0.1h0m3.1 0h0m3.2 0h0m5 0h0m-6.7 0.1h0m3.4 0h0m0.8 0.1h0m0.2 0h0m0.9 0h0m6.3 0h0m-8.6 0.1h0m5.2 0.1h0m0 0h0m-12.7 0.1h0m13.2 0h0m-7.5 0.1h0m5.8 0h0m-1 0.1h0m-6.3 0.1h0m1.2 0h0m3.4 0h0m3.9 0h0m-9.8 0.1h0m2.4 0.1h0m9.6 0h0m1.6 0h0m0.6 0h0m-8.4 0.1h0m7.5 0h0m-8.5 0.1h0m3.7 0h0m3 0h0m3.5 0h0m-17.7 0.1h0m4.2 0h0m0.2 0h0m8 0h0m3.9 0h0m0.6 0h0m-5.3 0.1h0m2.1 0h0m2.2 0h0m-15.8 0.1h0m1.2 0h0m2.8 0h0m7.7 0h0m-9.9 0.1h0m12.2 0h0m2.5 0h0m-6.6 0.1h0m2.8 0h0m0.9 0.1h0m2.7 0h0m-7.8 0.2h0m5.5 0h0m-4.9 0.1h0m1.4 0h0m0.5 0h0m0.1 0h0m2.4 0h0m1.9 0h0m-12.4 0.1h0m2.7 0h0m2.2 0h0m3.4 0h0m3.1 0h0m2.1 0h0m-15.6 0.1h0m1 0h0m0.1 0h0m5.7 0.1h0m-2.4 0.1h0m11.1 0h0m-0.7 0.1h0m-14.6 0.1h0m0 0.1h0m2.2 0.2h0m5.1 0h0m-7.7 0.1h0m2.4 0h0m4.1 0h0m2.5 0h0m0.3 0h0m3.6 0h0m1.9 0h0m-3.8 0.1h0m4.8 0h0m-13.9 0.1h0m12.4 0h0m0.7 0h0m0.1 0h0m-2.9 0.1h0m0.6 0h0m2.3 0.1h0m-14.1 0.1h0m11.1 0h0m2.6 0h0m-13.2 0.2h0m0.6 0h0m12.5 0h0m-7.8 0.1h0m2.6 0.1h0m-7 0.1h0m5.1 0h0m0.1 0h0m4.7 0h0m-9.3 0.1h0m11.2 0h0m0.7 0h0m-14.5 0.1h0m3.6 0h0m1.1 0h0m8.1 0.1h0m-2.7 0.1h0m5.3 0h0m-13.3 0.1h0m6.6 0h0m4.2 0h0m-2.8 0.1h0m0.5 0h0m-3.5 0.1h0m0.1 0h0m4.8 0.1h0m0.7 0h0m0.9 0h0m2.1 0h0m-15.2 0.1h0m10.1 0h0m-9.1 0.2h0m5.4 0.1h0m1.4 0h0m0.8 0h0m0.2 0.1h0m6.4 0h0m-11.5 0.1h0m1.9 0h0m7.4 0h0m-13.7 0.1h0m7.3 0h0m0.2 0h0m8 0h0m-13.2 0.1h0m2.5 0h0m8.2 0h0m1.7 0h0m1.2 0h0m-10.7 0.1h0m4.1 0h0m1.1 0h0m-7.3 0.1h0m3.7 0h0m5.3 0h0m-6.2 0.1h0m-2.1 0.1h0m12.2 0h0m-16.2 0.1h0m2.5 0.1h0m0.8 0h0m-1.1 0.1h0m13.5 0h0m-14.9 0.1h0m4.3 0h0m0.3 0h0m-0.2 0.1h0m5.8 0h0m4.5 0h0m-7.7 0.1h0m1.2 0h0m-0.6 0.1h0m3.2 0h0m-6.4 0.1h0m-1.2 0.1h0m12.6 0h0m-14.9 0.1h0m6.8 0h0m-9.3 0.2h0m1.8 0h0m5.5 0h0m3.8 0.1h0m2.9 0h0m-9.4 0.1h0m1.9 0h0m7.3 0h0m-13.8 0.1h0m7.3 0h0m3.5 0h0m4.3 0h0m-15.2 0.1h0m2 0h0m6.2 0h0m7.7 0h0m-13.7 0.1h0m0.3 0h0m0.4 0h0m0.3 0h0m-1.5 0.1h0m4.1 0.1h0m4 0h0m2.6 0h0m0.4 0h0m4.4 0h0m0.7 0h0m-5.9 0.1h0m0.4 0h0m-10.7 0.1h0m2.3 0h0m1.8 0h0m1.5 0h0m7.5 0h0m1 0h0m-12.1 0.1h0m1.6 0h0m1.4 0h0m5.3 0h0m3.6 0h0m-15.2 0.1h0m2.4 0h0m3.8 0h0m6.1 0h0m3.1 0h0m-2.3 0.1h0m1.3 0.1h0m-10 0.1h0m0.4 0h0m-2.4 0.1h0m8.8 0h0m-5.2 0.2h0m3.1 0h0m-3.5 0.1h0m8.3 0h0m-8 0.1h0m1.7 0h0m4.5 0h0m1.7 0.1h0m-7.7 0.1h0m4 0h0m6 0h0m-13 0.1h0m3.6 0h0m-2.1 0.1h0m7 0h0m-0.2 0.1h0m-7.2 0.1h0m1.2 0h0m5.6 0h0m2.3 0h0m-11.2 0.1h0m5.4 0h0m3.2 0h0m-8.2 0.1h0m3.3 0h0m5.2 0h0m1 0h0m-10.7 0.1h0m0.4 0h0m3.2 0h0m2.3 0h0m3.2 0h0m5.1 0.1h0m0.5 0h0m-9.6 0.1h0m4.3 0.1h0m-10.2 0.1h0m7 0h0m7.5 0h0m0.6 0h0m1 0h0m-16.3 0.1h0m0.2 0h0m13.1 0h0m-5.6 0.1h0m4.3 0h0m1.3 0h0m-3.4 0.1h0m0.7 0h0m0.7 0h0m2.9 0h0m-11.1 0.1h0m2 0h0m1.8 0h0m6.5 0h0m1.9 0h0m-10.4 0.1h0m5.1 0.1h0m0.9 0h0m-1.2 0.1h0m-4.9 0.1h0m7.8 0.1h0m-6.9 0.1h0m9.9 0h0m-12.8 0.1h0m12.8 0h0m0.6 0h0m-13.5 0.1h0m0.7 0h0m3.8 0h0m2.2 0h0m5 0h0m-5.1 0.1h0m-8 0.1h0m4 0h0m4.8 0h0m5.4 0h0m-9.6 0.2h0m8.4 0h0m-10.8 0.1h0m0.9 0h0m11.4 0h0m-15.2 0.2h0m4.7 0h0m6.9 0h0m0.7 0h0m-1 0.1h0m1.5 0h0m-13.2 0.1h0m8.1 0h0m-3 0.1h0m5.4 0h0m-9.7 0.1h0m0.9 0h0m3 0h0m0.3 0h0m6.1 0h0m-5.5 0.1h0m0.4 0h0m6.1 0h0m-10.9 0.2h0m2.7 0h0m8.4 0h0m2.3 0h0m-10.1 0.1h0m8.2 0h0m-10 0.1h0m10.9 0h0m-11.2 0.2h0m3 0h0m0.6 0h0m4.4 0.1h0m-6.6 0.1h0m0.2 0h0m7.7 0h0m-11 0.1h0m6.6 0h0m2.4 0h0m-5.9 0.1h0m11.1 0h0m-14 0.1h0m13.3 0h0m-13.1 0.1h0m11.7 0h0m-6.8 0.1h0m3.6 0h0m0 0h0m1.6 0h0m0.5 0h0m0.3 0h0m1.3 0h0m1.2 0h0m-3.1 0.1h0m-6.5 0.1h0m2.6 0h0m3.4 0h0m-10.7 0.1h0m6.7 0h0m0.4 0.1h0m-4.7 0.1h0m2.3 0h0m8.9 0h0m-8.1 0.1h0m4.6 0h0m0.4 0h0m0.6 0h0m-5 0.1h0m4.4 0h0m3.4 0h0m-13.8 0.3h0m3.6 0h0m3.8 0h0m-6 0.1h0m4.3 0.1h0m1.7 0.1h0m0.1 0h0m2.1 0h0m-7.1 0.1h0m10.5 0h0m-10.1 0.3h0m0.8 0h0m2.7 0h0m-1.4 0.1h0m1.8 0h0m3.5 0h0m-8 0.1h0m0 0h0m0.5 0h0m5.4 0h0m-3.3 0.2h0m3.2 0h0m-0.7 0.1h0m3.1 0h0m2.2 0.1h0m-9.9 0.2h0m8.4 0h0m-0.8 0.1h0m-8.9 0.1h0m5.7 0h0m5.6 0h0m-7.3 0.1h0m0.5 0.2h0m3.9 0.1h0m3.2 0h0m-6 0.1h0m-3.9 0.2h0m1.8 0h0m0.6 0h0m0.3 0.2h0m1.1 0.2h0m2.2 0.1h0m2.7 0h0m-1.6 0.3h0m-3.7 0.3h0m0.1 0h0m0.2 0h0m0.9 0.1h0m-1.9 0.1h0m1.7 0h0m-1.7 0.3h0m2.1 0.1h0m-4.6 0.2h0m7.3 0h0m-6.4 0.1h0m4.8 0h0m0.2 0.1h0m-2.1 0.3h0m1.1 0h0m2.8 0h0m-2.8 0.2h0m-1.8 0.2h0m3.2 0h0m-3 0.4h0m3.7 0h0m0.5 0.5h0m-1.6 0.1h0m-0.7 0.7h0m-1.3 0.3h0m-1 0.1h0m1.9 0.2h0m-1.9 1.3h0"/><path stroke="#3c82c6" stroke-width="2.1" stroke-linecap="round" fill="none" d="M349.2 880.2h0m-1.9 3h0m2.1 5.2h0m-1.1 0.3h0m1.4 2.5h0m-0.5 0.8h0m-2 1.5h0m0.8 4.4h0m1.2 1.1h0m0 1.3h0m0.3 0.3h0m-3.2 0.4h0m1.2 0.3h0m1.5 1.5h0m-1.1 1.6h0m0.5 1.1h0m-0.5 0.9h0m2.1 0.6h0m0.3 0.8h0m-2.3 0.9h0m2.6 1.1h0m-3.2 0.4h0m3.2 0.9h0m-4.6 0.7h0m2.6 0.3h0m-1.4 0.5h0m3.1 0.7h0m-4.3 0.4h0m4.3 0.1h0m0.4 1.3h0m-0.6 0.3h0m0.8 0.1h0m-2.1 1.6h0m-1.3 0.8h0m2.6 0.6h0m-4.9 0.7h0m3.4 0.3h0m1.9 0.3h0m-4.2 0.6h0m2.7 0.1h0m1.1 0.6h0m0.5 0h0m-2.1 0.2h0m-0.8 0.6h0m3.8 0.1h0m-0.9 0.3h0m0.6 0h0m-5.2 0.3h0m4.7 0h0m-6.4 0.7h0m7.8 0h0m-3.9 0.1h0m3.8 0.2h0m-4.1 0.3h0m-1.8 0.6h0m5 0.6h0m0.7 0h0m-4.6 0.3h0m2.4 0.3h0m-1.3 0.6h0m-2.4 0.2h0m0 0.2h0m0.7 0.3h0m1.7 0.2h0m2.6 0h0m-3.5 0.4h0m1.9 0.2h0m3.3 0h0m-8.5 0.1h0m0.9 0.2h0m0.2 0h0m0.7 0.3h0m4.1 0h0m-2.6 0.1h0m5.2 0.1h0m-0.8 0.1h0m-6.3 0.7h0m5.3 0h0m-6.8 0.4h0m7.9 0.5h0m-5.9 0.4h0m6.6 0h0m-0.1 0.2h0m-8.9 0.4h0m3 0.1h0m4.5 0h0m-6.5 0.1h0m-1.2 0.2h0m1.4 0h0m2.9 0h0m-3 0.2h0m4.6 0.2h0m1.7 0.3h0m-5.2 0.1h0m-0.8 0.4h0m-3.4 0.1h0m-0.1 0.3h0m10.8 0.2h0m-10.1 0.3h0m11.9 0h0m1.3 0.1h0m-3.2 0.2h0m-6.2 0.1h0m1.4 0h0m1.8 0h0m-6.6 0.1h0m8.7 0.2h0m4.4 0.1h0m-13.5 0.1h0m3.9 0h0m2.1 0h0m1.3 0h0m0.2 0.1h0m-2.5 0.1h0m1.9 0h0m-6.7 0.1h0m0 0h0m2.4 0h0m-3.9 0.1h0m5.4 0h0m8.3 0h0m-12.2 0.2h0m9.2 0.1h0m2.1 0.1h0m-9.4 0.1h0m9.2 0.2h0m-6.6 0.3h0m1.9 0h0m2.4 0.1h0m-2.6 0.1h0m2.2 0.2h0m2.3 0.1h0m0.8 0h0m-7.8 0.3h0m-0.9 0.2h0m0.3 0h0m2.9 0.1h0m0.1 0h0m2.2 0h0m-0.3 0.2h0m-6.5 0.1h0m3.5 0.2h0m0.5 0h0m3 0h0m1.4 0.1h0m-7.8 0.1h0m4.9 0h0m-4.5 0.1h0m-3.1 0.3h0m3.7 0.1h0m1.1 0h0m0.9 0.2h0m3.9 0h0m-9.1 0.1h0m7.9 0.2h0m-6.6 0.2h0m8.7 0h0m-8.3 0.1h0m1.8 0h0m6.7 0h0m-3.5 0.3h0m-6.7 0.3h0m2.3 0h0m6.7 0.3h0m-1.1 0.2h0m3.5 0h0m-8.6 0.1h0m3.2 0h0m4.9 0.1h0m-5.3 0.2h0m5.2 0h0m-2.4 0.1h0m-5.2 0.2h0m0 0.1h0m5.5 0.1h0m-3.4 0.1h0m-1.5 0.6h0m0.1 0h0m0.3 0.3h0m0.2 0h0m0.2 0.3h0m-3.6 0.1h0m0.1 0.2h0m0.1 0h0m6.2 0.1h0m-4.7 0.3h0m7.5 0h0m-6.8 0.1h0m5.1 0.1h0m0.8 0.2h0m-5.4 0.5h0m4.5 0.1h0m2.7 0h0m-2.6 0.1h0m3.1 0.1h0m-1.7 0.1h0m0.2 0.4h0m-0.9 0.1h0m-4.1 0.1h0m-3.3 0.1h0m-0.1 0.1h0m-1.3 0.2h0m2.4 0.2h0m9.8 0h0m-4.1 0.1h0m1.1 0h0m-7.7 0.2h0m11 0.1h0m-4.8 0.1h0m-1.3 0.1h0m-2.7 0.1h0m6.9 0h0m1.3 0h0m-9.4 0.1h0m5 0.2h0m0.4 0.1h0m1.9 0h0m2.3 0h0m-5.8 0.1h0m-7.1 0.1h0m2.3 0h0m0.3 0.1h0m-2.7 0.1h0m12.6 0h0m-6.9 0.6h0m-3.5 0.1h0m7.2 0h0m-6.9 0.1h0m7.9 0h0m-9.3 0.1h0m4.1 0.1h0m3.7 0.1h0m0.5 0h0m-5.1 0.1h0m0.8 0h0m0.4 0h0m0.2 0.1h0m-0.3 0.2h0m3.2 0.4h0m3.7 0.1h0m-11.4 0.1h0m1.5 0h0m2.8 0.3h0m3.4 0h0m1.1 0h0m-0.3 0.5h0m2.6 0h0m-0.2 0.2h0m-7.2 0.1h0m5 0h0m2.7 0h0m-10.5 0.2h0m1.2 0.2h0m1.2 0h0m1.5 0.1h0m-3.7 0.1h0m3.8 0h0m-0.8 0.1h0m4.5 0h0m-10.5 0.1h0m7.7 0h0m-6.3 0.1h0m2.8 0h0m-4.5 0.1h0m13.1 0h0m-8.9 0.1h0m6.9 0.1h0m-10.2 0.2h0m9.1 0h0m-7.9 0.1h0m-2.3 0.1h0m2.3 0h0m0.7 0h0m4.3 0h0m8 0h0m-0.6 0.1h0m-8.6 0.1h0m3.6 0.1h0m-10.1 0.1h0m7.1 0h0m9.9 0h0m0.7 0h0m-13.8 0.1h0m3.9 0h0m7.9 0h0m-10.4 0.1h0m0.7 0.1h0m-3.8 0.2h0m5 0h0m-2.2 0.2h0m5.9 0.2h0m4.7 0h0m-9.1 0.1h0m4.1 0h0m-6.6 0.1h0m11.7 0h0m2.1 0h0m-10.6 0.1h0m0.5 0h0m7 0h0m-1.3 0.1h0m0.9 0h0m-7.4 0.1h0m1.4 0h0m7.4 0h0m-2.6 0.1h0m0.6 0.1h0m-5.6 0.1h0m6 0h0m2.4 0h0m-16.3 0.1h0m15.5 0.1h0m-6.1 0.1h0m-11 0.1h0m3.7 0h0m3.8 0h0m-0.8 0.1h0m1.9 0h0m-2.6 0.2h0m8.9 0h0m-9.2 0.2h0m4.1 0h0m5.4 0h0m-12.8 0.1h0m11.2 0h0m-9.8 0.5h0m4.1 0.4h0m0.4 0h0m-2 0.1h0m3.4 0.2h0m0.9 0h0m0.1 0.1h0m3 0h0m0.6 0h0m-3.7 0.1h0m2.8 0.1h0m1.3 0h0m2 0.1h0m-2.8 0.1h0m-9.6 0.1h0m1.7 0h0m6 0h0m1.1 0h0m3.8 0h0m-16.8 0.2h0m2.8 0h0m9.1 0.1h0m2.5 0h0m-7.1 0.1h0m3.7 0h0m-6.5 0.1h0m-2.5 0.1h0m10.6 0.1h0m2.4 0h0m-14.6 0.3h0m13.5 0h0m-5.6 0.1h0m8.6 0h0m-14.2 0.2h0m8.7 0h0m0.8 0h0m5.2 0h0m-17 0.1h0m2.3 0h0m0.6 0.1h0m2.3 0.1h0m11.9 0h0m-16.6 0.1h0m2.4 0h0m11.6 0.1h0m2.5 0h0m-7.3 0.1h0m2.4 0h0m-10.2 0.1h0m10.4 0h0m4 0.1h0m2 0h0m-16 0.1h0m11.4 0h0m3.7 0h0m-17 0.1h0m0 0h0m13.8 0h0m-4 0.1h0m-5.5 0.2h0m4.8 0h0m-2.7 0.1h0m-3 0.1h0m5.3 0h0m5.9 0h0m0.5 0.1h0m-2.6 0.2h0m1.1 0.2h0m0.8 0h0m-10.6 0.3h0m2.8 0.1h0m4.2 0h0m-4.2 0.4h0m0.2 0h0m0.5 0h0m3.8 0.3h0m-5.7 0.1h0m0.2 0h0m2.5 0h0m-1.6 0.2h0m3 0.2h0m-3.9 0.3h0m3.9 0h0m-0.4 0.2h0m-2.2 0.1h0m-0.8 0.2h0m-0.8 0.2h0m2.2 0.2h0m-2.6 0.2h0m4.9 0.5h0m1.4 0h0m1.7 0h0m-3.1 0.1h0m2.5 0.1h0m0.3 0.6h0m-7.5 0.2h0m4.1 0.5h0m-2.4 0.2h0m1.3 0.6h0m-0.9 0.5h0m0.2 0h0m4.4 0.5h0m-5.6 0.1h0m5.4 0.1h0m-5.1 0.5h0"/><path stroke="#a424e8" stroke-width="2.1" stroke-linecap="round" fill="none" d="M375.2 912.8h0m-2 0.3h0m-2 0.4h0m1.3 0.1h0m0.8 1.1h0m0.1 1h0m-2.3 2.3h0m0.7 0h0m-1.2 1.2h0m4.9 0.7h0m1.8 0.1h0m-1.4 0.3h0m-5.5 0.1h0m7.3 0h0m-6.3 0.2h0m0.3 0.4h0m0.1 0.2h0m-0.8 0.2h0m2.9 1.7h0m2.6 0.4h0m-3.1 0.6h0m-1.5 0.2h0m1.3 0.8h0m3.8 0.7h0m-5.9 0.3h0m-0.5 0.4h0m0.2 0.2h0m-0.2 0.9h0m2.3 0h0m4.4 0.4h0m-1.2 0.8h0m-3.9 0.2h0m5.3 0.2h0m-6.6 0.4h0m1.7 0.6h0m-0.5 0.3h0m0.6 0.3h0m4.7 0.1h0m-3.9 0.4h0m3.6 0.1h0m0.2 0.1h0m-1.9 0.1h0m0.6 0.1h0m-5 0.2h0m7 0h0m-5.5 0.3h0m4.4 0h0m-0.8 0.2h0m1.1 0h0m-2.5 0.5h0m3 0.7h0m-6.1 0.3h0m6.3 0h0m1.1 0.2h0m-9 0.1h0m4.7 0.2h0m-2.7 0.1h0m5.9 0.1h0m-2.8 0.1h0m-1.6 0.1h0m5.3 0h0m-4.5 0.5h0m3.7 0h0m-0.4 0.2h0m0.6 0h0m-6.7 0.1h0m5 0h0m1.5 0h0m0.8 0h0m-7.8 0.2h0m2.7 0.3h0m6 0h0m-2.8 0.1h0m-8.8 0.1h0m10.9 0.1h0m-3.7 0.1h0m2.1 0.4h0m-9.8 0.1h0m10.2 0h0m-4.3 0.1h0m2.3 0.2h0m-3.7 0.1h0m-1.1 0.1h0m-0.8 0.1h0m5.8 0.1h0m1 0h0m-8.2 0.1h0m0 0.1h0m0.4 0h0m3.1 0h0m1.7 0h0m-4 0.3h0m4.7 0h0m-4.4 0.2h0m8.2 0h0m-7.9 0.1h0m3.5 0h0m-3 0.3h0m3 0.2h0m3 0h0m-2.3 0.1h0m-5.1 0.2h0m4.7 0h0m-4.3 0.5h0m6.1 0h0m-4 0.2h0m-1.4 0.3h0m8.3 0h0m-9.7 0.1h0m4.4 0h0m3.8 0h0m-9.5 0.1h0m4 0h0m-0.9 0.1h0m0.1 0h0m0.8 0h0m-1.7 0.2h0m5 0.1h0m-2 0.2h0m0.8 0h0m1 0h0m-6.2 0.1h0m12.1 0.1h0m-1.5 0.1h0m-8.4 0.1h0m6.5 0h0m-6.4 0.1h0m4.2 0.2h0m0.6 0.2h0m-4 0.1h0m5.9 0.2h0m-9.1 0.1h0m6.6 0.2h0m2 0h0m-4.2 0.1h0m-2 0.1h0m0.4 0h0m4.1 0h0m1.1 0h0m-0.1 0.2h0m-2.9 0.1h0m2.6 0h0m-2.5 0.1h0m0.2 0h0m-6.2 0.1h0m8.1 0.2h0m-6.6 0.1h0m8.3 0h0m-8.7 0.1h0m6.2 0.1h0m-0.6 0.1h0m0.7 0h0m-3.1 0.1h0m7.3 0h0m0.1 0h0m-10.4 0.1h0m-2.2 0.1h0m0.8 0.2h0m0.6 0h0m0.7 0h0m10.3 0.1h0m-7.8 0.1h0m0.1 0.1h0m4 0.3h0m-0.5 0.1h0m-7.9 0.1h0m4 0h0m0.8 0h0m8.5 0h0m-3 0.1h0m-0.5 0.5h0m1.8 0.1h0m-9.4 0.1h0m2.1 0h0m4.1 0h0m-6.6 0.1h0m2.8 0h0m0.8 0h0m-1.5 0.1h0m0.6 0h0m-4.9 0.1h0m2.5 0.1h0m1.3 0.1h0m4.2 0h0m5.5 0h0m-3.8 0.2h0m0.5 0.1h0m2.3 0h0m-11.3 0.1h0m1.5 0.2h0m-2.8 0.1h0m5 0h0m3 0.2h0m1.8 0h0m0.8 0h0m-9.7 0.2h0m-0.4 0.1h0m9.9 0.1h0m-7.6 0.1h0m8.6 0h0m-9.4 0.1h0m9.4 0h0m-8.2 0.1h0m8.5 0.1h0m-12.1 0.1h0m4.7 0h0m2.8 0h0m1 0h0m4.7 0h0m0.6 0.1h0m-2.2 0.1h0m0 0.3h0m-1.4 0.1h0m1.3 0h0m1 0.2h0m-6.9 0.1h0m-0.5 0.1h0m-2.3 0.1h0m2.3 0.2h0m8 0h0m-11.4 0.1h0m4.9 0h0m4.3 0.1h0m0.9 0h0m-9.2 0.1h0m-0.6 0.2h0m5.9 0h0m2.7 0h0m-7 0.1h0m3.5 0.1h0m3.8 0h0m3.4 0h0m-10.6 0.3h0m1.6 0.1h0m0.1 0h0m6.8 0h0m0.4 0h0m-11.5 0.1h0m0.8 0.1h0m0.3 0.4h0m1 0h0m4.6 0.1h0m-1.9 0.1h0m-1.7 0.2h0m5.5 0h0m-9.7 0.1h0m3.3 0h0m0.9 0h0m-2.7 0.1h0m10.9 0h0m0.6 0h0m-15.5 0.1h0m5.2 0h0m6.2 0h0m3.3 0.1h0m-8.9 0.1h0m1.2 0h0m3.5 0h0m5 0h0m-6.9 0.1h0m9.8 0h0m-9.7 0.1h0m2.8 0h0m0.5 0.1h0m-0.4 0.1h0m-8.4 0.1h0m2.8 0h0m6.5 0h0m1.4 0h0m3.7 0h0m-12.2 0.1h0m6.4 0h0m0.7 0.1h0m-0.4 0.2h0m0.2 0h0m-9 0.2h0m5.9 0h0m4.9 0h0m-9.9 0.2h0m0.2 0.1h0m9 0h0m3.3 0h0m-12.9 0.1h0m10.8 0.1h0m1.4 0h0m-13.3 0.1h0m2.5 0h0m10.7 0h0m-8 0.1h0m4.5 0h0m-4.4 0.1h0m1.9 0.1h0m-8.5 0.1h0m8.1 0.1h0m5 0h0m-14.2 0.1h0m13.7 0h0m3.8 0h0m1.3 0h0m-16.3 0.1h0m2.7 0h0m-3.3 0.1h0m5.5 0h0m6.9 0h0m2.8 0h0m-3 0.2h0m3.1 0h0m-16.2 0.1h0m9.8 0h0m2.2 0h0m-5.8 0.1h0m-4.9 0.1h0m6.3 0h0m2.9 0h0m5.8 0h0m-14.9 0.1h0m12.3 0h0m3.7 0h0m-13.4 0.1h0m2.3 0h0m2.5 0.2h0m2.4 0h0m-11.6 0.1h0m7.9 0h0m0.3 0h0m-6.6 0.1h0m8.5 0h0m-2.1 0.1h0m-4.6 0.1h0m10.3 0.1h0m-4.6 0.2h0m5.5 0h0m-13.5 0.1h0m8.5 0h0m1 0h0m-8.5 0.1h0m8.7 0h0m-9.7 0.1h0m5.5 0h0m11.2 0.1h0m-4.5 0.2h0m2.2 0h0m1 0h0m-10.5 0.1h0m-5.3 0.1h0m15.1 0h0m-10.9 0.1h0m2.3 0h0m2.6 0h0m2.3 0h0m3.4 0h0m-7.7 0.2h0m1.1 0h0m6.7 0h0m1.8 0h0m0.2 0h0m-11 0.1h0m-5.3 0.1h0m4 0h0m1.5 0h0m11 0h0m-17.1 0.1h0m15.1 0h0m-9.9 0.1h0m-0.2 0.1h0m2.9 0.1h0m-7.7 0.2h0m6.4 0.1h0m-2 0.1h0m5.4 0h0m-1.2 0.2h0m6.3 0h0m-14.4 0.1h0m14.7 0h0m0.4 0h0m-14.6 0.1h0m10.9 0h0m-2.7 0.2h0m0.9 0h0m1.1 0h0m-11.3 0.1h0m3.4 0h0m2.9 0h0m-3.6 0.1h0m5 0h0m7 0.1h0m-12.2 0.1h0m5.1 0h0m3.6 0h0m1.6 0.1h0m-10.5 0.1h0m12.9 0h0m-15.2 0.1h0m13.1 0h0m-11.8 0.2h0m1.8 0.1h0m5 0h0m1.1 0h0m-4.9 0.1h0m3.6 0h0m6.8 0h0m-9.3 0.2h0m5.8 0h0m4.5 0h0m-4.4 0.1h0m2.8 0h0m3.1 0.1h0m-10.2 0.1h0m1.8 0.1h0m-4.5 0.1h0m7.7 0h0m-11.9 0.1h0m7.9 0h0m7.9 0h0m-14 0.2h0m8 0h0m7.6 0h0m-11 0.1h0m7.7 0h0m-15.1 0.1h0m1.8 0h0m7.9 0.2h0m6.5 0h0m1.4 0h0m-13.5 0.1h0m0.4 0h0m3.9 0h0m3.7 0h0m-6.8 0.3h0m8.3 0.1h0m1.9 0h0m-9.9 0.1h0m-3.2 0.1h0m6.4 0h0m-5.8 0.1h0m11.9 0h0m-7.4 0.1h0m0.7 0.2h0m8 0h0m-8.1 0.1h0m-1.5 0.1h0m-4 0.1h0m1.5 0h0m5.3 0h0m0.2 0.3h0m0.2 0h0m1 0h0m2.1 0.1h0m-4.5 0.1h0m7.6 0.1h0m-7.5 0.1h0m3.8 0h0m-1.9 0.1h0m0.3 0.1h0m4.1 0h0m-6.1 0.1h0m3.1 0h0m-0.2 0.1h0m-8 0.1h0m0.5 0h0m8.8 0h0m-10.6 0.1h0m12.1 0h0m-7.2 0.1h0m3.2 0.1h0m2.4 0.1h0m-4.5 0.1h0m-5.6 0.1h0m5.6 0.2h0m0.2 0.1h0m4.2 0h0m1.6 0h0m0 0h0m-2.3 0.1h0m-8 0.1h0m9 0h0m-4.5 0.1h0m-4.9 0.2h0m3.1 0h0m8.8 0.1h0m-9.7 0.1h0m1.2 0h0m3 0h0m0.2 0.1h0m-7 0.3h0m5.1 0.5h0m-4 0.1h0m1.3 0.2h0m7.7 0h0m-0.1 0.1h0m-4.7 0.1h0m-0.5 0.2h0m1.4 0.1h0m-1.9 0.1h0m-0.4 0.3h0m5.5 0.2h0m-0.8 0.5h0m-3 0.2h0m3.5 0.3h0m-4 1h0"/><line x1="312.2" y1="948.5" x2="336.2" y2="948.5" stroke="#111" stroke-width="1.1" /><line x1="324.2" y1="963.2" x2="324.2" y2="933.8" stroke="#111" stroke-width="0.9" /><line x1="318.7" y1="963.2" x2="329.7" y2="963.2" stroke="#111" stroke-width="0.9" /><line x1="318.7" y1="933.8" x2="329.7" y2="933.8" stroke="#111" stroke-width="0.9" /><line x1="336.3" y1="942.8" x2="360.3" y2="942.8" stroke="#111" stroke-width="1.1" /><line x1="348.3" y1="959.9" x2="348.3" y2="925.6" stroke="#111" stroke-width="0.9" /><line x1="342.8" y1="959.9" x2="353.8" y2="959.9" stroke="#111" stroke-width="0.9" /><line x1="342.8" y1="925.6" x2="353.8" y2="925.6" stroke="#111" stroke-width="0.9" /><line x1="362" y1="950.1" x2="386" y2="950.1" stroke="#111" stroke-width="1.1" /><line x1="374" y1="963.2" x2="374" y2="937" stroke="#111" stroke-width="0.9" /><line x1="368.5" y1="963.2" x2="379.5" y2="963.2" stroke="#111" stroke-width="0.9" /><line x1="368.5" y1="937" x2="379.5" y2="937" stroke="#111" stroke-width="0.9" /><line x1="308.2" y1="853.6" x2="308.2" y2="976.3" stroke="#111" stroke-width="1" /><line x1="308.2" y1="976.3" x2="390" y2="976.3" stroke="#111" stroke-width="1" /><line x1="303.6" y1="976.3" x2="308.2" y2="976.3" stroke="#111" stroke-width="0.9" /><text x="301.6" y="979.4" font-size="8.8" text-anchor="end" fill="#111">0</text><line x1="303.6" y1="935.4" x2="308.2" y2="935.4" stroke="#111" stroke-width="0.9" /><text x="301.6" y="938.5" font-size="8.8" text-anchor="end" fill="#111">50</text><line x1="303.6" y1="894.5" x2="308.2" y2="894.5" stroke="#111" stroke-width="0.9" /><text x="301.6" y="897.6" font-size="8.8" text-anchor="end" fill="#111">100</text><line x1="303.6" y1="853.6" x2="308.2" y2="853.6" stroke="#111" stroke-width="0.9" /><text x="301.6" y="856.7" font-size="8.8" text-anchor="end" fill="#111">150</text><line x1="306.4" y1="955.8" x2="308.2" y2="955.8" stroke="#111" stroke-width="0.7" /><line x1="306.4" y1="915" x2="308.2" y2="915" stroke="#111" stroke-width="0.7" /><line x1="306.4" y1="874" x2="308.2" y2="874" stroke="#111" stroke-width="0.7" /><line x1="324.2" y1="976.3" x2="324.2" y2="979.3" stroke="#111" stroke-width="0.9" /><line x1="348.3" y1="976.3" x2="348.3" y2="979.3" stroke="#111" stroke-width="0.9" /><line x1="374" y1="976.3" x2="374" y2="979.3" stroke="#111" stroke-width="0.9" /><text x="267.8" y="915" font-size="11" text-anchor="middle" transform="rotate(-90 267.8 915)">Distance</text><text x="281.4" y="915" font-size="11" text-anchor="middle" transform="rotate(-90 281.4 915)">(Segmented cell, μm)</text><text x="349" y="853.5" font-size="9.4" text-anchor="middle">N.S.</text><line x1="324" y1="859" x2="373" y2="859" stroke="#111" stroke-width="0.9" /><text x="336" y="871.2" font-size="11" text-anchor="middle">***</text><line x1="324" y1="871.9" x2="348" y2="871.9" stroke="#111" stroke-width="0.9" /><text x="361" y="878.3" font-size="11" text-anchor="middle">***</text><line x1="348" y1="879" x2="373" y2="879" stroke="#111" stroke-width="0.9" /><text x="327.7" y="993.3" font-size="11.6" text-anchor="end" transform="rotate(-31 327.7 993.3)">WT</text><text x="356.3" y="992.3" font-size="11.6" text-anchor="end" transform="rotate(-31 356.3 992.3)"><tspan font-style="italic">Vglut3</tspan><tspan dy="-4.5" font-size="6.5">-/-</tspan><tspan dy="4.5" font-size="1">&#8203;</tspan></text><text x="393" y="991.3" font-size="11.6" text-anchor="end" transform="rotate(-31 393 991.3)"><tspan font-style="italic">Vglut3</tspan><tspan dy="-4.5" font-size="6.5">-/-</tspan><tspan dy="4.5" font-size="1">&#8203;</tspan>+GT</text><path stroke="#e01c1c" stroke-width="2.1" stroke-linecap="round" fill="none" d="M461.1 914h0m0.4 0.1h0m0.3 0.6h0m2.1 2.9h0m-0.6 3.3h0m0.2 2.7h0m1.3 2.1h0m-2 0.3h0m0.4 0.8h0m-0.3 0.6h0m1.7 0.8h0m0.3 0.1h0m-4.9 0.4h0m1.7 0h0m0.1 0.3h0m-1.1 0.9h0m2.2 0.9h0m0.7 0.5h0m1.9 0.1h0m-4.1 0.5h0m0.1 0h0m-0.3 0.1h0m4.8 0.2h0m-6.1 0.4h0m4.8 0.1h0m0.6 2.2h0m-5.1 0.4h0m0.4 0.3h0m5.1 0.7h0m-1.8 0.1h0m1.5 0h0m-2.3 0.1h0m-2.4 0.4h0m3.3 0h0m1.5 0h0m-2.2 0.1h0m-1.6 0.2h0m1.9 0.2h0m3.2 0.3h0m-2.8 0.4h0m-1.5 0.2h0m0.1 0.5h0m0.5 0.1h0m0.1 0.1h0m-1.5 0.1h0m3.2 0h0m-2.4 0.4h0m1.9 0.3h0m-4.5 0.1h0m5.4 0.6h0m-0.9 0.2h0m1.3 0h0m-0.7 0.2h0m0 0.1h0m-1.7 0.3h0m0.2 0.1h0m-4 0.2h0m3.5 0.1h0m2.1 0.2h0m-4.4 0.1h0m5 0.1h0m-1.8 0.3h0m-3 0.2h0m-1.2 0.4h0m0.8 0.1h0m6.7 0h0m-7.8 0.3h0m3.6 0.1h0m2.6 0h0m1.5 0h0m-1.3 0.1h0m1.4 0h0m-4.9 0.2h0m1.2 0h0m0.9 0.1h0m2.5 0h0m-5.2 0.5h0m-2.2 0.4h0m4.8 0h0m1.9 0h0m-7.3 0.4h0m1.9 0.1h0m-2.1 0.1h0m-0.3 0.1h0m6.3 0h0m-0.8 0.1h0m-5.2 0.1h0m5.6 0h0m1.9 0.1h0m-6.2 0.1h0m8.4 0h0m-10.3 0.2h0m8.6 0h0m-7.8 0.2h0m1.6 0h0m-0.1 0.2h0m-0.2 0.1h0m0.3 0.1h0m7.1 0h0m-8.7 0.1h0m2 0h0m2.6 0h0m1.2 0h0m0.2 0.1h0m-2.4 0.1h0m4.1 0h0m0.2 0h0m0.6 0h0m-6.1 0.7h0m-1 0.4h0m2.6 0h0m4.6 0h0m-9.2 0.1h0m4.7 0.1h0m1 0.3h0m-4.9 0.2h0m7.2 0h0m0.6 0.2h0m0.4 0.2h0m-3.8 0.1h0m0.2 0.1h0m-3.3 0.1h0m-0.5 0.1h0m1 0.1h0m3.1 0h0m-4.3 0.4h0m-0.6 0.2h0m1.4 0h0m-1 0.1h0m-0.7 0.1h0m2.4 0.1h0m5.5 0h0m0.1 0h0m-4.6 0.1h0m-3.4 0.3h0m-0.4 0.1h0m2.3 0.2h0m6.5 0h0m-9 0.1h0m0.9 0h0m9.9 0.1h0m-9.4 0.1h0m7.7 0h0m-4.6 0.2h0m-3.4 0.1h0m3.2 0h0m-2.6 0.1h0m1.8 0h0m1 0h0m4.1 0.1h0m-1.9 0.1h0m3.5 0h0m-2.1 0.1h0m-5.3 0.1h0m0.4 0h0m0.8 0h0m-2.8 0.1h0m9.3 0h0m-2.9 0.1h0m-0.8 0.1h0m1.2 0h0m-6.9 0.4h0m6.6 0h0m-4.2 0.1h0m0.2 0h0m3.7 0h0m-8.3 0.1h0m8.5 0h0m-3.5 0.1h0m-2.6 0.1h0m5.7 0h0m-7.4 0.1h0m8.1 0h0m-9.5 0.2h0m11.9 0h0m-10.7 0.1h0m9.4 0.1h0m-5.2 0.1h0m-5.1 0.1h0m11.1 0h0m-5.1 0.1h0m1.2 0h0m-4.2 0.1h0m5.8 0h0m-3.5 0.1h0m-4.8 0.2h0m5.4 0.1h0m-3 0.1h0m10.4 0h0m-14.8 0.1h0m14.3 0.2h0m-8.6 0.1h0m-1.5 0.1h0m0.5 0h0m4.3 0h0m-1.8 0.1h0m1.6 0h0m-2.6 0.1h0m0.3 0h0m-2.1 0.1h0m5 0h0m1.7 0h0m2.5 0h0m-11.2 0.1h0m5.8 0h0m-5.1 0.1h0m4.3 0h0m7.6 0.1h0m-12.1 0.2h0m4.4 0h0m-0.8 0.1h0m1.4 0h0m0.5 0h0m-4.4 0.1h0m1.1 0h0m4.7 0h0m-0.6 0.1h0m3 0h0m1.4 0h0m-11.3 0.1h0m3 0h0m-2.3 0.1h0m0.2 0h0m0.8 0h0m0.8 0h0m1.9 0h0m0.3 0h0m4.5 0h0m-10.1 0.1h0m2.8 0h0m7.9 0h0m2.5 0h0m-10.5 0.1h0m5.4 0h0m-5.3 0.2h0m4.7 0h0m6 0h0m-11.9 0.1h0m1.4 0.1h0m-2.4 0.1h0m-1.8 0.1h0m6.8 0h0m-1.7 0.1h0m2.5 0h0m-4 0.3h0m7.4 0h0m-11 0.1h0m4.9 0h0m8.7 0.1h0m-8.3 0.1h0m3.7 0h0m-6.9 0.1h0m1.7 0h0m6.3 0h0m1.7 0h0m-5.8 0.1h0m0.4 0h0m-1.1 0.1h0m9.1 0h0m-11.7 0.1h0m1.1 0h0m-2.8 0.1h0m2.2 0h0m-1.4 0.1h0m12.3 0h0m-9.4 0.1h0m4.5 0h0m0.6 0h0m4.6 0h0m-10.6 0.1h0m7.6 0h0m-6.4 0.1h0m4.8 0h0m0.8 0h0m2.1 0.1h0m-1.6 0.1h0m0.2 0h0m-11.7 0.1h0m12 0h0m-0.2 0.1h0m-5.8 0.2h0m2.3 0h0m5.3 0h0m-6.2 0.2h0m2.3 0h0m0.2 0h0m-9.2 0.1h0m1.4 0h0m3.3 0h0m2.3 0h0m1.8 0.1h0m0.9 0.1h0m3.4 0h0m-11 0.1h0m-0.3 0.1h0m9 0h0m-7.5 0.1h0m6.8 0h0m0 0.1h0m-8.4 0.1h0m3.3 0h0m3.5 0h0m2.2 0h0m-7.9 0.1h0m0.2 0.1h0m4.8 0h0m-3.6 0.2h0m9.1 0h0m-8.7 0.2h0m2.5 0h0m4.1 0h0m-11.3 0.1h0m10.4 0h0m-7 0.1h0m4.8 0h0m-5.3 0.2h0m1.1 0h0m6.8 0.1h0m-5.3 0.1h0m2.4 0h0m-6.1 0.1h0m0.5 0h0m3.7 0h0m5.6 0h0m0.6 0.1h0m-7.3 0.3h0m6.4 0.1h0m-2.6 0.1h0m1.3 0h0m-7.9 0.1h0m5.4 0h0m-0.8 0.2h0m4.3 0h0m-9.3 0.1h0m0.3 0h0m4.4 0h0m3.6 0h0m1.6 0.1h0m-9.9 0.1h0m2.5 0.2h0m4.6 0h0m1.4 0h0m-7.3 0.1h0m5.1 0h0m3.2 0h0m-0.1 0.1h0m2.1 0h0m-4.7 0.3h0m-7.5 0.1h0m6 0h0m0.9 0h0m-4.9 0.2h0m4.8 0h0m-5.7 0.1h0m11 0.1h0m-11.4 0.1h0m1.9 0h0m0.3 0.1h0m8.4 0h0m-9 0.1h0m2.4 0h0m-3.7 0.1h0m5.3 0h0m-0.1 0.1h0m-3.4 0.2h0m4.7 0h0m2.5 0h0m-1.3 0.2h0m2.6 0h0m-10.3 0.2h0m2 0h0m-0.7 0.1h0m4.5 0.2h0m2.1 0h0m1.8 0h0m-8.8 0.3h0m-0.5 0.2h0m0.4 0h0m8.4 0h0m-3.3 0.2h0m0.3 0.2h0m1.5 0h0m-4 0.2h0m4.8 0.2h0m-3.7 0.1h0m-3.8 0.2h0m2.4 0.3h0m5.9 0h0m-2.5 0.1h0m-0.9 0.1h0m2.2 0.2h0m-2.5 0.3h0m0.9 0h0m-3.7 0.4h0m5.5 0h0m-2.4 0.3h0m2.1 0.5h0m-2.8 1.9h0m0 0h0m-0.4 0.3h0"/><path stroke="#3c82c6" stroke-width="2.1" stroke-linecap="round" fill="none" d="M487.5 905.4h0m-1 8.7h0m1 4h0m1.5 1.7h0m-1.2 1.7h0m1.1 1.6h0m-1.6 2h0m1 2.5h0m1.8 2.3h0m0.7 0h0m-6.4 0.6h0m3.3 0.2h0m0.6 0.4h0m0.2 1.5h0m1.5 0.1h0m0.7 1.2h0m-5.1 0.2h0m1.6 0h0m-0.7 0.1h0m1 0.8h0m3.2 0h0m-8 0.4h0m1.2 0.1h0m-1.3 0.3h0m6.4 0h0m1.1 0.1h0m0 0h0m-2.9 0.8h0m3.6 0.1h0m-2.5 0.4h0m-1.8 0.7h0m-1.1 0.3h0m2.3 0.3h0m4 0.3h0m-7.4 0.6h0m3.1 0.1h0m2.3 0h0m-2.1 0.2h0m0.1 0.4h0m-4.7 0.2h0m6.7 0h0m-5.2 0.2h0m1.7 0.1h0m-2.3 0.1h0m2.5 0.3h0m-2.4 0.2h0m6.4 0.1h0m-2.6 0.9h0m2.1 0.1h0m-7 0.3h0m1 0.1h0m5.4 0h0m-5 0.1h0m3.8 0.2h0m3.3 0h0m1.1 0h0m-4 0.4h0m-4.2 0.2h0m8.4 0.2h0m0.2 0h0m-10.5 0.1h0m1.6 0.3h0m8.7 0.4h0m-11.6 0.3h0m5.8 0h0m1 0h0m-9.1 0.1h0m6.6 0.2h0m7.3 0h0m-6.4 0.1h0m6.1 0h0m3.3 0.2h0m-6.8 0.2h0m2.7 0.2h0m-11.9 0.2h0m10.1 0.1h0m2.7 0.1h0m-5.7 0.1h0m-7.5 0.2h0m3.8 0h0m4.9 0h0m8.4 0h0m-6 0.1h0m2.7 0.4h0m-6.5 0.1h0m-0.6 0.1h0m2.6 0.2h0m-3 0.1h0m2.7 0h0m0.5 0.1h0m-4.7 0.2h0m2.3 0.5h0m-2.1 0.1h0m6.4 0.5h0m-3.5 0.2h0m0 0h0m6.1 0h0m-8.9 0.3h0m3.9 0.1h0m2.8 0.1h0m-2.6 0.2h0m4.3 0.2h0m0.9 0h0m-10.1 0.2h0m6.5 0h0m-1 0.1h0m-8.1 0.2h0m15.6 0.2h0m-11.8 0.1h0m11.9 0h0m-8.4 0.2h0m7.8 0.1h0m-16.6 0.1h0m2.3 0h0m8.9 0h0m-10.6 0.2h0m1.2 0h0m10 0h0m4.5 0h0m-16 0.1h0m12.8 0h0m2.1 0.1h0m-10.2 0.5h0m-3 0.1h0m2.7 0h0m-4.7 0.3h0m11.5 0h0m2 0.3h0m-10.4 0.4h0m2.9 0h0m-2 0.2h0m0.8 0.2h0m5.9 0h0m0.1 0.2h0m-5.6 0.3h0m6 0.1h0m-8.9 0.3h0m1.1 0h0m4.3 0h0m0.5 0.3h0m1.1 0.1h0m5.1 0.1h0m-13.4 0.4h0m2.3 0h0m11.7 0h0m-10.6 0.1h0m-1 0.1h0m6.5 0h0m2.9 0.1h0m2.5 0h0m-6.7 0.1h0m-5.8 0.2h0m11.5 0.1h0m-7.9 0.1h0m-0.4 0.2h0m6.7 0h0m-9.6 0.1h0m6.4 0h0m2.8 0h0m-11.8 0.2h0m12 0h0m-9.5 0.1h0m0.9 0h0m-3.5 0.1h0m0.9 0h0m3.9 0h0m5.4 0h0m1.6 0h0m-12.5 0.2h0m12.1 0h0m1.1 0.2h0m-12.9 0.2h0m5.4 0h0m-3.1 0.1h0m10.5 0.1h0m-7.8 0.3h0m-1.2 0.5h0m3.6 0h0m-3.3 0.1h0m3.8 0h0m8.7 0h0m-15.7 0.1h0m14.1 0.1h0m-10.4 0.1h0m-2.7 0.1h0m4.5 0h0m-5.7 0.2h0m16.3 0.1h0m-12.2 0.1h0m9.2 0h0m-9.7 0.1h0m5.2 0.2h0m2.1 0h0m2.3 0.4h0m-2.1 0.2h0m-4 0.2h0m3 0h0m-4.8 0.2h0m-2.4 0.2h0m-0.4 0.1h0m6.3 0h0m-5.3 0.1h0m9.9 0.1h0m-11.6 0.1h0m5.4 0h0m-4.2 0.4h0m6.2 0.1h0m3.8 0h0m-6.9 0.1h0m8.2 0.1h0m-0.4 0.2h0m-7.4 0.2h0m-0.1 0.1h0m1 0.2h0m3.6 0.3h0m-2.6 0.1h0m1.4 0h0m-4.7 0.1h0m-3.3 0.6h0m3.1 0.3h0m1.8 0h0m5.8 0h0m-0.4 0.1h0m-8.6 0.3h0m5.2 0.6h0m-0.5 0.4h0m-5.8 0.3h0m1.1 0h0m1.3 0.1h0m5 0h0m-5.5 0.1h0m3.9 0.3h0m-3.3 0.4h0m-1.2 0.2h0m0.7 0.2h0m0.5 0.1h0m-0.3 0.7h0m-0.3 0.2h0m1.8 2.5h0m1 0h0"/><path stroke="#a424e8" stroke-width="2.1" stroke-linecap="round" fill="none" d="M512.5 911.8h0m-0.8 15.7h0m-0.7 0.5h0m2 1.4h0m-1.2 2.2h0m-0.6 1.5h0m2.9 1.8h0m1.6 0.5h0m-3.5 0.5h0m2.9 0.1h0m-3.8 0.1h0m3.1 0.3h0m-1.1 0.2h0m1.2 0.5h0m0.6 1h0m-3.1 0.3h0m1.7 0.8h0m-3.3 1.4h0m1.3 0.3h0m0.1 0.3h0m3.2 0.5h0m0.5 0.2h0m-1.1 0.2h0m-3.4 0.6h0m1.3 0h0m-2.4 1.2h0m4 0.4h0m-0.6 0.1h0m-1.8 0.6h0m-2 0.2h0m6.8 0h0m-4.1 0.2h0m4.2 0.2h0m-4.7 0.3h0m-1.4 0.2h0m-0.6 0.1h0m-0.8 0.3h0m7.4 0.2h0m-6.5 0.1h0m4.1 0.1h0m-4.5 0.3h0m-0.4 0.1h0m2.1 0.1h0m2.8 0.4h0m2.8 0h0m0.5 0h0m-4 0.4h0m-2 0.1h0m0.1 0h0m3.2 0.1h0m-2.5 0.3h0m-2.5 0.3h0m4.4 0.5h0m-4.1 0.1h0m2.9 0h0m2.7 0.1h0m-1.2 0.2h0m-4.9 0.2h0m2.9 0.2h0m2.9 0h0m-0.5 0.8h0m-4.3 0.1h0m5.8 0h0m1.3 0.1h0m-3.4 0.1h0m-1.7 0.1h0m0.4 0h0m0.6 0.3h0m3.7 0.1h0m-0.1 0.1h0m-4.9 0.1h0m-1.5 0.1h0m3.4 0h0m4.6 0h0m-1.4 0.1h0m-5.9 0.2h0m-1 0.2h0m5.9 0h0m1.2 0h0m-2.2 0.1h0m3.5 0h0m-7.2 0.2h0m5.3 0h0m-7.9 0.1h0m6.9 0h0m2.7 0.1h0m-5.4 0.2h0m-3.6 0.2h0m4.2 0.1h0m-6 0.2h0m6 0h0m2.2 0h0m0.6 0h0m-8 0.1h0m7.4 0h0m-0.7 0.1h0m3.1 0h0m-7.6 0.3h0m3.7 0h0m-6.6 0.1h0m10.8 0h0m-9.8 0.1h0m2.9 0.1h0m3.3 0h0m-3.2 0.1h0m1.3 0h0m-2.3 0.2h0m4.5 0h0m1.6 0h0m-9.9 0.1h0m5 0h0m4.3 0h0m-0.8 0.3h0m3.4 0.2h0m-12.3 0.1h0m8.2 0h0m0.6 0.1h0m-1.2 0.1h0m2 0h0m-3.7 0.2h0m-2.3 0.2h0m2.3 0.1h0m-3.8 0.2h0m-0.2 0.1h0m0.6 0.1h0m0.4 0.1h0m2.1 0h0m2.5 0h0m1.1 0.1h0m-4.9 0.1h0m5.4 0.1h0m-5.1 0.1h0m4.7 0.3h0m2.7 0h0m-8.2 0.2h0m-1.6 0.1h0m3.8 0h0m3.7 0h0m-7.6 0.1h0m4.1 0.1h0m2.1 0h0m-4.2 0.2h0m-2.1 0.2h0m7.2 0h0m-6.2 0.1h0m4.1 0h0m-4.3 0.1h0m6.9 0h0m-4 0.1h0m1 0h0m4.6 0.2h0m-6.3 0.1h0m4.9 0.1h0m-8.5 0.2h0m11.5 0.1h0m-10.3 0.1h0m1.6 0h0m1.3 0h0m4.2 0h0m-10.7 0.1h0m13.6 0h0m-9.6 0.1h0m11.7 0h0m-9 0.1h0m9.3 0h0m-6.3 0.1h0m-10 0.2h0m0.6 0h0m7.6 0.1h0m2.8 0h0m5.2 0h0m-6.2 0.2h0m-8.2 0.2h0m4.2 0h0m4 0h0m1.8 0h0m-8.1 0.1h0m8.5 0h0m1.7 0h0m0.4 0h0m-13.7 0.1h0m0.3 0h0m10.4 0h0m5.9 0h0m-17.4 0.1h0m10.2 0h0m7.1 0h0m-16 0.1h0m2 0.1h0m6.5 0.1h0m1.4 0h0m-0.2 0.1h0m1.8 0h0m-1.6 0.1h0m-1.7 0.1h0m0.5 0h0m2.3 0.2h0m-4.4 0.1h0m3.3 0.3h0m1.6 0.2h0m-0.6 0.2h0m-0.6 0.3h0m-7.6 0.1h0m2.9 0h0m-1 0.2h0m2.5 0h0m0.6 0h0m0.7 0h0m1.8 0h0m0.4 0.1h0m-3.8 0.1h0m4.2 0h0m-5.9 0.2h0m3.7 0h0m-1.5 0.1h0m-2.7 0.1h0m4.9 0h0m4.1 0.1h0m-11.6 0.1h0m4.9 0h0m6.2 0.1h0m-6.9 0.1h0m4 0.2h0m0.9 0h0m-0.6 0.1h0m2.2 0.3h0m-6.1 0.1h0m2.6 0h0m0.7 0h0m2.9 0.1h0m0.2 0h0m-7.5 0.1h0m2.4 0h0m1.8 0h0m-6.5 0.1h0m0.7 0h0m5.8 0.3h0m1.2 0h0m-1.1 0.1h0m-2.6 0.4h0m-1.7 0.3h0m-0.2 0.1h0m0.3 0.1h0m1 0h0m4 0h0m-2 0.1h0m-4.6 0.4h0m7.8 0h0m-8.5 0.2h0m4.8 0h0m0.2 0h0m-4.1 0.1h0m2.9 0h0m4.8 0.1h0m0.2 0.1h0m-5.4 0.2h0m-1.4 0.1h0m6.5 0h0m-8 0.2h0m4.8 0.5h0m1.7 0.1h0m-0.3 0.1h0m-6.2 0.3h0m1.6 0.1h0m1.9 0.1h0m-2.9 0.4h0m0 1.1h0m0.6 0.5h0m3.8 0.1h0m-1.3 1.5h0"/><line x1="451" y1="954.7" x2="475" y2="954.7" stroke="#111" stroke-width="1.1" /><line x1="463" y1="966.5" x2="463" y2="943" stroke="#111" stroke-width="0.9" /><line x1="457.5" y1="966.5" x2="468.5" y2="966.5" stroke="#111" stroke-width="0.9" /><line x1="457.5" y1="943" x2="468.5" y2="943" stroke="#111" stroke-width="0.9" /><line x1="475.7" y1="950.6" x2="499.7" y2="950.6" stroke="#111" stroke-width="1.1" /><line x1="487.7" y1="968.1" x2="487.7" y2="933" stroke="#111" stroke-width="0.9" /><line x1="482.2" y1="968.1" x2="493.2" y2="968.1" stroke="#111" stroke-width="0.9" /><line x1="482.2" y1="933" x2="493.2" y2="933" stroke="#111" stroke-width="0.9" /><line x1="501" y1="957.3" x2="525" y2="957.3" stroke="#111" stroke-width="1.1" /><line x1="513" y1="969.8" x2="513" y2="945.5" stroke="#111" stroke-width="0.9" /><line x1="507.5" y1="969.8" x2="518.5" y2="969.8" stroke="#111" stroke-width="0.9" /><line x1="507.5" y1="945.5" x2="518.5" y2="945.5" stroke="#111" stroke-width="0.9" /><line x1="446.4" y1="851" x2="446.4" y2="976.5" stroke="#111" stroke-width="1" /><line x1="446.4" y1="976.5" x2="529.8" y2="976.5" stroke="#111" stroke-width="1" /><line x1="441.8" y1="976.5" x2="446.4" y2="976.5" stroke="#111" stroke-width="0.9" /><text x="439.8" y="979.6" font-size="8.8" text-anchor="end" fill="#111">0</text><line x1="441.8" y1="934.7" x2="446.4" y2="934.7" stroke="#111" stroke-width="0.9" /><text x="439.8" y="937.8" font-size="8.8" text-anchor="end" fill="#111">50</text><line x1="441.8" y1="892.8" x2="446.4" y2="892.8" stroke="#111" stroke-width="0.9" /><text x="439.8" y="895.9" font-size="8.8" text-anchor="end" fill="#111">100</text><line x1="441.8" y1="851" x2="446.4" y2="851" stroke="#111" stroke-width="0.9" /><text x="439.8" y="854.1" font-size="8.8" text-anchor="end" fill="#111">150</text><line x1="444.6" y1="955.6" x2="446.4" y2="955.6" stroke="#111" stroke-width="0.7" /><line x1="444.6" y1="913.8" x2="446.4" y2="913.8" stroke="#111" stroke-width="0.7" /><line x1="444.6" y1="871.9" x2="446.4" y2="871.9" stroke="#111" stroke-width="0.7" /><line x1="463" y1="976.5" x2="463" y2="979.5" stroke="#111" stroke-width="0.9" /><line x1="487.7" y1="976.5" x2="487.7" y2="979.5" stroke="#111" stroke-width="0.9" /><line x1="513" y1="976.5" x2="513" y2="979.5" stroke="#111" stroke-width="0.9" /><text x="405.3" y="915" font-size="11" text-anchor="middle" transform="rotate(-90 405.3 915)">Distance</text><text x="419.4" y="915" font-size="11" text-anchor="middle" transform="rotate(-90 419.4 915)">(Immunostaining, μm)</text><text x="493.7" y="868" font-size="9.4" text-anchor="middle">N.S.</text><line x1="466" y1="872.8" x2="513" y2="872.8" stroke="#111" stroke-width="0.9" /><text x="477" y="884.5" font-size="11" text-anchor="middle">***</text><line x1="463" y1="885.1" x2="488" y2="885.1" stroke="#111" stroke-width="0.9" /><text x="501.5" y="891.2" font-size="11" text-anchor="middle">***</text><line x1="490" y1="891.8" x2="513" y2="891.8" stroke="#111" stroke-width="0.9" /><text x="466.5" y="993.5" font-size="11.6" text-anchor="end" transform="rotate(-31 466.5 993.5)">WT</text><text x="495.7" y="992.5" font-size="11.6" text-anchor="end" transform="rotate(-31 495.7 992.5)"><tspan font-style="italic">Vglut3</tspan><tspan dy="-4.5" font-size="6.5">-/-</tspan><tspan dy="4.5" font-size="1">&#8203;</tspan></text><text x="532" y="991.5" font-size="11.6" text-anchor="end" transform="rotate(-31 532 991.5)"><tspan font-style="italic">Vglut3</tspan><tspan dy="-4.5" font-size="6.5">-/-</tspan><tspan dy="4.5" font-size="1">&#8203;</tspan>+GT</text><text x="542.3" y="590.2" font-size="16" font-weight="bold">k</text><text x="608.7" y="602.7" font-size="12.2" text-anchor="middle">WT</text><text x="608.5" y="754.2" font-size="13" text-anchor="middle"><tspan font-style="italic">Vglut3</tspan><tspan dy="-4.5" font-size="7">-/-</tspan><tspan dy="4.5" font-size="1">&#8203;</tspan></text><text x="608.6" y="904.2" font-size="13" text-anchor="middle"><tspan font-style="italic">Vglut3</tspan><tspan dy="-4.5" font-size="7">-/-</tspan><tspan dy="4.5" font-size="1">&#8203;</tspan>+GT</text><path d="M655.4 669.6Q627.5 640.1 590.4 623.6" stroke="#58d09a" stroke-width="1" stroke-opacity="0.72" fill="none"/><path d="M655.4 669.6Q635.6 640 606 620.2" stroke="#58d09a" stroke-width="1" stroke-opacity="0.72" fill="none"/><path d="M655.4 669.6Q642.8 642.8 620.9 623" stroke="#58d09a" stroke-width="2" stroke-opacity="0.72" fill="none"/><path d="M655.4 669.6Q649.3 648 635.3 630.4" stroke="#58d09a" stroke-width="2" stroke-opacity="0.72" fill="none"/><path d="M655.4 669.6Q653.7 654.6 646.3 641.4" stroke="#58d09a" stroke-width="2" stroke-opacity="0.72" fill="none"/><path d="M655.4 669.6Q655.8 662.3 653.3 655.4" stroke="#58d09a" stroke-width="2" stroke-opacity="0.72" fill="none"/><path d="M655.4 669.6Q656 678.3 653.3 686.5" stroke="#58d09a" stroke-width="0.6" stroke-opacity="0.72" fill="none"/><path d="M655.4 669.6Q653.9 685.9 646.3 700.3" stroke="#58d09a" stroke-width="0.8" stroke-opacity="0.72" fill="none"/><path d="M655.4 669.6Q649.5 692.5 635.3 711.3" stroke="#58d09a" stroke-width="0.8" stroke-opacity="0.72" fill="none"/><path d="M655.4 669.6Q643.3 697.3 621.5 718.3" stroke="#58d09a" stroke-width="1.5" stroke-opacity="0.72" fill="none"/><path d="M655.4 669.6Q635.8 700.2 606 721" stroke="#58d09a" stroke-width="3.5" stroke-opacity="0.72" fill="none"/><path d="M655.4 669.6Q627.8 700.5 590.4 718.3" stroke="#58d09a" stroke-width="4.5" stroke-opacity="0.72" fill="none"/><path d="M655.4 669.6Q620 698.1 576.4 710.8" stroke="#58d09a" stroke-width="4" stroke-opacity="0.72" fill="none"/><path d="M655.4 669.6Q613.5 694 565.4 700.3" stroke="#58d09a" stroke-width="3.5" stroke-opacity="0.72" fill="none"/><path d="M655.4 669.6Q608.4 687.6 558 686.1" stroke="#58d09a" stroke-width="4" stroke-opacity="0.72" fill="none"/><path d="M655.4 669.6Q605.6 680.1 555.9 670.6" stroke="#58d09a" stroke-width="5" stroke-opacity="0.72" fill="none"/><path d="M655.4 669.6Q608.4 652.8 558.6 655.4" stroke="#58d09a" stroke-width="4.5" stroke-opacity="0.72" fill="none"/><path d="M655.4 669.6Q613.2 646.5 565.4 641.4" stroke="#58d09a" stroke-width="3" stroke-opacity="0.72" fill="none"/><path d="M578.1 630.4Q583.6 625.8 590.4 623.6" stroke="#9a6cbc" stroke-width="1" stroke-opacity="0.78" fill="none"/><path d="M578.1 630.4Q591 622.5 606 620.2" stroke="#9a6cbc" stroke-width="2" stroke-opacity="0.78" fill="none"/><path d="M578.1 630.4Q598.8 622.4 620.9 623" stroke="#9a6cbc" stroke-width="3" stroke-opacity="0.78" fill="none"/><path d="M578.1 630.4Q606.7 624.7 635.3 630.4" stroke="#9a6cbc" stroke-width="4" stroke-opacity="0.78" fill="none"/><path d="M578.1 630.4Q613.3 629.1 646.3 641.4" stroke="#9a6cbc" stroke-width="3" stroke-opacity="0.78" fill="none"/><path d="M578.1 630.4Q618.2 635.4 653.3 655.4" stroke="#9a6cbc" stroke-width="4" stroke-opacity="0.78" fill="none"/><path d="M578.1 630.4Q621.3 650.9 653.3 686.5" stroke="#9a6cbc" stroke-width="0.8" stroke-opacity="0.78" fill="none"/><path d="M578.1 630.4Q619.2 658.5 646.3 700.3" stroke="#9a6cbc" stroke-width="1.2" stroke-opacity="0.78" fill="none"/><path d="M578.1 630.4Q606.7 680.8 635.3 711.3" stroke="#9a6cbc" stroke-width="0.8" stroke-opacity="0.78" fill="none"/><path d="M578.1 630.4Q591 678.7 621.5 718.3" stroke="#9a6cbc" stroke-width="0.8" stroke-opacity="0.78" fill="none"/><path d="M578.1 630.4Q583 678.5 606 721" stroke="#9a6cbc" stroke-width="0.8" stroke-opacity="0.78" fill="none"/><path d="M578.1 630.4Q575.5 675.6 590.4 718.3" stroke="#9a6cbc" stroke-width="4.5" stroke-opacity="0.78" fill="none"/><path d="M578.1 630.4Q569.2 670.4 576.4 710.8" stroke="#9a6cbc" stroke-width="3" stroke-opacity="0.78" fill="none"/><path d="M578.1 630.4Q564.8 664.1 565.4 700.3" stroke="#9a6cbc" stroke-width="2.5" stroke-opacity="0.78" fill="none"/><path d="M578.1 630.4Q562.5 656.2 558 686.1" stroke="#9a6cbc" stroke-width="1" stroke-opacity="0.78" fill="none"/><path d="M578.1 630.4Q563 648.3 555.9 670.6" stroke="#9a6cbc" stroke-width="3.5" stroke-opacity="0.78" fill="none"/><path d="M578.1 630.4Q565.9 640.9 558.6 655.4" stroke="#9a6cbc" stroke-width="3" stroke-opacity="0.78" fill="none"/><path d="M578.1 630.4Q570.6 634.6 565.4 641.4" stroke="#9a6cbc" stroke-width="2.5" stroke-opacity="0.78" fill="none"/><path d="M578.1 630.4Q620.7 642.3 655.4 669.6" stroke="#9a6cbc" stroke-width="4.5" stroke-opacity="0.8" fill="none"/><path d="M578.1 630.4C551.1 616.4 569.1 600.4 578.1 630.4" stroke="#9a6cbc" stroke-width="4.5" stroke-opacity="0.8" fill="none"/><path d="M655.4 669.6C669.4 657.6 675.4 679.6 655.4 669.6" stroke="#58d09a" stroke-width="3.5" stroke-opacity="0.75" fill="none"/><circle cx="590.4" cy="623.6" r="1.8" fill="#c8a040"/><circle cx="606" cy="620.2" r="2" fill="#f0f040"/><circle cx="620.9" cy="623" r="5" fill="#c8f0a8"/><circle cx="635.3" cy="630.4" r="1.8" fill="#8a88f0"/><circle cx="646.3" cy="641.4" r="1.8" fill="#70f0f0"/><circle cx="653.3" cy="655.4" r="2" fill="#f07820"/><circle cx="653.3" cy="686.5" r="1.3" fill="#b0f8f8"/><circle cx="646.3" cy="700.3" r="1.8" fill="#f06a20"/><circle cx="635.3" cy="711.3" r="1.3" fill="#a8c8f0"/><circle cx="621.5" cy="718.3" r="1.8" fill="#d0f040"/><circle cx="606" cy="721" r="1.3" fill="#80b0f0"/><circle cx="590.4" cy="718.3" r="2" fill="#e0f060"/><circle cx="576.4" cy="710.8" r="4.2" fill="#f060e0"/><circle cx="565.4" cy="700.3" r="1.8" fill="#40e040"/><circle cx="558" cy="686.1" r="3.5" fill="#f09070"/><circle cx="555.9" cy="670.6" r="2" fill="#4060f0"/><circle cx="558.6" cy="655.4" r="1.8" fill="#60e0c0"/><circle cx="565.4" cy="641.4" r="1.8" fill="#f03020"/><circle cx="578.1" cy="630.4" r="2.6" fill="#8a58a8"/><circle cx="655.4" cy="669.6" r="2.6" fill="#50c890"/><text x="548.9" y="627.2" font-size="8.4">SBCs</text><text x="661.2" y="674.2" font-size="8.4">GBCs</text><text x="578" y="625" font-size="5.1" transform="rotate(-31 578 625)">Vertical cells</text><text x="600" y="616" font-size="5.1">UBCs</text><text x="614" y="628.3" font-size="5.1" transform="rotate(-30 614 628.3)">Granule cells</text><text x="636.3" y="638.9" font-size="5.1" transform="rotate(-30 636.3 638.9)">Fusiform cells</text><text x="644.8" y="647.3" font-size="5.1">Octopus cells</text><text x="649" y="661.7" font-size="5.1">T-stellate cells</text><text x="657.5" y="689.3" font-size="5.1">VLMCs</text><text x="645.8" y="706.6" font-size="5.1">Fibroblasts</text><text x="634.2" y="718.3" font-size="5.1">Pericyte</text><text x="620.4" y="728.2" font-size="5.1">VECs</text><text x="599.3" y="728.2" font-size="5.1">Microglia</text><text x="583.4" y="725.2" font-size="5.1">OPCs</text><text x="564.3" y="720.4" font-size="5.1">Astrocytes</text><text x="555.9" y="706.6" font-size="5.1">Oligo_2</text><text x="548" y="693.5" font-size="5.1">Oligo_1</text><text x="540" y="680.1" font-size="5.1">Cartwheel cells</text><text x="542.5" y="661.7" font-size="5.1">Golgi cells</text><text x="549.5" y="641.4" font-size="5.1">ML/L-</text><text x="543.2" y="647.3" font-size="5.1">stellate cells</text><path d="M655.4 820.9Q627.5 791.4 590.4 774.9" stroke="#58d09a" stroke-width="0.7" stroke-opacity="0.72" fill="none"/><path d="M655.4 820.9Q635.6 791.3 606 771.5" stroke="#58d09a" stroke-width="0.7" stroke-opacity="0.72" fill="none"/><path d="M655.4 820.9Q642.8 794.1 620.9 774.3" stroke="#58d09a" stroke-width="0.7" stroke-opacity="0.72" fill="none"/><path d="M655.4 820.9Q649.3 799.3 635.3 781.7" stroke="#58d09a" stroke-width="0.7" stroke-opacity="0.72" fill="none"/><path d="M655.4 820.9Q653.7 805.9 646.3 792.7" stroke="#58d09a" stroke-width="0.7" stroke-opacity="0.72" fill="none"/><path d="M655.4 820.9Q655.8 813.6 653.3 806.7" stroke="#58d09a" stroke-width="0.7" stroke-opacity="0.72" fill="none"/><path d="M655.4 820.9Q656 829.6 653.3 837.8" stroke="#58d09a" stroke-width="0.7" stroke-opacity="0.72" fill="none"/><path d="M655.4 820.9Q653.9 837.2 646.3 851.6" stroke="#58d09a" stroke-width="0.7" stroke-opacity="0.72" fill="none"/><path d="M655.4 820.9Q649.5 843.8 635.3 862.6" stroke="#58d09a" stroke-width="0.7" stroke-opacity="0.72" fill="none"/><path d="M655.4 820.9Q643.3 848.6 621.5 869.6" stroke="#58d09a" stroke-width="0.7" stroke-opacity="0.72" fill="none"/><path d="M655.4 820.9Q635.8 851.5 606 872.3" stroke="#58d09a" stroke-width="0.7" stroke-opacity="0.72" fill="none"/><path d="M655.4 820.9Q627.8 851.8 590.4 869.6" stroke="#58d09a" stroke-width="0.7" stroke-opacity="0.72" fill="none"/><path d="M655.4 820.9Q620 849.4 576.4 862.1" stroke="#58d09a" stroke-width="0.7" stroke-opacity="0.72" fill="none"/><path d="M655.4 820.9Q613.5 845.2 565.4 851.6" stroke="#58d09a" stroke-width="0.7" stroke-opacity="0.72" fill="none"/><path d="M655.4 820.9Q608.4 838.9 558 837.4" stroke="#58d09a" stroke-width="0.7" stroke-opacity="0.72" fill="none"/><path d="M655.4 820.9Q605.6 831.4 555.9 821.9" stroke="#58d09a" stroke-width="0.7" stroke-opacity="0.72" fill="none"/><path d="M655.4 820.9Q608.4 804.1 558.6 806.7" stroke="#58d09a" stroke-width="0.7" stroke-opacity="0.72" fill="none"/><path d="M655.4 820.9Q613.2 797.8 565.4 792.7" stroke="#58d09a" stroke-width="0.7" stroke-opacity="0.72" fill="none"/><path d="M578.1 781.7Q583.6 777.1 590.4 774.9" stroke="#9a6cbc" stroke-width="0.6" stroke-opacity="0.78" fill="none"/><path d="M578.1 781.7Q591 773.8 606 771.5" stroke="#9a6cbc" stroke-width="0.6" stroke-opacity="0.78" fill="none"/><path d="M578.1 781.7Q598.8 773.7 620.9 774.3" stroke="#9a6cbc" stroke-width="0.6" stroke-opacity="0.78" fill="none"/><path d="M578.1 781.7Q606.7 776 635.3 781.7" stroke="#9a6cbc" stroke-width="0.9" stroke-opacity="0.78" fill="none"/><path d="M578.1 781.7Q613.3 780.4 646.3 792.7" stroke="#9a6cbc" stroke-width="0.6" stroke-opacity="0.78" fill="none"/><path d="M578.1 781.7Q618.2 786.7 653.3 806.7" stroke="#9a6cbc" stroke-width="0.6" stroke-opacity="0.78" fill="none"/><path d="M578.1 781.7Q621.3 802.2 653.3 837.8" stroke="#9a6cbc" stroke-width="0.6" stroke-opacity="0.78" fill="none"/><path d="M578.1 781.7Q619.2 809.8 646.3 851.6" stroke="#9a6cbc" stroke-width="0.6" stroke-opacity="0.78" fill="none"/><path d="M578.1 781.7Q606.7 832.1 635.3 862.6" stroke="#9a6cbc" stroke-width="0.6" stroke-opacity="0.78" fill="none"/><path d="M578.1 781.7Q591 830 621.5 869.6" stroke="#9a6cbc" stroke-width="0.6" stroke-opacity="0.78" fill="none"/><path d="M578.1 781.7Q583 829.8 606 872.3" stroke="#9a6cbc" stroke-width="0.6" stroke-opacity="0.78" fill="none"/><path d="M578.1 781.7Q575.5 826.9 590.4 869.6" stroke="#9a6cbc" stroke-width="0.9" stroke-opacity="0.78" fill="none"/><path d="M578.1 781.7Q569.2 821.7 576.4 862.1" stroke="#9a6cbc" stroke-width="0.9" stroke-opacity="0.78" fill="none"/><path d="M578.1 781.7Q564.8 815.4 565.4 851.6" stroke="#9a6cbc" stroke-width="0.6" stroke-opacity="0.78" fill="none"/><path d="M578.1 781.7Q562.5 807.5 558 837.4" stroke="#9a6cbc" stroke-width="0.6" stroke-opacity="0.78" fill="none"/><path d="M578.1 781.7Q563 799.6 555.9 821.9" stroke="#9a6cbc" stroke-width="0.6" stroke-opacity="0.78" fill="none"/><path d="M578.1 781.7Q565.9 792.2 558.6 806.7" stroke="#9a6cbc" stroke-width="0.6" stroke-opacity="0.78" fill="none"/><path d="M578.1 781.7Q570.6 785.9 565.4 792.7" stroke="#9a6cbc" stroke-width="0.6" stroke-opacity="0.78" fill="none"/><path d="M578.1 781.7Q620.7 793.6 655.4 820.9" stroke="#9a6cbc" stroke-width="0.6" stroke-opacity="0.8" fill="none"/><path d="M578.1 781.7C551.1 767.7 569.1 751.7 578.1 781.7" stroke="#9a6cbc" stroke-width="0.8" stroke-opacity="0.8" fill="none"/><path d="M655.4 820.9C669.4 808.9 675.4 830.9 655.4 820.9" stroke="#58d09a" stroke-width="0.8" stroke-opacity="0.75" fill="none"/><circle cx="590.4" cy="774.9" r="1.8" fill="#c8a040"/><circle cx="606" cy="771.5" r="2" fill="#f0f040"/><circle cx="620.9" cy="774.3" r="4.6" fill="#c8f0a8"/><circle cx="635.3" cy="781.7" r="1.6" fill="#8a88f0"/><circle cx="646.3" cy="792.7" r="1.6" fill="#70f0f0"/><circle cx="653.3" cy="806.7" r="2" fill="#f07820"/><circle cx="653.3" cy="837.8" r="1.3" fill="#b0f8f8"/><circle cx="646.3" cy="851.6" r="1.6" fill="#f06a20"/><circle cx="635.3" cy="862.6" r="1.3" fill="#a8c8f0"/><circle cx="621.5" cy="869.6" r="1.8" fill="#d0f040"/><circle cx="606" cy="872.3" r="1.3" fill="#80b0f0"/><circle cx="590.4" cy="869.6" r="1.8" fill="#e0f060"/><circle cx="576.4" cy="862.1" r="3.8" fill="#f060e0"/><circle cx="565.4" cy="851.6" r="1.6" fill="#40e040"/><circle cx="558" cy="837.4" r="3.4" fill="#f09070"/><circle cx="555.9" cy="821.9" r="2" fill="#4060f0"/><circle cx="558.6" cy="806.7" r="1.6" fill="#60e0c0"/><circle cx="565.4" cy="792.7" r="1.8" fill="#f03020"/><circle cx="578.1" cy="781.7" r="2.6" fill="#8a58a8"/><circle cx="655.4" cy="820.9" r="2.6" fill="#50c890"/><text x="548.9" y="778.5" font-size="8.4">SBCs</text><text x="661.2" y="825.5" font-size="8.4">GBCs</text><text x="578" y="776.3" font-size="5.1" transform="rotate(-31 578 776.3)">Vertical cells</text><text x="600" y="767.3" font-size="5.1">UBCs</text><text x="614" y="779.6" font-size="5.1" transform="rotate(-30 614 779.6)">Granule cells</text><text x="636.3" y="790.2" font-size="5.1" transform="rotate(-30 636.3 790.2)">Fusiform cells</text><text x="644.8" y="798.6" font-size="5.1">Octopus cells</text><text x="649" y="813" font-size="5.1">T-stellate cells</text><text x="657.5" y="840.6" font-size="5.1">VLMCs</text><text x="645.8" y="857.9" font-size="5.1">Fibroblasts</text><text x="634.2" y="869.6" font-size="5.1">Pericyte</text><text x="620.4" y="879.5" font-size="5.1">VECs</text><text x="599.3" y="879.5" font-size="5.1">Microglia</text><text x="583.4" y="876.5" font-size="5.1">OPCs</text><text x="564.3" y="871.7" font-size="5.1">Astrocytes</text><text x="555.9" y="857.9" font-size="5.1">Oligo_2</text><text x="548" y="844.8" font-size="5.1">Oligo_1</text><text x="540" y="831.4" font-size="5.1">Cartwheel cells</text><text x="542.5" y="813" font-size="5.1">Golgi cells</text><text x="549.5" y="792.7" font-size="5.1">ML/L-</text><text x="543.2" y="798.6" font-size="5.1">stellate cells</text><path d="M659 970.5Q629.6 940.9 591.1 924.8" stroke="#58d09a" stroke-width="1.5" stroke-opacity="0.72" fill="none"/><path d="M659 970.5Q637.9 940.4 606.9 920.7" stroke="#58d09a" stroke-width="1.5" stroke-opacity="0.72" fill="none"/><path d="M659 970.5Q646 942.3 623.2 921.2" stroke="#58d09a" stroke-width="2" stroke-opacity="0.72" fill="none"/><path d="M659 970.5Q653.2 947.5 639 928.6" stroke="#58d09a" stroke-width="1.5" stroke-opacity="0.72" fill="none"/><path d="M659 970.5Q658.3 954.5 651.5 940" stroke="#58d09a" stroke-width="1.5" stroke-opacity="0.72" fill="none"/><path d="M659 970.5Q660.6 962.4 659 954.2" stroke="#58d09a" stroke-width="1.5" stroke-opacity="0.72" fill="none"/><path d="M659 970.5Q660.6 978.4 659 986.3" stroke="#58d09a" stroke-width="0.6" stroke-opacity="0.72" fill="none"/><path d="M659 970.5Q658.3 986.5 651.5 1001" stroke="#58d09a" stroke-width="0.8" stroke-opacity="0.72" fill="none"/><path d="M659 970.5Q653.2 993.5 639 1012.4" stroke="#58d09a" stroke-width="1.2" stroke-opacity="0.72" fill="none"/><path d="M659 970.5Q646 998.1 623.4 1018.5" stroke="#58d09a" stroke-width="1" stroke-opacity="0.72" fill="none"/><path d="M659 970.5Q638.2 1000.6 607.4 1020.3" stroke="#58d09a" stroke-width="3" stroke-opacity="0.72" fill="none"/><path d="M659 970.5Q629.6 1000.1 591.1 1016.2" stroke="#58d09a" stroke-width="1.5" stroke-opacity="0.72" fill="none"/><path d="M659 970.5Q622 997.3 577.5 1007.8" stroke="#58d09a" stroke-width="1.2" stroke-opacity="0.72" fill="none"/><path d="M659 970.5Q615.5 991.6 567.3 994.3" stroke="#58d09a" stroke-width="1.5" stroke-opacity="0.72" fill="none"/><path d="M659 970.5Q611.1 984.2 561.7 978.4" stroke="#58d09a" stroke-width="3.5" stroke-opacity="0.72" fill="none"/><path d="M659 970.5Q611.1 956.8 561.7 962.6" stroke="#58d09a" stroke-width="3" stroke-opacity="0.72" fill="none"/><path d="M659 970.5Q615.5 949.4 567.3 946.7" stroke="#58d09a" stroke-width="2" stroke-opacity="0.72" fill="none"/><path d="M577.5 933.8Q583.4 927.9 591.1 924.8" stroke="#9a6cbc" stroke-width="1" stroke-opacity="0.78" fill="none"/><path d="M577.5 933.8Q590.9 924.3 606.9 920.7" stroke="#9a6cbc" stroke-width="1.2" stroke-opacity="0.78" fill="none"/><path d="M577.5 933.8Q599.1 922.9 623.2 921.2" stroke="#9a6cbc" stroke-width="2" stroke-opacity="0.78" fill="none"/><path d="M577.5 933.8Q607.7 925.1 639 928.6" stroke="#9a6cbc" stroke-width="2.5" stroke-opacity="0.78" fill="none"/><path d="M577.5 933.8Q615.1 929.5 651.5 940" stroke="#9a6cbc" stroke-width="1.5" stroke-opacity="0.78" fill="none"/><path d="M577.5 933.8Q620.3 935.9 659 954.2" stroke="#9a6cbc" stroke-width="2" stroke-opacity="0.78" fill="none"/><path d="M577.5 933.8Q623.5 951.9 659 986.3" stroke="#9a6cbc" stroke-width="0.6" stroke-opacity="0.78" fill="none"/><path d="M577.5 933.8Q621.2 960 651.5 1001" stroke="#9a6cbc" stroke-width="0.8" stroke-opacity="0.78" fill="none"/><path d="M577.5 933.8Q600.4 979.2 639 1012.4" stroke="#9a6cbc" stroke-width="0.7" stroke-opacity="0.78" fill="none"/><path d="M577.5 933.8Q592 980.7 623.4 1018.5" stroke="#9a6cbc" stroke-width="0.7" stroke-opacity="0.78" fill="none"/><path d="M577.5 933.8Q583.8 980 607.4 1020.3" stroke="#9a6cbc" stroke-width="3" stroke-opacity="0.78" fill="none"/><path d="M577.5 933.8Q576.1 976.4 591.1 1016.2" stroke="#9a6cbc" stroke-width="1.5" stroke-opacity="0.78" fill="none"/><path d="M577.5 933.8Q570.1 970.8 577.5 1007.8" stroke="#9a6cbc" stroke-width="1.2" stroke-opacity="0.78" fill="none"/><path d="M577.5 933.8Q566.4 963 567.3 994.3" stroke="#9a6cbc" stroke-width="1" stroke-opacity="0.78" fill="none"/><path d="M577.5 933.8Q565.1 954.5 561.7 978.4" stroke="#9a6cbc" stroke-width="3" stroke-opacity="0.78" fill="none"/><path d="M577.5 933.8Q566.7 946.6 561.7 962.6" stroke="#9a6cbc" stroke-width="2.5" stroke-opacity="0.78" fill="none"/><path d="M577.5 933.8Q571.1 939.2 567.3 946.7" stroke="#9a6cbc" stroke-width="2" stroke-opacity="0.78" fill="none"/><path d="M577.5 933.8Q621.9 944 659 970.5" stroke="#9a6cbc" stroke-width="2.2" stroke-opacity="0.8" fill="none"/><path d="M577.5 933.8C550.5 919.8 568.5 903.8 577.5 933.8" stroke="#9a6cbc" stroke-width="2.6" stroke-opacity="0.8" fill="none"/><path d="M577.5 933.8C575.5 903.8 591.5 911.8 577.5 933.8" stroke="#9a6cbc" stroke-width="2.6" stroke-opacity="0.8" fill="none"/><path d="M659 970.5C673 958.5 679 980.5 659 970.5" stroke="#58d09a" stroke-width="2.5" stroke-opacity="0.75" fill="none"/><circle cx="591.1" cy="924.8" r="2.2" fill="#c8a040"/><circle cx="606.9" cy="920.7" r="1.6" fill="#f0f040"/><circle cx="623.2" cy="921.2" r="3" fill="#c8f0a8"/><circle cx="639" cy="928.6" r="2.4" fill="#8a88f0"/><circle cx="651.5" cy="940" r="1.5" fill="#70f0f0"/><circle cx="659" cy="954.2" r="2.6" fill="#f07820"/><circle cx="659" cy="986.3" r="1.2" fill="#b0f8f8"/><circle cx="651.5" cy="1001" r="1.6" fill="#f06a20"/><circle cx="639" cy="1012.4" r="1.6" fill="#d0f040"/><circle cx="623.4" cy="1018.5" r="1.3" fill="#80b0f0"/><circle cx="607.4" cy="1020.3" r="1.6" fill="#e0f060"/><circle cx="591.1" cy="1016.2" r="4.5" fill="#f060e0"/><circle cx="577.5" cy="1007.8" r="1.5" fill="#40e040"/><circle cx="567.3" cy="994.3" r="3.5" fill="#f09070"/><circle cx="561.7" cy="978.4" r="3.6" fill="#4060f0"/><circle cx="561.7" cy="962.6" r="1.6" fill="#60e0c0"/><circle cx="567.3" cy="946.7" r="1.8" fill="#f03020"/><circle cx="577.5" cy="933.8" r="2.6" fill="#8a58a8"/><circle cx="659" cy="970.5" r="2.6" fill="#50c890"/><text x="549" y="934.3" font-size="8.4">SBCs</text><text x="660" y="974" font-size="8.4">GBCs</text><text x="584.5" y="923" font-size="5.1" transform="rotate(-30 584.5 923)">Vertical cells</text><text x="600" y="915.5" font-size="5.1" transform="rotate(0 600 915.5)">UBCs</text><text x="617" y="929" font-size="5.1" transform="rotate(-30 617 929)">Granule cells</text><text x="628.5" y="944" font-size="5.1" transform="rotate(-30 628.5 944)">Fusiform cells</text><text x="639.5" y="945.5" font-size="5.1" transform="rotate(0 639.5 945.5)">Octopus cells</text><text x="644" y="961.5" font-size="5.1" transform="rotate(0 644 961.5)">T-stellate cells</text><text x="661" y="991.5" font-size="5.1" transform="rotate(0 661 991.5)">VLMCs</text><text x="650" y="1008.2" font-size="5.1" transform="rotate(0 650 1008.2)">Fibroblasts</text><text x="636" y="1022" font-size="5.1" transform="rotate(0 636 1022)">VECs</text><text x="614.5" y="1025.5" font-size="5.1" transform="rotate(0 614.5 1025.5)">Microglia</text><text x="600" y="1027" font-size="5.1" transform="rotate(0 600 1027)">OPCs</text><text x="574.5" y="1024" font-size="5.1" transform="rotate(0 574.5 1024)">Astrocytes</text><text x="561.5" y="1011.5" font-size="5.1" transform="rotate(0 561.5 1011.5)">Oligo_2</text><text x="549" y="999" font-size="5.1" transform="rotate(0 549 999)">Oligo_1</text><text x="538.5" y="987" font-size="5.1" transform="rotate(0 538.5 987)">Cartwheel cells</text><text x="542" y="968.5" font-size="5.1" transform="rotate(0 542 968.5)">Golgi cells</text><text x="549.5" y="946.3" font-size="5.1" transform="rotate(0 549.5 946.3)">ML/L-</text><text x="542.5" y="952.5" font-size="5.1" transform="rotate(0 542.5 952.5)">stellate cells</text><defs><filter id="fr101" filterUnits="userSpaceOnUse" x="24.8" y="304.3" width="70.8" height="71.1" color-interpolation-filters="sRGB"><feTurbulence type="fractalNoise" baseFrequency="0.05 0.12" numOctaves="3" seed="101"/><feColorMatrix type="matrix" values="0 0 0 0 1.000 0 0 0 0 0.141 0 0 0 0 0.094 5 0 0 0 -2.2"/><feComposite operator="in" in2="SourceGraphic"/></filter><filter id="fb101" filterUnits="userSpaceOnUse" x="24.8" y="304.3" width="70.8" height="71.1" color-interpolation-filters="sRGB"><feTurbulence type="fractalNoise" baseFrequency="0.2" numOctaves="3" seed="112"/><feColorMatrix type="matrix" values="0 0 0 0 0.165 0 0 0 0 0.165 0 0 0 0 1.000 5 0 0 0 -3.2"/><feComposite operator="in" in2="SourceGraphic"/></filter><filter id="fg101" filterUnits="userSpaceOnUse" x="24.8" y="304.3" width="70.8" height="71.1" color-interpolation-filters="sRGB"><feTurbulence type="fractalNoise" baseFrequency="0.25" numOctaves="2" seed="106"/><feColorMatrix type="matrix" values="0 0 0 0 0.227 0 0 0 0 0.227 0 0 0 0 1.000 5 0 0 0 -1.9"/><feComposite operator="in" in2="SourceGraphic"/></filter><filter id="fc101" filterUnits="userSpaceOnUse" x="24.8" y="304.3" width="70.8" height="71.1" color-interpolation-filters="sRGB"><feTurbulence type="fractalNoise" baseFrequency="0.28" numOctaves="2" seed="108"/><feColorMatrix type="matrix" values="0 0 0 0 0.235 0 0 0 0 0.824 0 0 0 0 0.651 5 0 0 0 -1.5"/><feComposite operator="in" in2="SourceGraphic"/></filter><filter id="fr102" filterUnits="userSpaceOnUse" x="99.3" y="304.3" width="70.8" height="71.1" color-interpolation-filters="sRGB"><feTurbulence type="fractalNoise" baseFrequency="0.25" numOctaves="3" seed="102"/><feColorMatrix type="matrix" values="0 0 0 0 1.000 0 0 0 0 0.141 0 0 0 0 0.094 6 0 0 0 -3.6"/><feComposite operator="in" in2="SourceGraphic"/></filter><filter id="fb102" filterUnits="userSpaceOnUse" x="99.3" y="304.3" width="70.8" height="71.1" color-interpolation-filters="sRGB"><feTurbulence type="fractalNoise" baseFrequency="0.18" numOctaves="3" seed="113"/><feColorMatrix type="matrix" values="0 0 0 0 0.165 0 0 0 0 0.165 0 0 0 0 1.000 5 0 0 0 -3.1"/><feComposite operator="in" in2="SourceGraphic"/></filter><filter id="fc102" filterUnits="userSpaceOnUse" x="99.3" y="304.3" width="70.8" height="71.1" color-interpolation-filters="sRGB"><feTurbulence type="fractalNoise" baseFrequency="0.6" numOctaves="2" seed="109"/><feColorMatrix type="matrix" values="0 0 0 0 0.941 0 0 0 0 0.941 0 0 0 0 0.125 7 0 0 0 -3.6"/><feComposite operator="in" in2="SourceGraphic"/></filter><filter id="fr103" filterUnits="userSpaceOnUse" x="24.8" y="377.3" width="70.8" height="70.1" color-interpolation-filters="sRGB"><feTurbulence type="fractalNoise" baseFrequency="0.35" numOctaves="3" seed="103"/><feColorMatrix type="matrix" values="0 0 0 0 0.627 0 0 0 0 0.063 0 0 0 0 0.063 5 0 0 0 -3"/><feComposite operator="in" in2="SourceGraphic"/></filter><filter id="fb103" filterUnits="userSpaceOnUse" x="24.8" y="377.3" width="70.8" height="70.1" color-interpolation-filters="sRGB"><feTurbulence type="fractalNoise" baseFrequency="0.22" numOctaves="3" seed="114"/><feColorMatrix type="matrix" values="0 0 0 0 0.165 0 0 0 0 0.165 0 0 0 0 1.000 5 0 0 0 -3.4"/><feComposite operator="in" in2="SourceGraphic"/></filter><filter id="fg103" filterUnits="userSpaceOnUse" x="24.8" y="377.3" width="70.8" height="70.1" color-interpolation-filters="sRGB"><feTurbulence type="fractalNoise" baseFrequency="0.25" numOctaves="2" seed="108"/><feColorMatrix type="matrix" values="0 0 0 0 0.227 0 0 0 0 0.227 0 0 0 0 1.000 5 0 0 0 -1.9"/><feComposite operator="in" in2="SourceGraphic"/></filter><filter id="fc103" filterUnits="userSpaceOnUse" x="24.8" y="377.3" width="70.8" height="70.1" color-interpolation-filters="sRGB"><feTurbulence type="fractalNoise" baseFrequency="0.3" numOctaves="2" seed="110"/><feColorMatrix type="matrix" values="0 0 0 0 0.235 0 0 0 0 0.824 0 0 0 0 0.651 5 0 0 0 -1.7"/><feComposite operator="in" in2="SourceGraphic"/></filter><filter id="fr104" filterUnits="userSpaceOnUse" x="99.3" y="377.3" width="70.8" height="70.1" color-interpolation-filters="sRGB"><feTurbulence type="fractalNoise" baseFrequency="0.3" numOctaves="3" seed="104"/><feColorMatrix type="matrix" values="0 0 0 0 1.000 0 0 0 0 0.141 0 0 0 0 0.094 6 0 0 0 -4"/><feComposite operator="in" in2="SourceGraphic"/></filter><filter id="fb104" filterUnits="userSpaceOnUse" x="99.3" y="377.3" width="70.8" height="70.1" color-interpolation-filters="sRGB"><feTurbulence type="fractalNoise" baseFrequency="0.2" numOctaves="3" seed="115"/><feColorMatrix type="matrix" values="0 0 0 0 0.165 0 0 0 0 0.165 0 0 0 0 1.000 5 0 0 0 -3.1"/><feComposite operator="in" in2="SourceGraphic"/></filter><filter id="fc104" filterUnits="userSpaceOnUse" x="99.3" y="377.3" width="70.8" height="70.1" color-interpolation-filters="sRGB"><feTurbulence type="fractalNoise" baseFrequency="0.5" numOctaves="2" seed="111"/><feColorMatrix type="matrix" values="0 0 0 0 0.941 0 0 0 0 0.941 0 0 0 0 0.125 6 0 0 0 -2.8"/><feComposite operator="in" in2="SourceGraphic"/></filter><filter id="fr105" filterUnits="userSpaceOnUse" x="24.8" y="449.5" width="70.8" height="69" color-interpolation-filters="sRGB"><feTurbulence type="fractalNoise" baseFrequency="0.04 0.16" numOctaves="3" seed="105"/><feColorMatrix type="matrix" values="0 0 0 0 1.000 0 0 0 0 0.141 0 0 0 0 0.094 5 0 0 0 -2.3"/><feComposite operator="in" in2="SourceGraphic"/></filter><filter id="fb105" filterUnits="userSpaceOnUse" x="24.8" y="449.5" width="70.8" height="69" color-interpolation-filters="sRGB"><feTurbulence type="fractalNoise" baseFrequency="0.2" numOctaves="3" seed="116"/><feColorMatrix type="matrix" values="0 0 0 0 0.165 0 0 0 0 0.165 0 0 0 0 1.000 5 0 0 0 -3.1"/><feComposite operator="in" in2="SourceGraphic"/></filter><filter id="fg105" filterUnits="userSpaceOnUse" x="24.8" y="449.5" width="70.8" height="69" color-interpolation-filters="sRGB"><feTurbulence type="fractalNoise" baseFrequency="0.25" numOctaves="2" seed="110"/><feColorMatrix type="matrix" values="0 0 0 0 0.541 0 0 0 0 0.235 0 0 0 0 1.000 5 0 0 0 -1.9"/><feComposite operator="in" in2="SourceGraphic"/></filter><filter id="fc105" filterUnits="userSpaceOnUse" x="24.8" y="449.5" width="70.8" height="69" color-interpolation-filters="sRGB"><feTurbulence type="fractalNoise" baseFrequency="0.35" numOctaves="2" seed="112"/><feColorMatrix type="matrix" values="0 0 0 0 0.235 0 0 0 0 0.824 0 0 0 0 0.651 5 0 0 0 -1.7"/><feComposite operator="in" in2="SourceGraphic"/></filter><filter id="fr106" filterUnits="userSpaceOnUse" x="99.3" y="449.5" width="70.8" height="69" color-interpolation-filters="sRGB"><feTurbulence type="fractalNoise" baseFrequency="0.25" numOctaves="3" seed="106"/><feColorMatrix type="matrix" values="0 0 0 0 1.000 0 0 0 0 0.141 0 0 0 0 0.094 5 0 0 0 -3.2"/><feComposite operator="in" in2="SourceGraphic"/></filter><filter id="fb106" filterUnits="userSpaceOnUse" x="99.3" y="449.5" width="70.8" height="69" color-interpolation-filters="sRGB"><feTurbulence type="fractalNoise" baseFrequency="0.18" numOctaves="3" seed="117"/><feColorMatrix type="matrix" values="0 0 0 0 0.165 0 0 0 0 0.165 0 0 0 0 1.000 5 0 0 0 -3"/><feComposite operator="in" in2="SourceGraphic"/></filter><filter id="fc106" filterUnits="userSpaceOnUse" x="99.3" y="449.5" width="70.8" height="69" color-interpolation-filters="sRGB"><feTurbulence type="fractalNoise" baseFrequency="0.4" numOctaves="2" seed="113"/><feColorMatrix type="matrix" values="0 0 0 0 0.965 0 0 0 0 0.941 0 0 0 0 0.125 6 0 0 0 -2.2"/><feComposite operator="in" in2="SourceGraphic"/></filter><filter id="fhg" filterUnits="userSpaceOnUse" x="286" y="572.3" width="248" height="207.8" color-interpolation-filters="sRGB"><feTurbulence type="fractalNoise" baseFrequency="0.6" numOctaves="2" seed="21"/><feColorMatrix type="matrix" values="0 0 0 0 0.455 0 0 0 0 0.455 0 0 0 0 0.455 4 0 0 0 -1.7"/><feComposite operator="in" in2="SourceGraphic"/></filter><filter id="fhb" filterUnits="userSpaceOnUse" x="286" y="572.3" width="248" height="207.8" color-interpolation-filters="sRGB"><feTurbulence type="fractalNoise" baseFrequency="0.8" numOctaves="1" seed="23"/><feColorMatrix type="matrix" values="0 0 0 0 0.227 0 0 0 0 0.533 0 0 0 0 0.769 8 0 0 0 -4.9"/><feComposite operator="in" in2="SourceGraphic"/></filter><filter id="fim" filterUnits="userSpaceOnUse" x="9" y="825.7" width="248" height="203.3" color-interpolation-filters="sRGB"><feTurbulence type="fractalNoise" baseFrequency="0.7" numOctaves="1" seed="51"/><feColorMatrix type="matrix" values="0 0 0 0 0.690 0 0 0 0 0.188 0 0 0 0 0.753 6 0 0 0 -3.5"/><feComposite operator="in" in2="SourceGraphic"/></filter><filter id="fic" filterUnits="userSpaceOnUse" x="9" y="825.7" width="248" height="203.3" color-interpolation-filters="sRGB"><feTurbulence type="fractalNoise" baseFrequency="0.9" numOctaves="1" seed="53"/><feColorMatrix type="matrix" values="0 0 0 0 0.251 0 0 0 0 0.753 0 0 0 0 0.816 7 0 0 0 -4.3"/><feComposite operator="in" in2="SourceGraphic"/></filter><filter id="fib" filterUnits="userSpaceOnUse" x="9" y="825.7" width="248" height="203.3" color-interpolation-filters="sRGB"><feTurbulence type="fractalNoise" baseFrequency="0.7" numOctaves="1" seed="55"/><feColorMatrix type="matrix" values="0 0 0 0 0.227 0 0 0 0 0.267 0 0 0 0 0.816 5 0 0 0 -2.7"/><feComposite operator="in" in2="SourceGraphic"/></filter><filter id="fiib" filterUnits="userSpaceOnUse" x="9" y="825.7" width="248" height="203.3" color-interpolation-filters="sRGB"><feTurbulence type="fractalNoise" baseFrequency="0.45" numOctaves="2" seed="61"/><feColorMatrix type="matrix" values="0 0 0 0 0.165 0 0 0 0 0.204 0 0 0 0 0.753 5 0 0 0 -2.7"/><feComposite operator="in" in2="SourceGraphic"/></filter><filter id="fiim" filterUnits="userSpaceOnUse" x="9" y="825.7" width="248" height="203.3" color-interpolation-filters="sRGB"><feTurbulence type="fractalNoise" baseFrequency="0.35" numOctaves="2" seed="63"/><feColorMatrix type="matrix" values="0 0 0 0 0.690 0 0 0 0 0.157 0 0 0 0 0.722 7 0 0 0 -4.2"/><feComposite operator="in" in2="SourceGraphic"/></filter></defs></svg>
</body></html>
